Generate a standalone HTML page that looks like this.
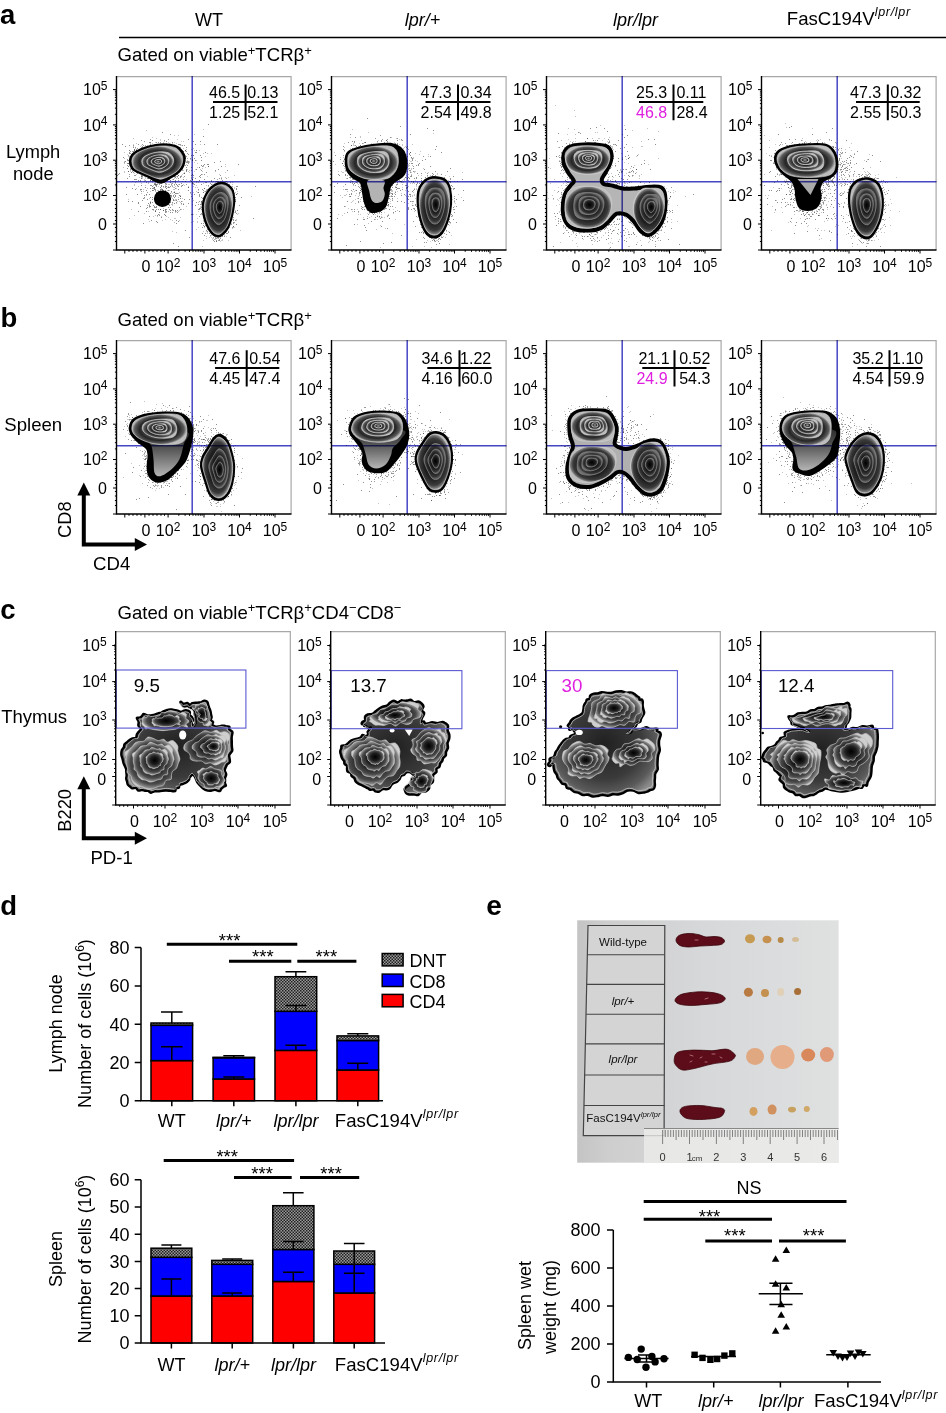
<!DOCTYPE html><html><head><meta charset="utf-8"><style>html,body{margin:0;padding:0;background:#fff;overflow:hidden}svg{display:block}svg text{font-family:"Liberation Sans",sans-serif}</style></head><body>
<svg width="946" height="1413" viewBox="0 0 946 1413" font-family="Liberation Sans, sans-serif">
<defs>
<radialGradient id="zg" cx="50%" cy="50%" r="50%">
<stop offset="0" stop-color="#050505"/><stop offset="0.6" stop-color="#1e1e1e"/><stop offset="0.84" stop-color="#3a3a3a"/><stop offset="0.95" stop-color="#7a7a7a"/><stop offset="1" stop-color="#bdbdbd"/>
</radialGradient>
<radialGradient id="zg2" cx="50%" cy="50%" r="50%">
<stop offset="0" stop-color="#000"/><stop offset="0.6" stop-color="#1a1a1a"/><stop offset="0.85" stop-color="#363636"/><stop offset="1" stop-color="#707070"/>
</radialGradient>
<radialGradient id="zcb" cx="50%" cy="50%" r="55%">
<stop offset="0" stop-color="#202020"/><stop offset="0.6" stop-color="#3a3a3a"/><stop offset="0.85" stop-color="#5a5a5a"/><stop offset="1" stop-color="#8a8a8a"/>
</radialGradient>
<radialGradient id="zl" cx="50%" cy="50%" r="50%">
<stop offset="0" stop-color="#a0a0a0"/><stop offset="0.45" stop-color="#5a5a5a"/><stop offset="0.72" stop-color="#262626"/><stop offset="0.9" stop-color="#5a5a5a"/><stop offset="1" stop-color="#bdbdbd"/>
</radialGradient>
<radialGradient id="zc" cx="50%" cy="50%" r="50%">
<stop offset="0" stop-color="#000"/><stop offset="0.5" stop-color="#1e1e1e"/><stop offset="0.8" stop-color="#4a4a4a"/><stop offset="0.94" stop-color="#8c8c8c"/><stop offset="1" stop-color="#cfcfcf"/>
</radialGradient>
<pattern id="hatch" width="3" height="3" patternUnits="userSpaceOnUse">
<rect width="3" height="3" fill="#9a9a9a"/><rect width="1.5" height="1.5" fill="#202020"/><rect x="1.5" y="1.5" width="1.5" height="1.5" fill="#202020"/>
</pattern>
<linearGradient id="legG" x1="0" y1="0" x2="0" y2="1">
<stop offset="0" stop-color="#2a2a2a"/><stop offset="0.35" stop-color="#505050"/><stop offset="1" stop-color="#b5b5b5"/>
</linearGradient>
<linearGradient id="photobg" x1="0" y1="0" x2="1" y2="0">
<stop offset="0" stop-color="#c4c4c4"/><stop offset="0.12" stop-color="#cecece"/><stop offset="0.5" stop-color="#d7d8da"/><stop offset="1" stop-color="#dfe0e0"/>
</linearGradient>
</defs>
<rect width="946" height="1413" fill="#fff"/>
<text x="0.1" y="23.8" font-size="27.5" font-weight="bold">a</text><text x="209" y="25.5" font-size="18" text-anchor="middle">WT</text><text x="422.5" y="25.5" font-size="18" text-anchor="middle" font-style="italic">lpr/+</text><text x="635.5" y="25.5" font-size="18" text-anchor="middle" font-style="italic">lpr/lpr</text><text x="786.8" y="24.6" font-size="18.6">FasC194V<tspan font-size="12.5" dy="-8.4" font-style="italic" letter-spacing="0.7">lpr/lpr</tspan></text><path d="M119,37.5H946" stroke="#000" stroke-width="1.5"/>
<text x="117.5" y="61.2" font-size="18.6">Gated on viable<tspan font-size="13" y="54.900000000000006">+</tspan><tspan y="61.2">TCRβ</tspan><tspan font-size="13" y="54.900000000000006">+</tspan></text>
<text x="33.2" y="157.6" font-size="18.3" text-anchor="middle">Lymph</text><text x="33.3" y="180.2" font-size="18.3" text-anchor="middle">node</text>
<g transform="translate(116.5,76)"><path d="M0,0.6H174.6V174" stroke="#a8a8a8" stroke-width="1.2" fill="none"/><path d="M37.5 112.5h1M48.5 120.5h1M57.5 116.5h1M51.5 114.5h1M44.5 122.5h1M35.5 133.5h1M48.5 114.5h1M58.5 90.5h1M39.5 125.5h1M41.5 115.5h1M57.5 100.5h1M39.5 131.5h1M44.5 109.5h1M29.5 118.5h1M33.5 121.5h1M39.5 120.5h1M60.5 117.5h1M63.5 120.5h1M52.5 123.5h1M62.5 119.5h1M33.5 126.5h1M42.5 93.5h1M51.5 131.5h1M50.5 128.5h1M74.5 120.5h1M59.5 126.5h1M56.5 123.5h1M48.5 102.5h1M46.5 134.5h1M45.5 105.5h1M43.5 97.5h1M48.5 118.5h1M45.5 128.5h1M53.5 136.5h1M73.5 116.5h1M58.5 117.5h1M83.5 79.5h1M61.5 113.5h1M33.5 130.5h1M38.5 134.5h1M52.5 133.5h1M39.5 130.5h1M64.5 125.5h1M42.5 127.5h1M29.5 132.5h1M52.5 94.5h1M59.5 108.5h1M20.5 118.5h1M74.5 138.5h1M63.5 133.5h1M35.5 110.5h1M62.5 131.5h1M35.5 114.5h1M26.5 147.5h1M57.5 108.5h1M51.5 128.5h1M51.5 111.5h1M34.5 109.5h1M44.5 119.5h1M54.5 119.5h1M59.5 124.5h1M27.5 121.5h1M56.5 124.5h1M40.5 122.5h1M40.5 119.5h1M37.5 107.5h1M40.5 139.5h1M55.5 136.5h1M57.5 100.5h1M43.5 113.5h1M36.5 129.5h1M58.5 135.5h1M53.5 117.5h1M65.5 109.5h1M77.5 118.5h1M46.5 114.5h1M37.5 131.5h1M47.5 98.5h1M47.5 128.5h1M58.5 106.5h1M48.5 122.5h1M53.5 131.5h1M38.5 135.5h1M35.5 121.5h1M21.5 127.5h1M54.5 108.5h1M21.5 126.5h1M43.5 124.5h1M41.5 138.5h1M49.5 135.5h1M31.5 102.5h1M48.5 133.5h1M49.5 117.5h1M61.5 123.5h1M35.5 123.5h1M43.5 111.5h1M25.5 124.5h1M38.5 114.5h1M26.5 122.5h1M45.5 105.5h1M33.5 112.5h1M55.5 133.5h1M29.5 135.5h1M71.5 111.5h1M48.5 139.5h1M30.5 131.5h1M39.5 124.5h1M68.5 105.5h1M33.5 127.5h1M66.5 128.5h1M24.5 115.5h1M47.5 106.5h1M32.5 130.5h1M36.5 112.5h1M62.5 108.5h1M23.5 130.5h1M36.5 133.5h1M45.5 124.5h1M58.5 120.5h1M53.5 119.5h1M37.5 130.5h1M38.5 135.5h1M18.5 113.5h1M60.5 109.5h1M38.5 127.5h1M59.5 144.5h1M29.5 114.5h1M44.5 113.5h1M54.5 115.5h1M50.5 103.5h1M58.5 88.5h1M11.5 125.5h1M24.5 109.5h1M63.5 101.5h1M44.5 110.5h1M27.5 119.5h1M54.5 120.5h1M44.5 141.5h1M44.5 95.5h1M24.5 102.5h1M53.5 106.5h1M40.5 146.5h1M52.5 121.5h1M49.5 112.5h1M49.5 133.5h1M71.5 127.5h1M44.5 130.5h1M47.5 120.5h1M56.5 103.5h1M34.5 144.5h1M57.5 127.5h1M49.5 118.5h1M24.5 113.5h1M64.5 110.5h1M59.5 117.5h1M21.5 135.5h1M42.5 136.5h1M52.5 121.5h1M43.5 125.5h1M64.5 127.5h1M23.5 113.5h1M52.5 102.5h1M49.5 98.5h1M44.5 129.5h1M60.5 134.5h1M43.5 133.5h1M40.5 99.5h1M58.5 112.5h1M37.5 111.5h1M57.5 116.5h1M47.5 138.5h1M48.5 111.5h1M35.5 126.5h1M53.5 110.5h1M67.5 123.5h1M61.5 145.5h1M48.5 135.5h1M32.5 118.5h1M38.5 108.5h1M35.5 104.5h1M48.5 134.5h1M50.5 117.5h1M52.5 129.5h1M15.5 112.5h1M43.5 133.5h1M63.5 120.5h1M37.5 111.5h1M39.5 145.5h1M59.5 147.5h1M58.5 101.5h1M45.5 129.5h1M72.5 123.5h1M57.5 121.5h1M45.5 114.5h1M31.5 127.5h1M33.5 126.5h1M60.5 136.5h1M47.5 126.5h1M42.5 116.5h1M63.5 122.5h1M46.5 134.5h1M30.5 123.5h1M57.5 99.5h1M53.5 126.5h1M41.5 133.5h1M45.5 113.5h1M46.5 110.5h1M38.5 113.5h1M49.5 116.5h1M38.5 131.5h1M39.5 110.5h1M37.5 86.5h1M66.5 89.5h1M44.5 68.5h1M47.5 93.5h1M36.5 114.5h1M8.5 70.5h1M15.5 125.5h1M16.5 96.5h1M43.5 90.5h1M44.5 101.5h1M45.5 72.5h1M45.5 56.5h1M67.5 78.5h1M35.5 87.5h1M76.5 65.5h1M48.5 84.5h1M0.5 99.5h1M24.5 99.5h1M27.5 89.5h1M87.5 98.5h1M33.5 76.5h1M51.5 79.5h1M38.5 91.5h1M24.5 71.5h1M70.5 85.5h1M64.5 90.5h1M25.5 100.5h1M42.5 78.5h1M47.5 70.5h1M2.5 97.5h1M37.5 113.5h1M46.5 84.5h1M28.5 111.5h1M33.5 90.5h1M35.5 112.5h1M49.5 73.5h1M5.5 68.5h1M45.5 89.5h1M101.5 93.5h1M46.5 84.5h1M66.5 103.5h1M64.5 107.5h1M16.5 75.5h1M60.5 80.5h1M100.5 68.5h1M91.5 90.5h1M45.5 106.5h1M52.5 103.5h1M32.5 72.5h1M41.5 96.5h1M33.5 75.5h1M10.5 102.5h1M45.5 97.5h1M52.5 97.5h1M48.5 77.5h1M41.5 94.5h1M33.5 100.5h1M45.5 77.5h1M17.5 103.5h1M64.5 91.5h1M1.5 98.5h1M75.5 84.5h1M16.5 71.5h1M18.5 80.5h1M33.5 109.5h1M35.5 82.5h1M35.5 64.5h1M53.5 100.5h1M87.5 68.5h1M37.5 108.5h1M25.5 89.5h1M12.5 77.5h1M64.5 84.5h1M74.5 94.5h1M42.5 76.5h1M50.5 85.5h1M75.5 103.5h1M32.5 84.5h1M60.5 89.5h1M6.5 81.5h1M19.5 96.5h1M53.5 95.5h1M8.5 85.5h1M58.5 92.5h1M33.5 66.5h1M75.5 83.5h1M21.5 88.5h1M57.5 94.5h1M32.5 66.5h1M55.5 85.5h1M12.5 100.5h1M73.5 82.5h1M56.5 84.5h1M61.5 99.5h1M52.5 111.5h1M54.5 100.5h1M50.5 80.5h1M30.5 90.5h1M66.5 79.5h1M13.5 85.5h1M53.5 93.5h1M27.5 87.5h1M78.5 76.5h1M58.5 86.5h1M37.5 101.5h1M37.5 97.5h1M84.5 89.5h1M16.5 87.5h1M50.5 90.5h1M40.5 73.5h1M32.5 129.5h1M23.5 104.5h1M55.5 66.5h1M22.5 86.5h1M21.5 90.5h1M69.5 93.5h1M62.5 85.5h1M75.5 107.5h1M12.5 74.5h1M85.5 90.5h1M56.5 87.5h1M37.5 84.5h1M86.5 60.5h1M83.5 65.5h1M30.5 91.5h1M33.5 93.5h1M53.5 87.5h1M21.5 68.5h1M56.5 100.5h1M32.5 90.5h1M22.5 82.5h1M55.5 90.5h1M28.5 85.5h1M91.5 90.5h1M75.5 84.5h1M98.5 94.5h1M75.5 122.5h1M63.5 79.5h1M82.5 104.5h1M88.5 76.5h1M90.5 88.5h1M84.5 81.5h1M71.5 114.5h1M79.5 76.5h1M84.5 98.5h1M74.5 79.5h1M81.5 113.5h1M57.5 79.5h1M73.5 104.5h1M87.5 88.5h1M83.5 99.5h1M83.5 128.5h1M78.5 68.5h1M78.5 84.5h1M91.5 48.5h1M63.5 100.5h1M77.5 82.5h1M69.5 95.5h1M71.5 63.5h1M74.5 99.5h1M87.5 103.5h1M67.5 97.5h1M82.5 91.5h1M78.5 102.5h1M69.5 71.5h1M69.5 91.5h1M74.5 91.5h1M76.5 107.5h1M84.5 108.5h1M76.5 99.5h1M83.5 101.5h1M75.5 98.5h1M79.5 74.5h1M75.5 103.5h1M71.5 111.5h1M84.5 84.5h1M68.5 82.5h1M74.5 105.5h1M87.5 112.5h1M77.5 108.5h1M85.5 113.5h1M79.5 93.5h1M109.5 119.5h1M92.5 157.5h1M103.5 85.5h1M100.5 105.5h1M86.5 133.5h1M91.5 119.5h1M101.5 124.5h1M92.5 129.5h1M105.5 114.5h1M107.5 120.5h1M101.5 153.5h1M96.5 144.5h1M116.5 114.5h1M94.5 156.5h1M87.5 136.5h1M106.5 111.5h1M106.5 154.5h1M91.5 135.5h1M102.5 147.5h1M99.5 105.5h1M81.5 116.5h1M104.5 102.5h1M96.5 115.5h1M108.5 109.5h1M106.5 124.5h1M121.5 88.5h1M94.5 104.5h1M97.5 136.5h1M96.5 123.5h1M107.5 115.5h1M110.5 127.5h1M113.5 161.5h1M95.5 154.5h1M92.5 153.5h1M104.5 154.5h1M92.5 147.5h1M91.5 88.5h1M104.5 140.5h1M109.5 138.5h1M96.5 123.5h1M100.5 119.5h1M91.5 143.5h1M97.5 125.5h1M93.5 146.5h1M105.5 129.5h1M108.5 147.5h1M113.5 128.5h1M101.5 122.5h1M98.5 146.5h1M104.5 109.5h1M94.5 110.5h1M75.5 138.5h1M86.5 122.5h1M89.5 117.5h1M86.5 139.5h1M95.5 133.5h1M111.5 150.5h1M105.5 121.5h1M97.5 127.5h1M120.5 134.5h1M91.5 139.5h1M107.5 106.5h1M93.5 143.5h1M108.5 109.5h1M97.5 122.5h1M104.5 138.5h1M106.5 113.5h1M97.5 86.5h1M105.5 120.5h1M84.5 147.5h1M118.5 135.5h1M124.5 121.5h1M82.5 100.5h1M108.5 126.5h1M104.5 134.5h1M104.5 90.5h1M107.5 125.5h1M104.5 141.5h1M32.5 140.5h1M61.5 110.5h1M78.5 129.5h1M119.5 148.5h1M89.5 123.5h1M68.5 154.5h1M56.5 134.5h1M72.5 161.5h1M56.5 119.5h1M75.5 106.5h1M42.5 139.5h1M110.5 94.5h1M61.5 170.5h1M70.5 86.5h1M98.5 142.5h1M84.5 94.5h1M48.5 110.5h1M58.5 134.5h1M51.5 117.5h1M99.5 144.5h1M56.5 167.5h1M136.5 142.5h1M107.5 142.5h1M87.5 150.5h1M53.5 134.5h1M120.5 110.5h1M55.5 126.5h1M89.5 96.5h1M100.5 157.5h1M89.5 119.5h1M9.5 118.5h1M45.5 124.5h1M9.5 111.5h1M87.5 112.5h1M86.5 89.5h1M112.5 136.5h1M113.5 127.5h1M138.5 110.5h1" stroke="#333" stroke-opacity="0.55"/><path d="M35.5 114.5h1M53.5 143.5h1M43.5 114.5h1M42.5 129.5h1M51.5 120.5h1M40.5 107.5h1M43.5 114.5h1M81.5 116.5h1M56.5 113.5h1M43.5 122.5h1M55.5 103.5h1M52.5 114.5h1M39.5 122.5h1M59.5 127.5h1M27.5 137.5h1M48.5 136.5h1M32.5 128.5h1M43.5 93.5h1M30.5 129.5h1M52.5 128.5h1M40.5 103.5h1M54.5 107.5h1M61.5 117.5h1M66.5 108.5h1M58.5 119.5h1M58.5 134.5h1M46.5 100.5h1M30.5 129.5h1M46.5 132.5h1M41.5 114.5h1M66.5 101.5h1M42.5 105.5h1M32.5 122.5h1M56.5 88.5h1M46.5 115.5h1M38.5 139.5h1M66.5 133.5h1M51.5 141.5h1M55.5 144.5h1M24.5 117.5h1M46.5 116.5h1M55.5 110.5h1M51.5 127.5h1M63.5 141.5h1M31.5 107.5h1M58.5 142.5h1M55.5 117.5h1M15.5 105.5h1M58.5 124.5h1M55.5 122.5h1M42.5 126.5h1M42.5 138.5h1M31.5 143.5h1M58.5 136.5h1M48.5 118.5h1M32.5 145.5h1M36.5 134.5h1M51.5 121.5h1M61.5 121.5h1M27.5 100.5h1M45.5 123.5h1M62.5 134.5h1M53.5 104.5h1M47.5 106.5h1M43.5 102.5h1M55.5 110.5h1M55.5 127.5h1M36.5 111.5h1M51.5 135.5h1M17.5 108.5h1M31.5 90.5h1M31.5 135.5h1M34.5 99.5h1M44.5 112.5h1M58.5 107.5h1M52.5 108.5h1M63.5 119.5h1M39.5 108.5h1M40.5 106.5h1M50.5 117.5h1M55.5 105.5h1M51.5 117.5h1M47.5 95.5h1M45.5 122.5h1M33.5 105.5h1M40.5 140.5h1M45.5 118.5h1M48.5 117.5h1M58.5 119.5h1M47.5 122.5h1M65.5 125.5h1M48.5 136.5h1M26.5 113.5h1M59.5 156.5h1M46.5 116.5h1M59.5 108.5h1M11.5 123.5h1M24.5 85.5h1M49.5 140.5h1M27.5 122.5h1M55.5 98.5h1M46.5 99.5h1M49.5 112.5h1M37.5 108.5h1M67.5 109.5h1M64.5 99.5h1M54.5 116.5h1M48.5 133.5h1M44.5 140.5h1M61.5 108.5h1M55.5 101.5h1M52.5 122.5h1M46.5 127.5h1M66.5 127.5h1M26.5 115.5h1M46.5 127.5h1M48.5 121.5h1M48.5 108.5h1M62.5 144.5h1M45.5 116.5h1M55.5 134.5h1M57.5 124.5h1M48.5 109.5h1M64.5 128.5h1M58.5 105.5h1M48.5 143.5h1M38.5 115.5h1M62.5 125.5h1M39.5 133.5h1M57.5 142.5h1M44.5 125.5h1M40.5 123.5h1M57.5 146.5h1M33.5 115.5h1M41.5 116.5h1M43.5 118.5h1M59.5 135.5h1M42.5 128.5h1M24.5 107.5h1M56.5 120.5h1M39.5 116.5h1M54.5 121.5h1M62.5 116.5h1M41.5 123.5h1M17.5 109.5h1M57.5 115.5h1M29.5 118.5h1M69.5 130.5h1M44.5 127.5h1M28.5 98.5h1M57.5 118.5h1M46.5 116.5h1M30.5 116.5h1M56.5 111.5h1M69.5 108.5h1M36.5 109.5h1M49.5 136.5h1M45.5 113.5h1M69.5 108.5h1M47.5 125.5h1M51.5 111.5h1M46.5 125.5h1M38.5 124.5h1M60.5 110.5h1M51.5 110.5h1M30.5 112.5h1M58.5 110.5h1M47.5 128.5h1M50.5 114.5h1M46.5 126.5h1M60.5 125.5h1M55.5 128.5h1M24.5 101.5h1M46.5 115.5h1M58.5 104.5h1M58.5 119.5h1M48.5 139.5h1M64.5 133.5h1M30.5 116.5h1M50.5 100.5h1M38.5 104.5h1M52.5 120.5h1M14.5 133.5h1M28.5 109.5h1M52.5 124.5h1M64.5 109.5h1M33.5 125.5h1M50.5 116.5h1M66.5 128.5h1M52.5 101.5h1M32.5 131.5h1M57.5 113.5h1M82.5 104.5h1M38.5 106.5h1M55.5 109.5h1M60.5 101.5h1M39.5 133.5h1M43.5 123.5h1M73.5 117.5h1M42.5 128.5h1M36.5 140.5h1M54.5 128.5h1M63.5 126.5h1M57.5 109.5h1M40.5 114.5h1M23.5 114.5h1M48.5 115.5h1M44.5 130.5h1M90.5 113.5h1M77.5 58.5h1M22.5 80.5h1M39.5 100.5h1M7.5 85.5h1M59.5 112.5h1M38.5 69.5h1M58.5 90.5h1M42.5 88.5h1M64.5 93.5h1M49.5 67.5h1M26.5 91.5h1M47.5 91.5h1M57.5 59.5h1M23.5 96.5h1M76.5 79.5h1M66.5 97.5h1M59.5 78.5h1M21.5 110.5h1M32.5 98.5h1M7.5 95.5h1M54.5 84.5h1M11.5 90.5h1M80.5 87.5h1M28.5 101.5h1M25.5 87.5h1M33.5 67.5h1M70.5 93.5h1M25.5 75.5h1M38.5 69.5h1M44.5 78.5h1M74.5 73.5h1M34.5 97.5h1M64.5 100.5h1M56.5 80.5h1M82.5 74.5h1M70.5 82.5h1M18.5 106.5h1M30.5 98.5h1M69.5 94.5h1M74.5 102.5h1M37.5 100.5h1M6.5 91.5h1M64.5 100.5h1M67.5 87.5h1M13.5 92.5h1M35.5 100.5h1M72.5 86.5h1M64.5 86.5h1M30.5 88.5h1M50.5 94.5h1M50.5 85.5h1M60.5 86.5h1M41.5 100.5h1M46.5 66.5h1M7.5 87.5h1M77.5 74.5h1M44.5 85.5h1M40.5 93.5h1M90.5 77.5h1M58.5 104.5h1M38.5 93.5h1M48.5 75.5h1M33.5 73.5h1M42.5 96.5h1M32.5 95.5h1M44.5 70.5h1M23.5 105.5h1M55.5 70.5h1M31.5 77.5h1M39.5 62.5h1M19.5 105.5h1M7.5 76.5h1M19.5 67.5h1M39.5 88.5h1M51.5 99.5h1M29.5 119.5h1M30.5 98.5h1M39.5 116.5h1M44.5 90.5h1M66.5 84.5h1M24.5 102.5h1M47.5 79.5h1M59.5 102.5h1M22.5 81.5h1M16.5 91.5h1M16.5 70.5h1M102.5 119.5h1M48.5 91.5h1M63.5 69.5h1M67.5 86.5h1M62.5 78.5h1M46.5 93.5h1M80.5 91.5h1M24.5 79.5h1M50.5 100.5h1M61.5 76.5h1M65.5 80.5h1M41.5 79.5h1M61.5 59.5h1M33.5 84.5h1M17.5 97.5h1M59.5 100.5h1M34.5 84.5h1M59.5 92.5h1M46.5 79.5h1M57.5 89.5h1M49.5 101.5h1M29.5 54.5h1M7.5 96.5h1M34.5 84.5h1M38.5 79.5h1M25.5 80.5h1M27.5 94.5h1M16.5 62.5h1M35.5 105.5h1M65.5 105.5h1M69.5 73.5h1M32.5 83.5h1M38.5 96.5h1M66.5 65.5h1M69.5 103.5h1M81.5 114.5h1M62.5 86.5h1M75.5 106.5h1M86.5 90.5h1M58.5 92.5h1M91.5 110.5h1M76.5 72.5h1M60.5 98.5h1M78.5 111.5h1M92.5 105.5h1M76.5 116.5h1M57.5 97.5h1M68.5 79.5h1M77.5 95.5h1M87.5 126.5h1M65.5 122.5h1M66.5 84.5h1M79.5 105.5h1M76.5 108.5h1M84.5 126.5h1M76.5 124.5h1M79.5 84.5h1M80.5 116.5h1M83.5 93.5h1M74.5 101.5h1M72.5 94.5h1M79.5 109.5h1M82.5 91.5h1M76.5 110.5h1M71.5 95.5h1M72.5 96.5h1M85.5 98.5h1M86.5 107.5h1M81.5 106.5h1M77.5 86.5h1M86.5 53.5h1M88.5 80.5h1M85.5 95.5h1M65.5 109.5h1M88.5 91.5h1M99.5 149.5h1M91.5 129.5h1M98.5 123.5h1M87.5 121.5h1M90.5 152.5h1M116.5 129.5h1M111.5 120.5h1M87.5 150.5h1M108.5 88.5h1M115.5 152.5h1M74.5 118.5h1M99.5 131.5h1M111.5 123.5h1M90.5 100.5h1M96.5 144.5h1M98.5 141.5h1M111.5 143.5h1M97.5 134.5h1M111.5 101.5h1M98.5 140.5h1M86.5 155.5h1M90.5 146.5h1M121.5 137.5h1M108.5 101.5h1M102.5 133.5h1M98.5 143.5h1M100.5 103.5h1M90.5 113.5h1M104.5 148.5h1M99.5 144.5h1M102.5 119.5h1M104.5 101.5h1M76.5 145.5h1M110.5 150.5h1M84.5 133.5h1M90.5 127.5h1M96.5 132.5h1M99.5 110.5h1M84.5 138.5h1M118.5 124.5h1M80.5 146.5h1M92.5 130.5h1M105.5 128.5h1M75.5 128.5h1M79.5 115.5h1M117.5 112.5h1M80.5 111.5h1M75.5 125.5h1M98.5 95.5h1M104.5 108.5h1M96.5 116.5h1M123.5 154.5h1M105.5 127.5h1M113.5 143.5h1M109.5 160.5h1M96.5 123.5h1M80.5 142.5h1M95.5 134.5h1M89.5 109.5h1M102.5 132.5h1M96.5 138.5h1M90.5 157.5h1M87.5 115.5h1M101.5 127.5h1M115.5 106.5h1M104.5 121.5h1M96.5 161.5h1M86.5 116.5h1M111.5 164.5h1M89.5 144.5h1M108.5 96.5h1M89.5 113.5h1M87.5 151.5h1M104.5 156.5h1M109.5 127.5h1M109.5 129.5h1M94.5 77.5h1M78.5 93.5h1M88.5 136.5h1M95.5 140.5h1M85.5 170.5h1M61.5 135.5h1M56.5 124.5h1M89.5 160.5h1M86.5 77.5h1M53.5 99.5h1M74.5 146.5h1M56.5 94.5h1M76.5 101.5h1M108.5 120.5h1M104.5 122.5h1M71.5 110.5h1M86.5 144.5h1M55.5 129.5h1M49.5 107.5h1M56.5 116.5h1M50.5 96.5h1M79.5 153.5h1M81.5 116.5h1M108.5 90.5h1M97.5 160.5h1M55.5 155.5h1M134.5 120.5h1M95.5 139.5h1M45.5 144.5h1M79.5 106.5h1M59.5 123.5h1M102.5 132.5h1M19.5 112.5h1M12.5 142.5h1M83.5 138.5h1M96.5 111.5h1M76.5 138.5h1M102.5 98.5h1M17.5 139.5h1M117.5 99.5h1M50.5 111.5h1M22.5 86.5h1M58.5 123.5h1M83.5 68.5h1M57.5 111.5h1M86.5 164.5h1M90.5 137.5h1M85.5 92.5h1M86.5 132.5h1M56.5 120.5h1M104.5 112.5h1M43.5 111.5h1" stroke="#555" stroke-opacity="0.35"/><path d="M66.5 80.5h1M26.5 73.5h1M14.5 96.5h1M67.5 100.5h1M44.5 107.5h1M17.5 99.5h1M16.5 69.5h1M12.5 76.5h1M27.5 65.5h1M49.5 65.5h1M48.5 107.5h1M61.5 99.5h1M60.5 100.5h1M19.5 75.5h1M25.5 70.5h1M68.5 82.5h1M38.5 107.5h1M19.5 73.5h1M71.5 85.5h1M18.5 71.5h1M41.5 66.5h1M69.5 80.5h1M71.5 86.5h1M11.5 87.5h1M25.5 99.5h1M70.5 89.5h1M71.5 78.5h1M20.5 97.5h1M16.5 76.5h1M76.5 79.5h1M13.5 93.5h1M67.5 81.5h1M67.5 69.5h1M40.5 108.5h1M62.5 71.5h1M17.5 73.5h1M53.5 101.5h1M49.5 108.5h1M67.5 97.5h1M13.5 77.5h1M24.5 72.5h1M14.5 92.5h1M19.5 74.5h1M68.5 89.5h1M62.5 74.5h1M49.5 69.5h1M66.5 79.5h1M53.5 68.5h1M39.5 108.5h1M53.5 58.5h1M51.5 103.5h1M51.5 63.5h1M63.5 71.5h1M42.5 108.5h1M61.5 68.5h1M19.5 103.5h1M17.5 73.5h1M69.5 86.5h1M12.5 98.5h1M66.5 77.5h1M18.5 103.5h1M20.5 72.5h1M68.5 81.5h1M43.5 105.5h1M17.5 74.5h1M17.5 74.5h1M19.5 75.5h1M39.5 66.5h1M53.5 104.5h1M15.5 95.5h1M11.5 90.5h1M24.5 100.5h1M49.5 110.5h1M66.5 75.5h1M70.5 77.5h1M65.5 92.5h1M7.5 86.5h1M19.5 74.5h1M14.5 78.5h1M25.5 71.5h1M30.5 102.5h1M39.5 109.5h1M13.5 75.5h1M62.5 71.5h1M48.5 68.5h1M69.5 75.5h1M10.5 87.5h1M12.5 85.5h1M69.5 94.5h1M11.5 84.5h1M11.5 87.5h1M25.5 68.5h1M33.5 104.5h1M38.5 108.5h1M66.5 75.5h1M11.5 95.5h1M43.5 66.5h1M68.5 74.5h1M47.5 64.5h1M71.5 87.5h1M10.5 89.5h1M26.5 69.5h1M59.5 71.5h1M31.5 102.5h1M10.5 92.5h1M68.5 80.5h1M33.5 68.5h1M38.5 109.5h1M61.5 102.5h1M63.5 68.5h1M65.5 69.5h1M28.5 104.5h1M68.5 74.5h1M33.5 104.5h1M14.5 92.5h1M61.5 104.5h1M11.5 95.5h1M24.5 100.5h1M10.5 84.5h1M12.5 69.5h1M37.5 104.5h1M21.5 104.5h1M67.5 84.5h1M65.5 74.5h1M13.5 88.5h1M33.5 63.5h1M60.5 98.5h1M29.5 100.5h1M19.5 74.5h1M29.5 106.5h1M10.5 83.5h1M58.5 99.5h1M62.5 68.5h1M58.5 100.5h1M24.5 64.5h1M18.5 99.5h1M55.5 107.5h1M25.5 72.5h1" stroke="#333" stroke-opacity="0.5"/><path d="M37.5 68.5h1M38.5 66.5h1M28.5 69.5h1M29.5 70.5h1M65.5 94.5h1M25.5 101.5h1M65.5 94.5h1M69.5 94.5h1M52.5 67.5h1M52.5 68.5h1M69.5 88.5h1M65.5 98.5h1M12.5 74.5h1M53.5 69.5h1M31.5 102.5h1M22.5 101.5h1M35.5 67.5h1M50.5 104.5h1M7.5 82.5h1M48.5 115.5h1M39.5 109.5h1M28.5 100.5h1M19.5 98.5h1M27.5 104.5h1M43.5 64.5h1M57.5 102.5h1M35.5 106.5h1M67.5 84.5h1M37.5 68.5h1M57.5 68.5h1M55.5 67.5h1M43.5 63.5h1M64.5 69.5h1M46.5 111.5h1M68.5 75.5h1M14.5 96.5h1M51.5 108.5h1M16.5 68.5h1M13.5 94.5h1M68.5 79.5h1M30.5 69.5h1M56.5 105.5h1M58.5 104.5h1M24.5 69.5h1M13.5 89.5h1M43.5 67.5h1M49.5 110.5h1M11.5 80.5h1M15.5 94.5h1M66.5 77.5h1M57.5 66.5h1M19.5 74.5h1M60.5 63.5h1M57.5 105.5h1M60.5 100.5h1M23.5 70.5h1M70.5 82.5h1M67.5 85.5h1M64.5 65.5h1M11.5 79.5h1M50.5 104.5h1M19.5 96.5h1M53.5 106.5h1M10.5 92.5h1M66.5 94.5h1M22.5 97.5h1M73.5 83.5h1M15.5 75.5h1M11.5 79.5h1M12.5 80.5h1M47.5 65.5h1M67.5 96.5h1M27.5 105.5h1M31.5 106.5h1M28.5 102.5h1M18.5 72.5h1M51.5 66.5h1M70.5 84.5h1M54.5 109.5h1M19.5 96.5h1M27.5 103.5h1M57.5 101.5h1M65.5 93.5h1M25.5 102.5h1M28.5 69.5h1M49.5 67.5h1M10.5 78.5h1M10.5 87.5h1M72.5 85.5h1M48.5 107.5h1M23.5 72.5h1M69.5 85.5h1M75.5 81.5h1M13.5 95.5h1M35.5 61.5h1M15.5 75.5h1M41.5 110.5h1M66.5 72.5h1M59.5 67.5h1M13.5 87.5h1" stroke="#666" stroke-opacity="0.35"/><path d="M86.5 147.5h1M119.5 112.5h1M86.5 114.5h1M86.5 138.5h1M85.5 138.5h1M90.5 153.5h1M116.5 114.5h1M98.5 161.5h1M116.5 144.5h1M89.5 154.5h1M93.5 117.5h1M86.5 116.5h1M118.5 144.5h1M96.5 164.5h1M93.5 107.5h1M90.5 155.5h1M93.5 159.5h1M103.5 162.5h1M116.5 150.5h1M100.5 160.5h1M101.5 106.5h1M82.5 133.5h1M102.5 163.5h1M118.5 123.5h1M116.5 150.5h1M105.5 159.5h1M94.5 105.5h1M97.5 165.5h1M79.5 126.5h1M100.5 109.5h1M89.5 106.5h1M116.5 146.5h1M82.5 132.5h1M82.5 120.5h1M99.5 162.5h1M109.5 157.5h1M118.5 121.5h1M98.5 160.5h1M84.5 125.5h1M105.5 104.5h1M116.5 147.5h1M101.5 105.5h1M91.5 109.5h1M84.5 127.5h1M113.5 110.5h1M99.5 165.5h1M113.5 106.5h1M122.5 129.5h1M93.5 156.5h1M86.5 149.5h1M88.5 157.5h1M103.5 160.5h1M84.5 125.5h1M86.5 122.5h1M82.5 119.5h1M84.5 121.5h1M119.5 137.5h1M120.5 117.5h1M100.5 106.5h1M102.5 106.5h1M99.5 165.5h1M84.5 126.5h1M107.5 160.5h1M81.5 128.5h1M97.5 102.5h1M110.5 157.5h1M119.5 118.5h1M119.5 110.5h1M86.5 141.5h1M100.5 160.5h1M85.5 157.5h1M112.5 145.5h1M111.5 155.5h1M108.5 156.5h1M102.5 164.5h1M82.5 118.5h1M103.5 160.5h1M115.5 112.5h1M87.5 159.5h1M85.5 122.5h1M112.5 108.5h1M116.5 141.5h1M99.5 164.5h1M94.5 108.5h1M112.5 147.5h1M115.5 139.5h1M117.5 127.5h1M98.5 162.5h1M119.5 113.5h1M99.5 108.5h1M103.5 99.5h1M90.5 148.5h1M83.5 132.5h1M112.5 151.5h1M82.5 125.5h1M88.5 115.5h1M117.5 119.5h1M105.5 160.5h1M117.5 146.5h1M88.5 106.5h1M82.5 140.5h1M89.5 114.5h1M81.5 133.5h1M114.5 148.5h1M84.5 128.5h1M101.5 164.5h1M107.5 107.5h1M118.5 125.5h1M115.5 151.5h1M84.5 137.5h1M111.5 156.5h1M88.5 149.5h1M109.5 105.5h1M85.5 151.5h1M119.5 118.5h1M110.5 153.5h1M101.5 106.5h1M102.5 102.5h1M118.5 125.5h1M116.5 143.5h1M118.5 136.5h1M97.5 160.5h1" stroke="#333" stroke-opacity="0.5"/><path d="M83.5 131.5h1M85.5 124.5h1M117.5 111.5h1M94.5 110.5h1M104.5 103.5h1M87.5 120.5h1M90.5 156.5h1M98.5 105.5h1M95.5 162.5h1M120.5 115.5h1M114.5 147.5h1M100.5 103.5h1M100.5 162.5h1M101.5 162.5h1M97.5 107.5h1M89.5 162.5h1M97.5 163.5h1M110.5 109.5h1M119.5 143.5h1M107.5 158.5h1M93.5 160.5h1M98.5 107.5h1M86.5 145.5h1M94.5 161.5h1M117.5 117.5h1M84.5 131.5h1M118.5 121.5h1M120.5 138.5h1M94.5 111.5h1M86.5 142.5h1M101.5 162.5h1M110.5 106.5h1M81.5 135.5h1M116.5 151.5h1M83.5 138.5h1M105.5 163.5h1M105.5 164.5h1M103.5 161.5h1M119.5 144.5h1M96.5 162.5h1M86.5 116.5h1M84.5 125.5h1M104.5 164.5h1M109.5 102.5h1M81.5 151.5h1M118.5 134.5h1M86.5 121.5h1M113.5 143.5h1M95.5 110.5h1M98.5 106.5h1M84.5 131.5h1M104.5 160.5h1M108.5 155.5h1M111.5 156.5h1M95.5 108.5h1M117.5 151.5h1M87.5 112.5h1M95.5 163.5h1M84.5 133.5h1M98.5 163.5h1M102.5 164.5h1M119.5 113.5h1M91.5 152.5h1M90.5 116.5h1M83.5 130.5h1M96.5 105.5h1M108.5 106.5h1M92.5 161.5h1M80.5 145.5h1M117.5 136.5h1M81.5 126.5h1M89.5 115.5h1M119.5 148.5h1M119.5 112.5h1M79.5 138.5h1M111.5 109.5h1M107.5 159.5h1M115.5 110.5h1M95.5 158.5h1M97.5 163.5h1M96.5 161.5h1M115.5 108.5h1M111.5 151.5h1M118.5 116.5h1M89.5 155.5h1M105.5 105.5h1M103.5 105.5h1M79.5 126.5h1M85.5 131.5h1M108.5 105.5h1M117.5 127.5h1M109.5 102.5h1M94.5 159.5h1M115.5 110.5h1M94.5 108.5h1M115.5 143.5h1M118.5 121.5h1M115.5 140.5h1M91.5 112.5h1M95.5 106.5h1M110.5 109.5h1M103.5 165.5h1" stroke="#666" stroke-opacity="0.35"/><ellipse cx="46" cy="122.7" rx="8.6" ry="8.3" fill="#000"/><path d="M14.3,84.7C14.4,82.5 15.3,80.5 16.9,78.8C18.5,77.1 20.9,75.9 23.8,74.6C26.7,73.3 30.5,71.8 34.4,70.9C38.3,70.0 43.0,69.3 47.1,69.3C51.2,69.3 55.9,69.9 58.7,70.9C61.5,71.9 62.6,73.3 64.0,75.1C65.4,76.9 66.9,79.2 67.2,81.5C67.5,83.8 67.0,86.6 66.1,88.9C65.2,91.2 63.7,93.4 61.9,95.2C60.1,97.0 57.6,98.1 55.5,99.5C53.4,100.9 51.1,102.7 49.2,103.7C47.3,104.8 45.7,105.8 43.9,105.8C42.1,105.8 40.7,104.8 38.6,103.7C36.5,102.7 33.8,100.8 31.2,99.5C28.6,98.2 25.3,97.0 22.8,95.8C20.3,94.6 17.8,93.9 16.4,92.1C15.0,90.2 14.2,86.9 14.3,84.7Z" fill="#888" stroke="#000" stroke-width="4" stroke-linejoin="round"/><defs><path id="z1" d="M14.3,84.7C14.4,82.5 15.3,80.5 16.9,78.8C18.5,77.1 20.9,75.9 23.8,74.6C26.7,73.3 30.5,71.8 34.4,70.9C38.3,70.0 43.0,69.3 47.1,69.3C51.2,69.3 55.9,69.9 58.7,70.9C61.5,71.9 62.6,73.3 64.0,75.1C65.4,76.9 66.9,79.2 67.2,81.5C67.5,83.8 67.0,86.6 66.1,88.9C65.2,91.2 63.7,93.4 61.9,95.2C60.1,97.0 57.6,98.3 55.5,99.5C53.4,100.7 51.1,101.8 49.2,102.5C47.3,103.2 45.7,103.5 43.9,103.5C42.1,103.5 40.7,103.2 38.6,102.5C36.5,101.8 33.8,100.6 31.2,99.5C28.6,98.4 25.3,97.0 22.8,95.8C20.3,94.6 17.8,93.9 16.4,92.1C15.0,90.2 14.2,86.9 14.3,84.7Z" stroke-width="0.7" vector-effect="non-scaling-stroke"/></defs><use href="#z1" fill="url(#zl)" stroke="#cfcfcf" transform="translate(41.8,85.5) scale(0.96) translate(-41.8,-85.5)"/><use href="#z1" fill="url(#zl)" stroke="#cfcfcf" transform="translate(41.8,85.5) scale(0.6) translate(-41.8,-85.5)"/><use href="#z1" fill="url(#zl)" stroke="#cfcfcf" transform="translate(41.8,85.5) scale(0.42) translate(-41.8,-85.5)"/><use href="#z1" fill="url(#zl)" stroke="#cfcfcf" transform="translate(41.8,85.5) scale(0.26) translate(-41.8,-85.5)"/><use href="#z1" fill="url(#zl)" stroke="#cfcfcf" transform="translate(41.8,85.5) scale(0.13) translate(-41.8,-85.5)"/><path d="M104.2,107.8C106.2,107.7 108.7,108.2 110.5,109.4C112.3,110.6 114.2,112.2 115.3,114.7C116.3,117.2 116.7,121.0 116.8,124.2C116.9,127.4 116.3,130.5 115.8,133.7C115.3,136.9 114.6,140.2 113.7,143.2C112.8,146.2 111.9,149.2 110.5,151.7C109.1,154.2 106.8,156.7 105.2,158.0C103.6,159.3 102.5,159.8 101.0,159.6C99.5,159.4 97.8,158.7 96.2,157.0C94.6,155.3 92.8,152.3 91.5,149.5C90.2,146.7 89.0,143.2 88.3,140.0C87.6,136.8 87.1,133.5 87.2,130.5C87.3,127.5 87.8,124.7 88.8,122.1C89.8,119.5 91.4,116.7 93.0,114.7C94.6,112.7 96.4,111.2 98.3,110.0C100.2,108.8 102.2,107.9 104.2,107.8Z" fill="#888" stroke="#000" stroke-width="4" stroke-linejoin="round"/><defs><path id="z2" d="M104.2,107.8C106.2,107.7 108.7,108.2 110.5,109.4C112.3,110.6 114.2,112.2 115.3,114.7C116.3,117.2 116.7,121.0 116.8,124.2C116.9,127.4 116.3,130.5 115.8,133.7C115.3,136.9 114.6,140.2 113.7,143.2C112.8,146.2 111.9,149.2 110.5,151.7C109.1,154.2 106.8,156.7 105.2,158.0C103.6,159.3 102.5,159.8 101.0,159.6C99.5,159.4 97.8,158.7 96.2,157.0C94.6,155.3 92.8,152.3 91.5,149.5C90.2,146.7 89.0,143.2 88.3,140.0C87.6,136.8 87.1,133.5 87.2,130.5C87.3,127.5 87.8,124.7 88.8,122.1C89.8,119.5 91.4,116.7 93.0,114.7C94.6,112.7 96.4,111.2 98.3,110.0C100.2,108.8 102.2,107.9 104.2,107.8Z" stroke-width="0.7" vector-effect="non-scaling-stroke"/></defs><use href="#z2" fill="url(#zg)" stroke="#d0d0d0" transform="translate(103.6,130.5) scale(0.96) translate(-103.6,-130.5)"/><use href="#z2" fill="url(#zg2)" stroke="#8a8a8a" transform="translate(103.6,130.5) scale(0.62) translate(-103.6,-130.5)"/><use href="#z2" fill="url(#zg2)" stroke="#8a8a8a" transform="translate(103.6,130.5) scale(0.42) translate(-103.6,-130.5)"/><use href="#z2" fill="url(#zg2)" stroke="#8a8a8a" transform="translate(103.6,130.5) scale(0.24) translate(-103.6,-130.5)"/><path d="M75.7,0V174M0,105.7H175" stroke="#4646c4" stroke-width="1.5" fill="none" style="mix-blend-mode:multiply"/><path d="M0,0V174H175" stroke="#000" stroke-width="1.4" fill="none"/><path d="M-3.5,13.6H0M-3.5,48.9H0M-3.5,84.2H0M-3.5,119.5H0M-3.5,148.0H0M-1.6,38.3H0M-1.6,32.1H0M-1.6,27.6H0M-1.6,24.2H0M-1.6,21.4H0M-1.6,19.1H0M-1.6,17.0H0M-1.6,15.2H0M-1.6,73.6H0M-1.6,67.4H0M-1.6,62.9H0M-1.6,59.5H0M-1.6,56.7H0M-1.6,54.4H0M-1.6,52.3H0M-1.6,50.5H0M-1.6,108.9H0M-1.6,102.7H0M-1.6,98.2H0M-1.6,94.8H0M-1.6,92.0H0M-1.6,89.7H0M-1.6,87.6H0M-1.6,85.8H0M-1.6,124.0H0M-1.6,128.5H0M-1.6,132.5H0M-1.6,136.5H0M-1.6,140.5H0M-1.6,144.5H0M-1.6,151.5H0M-1.6,156.0H0M-1.6,160.5H0M-1.6,165.5H0M-3.5,174H0M51.6,174V177.5M87.5,174V177.5M123.0,174V177.5M158.5,174V177.5M28.4,174V177.5M8.3,174V177.5M62.3,174V175.8M68.6,174V175.8M73.0,174V175.8M76.5,174V175.8M79.3,174V175.8M81.7,174V175.8M83.8,174V175.8M85.6,174V175.8M98.2,174V175.8M104.5,174V175.8M108.9,174V175.8M112.4,174V175.8M115.2,174V175.8M117.6,174V175.8M119.7,174V175.8M121.5,174V175.8M133.7,174V175.8M140.0,174V175.8M144.4,174V175.8M147.9,174V175.8M150.7,174V175.8M153.1,174V175.8M155.2,174V175.8M157.0,174V175.8M12.5,174V175.8M16.5,174V175.8M20.5,174V175.8M24.5,174V175.8M32.5,174V175.8M36.5,174V175.8M40.5,174V175.8M44.5,174V175.8M48.0,174V175.8" stroke="#000" stroke-width="1" fill="none"/><text x="-9" y="19.2" font-size="16" text-anchor="end">10<tspan font-size="12" dy="-5.2">5</tspan></text><text x="-9" y="54.5" font-size="16" text-anchor="end">10<tspan font-size="12" dy="-5.2">4</tspan></text><text x="-9" y="89.8" font-size="16" text-anchor="end">10<tspan font-size="12" dy="-5.2">3</tspan></text><text x="-9" y="125.1" font-size="16" text-anchor="end">10<tspan font-size="12" dy="-5.2">2</tspan></text><text x="-9.5" y="153.6" font-size="16" text-anchor="end">0</text><text x="51.6" y="196.3" font-size="16" text-anchor="middle">10<tspan font-size="12" dy="-5.2">2</tspan></text><text x="87.5" y="196.3" font-size="16" text-anchor="middle">10<tspan font-size="12" dy="-5.2">3</tspan></text><text x="123.0" y="196.3" font-size="16" text-anchor="middle">10<tspan font-size="12" dy="-5.2">4</tspan></text><text x="158.5" y="196.3" font-size="16" text-anchor="middle">10<tspan font-size="12" dy="-5.2">5</tspan></text><text x="29.4" y="196.3" font-size="16" text-anchor="middle">0</text><path d="M96.5,25.9H161M129.1,8.4V44.3" stroke="#000" stroke-width="2" fill="none"/><text x="123.7" y="21.6" font-size="16" text-anchor="end">46.5</text><text x="130.8" y="21.6" font-size="16">0.13</text><text x="123.7" y="41.8" font-size="16" text-anchor="end">1.25</text><text x="130.8" y="41.8" font-size="16">52.1</text></g>
<g transform="translate(331.5,76)"><path d="M0,0.6H174.6V174" stroke="#a8a8a8" stroke-width="1.2" fill="none"/><path d="M42.5 114.5h1M27.5 104.5h1M60.5 122.5h1M44.5 130.5h1M17.5 118.5h1M31.5 107.5h1M36.5 108.5h1M15.5 136.5h1M70.5 113.5h1M49.5 150.5h1M56.5 118.5h1M21.5 102.5h1M40.5 113.5h1M49.5 136.5h1M49.5 141.5h1M35.5 115.5h1M34.5 130.5h1M58.5 130.5h1M28.5 112.5h1M47.5 113.5h1M65.5 106.5h1M27.5 111.5h1M80.5 129.5h1M29.5 113.5h1M39.5 115.5h1M33.5 151.5h1M53.5 121.5h1M49.5 123.5h1M32.5 117.5h1M32.5 103.5h1M28.5 86.5h1M14.5 169.5h1M66.5 103.5h1M12.5 130.5h1M40.5 122.5h1M35.5 112.5h1M59.5 109.5h1M68.5 105.5h1M28.5 114.5h1M31.5 87.5h1M49.5 133.5h1M57.5 118.5h1M72.5 126.5h1M35.5 102.5h1M41.5 117.5h1M41.5 128.5h1M36.5 111.5h1M41.5 122.5h1M38.5 111.5h1M20.5 105.5h1M49.5 91.5h1M63.5 111.5h1M51.5 88.5h1M36.5 125.5h1M14.5 113.5h1M69.5 125.5h1M43.5 112.5h1M42.5 113.5h1M26.5 89.5h1M46.5 118.5h1M27.5 116.5h1M59.5 95.5h1M18.5 120.5h1M59.5 117.5h1M46.5 103.5h1M38.5 136.5h1M26.5 122.5h1M13.5 98.5h1M41.5 117.5h1M43.5 141.5h1M26.5 135.5h1M26.5 125.5h1M31.5 118.5h1M51.5 113.5h1M47.5 115.5h1M38.5 109.5h1M76.5 101.5h1M36.5 112.5h1M19.5 118.5h1M77.5 118.5h1M76.5 133.5h1M41.5 108.5h1M31.5 125.5h1M19.5 133.5h1M30.5 133.5h1M39.5 109.5h1M50.5 123.5h1M21.5 101.5h1M18.5 106.5h1M49.5 116.5h1M76.5 132.5h1M19.5 117.5h1M35.5 142.5h1M52.5 121.5h1M55.5 140.5h1M61.5 106.5h1M78.5 118.5h1M54.5 112.5h1M64.5 111.5h1M57.5 133.5h1M45.5 101.5h1M68.5 105.5h1M52.5 124.5h1M19.5 114.5h1M29.5 121.5h1M39.5 93.5h1M41.5 110.5h1M39.5 145.5h1M13.5 85.5h1M26.5 126.5h1M45.5 116.5h1M32.5 143.5h1M45.5 140.5h1M38.5 128.5h1M38.5 107.5h1M73.5 109.5h1M44.5 109.5h1M40.5 133.5h1M30.5 131.5h1M23.5 99.5h1M13.5 113.5h1M60.5 130.5h1M39.5 100.5h1M41.5 106.5h1M63.5 116.5h1M45.5 106.5h1M33.5 126.5h1M53.5 124.5h1M23.5 101.5h1M44.5 118.5h1M44.5 129.5h1M36.5 102.5h1M45.5 130.5h1M47.5 105.5h1M67.5 100.5h1M2.5 110.5h1M34.5 111.5h1M35.5 101.5h1M48.5 130.5h1M56.5 139.5h1M55.5 129.5h1M31.5 143.5h1M57.5 142.5h1M38.5 125.5h1M15.5 125.5h1M37.5 114.5h1M51.5 102.5h1M22.5 135.5h1M24.5 114.5h1M69.5 119.5h1M30.5 112.5h1M27.5 117.5h1M22.5 133.5h1M48.5 142.5h1M25.5 143.5h1M37.5 111.5h1M51.5 104.5h1M41.5 128.5h1M43.5 94.5h1M32.5 133.5h1M54.5 121.5h1M36.5 115.5h1M57.5 110.5h1M33.5 113.5h1M22.5 148.5h1M21.5 113.5h1M32.5 149.5h1M13.5 108.5h1M34.5 118.5h1M41.5 118.5h1M31.5 122.5h1M41.5 104.5h1M69.5 63.5h1M15.5 83.5h1M61.5 79.5h1M11.5 73.5h1M36.5 83.5h1M17.5 91.5h1M45.5 98.5h1M6.5 98.5h1M79.5 100.5h1M62.5 86.5h1M54.5 73.5h1M38.5 84.5h1M61.5 79.5h1M104.5 70.5h1M27.5 99.5h1M101.5 54.5h1M68.5 80.5h1M49.5 94.5h1M22.5 65.5h1M102.5 107.5h1M15.5 83.5h1M28.5 79.5h1M47.5 80.5h1M45.5 75.5h1M50.5 86.5h1M61.5 103.5h1M48.5 76.5h1M50.5 104.5h1M50.5 93.5h1M18.5 86.5h1M41.5 111.5h1M49.5 76.5h1M41.5 90.5h1M23.5 74.5h1M53.5 95.5h1M67.5 91.5h1M57.5 122.5h1M59.5 97.5h1M35.5 89.5h1M39.5 83.5h1M39.5 82.5h1M64.5 76.5h1M49.5 99.5h1M30.5 83.5h1M50.5 101.5h1M23.5 61.5h1M31.5 95.5h1M52.5 96.5h1M78.5 76.5h1M48.5 84.5h1M67.5 91.5h1M64.5 88.5h1M54.5 94.5h1M38.5 72.5h1M55.5 79.5h1M35.5 94.5h1M68.5 50.5h1M18.5 58.5h1M65.5 94.5h1M66.5 91.5h1M25.5 86.5h1M22.5 95.5h1M35.5 77.5h1M30.5 98.5h1M42.5 83.5h1M38.5 90.5h1M23.5 88.5h1M26.5 76.5h1M5.5 107.5h1M63.5 99.5h1M2.5 116.5h1M30.5 92.5h1M62.5 102.5h1M23.5 81.5h1M44.5 69.5h1M44.5 98.5h1M32.5 85.5h1M49.5 83.5h1M1.5 85.5h1M65.5 64.5h1M18.5 101.5h1M103.5 73.5h1M49.5 89.5h1M35.5 42.5h1M21.5 87.5h1M58.5 61.5h1M3.5 79.5h1M44.5 102.5h1M65.5 101.5h1M48.5 102.5h1M44.5 91.5h1M60.5 78.5h1M58.5 113.5h1M7.5 99.5h1M95.5 52.5h1M63.5 67.5h1M58.5 87.5h1M33.5 102.5h1M59.5 120.5h1M54.5 64.5h1M13.5 99.5h1M47.5 100.5h1M20.5 65.5h1M29.5 76.5h1M61.5 79.5h1M24.5 106.5h1M49.5 92.5h1M29.5 98.5h1M20.5 86.5h1M58.5 114.5h1M64.5 82.5h1M64.5 102.5h1M13.5 85.5h1M63.5 68.5h1M75.5 87.5h1M85.5 97.5h1M95.5 99.5h1M78.5 58.5h1M80.5 125.5h1M62.5 94.5h1M78.5 120.5h1M65.5 92.5h1M81.5 92.5h1M82.5 102.5h1M91.5 80.5h1M66.5 80.5h1M90.5 84.5h1M75.5 87.5h1M75.5 102.5h1M92.5 93.5h1M79.5 87.5h1M65.5 112.5h1M72.5 118.5h1M60.5 109.5h1M79.5 81.5h1M89.5 106.5h1M59.5 113.5h1M75.5 80.5h1M80.5 115.5h1M87.5 107.5h1M78.5 79.5h1M98.5 80.5h1M73.5 88.5h1M89.5 106.5h1M82.5 113.5h1M68.5 114.5h1M78.5 76.5h1M98.5 90.5h1M92.5 116.5h1M76.5 123.5h1M77.5 102.5h1M69.5 105.5h1M89.5 97.5h1M84.5 101.5h1M89.5 104.5h1M61.5 100.5h1M75.5 122.5h1M74.5 111.5h1M74.5 112.5h1M96.5 108.5h1M69.5 97.5h1M81.5 106.5h1M76.5 115.5h1M80.5 84.5h1M60.5 120.5h1M61.5 80.5h1M73.5 92.5h1M71.5 88.5h1M84.5 102.5h1M78.5 125.5h1M86.5 89.5h1M84.5 89.5h1M94.5 108.5h1M80.5 82.5h1M100.5 97.5h1M91.5 143.5h1M92.5 106.5h1M75.5 111.5h1M117.5 156.5h1M113.5 132.5h1M87.5 87.5h1M116.5 148.5h1M93.5 121.5h1M67.5 135.5h1M97.5 114.5h1M98.5 102.5h1M121.5 143.5h1M87.5 134.5h1M100.5 119.5h1M86.5 117.5h1M99.5 112.5h1M115.5 131.5h1M98.5 143.5h1M90.5 130.5h1M101.5 113.5h1M101.5 150.5h1M90.5 121.5h1M112.5 143.5h1M116.5 139.5h1M106.5 150.5h1M88.5 139.5h1M94.5 124.5h1M118.5 92.5h1M103.5 127.5h1M122.5 122.5h1M94.5 144.5h1M103.5 138.5h1M79.5 133.5h1M101.5 157.5h1M103.5 141.5h1M104.5 104.5h1M101.5 113.5h1M69.5 159.5h1M114.5 130.5h1M124.5 146.5h1M89.5 134.5h1M107.5 134.5h1M110.5 133.5h1M105.5 125.5h1M113.5 117.5h1M92.5 151.5h1M109.5 76.5h1M81.5 105.5h1M97.5 132.5h1M109.5 157.5h1M83.5 128.5h1M101.5 131.5h1M115.5 95.5h1M65.5 125.5h1M109.5 156.5h1M91.5 149.5h1M113.5 117.5h1M114.5 128.5h1M85.5 115.5h1M112.5 141.5h1M80.5 87.5h1M86.5 129.5h1M108.5 108.5h1M93.5 83.5h1M84.5 108.5h1M113.5 146.5h1M131.5 124.5h1M114.5 126.5h1M47.5 131.5h1M63.5 98.5h1M49.5 68.5h1M130.5 103.5h1M79.5 105.5h1M43.5 125.5h1M98.5 104.5h1M74.5 109.5h1M57.5 120.5h1M83.5 134.5h1M50.5 145.5h1M5.5 142.5h1M109.5 129.5h1M76.5 120.5h1M49.5 95.5h1M63.5 135.5h1M131.5 114.5h1M61.5 136.5h1M34.5 109.5h1M117.5 143.5h1M105.5 141.5h1M100.5 142.5h1M92.5 146.5h1M97.5 105.5h1M28.5 165.5h1M86.5 88.5h1M55.5 152.5h1M59.5 166.5h1M124.5 123.5h1M53.5 90.5h1M51.5 167.5h1M34.5 154.5h1M60.5 117.5h1M107.5 167.5h1M65.5 62.5h1M44.5 116.5h1" stroke="#333" stroke-opacity="0.55"/><path d="M20.5 125.5h1M21.5 124.5h1M48.5 135.5h1M65.5 134.5h1M84.5 130.5h1M23.5 123.5h1M93.5 119.5h1M39.5 125.5h1M52.5 127.5h1M45.5 123.5h1M43.5 131.5h1M44.5 109.5h1M44.5 134.5h1M35.5 115.5h1M43.5 131.5h1M58.5 116.5h1M50.5 141.5h1M53.5 152.5h1M37.5 110.5h1M11.5 110.5h1M75.5 95.5h1M43.5 121.5h1M28.5 108.5h1M15.5 113.5h1M38.5 98.5h1M53.5 113.5h1M48.5 93.5h1M29.5 110.5h1M35.5 116.5h1M73.5 119.5h1M20.5 135.5h1M40.5 117.5h1M29.5 121.5h1M18.5 120.5h1M51.5 112.5h1M45.5 134.5h1M10.5 121.5h1M44.5 134.5h1M26.5 120.5h1M37.5 121.5h1M28.5 109.5h1M24.5 99.5h1M26.5 138.5h1M19.5 126.5h1M25.5 133.5h1M34.5 112.5h1M50.5 102.5h1M48.5 149.5h1M60.5 118.5h1M25.5 148.5h1M14.5 118.5h1M27.5 118.5h1M27.5 107.5h1M65.5 90.5h1M30.5 116.5h1M38.5 115.5h1M6.5 138.5h1M13.5 130.5h1M39.5 113.5h1M40.5 129.5h1M25.5 105.5h1M53.5 105.5h1M43.5 143.5h1M50.5 115.5h1M48.5 107.5h1M51.5 130.5h1M51.5 121.5h1M13.5 119.5h1M43.5 122.5h1M44.5 129.5h1M23.5 119.5h1M65.5 122.5h1M47.5 134.5h1M37.5 120.5h1M48.5 99.5h1M29.5 110.5h1M44.5 110.5h1M39.5 96.5h1M12.5 137.5h1M31.5 98.5h1M26.5 136.5h1M44.5 153.5h1M28.5 138.5h1M24.5 117.5h1M24.5 103.5h1M43.5 120.5h1M50.5 126.5h1M22.5 115.5h1M49.5 134.5h1M35.5 140.5h1M52.5 118.5h1M69.5 117.5h1M42.5 124.5h1M52.5 131.5h1M28.5 123.5h1M16.5 132.5h1M80.5 119.5h1M41.5 127.5h1M37.5 141.5h1M21.5 109.5h1M44.5 130.5h1M35.5 115.5h1M46.5 123.5h1M61.5 137.5h1M15.5 113.5h1M23.5 114.5h1M31.5 141.5h1M35.5 102.5h1M10.5 139.5h1M47.5 137.5h1M11.5 113.5h1M52.5 141.5h1M39.5 123.5h1M20.5 115.5h1M63.5 131.5h1M45.5 143.5h1M15.5 115.5h1M54.5 113.5h1M24.5 96.5h1M57.5 95.5h1M28.5 107.5h1M56.5 138.5h1M28.5 125.5h1M56.5 126.5h1M41.5 108.5h1M41.5 124.5h1M45.5 107.5h1M27.5 119.5h1M25.5 122.5h1M53.5 108.5h1M53.5 120.5h1M53.5 96.5h1M51.5 125.5h1M60.5 115.5h1M46.5 117.5h1M45.5 137.5h1M59.5 114.5h1M45.5 125.5h1M35.5 123.5h1M23.5 127.5h1M20.5 133.5h1M46.5 100.5h1M12.5 119.5h1M33.5 115.5h1M31.5 120.5h1M59.5 119.5h1M45.5 112.5h1M41.5 138.5h1M32.5 122.5h1M63.5 143.5h1M82.5 96.5h1M33.5 116.5h1M60.5 157.5h1M33.5 110.5h1M39.5 106.5h1M31.5 116.5h1M40.5 83.5h1M81.5 114.5h1M20.5 89.5h1M29.5 64.5h1M16.5 93.5h1M36.5 56.5h1M79.5 93.5h1M45.5 91.5h1M79.5 82.5h1M43.5 68.5h1M40.5 90.5h1M49.5 97.5h1M57.5 80.5h1M33.5 79.5h1M55.5 88.5h1M24.5 114.5h1M41.5 79.5h1M47.5 98.5h1M18.5 61.5h1M47.5 98.5h1M34.5 76.5h1M29.5 83.5h1M44.5 72.5h1M29.5 86.5h1M30.5 76.5h1M50.5 69.5h1M65.5 68.5h1M58.5 83.5h1M6.5 95.5h1M76.5 90.5h1M70.5 76.5h1M35.5 83.5h1M28.5 61.5h1M3.5 88.5h1M60.5 98.5h1M61.5 89.5h1M85.5 85.5h1M46.5 97.5h1M45.5 102.5h1M30.5 96.5h1M28.5 60.5h1M57.5 75.5h1M37.5 90.5h1M35.5 92.5h1M18.5 104.5h1M37.5 90.5h1M25.5 107.5h1M57.5 88.5h1M32.5 84.5h1M41.5 108.5h1M77.5 89.5h1M31.5 67.5h1M56.5 78.5h1M12.5 75.5h1M70.5 92.5h1M66.5 88.5h1M27.5 82.5h1M55.5 101.5h1M66.5 82.5h1M83.5 77.5h1M37.5 112.5h1M50.5 95.5h1M44.5 87.5h1M26.5 72.5h1M2.5 76.5h1M33.5 97.5h1M29.5 106.5h1M20.5 53.5h1M54.5 89.5h1M64.5 96.5h1M30.5 87.5h1M40.5 76.5h1M34.5 97.5h1M69.5 64.5h1M11.5 96.5h1M46.5 88.5h1M34.5 73.5h1M52.5 86.5h1M41.5 89.5h1M18.5 98.5h1M68.5 84.5h1M49.5 92.5h1M42.5 88.5h1M55.5 101.5h1M72.5 92.5h1M30.5 78.5h1M64.5 92.5h1M59.5 61.5h1M55.5 85.5h1M48.5 84.5h1M43.5 68.5h1M44.5 79.5h1M49.5 100.5h1M52.5 96.5h1M34.5 78.5h1M80.5 68.5h1M82.5 119.5h1M78.5 100.5h1M69.5 106.5h1M83.5 95.5h1M73.5 101.5h1M67.5 73.5h1M83.5 84.5h1M97.5 111.5h1M81.5 125.5h1M81.5 82.5h1M84.5 113.5h1M86.5 99.5h1M76.5 110.5h1M78.5 119.5h1M82.5 107.5h1M90.5 143.5h1M76.5 104.5h1M70.5 104.5h1M74.5 95.5h1M76.5 127.5h1M76.5 104.5h1M88.5 75.5h1M76.5 98.5h1M72.5 103.5h1M61.5 77.5h1M89.5 99.5h1M72.5 82.5h1M76.5 92.5h1M86.5 118.5h1M80.5 89.5h1M78.5 100.5h1M73.5 114.5h1M75.5 100.5h1M83.5 104.5h1M82.5 95.5h1M93.5 131.5h1M70.5 111.5h1M89.5 121.5h1M79.5 92.5h1M93.5 96.5h1M80.5 107.5h1M75.5 114.5h1M96.5 78.5h1M69.5 100.5h1M78.5 95.5h1M87.5 78.5h1M72.5 87.5h1M79.5 98.5h1M79.5 85.5h1M103.5 107.5h1M108.5 140.5h1M105.5 132.5h1M108.5 140.5h1M87.5 141.5h1M96.5 110.5h1M106.5 144.5h1M88.5 126.5h1M106.5 112.5h1M97.5 107.5h1M70.5 108.5h1M102.5 124.5h1M117.5 168.5h1M102.5 119.5h1M102.5 141.5h1M95.5 122.5h1M78.5 107.5h1M96.5 110.5h1M98.5 112.5h1M98.5 152.5h1M113.5 161.5h1M88.5 112.5h1M83.5 122.5h1M110.5 121.5h1M96.5 80.5h1M106.5 125.5h1M97.5 122.5h1M110.5 127.5h1M115.5 133.5h1M91.5 92.5h1M95.5 127.5h1M92.5 128.5h1M85.5 130.5h1M90.5 155.5h1M129.5 121.5h1M84.5 130.5h1M87.5 110.5h1M112.5 141.5h1M106.5 130.5h1M109.5 101.5h1M82.5 112.5h1M105.5 128.5h1M101.5 113.5h1M89.5 125.5h1M92.5 132.5h1M91.5 126.5h1M91.5 156.5h1M84.5 163.5h1M95.5 135.5h1M102.5 110.5h1M93.5 139.5h1M99.5 105.5h1M107.5 167.5h1M110.5 120.5h1M112.5 153.5h1M102.5 138.5h1M114.5 106.5h1M111.5 145.5h1M81.5 114.5h1M109.5 136.5h1M103.5 127.5h1M108.5 130.5h1M109.5 132.5h1M91.5 145.5h1M95.5 145.5h1M89.5 118.5h1M90.5 132.5h1M94.5 122.5h1M99.5 137.5h1M95.5 131.5h1M102.5 165.5h1M99.5 171.5h1M86.5 139.5h1M103.5 141.5h1M101.5 57.5h1M55.5 84.5h1M80.5 127.5h1M48.5 171.5h1M130.5 96.5h1M92.5 170.5h1M74.5 120.5h1M81.5 81.5h1M14.5 102.5h1M91.5 132.5h1M80.5 170.5h1M72.5 148.5h1M112.5 118.5h1M8.5 119.5h1M36.5 147.5h1M37.5 116.5h1M92.5 118.5h1M54.5 123.5h1M71.5 106.5h1M95.5 140.5h1M50.5 96.5h1M94.5 104.5h1M45.5 139.5h1M49.5 138.5h1M64.5 62.5h1M60.5 104.5h1M94.5 129.5h1M109.5 144.5h1M90.5 106.5h1M64.5 84.5h1M56.5 120.5h1M42.5 117.5h1M95.5 164.5h1M63.5 110.5h1" stroke="#555" stroke-opacity="0.35"/><path d="M11.5 89.5h1M75.5 72.5h1M33.5 125.5h1M29.5 113.5h1M20.5 72.5h1M24.5 70.5h1M65.5 67.5h1M10.5 87.5h1M27.5 71.5h1M40.5 70.5h1M54.5 123.5h1M17.5 120.5h1M15.5 102.5h1M11.5 79.5h1M21.5 103.5h1M66.5 112.5h1M77.5 78.5h1M55.5 65.5h1M47.5 140.5h1M12.5 90.5h1M54.5 64.5h1M50.5 63.5h1M28.5 105.5h1M41.5 138.5h1M78.5 96.5h1M36.5 138.5h1M20.5 99.5h1M53.5 132.5h1M40.5 137.5h1M52.5 66.5h1M29.5 115.5h1M29.5 113.5h1M16.5 66.5h1M23.5 109.5h1M30.5 114.5h1M61.5 107.5h1M42.5 136.5h1M29.5 132.5h1M23.5 69.5h1M60.5 111.5h1M47.5 140.5h1M17.5 98.5h1M29.5 130.5h1M74.5 71.5h1M42.5 143.5h1M13.5 94.5h1M55.5 63.5h1M22.5 66.5h1M31.5 121.5h1M49.5 64.5h1M27.5 70.5h1M31.5 123.5h1M45.5 65.5h1M35.5 134.5h1M56.5 129.5h1M78.5 94.5h1M13.5 80.5h1M33.5 125.5h1M17.5 101.5h1M60.5 118.5h1M77.5 94.5h1M81.5 95.5h1M12.5 83.5h1M56.5 122.5h1M37.5 134.5h1M77.5 92.5h1M65.5 108.5h1M61.5 68.5h1M42.5 137.5h1M49.5 65.5h1M14.5 91.5h1M48.5 59.5h1M73.5 101.5h1M28.5 116.5h1M31.5 122.5h1M43.5 62.5h1M26.5 110.5h1M64.5 108.5h1M67.5 104.5h1M47.5 136.5h1M56.5 128.5h1M21.5 108.5h1M56.5 126.5h1M54.5 132.5h1M33.5 130.5h1M14.5 77.5h1M28.5 69.5h1M57.5 117.5h1M64.5 113.5h1M63.5 106.5h1M65.5 68.5h1M10.5 87.5h1M56.5 128.5h1M8.5 83.5h1M30.5 67.5h1M72.5 77.5h1M28.5 110.5h1M19.5 69.5h1M14.5 84.5h1M64.5 111.5h1M54.5 68.5h1M13.5 82.5h1M32.5 66.5h1M15.5 79.5h1M19.5 69.5h1M48.5 135.5h1M79.5 99.5h1M20.5 107.5h1M18.5 99.5h1M17.5 95.5h1M80.5 83.5h1M56.5 128.5h1M34.5 125.5h1M67.5 112.5h1M28.5 114.5h1M33.5 66.5h1M22.5 107.5h1M81.5 90.5h1M37.5 136.5h1M33.5 66.5h1M44.5 136.5h1M32.5 130.5h1M63.5 118.5h1M77.5 77.5h1M12.5 74.5h1M11.5 85.5h1M28.5 69.5h1M11.5 70.5h1M75.5 70.5h1M62.5 120.5h1M12.5 83.5h1M60.5 124.5h1M52.5 133.5h1M70.5 64.5h1" stroke="#333" stroke-opacity="0.5"/><path d="M72.5 102.5h1M74.5 99.5h1M26.5 105.5h1M58.5 125.5h1M46.5 64.5h1M55.5 139.5h1M53.5 132.5h1M45.5 140.5h1M31.5 118.5h1M35.5 137.5h1M76.5 93.5h1M23.5 106.5h1M31.5 131.5h1M74.5 101.5h1M18.5 72.5h1M15.5 99.5h1M66.5 105.5h1M11.5 84.5h1M67.5 105.5h1M20.5 103.5h1M28.5 71.5h1M59.5 115.5h1M20.5 102.5h1M70.5 68.5h1M32.5 122.5h1M64.5 111.5h1M18.5 102.5h1M49.5 68.5h1M71.5 72.5h1M62.5 66.5h1M31.5 108.5h1M56.5 128.5h1M12.5 92.5h1M72.5 71.5h1M26.5 108.5h1M30.5 117.5h1M15.5 80.5h1M8.5 81.5h1M48.5 135.5h1M12.5 67.5h1M70.5 101.5h1M62.5 117.5h1M32.5 120.5h1M60.5 114.5h1M22.5 107.5h1M67.5 63.5h1M62.5 67.5h1M38.5 131.5h1M73.5 91.5h1M77.5 102.5h1M54.5 68.5h1M21.5 67.5h1M20.5 103.5h1M75.5 84.5h1M17.5 74.5h1M42.5 136.5h1M73.5 70.5h1M20.5 72.5h1M77.5 87.5h1M70.5 106.5h1M79.5 81.5h1M19.5 104.5h1M67.5 68.5h1M14.5 84.5h1M74.5 78.5h1M10.5 96.5h1M63.5 115.5h1M26.5 70.5h1M38.5 136.5h1M37.5 136.5h1M58.5 123.5h1M47.5 141.5h1M39.5 140.5h1M39.5 67.5h1M24.5 70.5h1M56.5 128.5h1M65.5 69.5h1M45.5 140.5h1M55.5 66.5h1M17.5 79.5h1M74.5 82.5h1M78.5 85.5h1M11.5 81.5h1M27.5 71.5h1M19.5 100.5h1M56.5 130.5h1M34.5 133.5h1M41.5 138.5h1M12.5 82.5h1M32.5 125.5h1M76.5 89.5h1M70.5 99.5h1M17.5 75.5h1M77.5 84.5h1M36.5 134.5h1M58.5 127.5h1M37.5 135.5h1M71.5 74.5h1M52.5 136.5h1M46.5 68.5h1M60.5 123.5h1M58.5 120.5h1M61.5 107.5h1M64.5 109.5h1M54.5 68.5h1M47.5 135.5h1M32.5 133.5h1M12.5 71.5h1M45.5 66.5h1M76.5 88.5h1M31.5 120.5h1M15.5 99.5h1M27.5 67.5h1M34.5 131.5h1M61.5 133.5h1M21.5 69.5h1M77.5 87.5h1M76.5 73.5h1M49.5 140.5h1M76.5 73.5h1M55.5 126.5h1M72.5 104.5h1M9.5 95.5h1M35.5 133.5h1M79.5 96.5h1M75.5 91.5h1M22.5 69.5h1M13.5 95.5h1M25.5 106.5h1M21.5 68.5h1M20.5 106.5h1M75.5 75.5h1M70.5 69.5h1M15.5 94.5h1M37.5 137.5h1M58.5 117.5h1M17.5 95.5h1M22.5 72.5h1M65.5 107.5h1M71.5 103.5h1M49.5 136.5h1M43.5 138.5h1M18.5 74.5h1M35.5 134.5h1M16.5 95.5h1M65.5 115.5h1" stroke="#666" stroke-opacity="0.35"/><path d="M124.5 130.5h1M91.5 161.5h1M118.5 103.5h1M107.5 102.5h1M103.5 162.5h1M104.5 168.5h1M85.5 116.5h1M109.5 98.5h1M112.5 157.5h1M107.5 160.5h1M100.5 99.5h1M119.5 109.5h1M85.5 120.5h1M87.5 156.5h1M89.5 107.5h1M90.5 150.5h1M118.5 121.5h1M84.5 140.5h1M121.5 100.5h1M89.5 110.5h1M101.5 101.5h1M106.5 165.5h1M89.5 102.5h1M118.5 105.5h1M101.5 163.5h1M122.5 112.5h1M115.5 105.5h1M83.5 150.5h1M88.5 148.5h1M114.5 154.5h1M89.5 156.5h1M114.5 158.5h1M93.5 101.5h1M92.5 166.5h1M119.5 112.5h1M102.5 164.5h1M97.5 160.5h1M117.5 105.5h1M107.5 159.5h1M95.5 97.5h1M107.5 162.5h1M93.5 156.5h1M122.5 125.5h1M101.5 100.5h1M81.5 145.5h1M103.5 99.5h1M89.5 151.5h1M76.5 131.5h1M122.5 120.5h1M92.5 162.5h1M96.5 101.5h1M91.5 156.5h1M104.5 162.5h1M122.5 133.5h1M93.5 103.5h1M118.5 102.5h1M108.5 163.5h1M86.5 119.5h1M118.5 106.5h1M101.5 98.5h1M110.5 161.5h1M93.5 157.5h1M94.5 166.5h1M85.5 107.5h1M120.5 139.5h1M86.5 140.5h1M103.5 165.5h1M119.5 138.5h1M82.5 133.5h1M106.5 163.5h1M117.5 145.5h1M118.5 146.5h1M85.5 106.5h1M91.5 157.5h1M121.5 131.5h1M99.5 162.5h1M103.5 95.5h1M82.5 132.5h1M98.5 102.5h1M100.5 164.5h1M102.5 164.5h1M87.5 113.5h1M119.5 140.5h1M110.5 157.5h1M87.5 144.5h1M83.5 129.5h1M116.5 106.5h1M112.5 101.5h1M81.5 132.5h1M109.5 161.5h1M125.5 105.5h1M122.5 136.5h1M97.5 161.5h1M121.5 133.5h1" stroke="#333" stroke-opacity="0.5"/><path d="M122.5 126.5h1M88.5 108.5h1M109.5 160.5h1M88.5 145.5h1M96.5 96.5h1M102.5 162.5h1M87.5 143.5h1M121.5 113.5h1M116.5 104.5h1M122.5 124.5h1M82.5 118.5h1M88.5 110.5h1M81.5 116.5h1M90.5 150.5h1M109.5 158.5h1M104.5 164.5h1M94.5 157.5h1M82.5 135.5h1M84.5 112.5h1M95.5 100.5h1M105.5 101.5h1M95.5 104.5h1M121.5 131.5h1M99.5 101.5h1M91.5 106.5h1M107.5 162.5h1M92.5 103.5h1M116.5 155.5h1M93.5 101.5h1M100.5 161.5h1M105.5 97.5h1M126.5 118.5h1M92.5 152.5h1M117.5 146.5h1M100.5 100.5h1M122.5 130.5h1M104.5 100.5h1M90.5 150.5h1M121.5 112.5h1M117.5 100.5h1M121.5 113.5h1M102.5 163.5h1M118.5 111.5h1M93.5 156.5h1M120.5 140.5h1M89.5 104.5h1M85.5 141.5h1M113.5 99.5h1M106.5 162.5h1M112.5 153.5h1M121.5 112.5h1M86.5 110.5h1M109.5 98.5h1M98.5 161.5h1M117.5 146.5h1M117.5 149.5h1M120.5 110.5h1M117.5 112.5h1M81.5 125.5h1M97.5 101.5h1M89.5 102.5h1M119.5 159.5h1M122.5 105.5h1M111.5 160.5h1M105.5 164.5h1M120.5 123.5h1M84.5 110.5h1M79.5 125.5h1M114.5 155.5h1M80.5 120.5h1M94.5 154.5h1M105.5 98.5h1M122.5 112.5h1M119.5 138.5h1M112.5 102.5h1M118.5 147.5h1M119.5 109.5h1M117.5 145.5h1M120.5 110.5h1M84.5 109.5h1M87.5 119.5h1M98.5 165.5h1M98.5 99.5h1M113.5 153.5h1M81.5 129.5h1M123.5 127.5h1M100.5 162.5h1" stroke="#666" stroke-opacity="0.35"/><path d="M15.3,81.9C15.6,79.1 16.1,77.8 18.1,76.3C20.1,74.8 23.4,73.7 27.4,72.6C31.4,71.5 37.0,70.4 42.3,69.8C47.6,69.2 54.7,68.3 59.0,68.8C63.3,69.3 66.0,70.7 68.3,72.6C70.6,74.5 72.1,77.2 73.0,80.0C73.9,82.8 74.2,86.2 73.9,89.3C73.6,92.4 73.3,95.8 71.1,98.6C68.9,101.4 63.2,103.8 60.9,106.0C58.6,108.2 58.1,109.1 57.2,111.6C56.3,114.1 56.1,117.8 55.3,120.9C54.5,124.0 54.4,127.9 52.5,130.2C50.6,132.5 46.7,134.4 44.2,134.9C41.7,135.4 39.3,134.7 37.6,133.0C35.9,131.3 34.8,128.0 33.9,124.7C33.0,121.5 32.7,116.6 32.1,113.5C31.5,110.4 31.9,108.2 30.2,106.0C28.5,103.8 24.1,102.7 21.8,100.5C19.5,98.3 17.3,96.1 16.2,93.0C15.1,89.9 15.0,84.7 15.3,81.9Z" fill="#000" stroke="#000" stroke-width="4" stroke-linejoin="round"/><path d="M36.4,104.5C38.8,102.8 49.8,103.2 52.4,104.5C55.0,105.8 51.9,109.9 52.0,112.2C52.1,114.5 53.5,116.0 53.3,118.1C53.1,120.2 52.3,123.4 50.8,124.9C49.2,126.4 45.8,127.3 44.0,127.0C42.2,126.7 40.8,125.2 39.8,123.2C38.8,121.2 38.3,117.8 37.7,114.7C37.1,111.6 34.0,106.2 36.4,104.5Z" fill="#b3b3b3"/><defs><path id="z3" d="M15.3,81.9C15.6,79.3 16.1,77.8 18.1,76.3C20.1,74.8 23.4,73.7 27.4,72.6C31.4,71.5 37.2,70.3 42.3,69.8C47.4,69.3 54.2,69.0 58.0,69.5C61.8,70.0 63.4,71.2 65.0,73.0C66.6,74.8 67.1,77.3 67.5,80.0C67.9,82.7 68.1,86.2 67.5,89.0C66.9,91.8 65.8,94.7 64.0,97.0C62.2,99.3 60.2,101.8 57.0,103.0C53.8,104.2 49.2,104.5 45.0,104.5C40.8,104.5 35.9,104.1 32.0,103.0C28.1,101.9 24.4,99.8 21.8,98.0C19.2,96.2 17.3,94.7 16.2,92.0C15.1,89.3 15.0,84.5 15.3,81.9Z" stroke-width="0.7" vector-effect="non-scaling-stroke"/></defs><use href="#z3" fill="url(#zl)" stroke="#cfcfcf" transform="translate(42.3,84.7) scale(0.96) translate(-42.3,-84.7)"/><use href="#z3" fill="url(#zl)" stroke="#cfcfcf" transform="translate(42.3,84.7) scale(0.6) translate(-42.3,-84.7)"/><use href="#z3" fill="url(#zl)" stroke="#cfcfcf" transform="translate(42.3,84.7) scale(0.42) translate(-42.3,-84.7)"/><use href="#z3" fill="url(#zl)" stroke="#cfcfcf" transform="translate(42.3,84.7) scale(0.26) translate(-42.3,-84.7)"/><use href="#z3" fill="url(#zl)" stroke="#cfcfcf" transform="translate(42.3,84.7) scale(0.13) translate(-42.3,-84.7)"/><path d="M104.6,102.2C107.1,102.5 110.8,102.8 113.0,104.6C115.2,106.4 116.7,109.1 117.6,113.0C118.5,116.9 118.9,122.9 118.6,127.9C118.3,132.9 117.2,138.2 115.8,142.8C114.4,147.5 112.2,152.9 110.2,155.8C108.2,158.7 106.0,160.1 103.7,160.4C101.4,160.7 98.4,159.9 96.2,157.6C94.0,155.3 92.2,151.2 90.7,146.5C89.2,141.8 87.8,135.0 87.3,129.7C86.8,124.4 87.0,118.7 87.9,114.8C88.8,110.9 90.8,108.5 92.5,106.5C94.2,104.5 96.1,103.5 98.1,102.8C100.1,102.1 102.1,101.9 104.6,102.2Z" fill="#888" stroke="#000" stroke-width="4" stroke-linejoin="round"/><defs><path id="z4" d="M104.6,102.2C107.1,102.5 110.8,102.8 113.0,104.6C115.2,106.4 116.7,109.1 117.6,113.0C118.5,116.9 118.9,122.9 118.6,127.9C118.3,132.9 117.2,138.2 115.8,142.8C114.4,147.5 112.2,152.9 110.2,155.8C108.2,158.7 106.0,160.1 103.7,160.4C101.4,160.7 98.4,159.9 96.2,157.6C94.0,155.3 92.2,151.2 90.7,146.5C89.2,141.8 87.8,135.0 87.3,129.7C86.8,124.4 87.0,118.7 87.9,114.8C88.8,110.9 90.8,108.5 92.5,106.5C94.2,104.5 96.1,103.5 98.1,102.8C100.1,102.1 102.1,101.9 104.6,102.2Z" stroke-width="0.7" vector-effect="non-scaling-stroke"/></defs><use href="#z4" fill="url(#zg)" stroke="#d0d0d0" transform="translate(104.6,127.9) scale(0.96) translate(-104.6,-127.9)"/><use href="#z4" fill="url(#zg2)" stroke="#8a8a8a" transform="translate(104.6,127.9) scale(0.62) translate(-104.6,-127.9)"/><use href="#z4" fill="url(#zg2)" stroke="#8a8a8a" transform="translate(104.6,127.9) scale(0.42) translate(-104.6,-127.9)"/><use href="#z4" fill="url(#zg2)" stroke="#8a8a8a" transform="translate(104.6,127.9) scale(0.24) translate(-104.6,-127.9)"/><path d="M75.7,0V174M0,105.7H175" stroke="#4646c4" stroke-width="1.5" fill="none" style="mix-blend-mode:multiply"/><path d="M0,0V174H175" stroke="#000" stroke-width="1.4" fill="none"/><path d="M-3.5,13.6H0M-3.5,48.9H0M-3.5,84.2H0M-3.5,119.5H0M-3.5,148.0H0M-1.6,38.3H0M-1.6,32.1H0M-1.6,27.6H0M-1.6,24.2H0M-1.6,21.4H0M-1.6,19.1H0M-1.6,17.0H0M-1.6,15.2H0M-1.6,73.6H0M-1.6,67.4H0M-1.6,62.9H0M-1.6,59.5H0M-1.6,56.7H0M-1.6,54.4H0M-1.6,52.3H0M-1.6,50.5H0M-1.6,108.9H0M-1.6,102.7H0M-1.6,98.2H0M-1.6,94.8H0M-1.6,92.0H0M-1.6,89.7H0M-1.6,87.6H0M-1.6,85.8H0M-1.6,124.0H0M-1.6,128.5H0M-1.6,132.5H0M-1.6,136.5H0M-1.6,140.5H0M-1.6,144.5H0M-1.6,151.5H0M-1.6,156.0H0M-1.6,160.5H0M-1.6,165.5H0M-3.5,174H0M51.6,174V177.5M87.5,174V177.5M123.0,174V177.5M158.5,174V177.5M28.4,174V177.5M8.3,174V177.5M62.3,174V175.8M68.6,174V175.8M73.0,174V175.8M76.5,174V175.8M79.3,174V175.8M81.7,174V175.8M83.8,174V175.8M85.6,174V175.8M98.2,174V175.8M104.5,174V175.8M108.9,174V175.8M112.4,174V175.8M115.2,174V175.8M117.6,174V175.8M119.7,174V175.8M121.5,174V175.8M133.7,174V175.8M140.0,174V175.8M144.4,174V175.8M147.9,174V175.8M150.7,174V175.8M153.1,174V175.8M155.2,174V175.8M157.0,174V175.8M12.5,174V175.8M16.5,174V175.8M20.5,174V175.8M24.5,174V175.8M32.5,174V175.8M36.5,174V175.8M40.5,174V175.8M44.5,174V175.8M48.0,174V175.8" stroke="#000" stroke-width="1" fill="none"/><text x="-9" y="19.2" font-size="16" text-anchor="end">10<tspan font-size="12" dy="-5.2">5</tspan></text><text x="-9" y="54.5" font-size="16" text-anchor="end">10<tspan font-size="12" dy="-5.2">4</tspan></text><text x="-9" y="89.8" font-size="16" text-anchor="end">10<tspan font-size="12" dy="-5.2">3</tspan></text><text x="-9" y="125.1" font-size="16" text-anchor="end">10<tspan font-size="12" dy="-5.2">2</tspan></text><text x="-9.5" y="153.6" font-size="16" text-anchor="end">0</text><text x="51.6" y="196.3" font-size="16" text-anchor="middle">10<tspan font-size="12" dy="-5.2">2</tspan></text><text x="87.5" y="196.3" font-size="16" text-anchor="middle">10<tspan font-size="12" dy="-5.2">3</tspan></text><text x="123.0" y="196.3" font-size="16" text-anchor="middle">10<tspan font-size="12" dy="-5.2">4</tspan></text><text x="158.5" y="196.3" font-size="16" text-anchor="middle">10<tspan font-size="12" dy="-5.2">5</tspan></text><text x="29.4" y="196.3" font-size="16" text-anchor="middle">0</text><path d="M94,25.9H159M126.5,8.4V44.3" stroke="#000" stroke-width="2" fill="none"/><text x="120.2" y="21.6" font-size="16" text-anchor="end">47.3</text><text x="128.9" y="21.6" font-size="16">0.34</text><text x="120.2" y="41.8" font-size="16" text-anchor="end">2.54</text><text x="128.9" y="41.8" font-size="16">49.8</text></g>
<g transform="translate(546.5,76)"><path d="M0,0.6H174.6V174" stroke="#a8a8a8" stroke-width="1.2" fill="none"/><path d="M41.5 113.5h1M52.5 131.5h1M66.5 127.5h1M7.5 137.5h1M55.5 127.5h1M28.5 142.5h1M37.5 102.5h1M47.5 87.5h1M20.5 94.5h1M68.5 105.5h1M50.5 122.5h1M76.5 118.5h1M25.5 108.5h1M13.5 138.5h1M55.5 115.5h1M35.5 104.5h1M43.5 130.5h1M61.5 159.5h1M31.5 126.5h1M63.5 110.5h1M11.5 115.5h1M79.5 93.5h1M29.5 159.5h1M35.5 93.5h1M67.5 148.5h1M72.5 100.5h1M23.5 99.5h1M37.5 78.5h1M44.5 86.5h1M27.5 122.5h1M25.5 144.5h1M36.5 115.5h1M31.5 125.5h1M41.5 109.5h1M37.5 126.5h1M35.5 96.5h1M9.5 80.5h1M20.5 143.5h1M20.5 110.5h1M15.5 128.5h1M23.5 123.5h1M10.5 137.5h1M65.5 77.5h1M37.5 89.5h1M64.5 75.5h1M42.5 106.5h1M51.5 111.5h1M35.5 90.5h1M40.5 62.5h1M48.5 115.5h1M41.5 111.5h1M44.5 108.5h1M59.5 97.5h1M33.5 127.5h1M43.5 52.5h1M37.5 107.5h1M40.5 87.5h1M78.5 53.5h1M30.5 124.5h1M71.5 98.5h1M17.5 91.5h1M28.5 136.5h1M48.5 132.5h1M31.5 131.5h1M55.5 102.5h1M69.5 108.5h1M22.5 85.5h1M22.5 128.5h1M32.5 69.5h1M28.5 127.5h1M66.5 82.5h1M81.5 99.5h1M50.5 88.5h1M38.5 136.5h1M48.5 114.5h1M49.5 104.5h1M20.5 106.5h1M26.5 89.5h1M20.5 111.5h1M9.5 149.5h1M53.5 109.5h1M28.5 91.5h1M48.5 116.5h1M53.5 108.5h1M28.5 116.5h1M25.5 94.5h1M18.5 112.5h1M82.5 106.5h1M22.5 77.5h1M76.5 154.5h1M61.5 85.5h1M43.5 127.5h1M29.5 102.5h1M28.5 115.5h1M29.5 82.5h1M54.5 135.5h1M27.5 140.5h1M42.5 150.5h1M48.5 101.5h1M40.5 160.5h1M49.5 117.5h1M48.5 122.5h1M47.5 98.5h1M50.5 126.5h1M52.5 84.5h1M43.5 107.5h1M50.5 106.5h1M35.5 162.5h1M101.5 63.5h1M38.5 153.5h1M47.5 110.5h1M68.5 68.5h1M74.5 139.5h1M47.5 91.5h1M31.5 133.5h1M36.5 95.5h1M41.5 110.5h1M28.5 127.5h1M55.5 126.5h1M38.5 92.5h1M33.5 102.5h1M39.5 87.5h1M47.5 122.5h1M27.5 117.5h1M30.5 114.5h1M50.5 133.5h1M75.5 132.5h1M38.5 100.5h1M50.5 142.5h1M1.5 91.5h1M43.5 143.5h1M6.5 170.5h1M84.5 118.5h1M72.5 96.5h1M33.5 79.5h1M28.5 106.5h1M30.5 120.5h1M34.5 94.5h1M51.5 102.5h1M61.5 128.5h1M40.5 86.5h1M11.5 142.5h1M36.5 103.5h1M37.5 139.5h1M56.5 102.5h1M35.5 123.5h1M103.5 93.5h1M95.5 114.5h1M85.5 99.5h1M70.5 125.5h1M97.5 87.5h1M81.5 79.5h1M81.5 82.5h1M88.5 97.5h1M71.5 82.5h1M59.5 82.5h1M73.5 127.5h1M84.5 118.5h1M75.5 95.5h1M62.5 110.5h1M70.5 94.5h1M68.5 89.5h1M87.5 118.5h1M71.5 114.5h1M66.5 80.5h1M77.5 114.5h1M51.5 116.5h1M97.5 116.5h1M71.5 85.5h1M84.5 95.5h1M64.5 109.5h1M70.5 107.5h1M85.5 94.5h1M94.5 88.5h1M72.5 119.5h1M69.5 117.5h1M60.5 97.5h1M64.5 82.5h1M89.5 93.5h1M93.5 106.5h1M74.5 95.5h1M81.5 82.5h1M82.5 100.5h1M79.5 119.5h1M65.5 108.5h1M89.5 93.5h1M75.5 83.5h1M82.5 81.5h1M63.5 92.5h1M74.5 110.5h1M84.5 90.5h1M79.5 118.5h1M82.5 96.5h1M90.5 79.5h1M71.5 121.5h1M103.5 112.5h1M80.5 103.5h1M74.5 96.5h1M76.5 103.5h1M78.5 113.5h1M76.5 93.5h1M86.5 95.5h1M102.5 106.5h1M65.5 100.5h1M86.5 91.5h1M55.5 101.5h1M92.5 154.5h1M70.5 143.5h1M84.5 158.5h1M79.5 127.5h1M115.5 134.5h1M110.5 162.5h1M107.5 155.5h1M103.5 138.5h1M87.5 145.5h1M86.5 156.5h1M84.5 130.5h1M110.5 121.5h1M96.5 119.5h1M76.5 135.5h1M101.5 114.5h1M93.5 145.5h1M77.5 139.5h1M125.5 134.5h1M104.5 136.5h1M96.5 115.5h1M98.5 130.5h1M111.5 145.5h1M104.5 160.5h1M146.5 118.5h1M77.5 159.5h1M96.5 119.5h1M92.5 156.5h1M77.5 122.5h1M93.5 124.5h1M88.5 130.5h1M97.5 141.5h1M98.5 144.5h1M86.5 131.5h1M97.5 144.5h1M110.5 141.5h1M104.5 130.5h1M71.5 148.5h1M65.5 128.5h1M106.5 143.5h1M108.5 111.5h1M92.5 129.5h1M110.5 125.5h1M108.5 170.5h1M84.5 137.5h1M76.5 149.5h1M78.5 135.5h1M86.5 130.5h1M124.5 152.5h1M98.5 139.5h1M82.5 158.5h1M101.5 142.5h1M84.5 131.5h1M104.5 130.5h1M102.5 132.5h1M97.5 138.5h1M93.5 116.5h1M89.5 130.5h1M103.5 135.5h1M98.5 139.5h1M74.5 160.5h1M46.5 162.5h1M63.5 171.5h1M74.5 145.5h1M64.5 157.5h1M42.5 158.5h1M73.5 156.5h1M71.5 153.5h1M70.5 157.5h1M50.5 161.5h1M87.5 158.5h1M85.5 151.5h1M66.5 154.5h1M59.5 163.5h1M52.5 164.5h1M86.5 157.5h1M16.5 157.5h1M121.5 163.5h1M63.5 153.5h1M81.5 158.5h1M29.5 153.5h1M61.5 156.5h1M71.5 165.5h1M79.5 165.5h1M110.5 157.5h1M8.5 140.5h1M61.5 162.5h1M89.5 168.5h1M78.5 152.5h1M45.5 160.5h1M44.5 164.5h1M21.5 156.5h1M53.5 155.5h1M77.5 164.5h1M46.5 155.5h1M96.5 146.5h1M94.5 169.5h1M132.5 168.5h1M68.5 75.5h1M22.5 68.5h1M79.5 68.5h1M73.5 72.5h1M71.5 64.5h1M63.5 69.5h1M61.5 63.5h1M42.5 80.5h1M60.5 55.5h1M30.5 75.5h1M53.5 69.5h1M80.5 59.5h1M75.5 58.5h1M46.5 64.5h1M77.5 71.5h1M108.5 68.5h1M77.5 61.5h1M57.5 52.5h1M69.5 69.5h1M78.5 80.5h1M11.5 57.5h1M60.5 70.5h1M80.5 75.5h1M64.5 77.5h1M31.5 56.5h1M107.5 63.5h1M49.5 51.5h1M61.5 69.5h1M53.5 72.5h1" stroke="#333" stroke-opacity="0.55"/><path d="M10.5 116.5h1M34.5 155.5h1M18.5 91.5h1M45.5 105.5h1M80.5 131.5h1M89.5 150.5h1M71.5 118.5h1M19.5 139.5h1M3.5 107.5h1M27.5 105.5h1M61.5 103.5h1M51.5 149.5h1M55.5 111.5h1M66.5 119.5h1M24.5 150.5h1M30.5 96.5h1M62.5 100.5h1M38.5 148.5h1M40.5 137.5h1M13.5 97.5h1M2.5 82.5h1M28.5 58.5h1M74.5 77.5h1M29.5 127.5h1M30.5 81.5h1M57.5 132.5h1M54.5 122.5h1M41.5 73.5h1M27.5 115.5h1M47.5 165.5h1M1.5 122.5h1M43.5 141.5h1M15.5 133.5h1M64.5 105.5h1M48.5 123.5h1M39.5 118.5h1M29.5 167.5h1M8.5 143.5h1M35.5 122.5h1M54.5 81.5h1M43.5 128.5h1M32.5 109.5h1M46.5 130.5h1M32.5 103.5h1M18.5 104.5h1M18.5 73.5h1M24.5 89.5h1M23.5 127.5h1M35.5 90.5h1M21.5 52.5h1M21.5 121.5h1M62.5 135.5h1M89.5 96.5h1M40.5 84.5h1M0.5 72.5h1M25.5 164.5h1M7.5 114.5h1M49.5 143.5h1M31.5 102.5h1M31.5 116.5h1M31.5 99.5h1M32.5 132.5h1M28.5 89.5h1M34.5 102.5h1M51.5 121.5h1M24.5 118.5h1M40.5 126.5h1M60.5 103.5h1M7.5 103.5h1M25.5 81.5h1M45.5 121.5h1M22.5 130.5h1M67.5 68.5h1M68.5 87.5h1M43.5 91.5h1M47.5 103.5h1M54.5 154.5h1M79.5 136.5h1M3.5 92.5h1M15.5 100.5h1M46.5 81.5h1M49.5 71.5h1M44.5 73.5h1M50.5 108.5h1M74.5 159.5h1M56.5 152.5h1M30.5 93.5h1M29.5 70.5h1M39.5 90.5h1M16.5 97.5h1M51.5 94.5h1M55.5 118.5h1M49.5 134.5h1M8.5 29.5h1M36.5 117.5h1M58.5 126.5h1M61.5 98.5h1M5.5 119.5h1M77.5 105.5h1M28.5 118.5h1M29.5 121.5h1M64.5 91.5h1M64.5 97.5h1M28.5 105.5h1M49.5 126.5h1M78.5 93.5h1M34.5 113.5h1M41.5 108.5h1M47.5 129.5h1M37.5 98.5h1M52.5 139.5h1M54.5 92.5h1M34.5 148.5h1M45.5 168.5h1M29.5 76.5h1M10.5 123.5h1M38.5 102.5h1M49.5 115.5h1M49.5 115.5h1M28.5 40.5h1M69.5 106.5h1M61.5 145.5h1M51.5 119.5h1M33.5 111.5h1M42.5 71.5h1M69.5 106.5h1M78.5 129.5h1M44.5 78.5h1M0.5 116.5h1M20.5 103.5h1M42.5 88.5h1M41.5 139.5h1M27.5 116.5h1M20.5 58.5h1M24.5 90.5h1M38.5 108.5h1M28.5 62.5h1M45.5 105.5h1M53.5 127.5h1M60.5 115.5h1M48.5 106.5h1M28.5 95.5h1M6.5 122.5h1M41.5 75.5h1M41.5 139.5h1M42.5 100.5h1M54.5 86.5h1M68.5 90.5h1M65.5 89.5h1M73.5 94.5h1M68.5 113.5h1M77.5 107.5h1M71.5 107.5h1M86.5 99.5h1M82.5 125.5h1M82.5 95.5h1M57.5 115.5h1M87.5 119.5h1M84.5 106.5h1M83.5 92.5h1M61.5 89.5h1M81.5 87.5h1M61.5 85.5h1M71.5 124.5h1M70.5 128.5h1M96.5 131.5h1M77.5 106.5h1M84.5 129.5h1M81.5 118.5h1M77.5 115.5h1M80.5 107.5h1M87.5 89.5h1M79.5 110.5h1M70.5 130.5h1M77.5 86.5h1M60.5 89.5h1M94.5 116.5h1M91.5 109.5h1M101.5 88.5h1M97.5 84.5h1M79.5 97.5h1M92.5 100.5h1M68.5 99.5h1M92.5 102.5h1M94.5 98.5h1M111.5 82.5h1M97.5 84.5h1M77.5 99.5h1M75.5 82.5h1M83.5 96.5h1M64.5 82.5h1M91.5 78.5h1M89.5 80.5h1M74.5 120.5h1M43.5 115.5h1M92.5 99.5h1M53.5 104.5h1M73.5 93.5h1M81.5 96.5h1M105.5 121.5h1M79.5 83.5h1M97.5 107.5h1M73.5 115.5h1M79.5 110.5h1M78.5 107.5h1M86.5 96.5h1M85.5 100.5h1M46.5 115.5h1M117.5 156.5h1M104.5 126.5h1M93.5 127.5h1M81.5 156.5h1M93.5 131.5h1M93.5 157.5h1M104.5 146.5h1M72.5 163.5h1M79.5 123.5h1M82.5 138.5h1M100.5 141.5h1M94.5 148.5h1M69.5 148.5h1M91.5 153.5h1M116.5 147.5h1M74.5 138.5h1M82.5 161.5h1M94.5 135.5h1M88.5 145.5h1M104.5 148.5h1M90.5 166.5h1M124.5 146.5h1M92.5 130.5h1M104.5 133.5h1M82.5 170.5h1M85.5 141.5h1M93.5 164.5h1M104.5 148.5h1M87.5 129.5h1M119.5 126.5h1M106.5 118.5h1M93.5 132.5h1M98.5 140.5h1M90.5 133.5h1M138.5 120.5h1M99.5 149.5h1M98.5 133.5h1M100.5 156.5h1M110.5 134.5h1M81.5 145.5h1M102.5 117.5h1M95.5 155.5h1M102.5 165.5h1M78.5 156.5h1M100.5 142.5h1M99.5 154.5h1M120.5 134.5h1M75.5 156.5h1M107.5 132.5h1M102.5 157.5h1M80.5 153.5h1M96.5 157.5h1M87.5 147.5h1M89.5 139.5h1M67.5 136.5h1M72.5 147.5h1M81.5 141.5h1M96.5 134.5h1M101.5 166.5h1M13.5 166.5h1M54.5 161.5h1M30.5 170.5h1M41.5 160.5h1M47.5 163.5h1M44.5 160.5h1M63.5 166.5h1M77.5 154.5h1M61.5 167.5h1M68.5 151.5h1M59.5 151.5h1M89.5 147.5h1M81.5 155.5h1M89.5 160.5h1M71.5 158.5h1M65.5 167.5h1M108.5 168.5h1M102.5 153.5h1M50.5 162.5h1M66.5 154.5h1M16.5 150.5h1M89.5 148.5h1M118.5 150.5h1M32.5 157.5h1M24.5 146.5h1M79.5 162.5h1M45.5 152.5h1M56.5 159.5h1M64.5 162.5h1M60.5 152.5h1M40.5 160.5h1M87.5 158.5h1M45.5 164.5h1M67.5 154.5h1M81.5 170.5h1M61.5 154.5h1M62.5 172.5h1M50.5 156.5h1M48.5 164.5h1M94.5 65.5h1M41.5 68.5h1M95.5 70.5h1M40.5 62.5h1M32.5 56.5h1M75.5 81.5h1M94.5 70.5h1M47.5 67.5h1M77.5 49.5h1M111.5 55.5h1M50.5 71.5h1M63.5 72.5h1M14.5 64.5h1M27.5 34.5h1M53.5 70.5h1M53.5 49.5h1M48.5 64.5h1M54.5 72.5h1M100.5 52.5h1M27.5 53.5h1M85.5 71.5h1M45.5 62.5h1M49.5 77.5h1M34.5 80.5h1M26.5 80.5h1M62.5 61.5h1M48.5 56.5h1M65.5 71.5h1M40.5 87.5h1M85.5 54.5h1M50.5 56.5h1" stroke="#555" stroke-opacity="0.35"/><path d="M102.5 161.5h1M24.5 104.5h1M14.5 118.5h1M106.5 160.5h1M53.5 104.5h1M82.5 114.5h1M59.5 68.5h1M14.5 90.5h1M15.5 70.5h1M105.5 161.5h1M56.5 97.5h1M65.5 155.5h1M25.5 66.5h1M120.5 125.5h1M63.5 79.5h1M40.5 62.5h1M64.5 148.5h1M48.5 66.5h1M23.5 108.5h1M36.5 156.5h1M13.5 87.5h1M19.5 109.5h1M75.5 149.5h1M77.5 113.5h1M15.5 93.5h1M17.5 92.5h1M13.5 89.5h1M60.5 106.5h1M37.5 160.5h1M12.5 85.5h1M118.5 125.5h1M99.5 157.5h1M124.5 111.5h1M13.5 121.5h1M86.5 111.5h1M117.5 147.5h1M105.5 164.5h1M26.5 156.5h1M14.5 139.5h1M122.5 122.5h1M25.5 154.5h1M64.5 144.5h1M74.5 102.5h1M23.5 106.5h1M58.5 152.5h1M63.5 146.5h1M52.5 95.5h1M48.5 158.5h1M42.5 158.5h1M118.5 116.5h1M14.5 91.5h1M103.5 163.5h1M83.5 144.5h1M11.5 145.5h1M125.5 136.5h1M93.5 152.5h1M14.5 88.5h1M108.5 159.5h1M61.5 69.5h1M33.5 57.5h1M102.5 160.5h1M84.5 144.5h1M66.5 141.5h1M86.5 111.5h1M60.5 88.5h1M101.5 111.5h1M53.5 104.5h1M47.5 66.5h1M22.5 160.5h1M51.5 70.5h1M61.5 149.5h1M62.5 70.5h1M19.5 70.5h1M55.5 102.5h1M82.5 146.5h1M106.5 157.5h1M64.5 77.5h1M114.5 111.5h1M64.5 81.5h1M18.5 152.5h1M58.5 92.5h1M19.5 150.5h1M12.5 79.5h1M118.5 135.5h1M27.5 67.5h1M14.5 94.5h1M83.5 146.5h1M14.5 138.5h1M21.5 69.5h1M86.5 112.5h1M89.5 149.5h1M92.5 152.5h1M62.5 65.5h1M53.5 102.5h1M38.5 65.5h1M72.5 139.5h1M53.5 103.5h1M105.5 110.5h1M53.5 100.5h1M123.5 135.5h1M52.5 102.5h1M94.5 152.5h1M61.5 101.5h1M32.5 155.5h1M122.5 134.5h1M16.5 88.5h1M68.5 104.5h1M20.5 101.5h1M59.5 105.5h1M10.5 65.5h1M88.5 146.5h1M65.5 74.5h1M91.5 153.5h1M26.5 67.5h1M61.5 66.5h1M13.5 143.5h1M81.5 141.5h1M12.5 81.5h1M77.5 140.5h1M37.5 156.5h1M19.5 111.5h1M14.5 76.5h1M53.5 93.5h1M84.5 113.5h1M118.5 143.5h1M85.5 145.5h1M18.5 113.5h1M115.5 151.5h1M91.5 112.5h1M69.5 148.5h1M63.5 76.5h1M17.5 116.5h1M57.5 97.5h1M63.5 104.5h1M55.5 103.5h1M20.5 69.5h1M19.5 154.5h1M57.5 153.5h1M12.5 71.5h1M35.5 160.5h1M18.5 151.5h1M15.5 90.5h1M72.5 143.5h1M85.5 146.5h1M108.5 160.5h1M17.5 115.5h1M62.5 148.5h1M90.5 147.5h1M22.5 102.5h1M34.5 68.5h1M77.5 109.5h1M15.5 86.5h1M25.5 155.5h1M111.5 111.5h1M57.5 95.5h1M93.5 114.5h1M19.5 67.5h1M16.5 94.5h1M111.5 154.5h1M11.5 147.5h1M120.5 134.5h1M15.5 88.5h1M113.5 164.5h1M16.5 149.5h1M54.5 102.5h1M24.5 69.5h1M111.5 161.5h1M123.5 120.5h1M84.5 147.5h1M84.5 114.5h1M115.5 112.5h1M111.5 110.5h1M49.5 156.5h1M60.5 104.5h1M66.5 146.5h1M62.5 148.5h1M21.5 110.5h1M54.5 97.5h1M55.5 100.5h1M102.5 160.5h1M123.5 116.5h1M93.5 156.5h1M115.5 150.5h1M95.5 159.5h1M67.5 145.5h1M19.5 105.5h1M72.5 107.5h1M116.5 146.5h1M86.5 144.5h1M50.5 165.5h1M66.5 68.5h1M26.5 155.5h1M73.5 111.5h1M43.5 162.5h1M50.5 156.5h1M58.5 67.5h1M102.5 162.5h1M96.5 111.5h1M15.5 87.5h1M120.5 141.5h1M58.5 96.5h1M98.5 159.5h1M87.5 147.5h1M65.5 105.5h1M25.5 67.5h1M120.5 136.5h1M114.5 154.5h1M50.5 64.5h1M111.5 153.5h1M52.5 99.5h1M25.5 71.5h1M60.5 89.5h1M56.5 103.5h1M108.5 165.5h1M14.5 86.5h1M38.5 65.5h1M115.5 112.5h1M96.5 158.5h1M18.5 104.5h1M13.5 145.5h1M44.5 157.5h1M97.5 157.5h1M21.5 106.5h1M52.5 153.5h1M62.5 66.5h1M61.5 148.5h1M61.5 70.5h1M120.5 145.5h1M16.5 114.5h1M14.5 116.5h1M123.5 120.5h1M61.5 90.5h1" stroke="#333" stroke-opacity="0.5"/><path d="M124.5 143.5h1M54.5 100.5h1M66.5 101.5h1M83.5 111.5h1M75.5 143.5h1M98.5 160.5h1M59.5 151.5h1M65.5 72.5h1M91.5 154.5h1M16.5 125.5h1M14.5 120.5h1M11.5 111.5h1M57.5 62.5h1M65.5 150.5h1M12.5 84.5h1M52.5 101.5h1M102.5 162.5h1M20.5 108.5h1M61.5 67.5h1M121.5 128.5h1M105.5 161.5h1M47.5 158.5h1M75.5 145.5h1M85.5 143.5h1M117.5 143.5h1M46.5 160.5h1M64.5 77.5h1M130.5 129.5h1M26.5 65.5h1M17.5 156.5h1M22.5 67.5h1M17.5 71.5h1M123.5 121.5h1M14.5 117.5h1M62.5 148.5h1M23.5 106.5h1M11.5 144.5h1M58.5 93.5h1M63.5 71.5h1M16.5 75.5h1M79.5 140.5h1M24.5 158.5h1M21.5 110.5h1M63.5 81.5h1M108.5 110.5h1M19.5 72.5h1M61.5 104.5h1M13.5 85.5h1M52.5 98.5h1M40.5 66.5h1M17.5 113.5h1M17.5 150.5h1M80.5 110.5h1M91.5 152.5h1M58.5 157.5h1M53.5 100.5h1M29.5 157.5h1M17.5 113.5h1M22.5 109.5h1M56.5 83.5h1M43.5 159.5h1M126.5 116.5h1M58.5 156.5h1M64.5 109.5h1M114.5 153.5h1M21.5 63.5h1M88.5 110.5h1M95.5 159.5h1M55.5 64.5h1M93.5 153.5h1M128.5 115.5h1M19.5 107.5h1M70.5 108.5h1M95.5 156.5h1M17.5 89.5h1M23.5 65.5h1M26.5 157.5h1M93.5 155.5h1M19.5 105.5h1M63.5 72.5h1M75.5 106.5h1M20.5 111.5h1M11.5 80.5h1M53.5 98.5h1M72.5 142.5h1M86.5 142.5h1M28.5 67.5h1M79.5 142.5h1M28.5 65.5h1M109.5 157.5h1M22.5 106.5h1M88.5 148.5h1M75.5 141.5h1M70.5 138.5h1M18.5 109.5h1M91.5 109.5h1M120.5 124.5h1M92.5 154.5h1M85.5 148.5h1M49.5 158.5h1M72.5 108.5h1M90.5 111.5h1M65.5 103.5h1M80.5 111.5h1M50.5 157.5h1M117.5 110.5h1M53.5 102.5h1M113.5 154.5h1M14.5 121.5h1M100.5 161.5h1M9.5 129.5h1M56.5 92.5h1M96.5 157.5h1M61.5 69.5h1M61.5 146.5h1M86.5 149.5h1M61.5 73.5h1M65.5 70.5h1M9.5 80.5h1M20.5 154.5h1M105.5 161.5h1M119.5 112.5h1M83.5 145.5h1M108.5 110.5h1M59.5 69.5h1M111.5 164.5h1M62.5 75.5h1M61.5 70.5h1M80.5 112.5h1M21.5 109.5h1M14.5 90.5h1M75.5 144.5h1M46.5 155.5h1M63.5 82.5h1M110.5 109.5h1M52.5 62.5h1M16.5 145.5h1M15.5 139.5h1M50.5 64.5h1M14.5 77.5h1M76.5 110.5h1M102.5 109.5h1M21.5 151.5h1M62.5 64.5h1M95.5 111.5h1M81.5 113.5h1M43.5 67.5h1M58.5 93.5h1M43.5 159.5h1M130.5 145.5h1M21.5 106.5h1M35.5 160.5h1M59.5 87.5h1M55.5 104.5h1M108.5 112.5h1M90.5 146.5h1M11.5 71.5h1M21.5 109.5h1M12.5 128.5h1M120.5 145.5h1M78.5 141.5h1M89.5 149.5h1M13.5 126.5h1M40.5 156.5h1M90.5 113.5h1M62.5 88.5h1M119.5 137.5h1M98.5 160.5h1M93.5 151.5h1M103.5 161.5h1M54.5 105.5h1M59.5 89.5h1M121.5 124.5h1M24.5 104.5h1M106.5 162.5h1M28.5 161.5h1M65.5 109.5h1M12.5 135.5h1M46.5 67.5h1M126.5 114.5h1M14.5 109.5h1M14.5 123.5h1M83.5 143.5h1M30.5 68.5h1M84.5 110.5h1M21.5 109.5h1M53.5 92.5h1M60.5 65.5h1M18.5 91.5h1M52.5 98.5h1M12.5 122.5h1M107.5 161.5h1M107.5 156.5h1M30.5 67.5h1M109.5 155.5h1M75.5 143.5h1M16.5 151.5h1M95.5 112.5h1M16.5 78.5h1M51.5 97.5h1M17.5 96.5h1M28.5 158.5h1M90.5 148.5h1M112.5 113.5h1M59.5 95.5h1M120.5 146.5h1M22.5 152.5h1M116.5 113.5h1M51.5 62.5h1M61.5 147.5h1M36.5 163.5h1M113.5 111.5h1M21.5 152.5h1M12.5 136.5h1M62.5 86.5h1M112.5 154.5h1M121.5 115.5h1M57.5 93.5h1M19.5 97.5h1M120.5 126.5h1M17.5 80.5h1M71.5 139.5h1M104.5 160.5h1M18.5 96.5h1M14.5 145.5h1M118.5 150.5h1M56.5 94.5h1M93.5 110.5h1M14.5 82.5h1M64.5 81.5h1M70.5 142.5h1M64.5 70.5h1M66.5 105.5h1M16.5 107.5h1M6.5 123.5h1M20.5 93.5h1M11.5 124.5h1M72.5 107.5h1M56.5 96.5h1M63.5 149.5h1M111.5 155.5h1M64.5 143.5h1M15.5 85.5h1M57.5 97.5h1M6.5 122.5h1M15.5 112.5h1M105.5 161.5h1M19.5 149.5h1M64.5 108.5h1M25.5 104.5h1M27.5 155.5h1M66.5 73.5h1M24.5 104.5h1M34.5 159.5h1M111.5 158.5h1M23.5 107.5h1M122.5 136.5h1M13.5 81.5h1" stroke="#666" stroke-opacity="0.35"/><path d="M17.2,78.1C18.0,75.5 19.2,73.1 21.8,71.6C24.4,70.0 28.6,69.3 33.0,68.8C37.4,68.3 43.2,68.2 47.9,68.5C52.5,68.8 58.0,69.1 60.9,70.7C63.8,72.3 64.5,75.3 65.0,78.1C65.5,80.9 64.7,84.3 63.7,87.4C62.7,90.5 60.4,94.1 59.0,96.7C57.6,99.3 55.6,101.4 55.3,103.3C55.0,105.2 55.3,106.8 57.2,107.9C59.1,109.0 63.4,109.0 66.5,109.8C69.6,110.6 72.4,112.1 75.8,112.6C79.2,113.1 82.2,112.9 86.9,112.6C91.6,112.3 99.1,110.9 103.7,110.7C108.3,110.5 112.3,110.2 114.8,111.6C117.3,113.0 118.0,115.4 118.6,119.1C119.2,122.8 119.2,129.3 118.6,134.0C118.0,138.7 116.7,143.3 114.8,147.0C112.9,150.7 109.7,154.3 107.4,156.3C105.1,158.3 103.2,159.4 100.9,159.1C98.6,158.8 95.8,156.7 93.5,154.4C91.2,152.1 89.3,147.7 87.0,145.1C84.7,142.5 82.3,139.8 79.5,138.6C76.7,137.4 73.0,136.6 70.2,137.7C67.4,138.8 65.3,142.8 62.8,145.1C60.3,147.4 58.4,150.0 55.3,151.6C52.2,153.2 48.5,154.1 44.2,154.4C39.9,154.7 33.3,154.7 29.3,153.5C25.3,152.3 22.2,150.2 20.0,147.0C17.8,143.8 16.5,138.7 16.2,134.0C15.9,129.3 16.9,123.1 18.1,119.1C19.4,115.1 22.1,112.1 23.7,109.8C25.2,107.5 27.7,107.3 27.4,105.1C27.1,102.9 23.5,99.7 21.8,96.7C20.1,93.8 18.0,90.5 17.2,87.4C16.4,84.3 16.4,80.7 17.2,78.1Z" fill="#b5b5b5" stroke="#000" stroke-width="4" stroke-linejoin="round"/><defs><path id="z5" d="M17.5,80.0C17.5,76.5 19.4,73.8 22.0,72.0C24.6,70.2 28.7,69.9 33.0,69.5C37.3,69.1 43.5,69.2 48.0,69.5C52.5,69.8 57.3,70.1 60.0,71.5C62.7,72.9 63.5,75.4 64.0,78.0C64.5,80.6 64.2,84.0 63.0,87.0C61.8,90.0 60.0,94.0 57.0,96.0C54.0,98.0 49.2,98.7 45.0,99.0C40.8,99.3 35.8,99.0 32.0,98.0C28.2,97.0 24.4,96.0 22.0,93.0C19.6,90.0 17.5,83.5 17.5,80.0Z" stroke-width="0.7" vector-effect="non-scaling-stroke"/></defs><use href="#z5" fill="url(#zl)" stroke="#cfcfcf" transform="translate(42.3,82.0) scale(0.96) translate(-42.3,-82.0)"/><use href="#z5" fill="url(#zl)" stroke="#cfcfcf" transform="translate(42.3,82.0) scale(0.6) translate(-42.3,-82.0)"/><use href="#z5" fill="url(#zl)" stroke="#cfcfcf" transform="translate(42.3,82.0) scale(0.42) translate(-42.3,-82.0)"/><use href="#z5" fill="url(#zl)" stroke="#cfcfcf" transform="translate(42.3,82.0) scale(0.26) translate(-42.3,-82.0)"/><use href="#z5" fill="url(#zl)" stroke="#cfcfcf" transform="translate(42.3,82.0) scale(0.13) translate(-42.3,-82.0)"/><defs><path id="z6" d="M17.5,130.0C17.7,124.8 18.6,118.3 21.0,115.0C23.4,111.7 27.5,110.8 32.0,110.0C36.5,109.2 43.3,109.3 48.0,110.0C52.7,110.7 57.0,111.7 60.0,114.0C63.0,116.3 65.3,120.0 66.0,124.0C66.7,128.0 65.7,133.8 64.0,138.0C62.3,142.2 59.3,146.5 56.0,149.0C52.7,151.5 48.3,152.5 44.0,153.0C39.7,153.5 34.0,153.2 30.0,152.0C26.0,150.8 22.1,149.7 20.0,146.0C17.9,142.3 17.3,135.2 17.5,130.0Z" stroke-width="0.7" vector-effect="non-scaling-stroke"/></defs><use href="#z6" fill="url(#zg)" stroke="#d0d0d0" transform="translate(43.2,128.0) scale(0.96) translate(-43.2,-128.0)"/><use href="#z6" fill="url(#zg2)" stroke="#8a8a8a" transform="translate(43.2,128.0) scale(0.62) translate(-43.2,-128.0)"/><use href="#z6" fill="url(#zg2)" stroke="#8a8a8a" transform="translate(43.2,128.0) scale(0.42) translate(-43.2,-128.0)"/><use href="#z6" fill="url(#zg2)" stroke="#8a8a8a" transform="translate(43.2,128.0) scale(0.24) translate(-43.2,-128.0)"/><defs><path id="z7" d="M88.0,122.0C89.5,118.8 92.3,114.2 95.0,112.5C97.7,110.8 100.8,111.5 104.0,111.5C107.2,111.5 111.7,111.1 114.0,112.5C116.3,113.9 117.3,116.4 118.0,120.0C118.7,123.6 118.7,129.7 118.0,134.0C117.3,138.3 115.8,142.5 114.0,146.0C112.2,149.5 109.2,153.0 107.0,155.0C104.8,157.0 103.2,158.3 101.0,158.0C98.8,157.7 96.2,155.5 94.0,153.0C91.8,150.5 89.3,146.5 88.0,143.0C86.7,139.5 86.0,135.5 86.0,132.0C86.0,128.5 86.5,125.2 88.0,122.0Z" stroke-width="0.7" vector-effect="non-scaling-stroke"/></defs><use href="#z7" fill="url(#zg)" stroke="#d0d0d0" transform="translate(105.5,130.0) scale(0.96) translate(-105.5,-130.0)"/><use href="#z7" fill="url(#zg2)" stroke="#8a8a8a" transform="translate(105.5,130.0) scale(0.62) translate(-105.5,-130.0)"/><use href="#z7" fill="url(#zg2)" stroke="#8a8a8a" transform="translate(105.5,130.0) scale(0.42) translate(-105.5,-130.0)"/><use href="#z7" fill="url(#zg2)" stroke="#8a8a8a" transform="translate(105.5,130.0) scale(0.24) translate(-105.5,-130.0)"/><path d="M75.7,0V174M0,105.7H175" stroke="#4646c4" stroke-width="1.5" fill="none" style="mix-blend-mode:multiply"/><path d="M0,0V174H175" stroke="#000" stroke-width="1.4" fill="none"/><path d="M-3.5,13.6H0M-3.5,48.9H0M-3.5,84.2H0M-3.5,119.5H0M-3.5,148.0H0M-1.6,38.3H0M-1.6,32.1H0M-1.6,27.6H0M-1.6,24.2H0M-1.6,21.4H0M-1.6,19.1H0M-1.6,17.0H0M-1.6,15.2H0M-1.6,73.6H0M-1.6,67.4H0M-1.6,62.9H0M-1.6,59.5H0M-1.6,56.7H0M-1.6,54.4H0M-1.6,52.3H0M-1.6,50.5H0M-1.6,108.9H0M-1.6,102.7H0M-1.6,98.2H0M-1.6,94.8H0M-1.6,92.0H0M-1.6,89.7H0M-1.6,87.6H0M-1.6,85.8H0M-1.6,124.0H0M-1.6,128.5H0M-1.6,132.5H0M-1.6,136.5H0M-1.6,140.5H0M-1.6,144.5H0M-1.6,151.5H0M-1.6,156.0H0M-1.6,160.5H0M-1.6,165.5H0M-3.5,174H0M51.6,174V177.5M87.5,174V177.5M123.0,174V177.5M158.5,174V177.5M28.4,174V177.5M8.3,174V177.5M62.3,174V175.8M68.6,174V175.8M73.0,174V175.8M76.5,174V175.8M79.3,174V175.8M81.7,174V175.8M83.8,174V175.8M85.6,174V175.8M98.2,174V175.8M104.5,174V175.8M108.9,174V175.8M112.4,174V175.8M115.2,174V175.8M117.6,174V175.8M119.7,174V175.8M121.5,174V175.8M133.7,174V175.8M140.0,174V175.8M144.4,174V175.8M147.9,174V175.8M150.7,174V175.8M153.1,174V175.8M155.2,174V175.8M157.0,174V175.8M12.5,174V175.8M16.5,174V175.8M20.5,174V175.8M24.5,174V175.8M32.5,174V175.8M36.5,174V175.8M40.5,174V175.8M44.5,174V175.8M48.0,174V175.8" stroke="#000" stroke-width="1" fill="none"/><text x="-9" y="19.2" font-size="16" text-anchor="end">10<tspan font-size="12" dy="-5.2">5</tspan></text><text x="-9" y="54.5" font-size="16" text-anchor="end">10<tspan font-size="12" dy="-5.2">4</tspan></text><text x="-9" y="89.8" font-size="16" text-anchor="end">10<tspan font-size="12" dy="-5.2">3</tspan></text><text x="-9" y="125.1" font-size="16" text-anchor="end">10<tspan font-size="12" dy="-5.2">2</tspan></text><text x="-9.5" y="153.6" font-size="16" text-anchor="end">0</text><text x="51.6" y="196.3" font-size="16" text-anchor="middle">10<tspan font-size="12" dy="-5.2">2</tspan></text><text x="87.5" y="196.3" font-size="16" text-anchor="middle">10<tspan font-size="12" dy="-5.2">3</tspan></text><text x="123.0" y="196.3" font-size="16" text-anchor="middle">10<tspan font-size="12" dy="-5.2">4</tspan></text><text x="158.5" y="196.3" font-size="16" text-anchor="middle">10<tspan font-size="12" dy="-5.2">5</tspan></text><text x="29.4" y="196.3" font-size="16" text-anchor="middle">0</text><path d="M92.5,25.9H156.8M127,8.4V44.3" stroke="#000" stroke-width="2" fill="none"/><text x="120.7" y="21.6" font-size="16" text-anchor="end">25.3</text><text x="129.9" y="21.6" font-size="16">0.11</text><text x="120.7" y="41.8" font-size="16" text-anchor="end" fill="#e020e0">46.8</text><text x="129.9" y="41.8" font-size="16">28.4</text></g>
<g transform="translate(761.5,76)"><path d="M0,0.6H174.6V174" stroke="#a8a8a8" stroke-width="1.2" fill="none"/><path d="M51.5 110.5h1M58.5 132.5h1M43.5 116.5h1M72.5 109.5h1M29.5 111.5h1M32.5 124.5h1M61.5 136.5h1M38.5 123.5h1M46.5 130.5h1M49.5 116.5h1M67.5 99.5h1M26.5 108.5h1M43.5 104.5h1M57.5 139.5h1M26.5 111.5h1M31.5 123.5h1M101.5 119.5h1M61.5 126.5h1M46.5 117.5h1M22.5 122.5h1M38.5 127.5h1M49.5 132.5h1M38.5 129.5h1M66.5 142.5h1M50.5 108.5h1M42.5 121.5h1M65.5 139.5h1M61.5 105.5h1M56.5 133.5h1M29.5 142.5h1M9.5 114.5h1M51.5 113.5h1M32.5 157.5h1M49.5 121.5h1M44.5 118.5h1M33.5 119.5h1M61.5 107.5h1M32.5 131.5h1M33.5 149.5h1M15.5 114.5h1M44.5 95.5h1M64.5 142.5h1M46.5 138.5h1M19.5 126.5h1M24.5 118.5h1M39.5 104.5h1M55.5 72.5h1M55.5 123.5h1M55.5 154.5h1M57.5 159.5h1M51.5 123.5h1M37.5 125.5h1M70.5 120.5h1M54.5 88.5h1M17.5 114.5h1M40.5 102.5h1M12.5 106.5h1M44.5 147.5h1M42.5 125.5h1M23.5 130.5h1M38.5 131.5h1M50.5 114.5h1M54.5 90.5h1M37.5 122.5h1M33.5 116.5h1M48.5 116.5h1M45.5 91.5h1M54.5 98.5h1M73.5 122.5h1M19.5 108.5h1M35.5 114.5h1M15.5 126.5h1M43.5 97.5h1M69.5 124.5h1M41.5 96.5h1M37.5 109.5h1M53.5 143.5h1M45.5 136.5h1M54.5 137.5h1M49.5 126.5h1M45.5 132.5h1M45.5 110.5h1M43.5 143.5h1M53.5 98.5h1M49.5 97.5h1M27.5 89.5h1M15.5 104.5h1M39.5 147.5h1M41.5 121.5h1M55.5 119.5h1M13.5 133.5h1M50.5 117.5h1M56.5 122.5h1M69.5 128.5h1M71.5 138.5h1M39.5 138.5h1M69.5 142.5h1M49.5 132.5h1M65.5 131.5h1M52.5 136.5h1M28.5 80.5h1M31.5 126.5h1M36.5 123.5h1M38.5 101.5h1M64.5 142.5h1M32.5 135.5h1M7.5 114.5h1M57.5 89.5h1M29.5 123.5h1M60.5 115.5h1M28.5 145.5h1M51.5 131.5h1M56.5 113.5h1M42.5 116.5h1M29.5 110.5h1M42.5 120.5h1M50.5 129.5h1M46.5 115.5h1M85.5 108.5h1M29.5 114.5h1M26.5 128.5h1M49.5 101.5h1M61.5 105.5h1M29.5 115.5h1M39.5 116.5h1M46.5 105.5h1M50.5 138.5h1M5.5 128.5h1M32.5 118.5h1M43.5 97.5h1M42.5 111.5h1M70.5 94.5h1M34.5 134.5h1M34.5 108.5h1M32.5 113.5h1M62.5 113.5h1M30.5 86.5h1M45.5 155.5h1M52.5 132.5h1M29.5 122.5h1M30.5 117.5h1M41.5 126.5h1M30.5 90.5h1M49.5 115.5h1M20.5 123.5h1M23.5 126.5h1M42.5 113.5h1M32.5 122.5h1M45.5 104.5h1M56.5 107.5h1M86.5 130.5h1M28.5 123.5h1M59.5 117.5h1M61.5 133.5h1M54.5 111.5h1M23.5 106.5h1M24.5 118.5h1M38.5 134.5h1M45.5 142.5h1M50.5 118.5h1M76.5 127.5h1M68.5 117.5h1M28.5 128.5h1M77.5 128.5h1M55.5 125.5h1M5.5 122.5h1M34.5 103.5h1M81.5 117.5h1M66.5 108.5h1M42.5 139.5h1M45.5 136.5h1M42.5 107.5h1M44.5 105.5h1M73.5 113.5h1M53.5 115.5h1M61.5 127.5h1M53.5 115.5h1M50.5 122.5h1M13.5 124.5h1M48.5 111.5h1M87.5 115.5h1M56.5 139.5h1M32.5 112.5h1M43.5 107.5h1M56.5 93.5h1M73.5 96.5h1M53.5 102.5h1M71.5 86.5h1M66.5 99.5h1M88.5 87.5h1M29.5 79.5h1M58.5 91.5h1M12.5 77.5h1M48.5 83.5h1M39.5 78.5h1M54.5 93.5h1M60.5 88.5h1M60.5 76.5h1M62.5 82.5h1M38.5 89.5h1M60.5 67.5h1M40.5 87.5h1M55.5 118.5h1M41.5 88.5h1M60.5 66.5h1M79.5 77.5h1M49.5 81.5h1M28.5 72.5h1M41.5 68.5h1M8.5 84.5h1M62.5 96.5h1M91.5 109.5h1M55.5 94.5h1M50.5 104.5h1M33.5 75.5h1M41.5 76.5h1M38.5 105.5h1M55.5 87.5h1M71.5 90.5h1M27.5 51.5h1M87.5 89.5h1M14.5 115.5h1M79.5 109.5h1M79.5 93.5h1M44.5 85.5h1M68.5 91.5h1M47.5 70.5h1M32.5 98.5h1M16.5 92.5h1M15.5 85.5h1M19.5 98.5h1M73.5 79.5h1M70.5 52.5h1M39.5 109.5h1M48.5 74.5h1M2.5 109.5h1M44.5 78.5h1M85.5 92.5h1M55.5 66.5h1M28.5 91.5h1M42.5 80.5h1M49.5 81.5h1M7.5 96.5h1M56.5 75.5h1M49.5 99.5h1M83.5 108.5h1M43.5 97.5h1M36.5 95.5h1M40.5 78.5h1M70.5 95.5h1M59.5 100.5h1M26.5 90.5h1M27.5 63.5h1M29.5 50.5h1M16.5 58.5h1M63.5 76.5h1M12.5 85.5h1M51.5 75.5h1M47.5 67.5h1M38.5 77.5h1M13.5 100.5h1M77.5 82.5h1M33.5 72.5h1M80.5 76.5h1M70.5 76.5h1M49.5 103.5h1M69.5 93.5h1M33.5 81.5h1M42.5 67.5h1M17.5 112.5h1M39.5 75.5h1M40.5 89.5h1M38.5 98.5h1M46.5 82.5h1M42.5 82.5h1M79.5 119.5h1M51.5 114.5h1M8.5 95.5h1M48.5 105.5h1M69.5 64.5h1M51.5 77.5h1M68.5 74.5h1M9.5 84.5h1M39.5 97.5h1M82.5 92.5h1M59.5 103.5h1M67.5 86.5h1M74.5 85.5h1M91.5 81.5h1M78.5 88.5h1M84.5 86.5h1M97.5 107.5h1M78.5 117.5h1M85.5 82.5h1M79.5 87.5h1M95.5 75.5h1M87.5 100.5h1M72.5 101.5h1M71.5 106.5h1M85.5 94.5h1M73.5 93.5h1M84.5 64.5h1M86.5 113.5h1M66.5 110.5h1M97.5 98.5h1M81.5 88.5h1M75.5 105.5h1M74.5 109.5h1M70.5 98.5h1M89.5 80.5h1M92.5 78.5h1M92.5 95.5h1M78.5 119.5h1M80.5 90.5h1M80.5 95.5h1M64.5 81.5h1M89.5 114.5h1M82.5 85.5h1M87.5 81.5h1M88.5 84.5h1M84.5 91.5h1M77.5 130.5h1M78.5 93.5h1M77.5 78.5h1M83.5 92.5h1M87.5 93.5h1M84.5 94.5h1M94.5 87.5h1M101.5 92.5h1M88.5 86.5h1M86.5 87.5h1M72.5 117.5h1M91.5 98.5h1M92.5 108.5h1M96.5 121.5h1M92.5 144.5h1M90.5 133.5h1M103.5 112.5h1M116.5 136.5h1M91.5 134.5h1M91.5 103.5h1M120.5 122.5h1M97.5 129.5h1M96.5 120.5h1M101.5 153.5h1M91.5 117.5h1M118.5 140.5h1M84.5 84.5h1M106.5 83.5h1M89.5 91.5h1M110.5 118.5h1M83.5 105.5h1M94.5 133.5h1M72.5 114.5h1M82.5 103.5h1M81.5 142.5h1M111.5 129.5h1M109.5 143.5h1M102.5 137.5h1M86.5 127.5h1M99.5 109.5h1M95.5 146.5h1M103.5 128.5h1M97.5 119.5h1M102.5 149.5h1M110.5 79.5h1M109.5 112.5h1M100.5 125.5h1M99.5 127.5h1M87.5 125.5h1M105.5 145.5h1M97.5 111.5h1M100.5 108.5h1M81.5 98.5h1M104.5 85.5h1M85.5 103.5h1M71.5 131.5h1M94.5 133.5h1M122.5 129.5h1M95.5 143.5h1M97.5 155.5h1M102.5 148.5h1M97.5 130.5h1M116.5 152.5h1M96.5 130.5h1M116.5 125.5h1M85.5 116.5h1M112.5 130.5h1M99.5 125.5h1M107.5 121.5h1M115.5 102.5h1M111.5 131.5h1M117.5 141.5h1M89.5 109.5h1M97.5 135.5h1M94.5 112.5h1M93.5 135.5h1M109.5 118.5h1M87.5 145.5h1M104.5 151.5h1M98.5 137.5h1M111.5 153.5h1M50.5 58.5h1M34.5 146.5h1M77.5 83.5h1M27.5 118.5h1M48.5 140.5h1M98.5 104.5h1M83.5 146.5h1M85.5 151.5h1M60.5 133.5h1M109.5 131.5h1M67.5 93.5h1M89.5 155.5h1M37.5 125.5h1M118.5 85.5h1M42.5 66.5h1M38.5 102.5h1M118.5 170.5h1M99.5 125.5h1M56.5 139.5h1M96.5 128.5h1M105.5 139.5h1M92.5 108.5h1M89.5 128.5h1M73.5 142.5h1M65.5 92.5h1M69.5 156.5h1M72.5 137.5h1M31.5 131.5h1M98.5 135.5h1M119.5 132.5h1M81.5 130.5h1M114.5 145.5h1M86.5 157.5h1M77.5 103.5h1M110.5 115.5h1M68.5 164.5h1M38.5 81.5h1M118.5 123.5h1M94.5 116.5h1M89.5 117.5h1M42.5 145.5h1M75.5 158.5h1M67.5 155.5h1M90.5 167.5h1M51.5 130.5h1M84.5 122.5h1M79.5 139.5h1" stroke="#333" stroke-opacity="0.55"/><path d="M44.5 142.5h1M52.5 127.5h1M40.5 134.5h1M65.5 144.5h1M55.5 90.5h1M56.5 103.5h1M57.5 92.5h1M38.5 99.5h1M50.5 128.5h1M45.5 136.5h1M41.5 123.5h1M60.5 113.5h1M56.5 89.5h1M54.5 132.5h1M54.5 106.5h1M73.5 150.5h1M43.5 107.5h1M46.5 124.5h1M41.5 130.5h1M3.5 119.5h1M64.5 122.5h1M44.5 106.5h1M52.5 108.5h1M40.5 122.5h1M44.5 117.5h1M52.5 135.5h1M34.5 131.5h1M50.5 118.5h1M57.5 118.5h1M40.5 95.5h1M25.5 108.5h1M16.5 112.5h1M44.5 110.5h1M87.5 71.5h1M25.5 128.5h1M42.5 105.5h1M56.5 127.5h1M33.5 120.5h1M44.5 132.5h1M46.5 149.5h1M1.5 143.5h1M41.5 116.5h1M48.5 125.5h1M48.5 117.5h1M63.5 124.5h1M44.5 136.5h1M46.5 123.5h1M13.5 134.5h1M74.5 139.5h1M57.5 90.5h1M41.5 95.5h1M45.5 127.5h1M41.5 115.5h1M30.5 106.5h1M56.5 107.5h1M61.5 111.5h1M32.5 138.5h1M29.5 120.5h1M28.5 129.5h1M39.5 130.5h1M47.5 139.5h1M31.5 97.5h1M66.5 125.5h1M45.5 131.5h1M43.5 111.5h1M62.5 145.5h1M65.5 133.5h1M44.5 97.5h1M72.5 108.5h1M47.5 100.5h1M33.5 124.5h1M20.5 136.5h1M19.5 112.5h1M44.5 84.5h1M28.5 126.5h1M59.5 122.5h1M47.5 101.5h1M60.5 124.5h1M51.5 112.5h1M81.5 140.5h1M10.5 130.5h1M39.5 118.5h1M12.5 136.5h1M41.5 119.5h1M54.5 116.5h1M44.5 115.5h1M38.5 142.5h1M36.5 102.5h1M44.5 112.5h1M67.5 122.5h1M63.5 102.5h1M59.5 136.5h1M17.5 114.5h1M39.5 115.5h1M35.5 117.5h1M47.5 142.5h1M48.5 131.5h1M46.5 135.5h1M44.5 127.5h1M39.5 120.5h1M57.5 128.5h1M41.5 101.5h1M59.5 114.5h1M26.5 146.5h1M65.5 93.5h1M54.5 115.5h1M64.5 128.5h1M48.5 128.5h1M63.5 115.5h1M39.5 121.5h1M47.5 126.5h1M44.5 116.5h1M53.5 93.5h1M45.5 91.5h1M45.5 150.5h1M47.5 125.5h1M69.5 99.5h1M43.5 116.5h1M59.5 154.5h1M24.5 129.5h1M56.5 99.5h1M53.5 152.5h1M43.5 110.5h1M30.5 129.5h1M51.5 138.5h1M50.5 130.5h1M52.5 127.5h1M50.5 128.5h1M60.5 108.5h1M14.5 124.5h1M31.5 123.5h1M56.5 99.5h1M44.5 127.5h1M19.5 131.5h1M60.5 113.5h1M62.5 124.5h1M79.5 96.5h1M29.5 146.5h1M60.5 126.5h1M41.5 129.5h1M72.5 140.5h1M52.5 85.5h1M50.5 124.5h1M57.5 114.5h1M47.5 122.5h1M56.5 152.5h1M64.5 129.5h1M30.5 98.5h1M33.5 110.5h1M54.5 134.5h1M50.5 111.5h1M54.5 129.5h1M41.5 124.5h1M29.5 108.5h1M22.5 105.5h1M36.5 126.5h1M66.5 117.5h1M19.5 94.5h1M34.5 123.5h1M38.5 100.5h1M24.5 94.5h1M33.5 98.5h1M66.5 100.5h1M27.5 114.5h1M36.5 86.5h1M17.5 99.5h1M27.5 112.5h1M45.5 123.5h1M44.5 122.5h1M49.5 136.5h1M70.5 143.5h1M50.5 121.5h1M48.5 115.5h1M11.5 111.5h1M28.5 84.5h1M56.5 116.5h1M93.5 106.5h1M6.5 119.5h1M57.5 105.5h1M62.5 124.5h1M34.5 108.5h1M87.5 110.5h1M37.5 118.5h1M34.5 115.5h1M42.5 105.5h1M28.5 112.5h1M52.5 128.5h1M40.5 117.5h1M64.5 112.5h1M50.5 105.5h1M53.5 128.5h1M68.5 113.5h1M52.5 97.5h1M33.5 101.5h1M33.5 72.5h1M7.5 64.5h1M54.5 78.5h1M43.5 78.5h1M18.5 98.5h1M61.5 78.5h1M14.5 93.5h1M79.5 98.5h1M42.5 76.5h1M18.5 75.5h1M59.5 100.5h1M49.5 83.5h1M79.5 101.5h1M50.5 88.5h1M33.5 103.5h1M36.5 90.5h1M31.5 99.5h1M48.5 71.5h1M69.5 75.5h1M36.5 73.5h1M43.5 65.5h1M37.5 83.5h1M34.5 77.5h1M20.5 96.5h1M20.5 79.5h1M23.5 47.5h1M41.5 77.5h1M20.5 68.5h1M41.5 99.5h1M14.5 91.5h1M7.5 71.5h1M41.5 88.5h1M28.5 87.5h1M55.5 90.5h1M88.5 95.5h1M50.5 90.5h1M14.5 85.5h1M40.5 79.5h1M51.5 72.5h1M33.5 74.5h1M89.5 67.5h1M17.5 98.5h1M37.5 78.5h1M60.5 82.5h1M41.5 81.5h1M23.5 105.5h1M69.5 97.5h1M69.5 82.5h1M18.5 68.5h1M88.5 79.5h1M89.5 74.5h1M34.5 104.5h1M56.5 77.5h1M49.5 80.5h1M30.5 86.5h1M66.5 102.5h1M24.5 51.5h1M52.5 77.5h1M77.5 100.5h1M18.5 97.5h1M36.5 75.5h1M29.5 99.5h1M32.5 95.5h1M55.5 91.5h1M87.5 96.5h1M58.5 85.5h1M35.5 103.5h1M50.5 73.5h1M28.5 89.5h1M37.5 75.5h1M34.5 93.5h1M20.5 88.5h1M43.5 73.5h1M45.5 100.5h1M74.5 67.5h1M19.5 87.5h1M31.5 98.5h1M22.5 109.5h1M79.5 110.5h1M70.5 79.5h1M49.5 77.5h1M42.5 72.5h1M52.5 93.5h1M18.5 96.5h1M60.5 92.5h1M2.5 98.5h1M28.5 78.5h1M39.5 85.5h1M30.5 78.5h1M52.5 87.5h1M18.5 68.5h1M2.5 59.5h1M62.5 77.5h1M57.5 69.5h1M30.5 83.5h1M80.5 102.5h1M53.5 106.5h1M26.5 73.5h1M32.5 106.5h1M42.5 78.5h1M47.5 89.5h1M56.5 86.5h1M29.5 76.5h1M67.5 109.5h1M50.5 52.5h1M102.5 84.5h1M25.5 107.5h1M56.5 89.5h1M79.5 107.5h1M55.5 93.5h1M82.5 88.5h1M70.5 110.5h1M59.5 106.5h1M83.5 96.5h1M66.5 107.5h1M82.5 99.5h1M70.5 97.5h1M78.5 76.5h1M54.5 96.5h1M85.5 90.5h1M83.5 107.5h1M80.5 103.5h1M83.5 94.5h1M82.5 116.5h1M75.5 106.5h1M76.5 74.5h1M72.5 114.5h1M72.5 108.5h1M65.5 75.5h1M77.5 108.5h1M75.5 98.5h1M85.5 87.5h1M81.5 105.5h1M75.5 111.5h1M80.5 77.5h1M72.5 124.5h1M68.5 71.5h1M83.5 73.5h1M82.5 115.5h1M67.5 97.5h1M78.5 94.5h1M82.5 99.5h1M59.5 89.5h1M83.5 101.5h1M78.5 79.5h1M82.5 109.5h1M79.5 95.5h1M87.5 120.5h1M75.5 103.5h1M86.5 98.5h1M66.5 78.5h1M78.5 107.5h1M80.5 108.5h1M78.5 86.5h1M74.5 84.5h1M77.5 118.5h1M82.5 107.5h1M71.5 107.5h1M82.5 109.5h1M87.5 106.5h1M65.5 99.5h1M92.5 88.5h1M70.5 106.5h1M92.5 77.5h1M91.5 104.5h1M67.5 101.5h1M79.5 116.5h1M69.5 82.5h1M96.5 114.5h1M69.5 91.5h1M94.5 124.5h1M113.5 123.5h1M105.5 136.5h1M80.5 117.5h1M95.5 105.5h1M116.5 110.5h1M119.5 105.5h1M116.5 114.5h1M110.5 123.5h1M101.5 141.5h1M89.5 162.5h1M105.5 83.5h1M92.5 160.5h1M105.5 154.5h1M90.5 170.5h1M103.5 132.5h1M92.5 151.5h1M82.5 127.5h1M100.5 106.5h1M114.5 127.5h1M95.5 127.5h1M116.5 163.5h1M97.5 132.5h1M117.5 131.5h1M91.5 100.5h1M82.5 126.5h1M95.5 168.5h1M110.5 106.5h1M123.5 143.5h1M128.5 149.5h1M90.5 123.5h1M108.5 91.5h1M107.5 78.5h1M112.5 120.5h1M107.5 143.5h1M111.5 130.5h1M96.5 131.5h1M93.5 147.5h1M116.5 105.5h1M89.5 136.5h1M103.5 148.5h1M100.5 157.5h1M102.5 107.5h1M101.5 124.5h1M94.5 156.5h1M100.5 123.5h1M109.5 104.5h1M101.5 140.5h1M90.5 160.5h1M106.5 144.5h1M100.5 123.5h1M74.5 148.5h1M119.5 156.5h1M108.5 124.5h1M137.5 135.5h1M121.5 149.5h1M86.5 130.5h1M103.5 110.5h1M109.5 149.5h1M94.5 106.5h1M104.5 129.5h1M108.5 111.5h1M105.5 150.5h1M112.5 133.5h1M108.5 157.5h1M94.5 105.5h1M107.5 143.5h1M107.5 131.5h1M97.5 140.5h1M99.5 124.5h1M59.5 162.5h1M84.5 158.5h1M87.5 153.5h1M56.5 116.5h1M58.5 128.5h1M56.5 133.5h1M134.5 101.5h1M104.5 108.5h1M67.5 154.5h1M57.5 163.5h1M122.5 156.5h1M72.5 87.5h1M79.5 127.5h1M9.5 154.5h1M57.5 137.5h1M107.5 116.5h1M44.5 140.5h1M88.5 160.5h1M96.5 141.5h1M83.5 96.5h1M49.5 105.5h1M98.5 123.5h1M94.5 153.5h1M48.5 122.5h1M69.5 128.5h1M40.5 130.5h1M115.5 141.5h1M80.5 118.5h1M68.5 130.5h1M61.5 125.5h1M70.5 98.5h1M88.5 79.5h1M106.5 164.5h1M56.5 107.5h1M61.5 103.5h1M97.5 142.5h1M116.5 155.5h1M80.5 145.5h1M62.5 154.5h1M76.5 149.5h1M25.5 126.5h1" stroke="#555" stroke-opacity="0.35"/><path d="M59.5 131.5h1M75.5 95.5h1M57.5 118.5h1M45.5 134.5h1M80.5 89.5h1M37.5 131.5h1M80.5 85.5h1M7.5 79.5h1M59.5 119.5h1M67.5 105.5h1M11.5 87.5h1M81.5 93.5h1M55.5 135.5h1M57.5 130.5h1M40.5 67.5h1M35.5 134.5h1M30.5 104.5h1M17.5 69.5h1M66.5 113.5h1M26.5 111.5h1M25.5 105.5h1M50.5 134.5h1M37.5 127.5h1M27.5 69.5h1M61.5 134.5h1M16.5 76.5h1M20.5 97.5h1M25.5 69.5h1M77.5 84.5h1M65.5 70.5h1M26.5 105.5h1M66.5 104.5h1M61.5 109.5h1M79.5 99.5h1M60.5 124.5h1M42.5 139.5h1M34.5 123.5h1M27.5 103.5h1M35.5 119.5h1M31.5 110.5h1M46.5 67.5h1M16.5 92.5h1M13.5 74.5h1M9.5 80.5h1M66.5 104.5h1M67.5 110.5h1M28.5 116.5h1M57.5 133.5h1M37.5 67.5h1M70.5 70.5h1M32.5 68.5h1M56.5 64.5h1M22.5 97.5h1M48.5 66.5h1M63.5 121.5h1M64.5 56.5h1M29.5 104.5h1M69.5 104.5h1M79.5 96.5h1M12.5 87.5h1M60.5 117.5h1M30.5 109.5h1M76.5 88.5h1M66.5 106.5h1M40.5 135.5h1M28.5 106.5h1M64.5 119.5h1M71.5 70.5h1M64.5 108.5h1M37.5 131.5h1M62.5 115.5h1M83.5 76.5h1M78.5 80.5h1M43.5 138.5h1M12.5 80.5h1M35.5 125.5h1M19.5 98.5h1M19.5 66.5h1M23.5 67.5h1M29.5 109.5h1M57.5 127.5h1M59.5 122.5h1M65.5 109.5h1M35.5 117.5h1M58.5 125.5h1M29.5 69.5h1M73.5 66.5h1M37.5 132.5h1M58.5 121.5h1M41.5 137.5h1M58.5 127.5h1M70.5 103.5h1M63.5 68.5h1M47.5 138.5h1M15.5 98.5h1M33.5 63.5h1M79.5 72.5h1M27.5 69.5h1M49.5 140.5h1M66.5 103.5h1M33.5 113.5h1M67.5 63.5h1M40.5 135.5h1M28.5 116.5h1M72.5 100.5h1M13.5 88.5h1M70.5 104.5h1M70.5 105.5h1M76.5 73.5h1M58.5 130.5h1M59.5 117.5h1M68.5 102.5h1M73.5 71.5h1M14.5 91.5h1M17.5 73.5h1M73.5 76.5h1M71.5 71.5h1M24.5 69.5h1M59.5 129.5h1M36.5 130.5h1M44.5 131.5h1M59.5 119.5h1M33.5 117.5h1M41.5 135.5h1M71.5 100.5h1M39.5 64.5h1M30.5 113.5h1M71.5 71.5h1M30.5 66.5h1M71.5 102.5h1M62.5 122.5h1M79.5 91.5h1M24.5 105.5h1M59.5 124.5h1M18.5 95.5h1M64.5 107.5h1M59.5 114.5h1M62.5 121.5h1M59.5 119.5h1M28.5 118.5h1" stroke="#333" stroke-opacity="0.5"/><path d="M40.5 62.5h1M36.5 129.5h1M58.5 131.5h1M35.5 125.5h1M77.5 78.5h1M24.5 104.5h1M61.5 109.5h1M59.5 130.5h1M65.5 108.5h1M45.5 136.5h1M55.5 65.5h1M77.5 72.5h1M28.5 112.5h1M14.5 92.5h1M64.5 106.5h1M75.5 93.5h1M73.5 73.5h1M76.5 93.5h1M47.5 142.5h1M59.5 121.5h1M25.5 107.5h1M36.5 135.5h1M78.5 89.5h1M22.5 104.5h1M37.5 135.5h1M44.5 66.5h1M75.5 102.5h1M78.5 76.5h1M62.5 66.5h1M32.5 119.5h1M38.5 133.5h1M40.5 64.5h1M16.5 91.5h1M83.5 91.5h1M27.5 103.5h1M13.5 85.5h1M50.5 137.5h1M37.5 134.5h1M33.5 115.5h1M9.5 79.5h1M79.5 93.5h1M16.5 92.5h1M68.5 104.5h1M17.5 95.5h1M46.5 67.5h1M59.5 113.5h1M20.5 97.5h1M59.5 122.5h1M71.5 102.5h1M11.5 81.5h1M66.5 110.5h1M49.5 134.5h1M41.5 138.5h1M44.5 137.5h1M34.5 123.5h1M24.5 103.5h1M30.5 108.5h1M27.5 105.5h1M20.5 97.5h1M71.5 71.5h1M33.5 123.5h1M59.5 128.5h1M41.5 135.5h1M13.5 88.5h1M62.5 124.5h1M75.5 82.5h1M54.5 64.5h1M33.5 122.5h1M75.5 72.5h1M67.5 112.5h1M52.5 136.5h1M65.5 108.5h1M19.5 95.5h1M82.5 88.5h1M38.5 134.5h1M50.5 135.5h1M56.5 125.5h1M63.5 104.5h1M68.5 103.5h1M63.5 106.5h1M38.5 131.5h1M54.5 135.5h1M29.5 107.5h1M72.5 100.5h1M52.5 132.5h1M81.5 86.5h1M23.5 101.5h1M4.5 77.5h1M61.5 128.5h1M34.5 114.5h1M70.5 100.5h1M72.5 96.5h1M69.5 105.5h1M16.5 93.5h1M25.5 101.5h1M13.5 79.5h1M61.5 116.5h1M57.5 134.5h1M55.5 63.5h1M55.5 130.5h1M12.5 81.5h1M29.5 67.5h1M37.5 133.5h1M61.5 107.5h1M79.5 74.5h1M71.5 73.5h1M67.5 64.5h1M15.5 80.5h1M31.5 113.5h1M13.5 68.5h1M77.5 88.5h1M62.5 68.5h1M67.5 103.5h1M75.5 76.5h1M75.5 97.5h1M33.5 121.5h1M79.5 82.5h1M60.5 116.5h1M11.5 86.5h1M75.5 93.5h1M61.5 109.5h1M27.5 115.5h1M77.5 96.5h1M73.5 97.5h1M31.5 110.5h1M21.5 98.5h1M24.5 101.5h1M15.5 97.5h1M80.5 90.5h1M75.5 95.5h1M14.5 77.5h1M63.5 111.5h1M15.5 78.5h1M58.5 63.5h1M78.5 78.5h1M61.5 121.5h1M75.5 96.5h1M83.5 88.5h1M77.5 82.5h1M18.5 95.5h1" stroke="#666" stroke-opacity="0.35"/><path d="M121.5 104.5h1M123.5 118.5h1M92.5 153.5h1M117.5 110.5h1M97.5 159.5h1M103.5 100.5h1M125.5 117.5h1M106.5 98.5h1M123.5 150.5h1M101.5 162.5h1M100.5 102.5h1M121.5 123.5h1M96.5 98.5h1M99.5 166.5h1M126.5 114.5h1M104.5 170.5h1M105.5 167.5h1M86.5 116.5h1M105.5 162.5h1M97.5 164.5h1M105.5 99.5h1M99.5 162.5h1M99.5 99.5h1M100.5 101.5h1M114.5 160.5h1M91.5 152.5h1M120.5 112.5h1M102.5 100.5h1M87.5 114.5h1M116.5 102.5h1M88.5 149.5h1M87.5 131.5h1M87.5 99.5h1M89.5 109.5h1M88.5 105.5h1M120.5 143.5h1M90.5 146.5h1M89.5 109.5h1M122.5 116.5h1M91.5 147.5h1M102.5 100.5h1M87.5 118.5h1M123.5 128.5h1M107.5 163.5h1M95.5 104.5h1M122.5 148.5h1M89.5 154.5h1M118.5 111.5h1M109.5 164.5h1M87.5 132.5h1M112.5 102.5h1M98.5 159.5h1M101.5 166.5h1M119.5 112.5h1M97.5 100.5h1M123.5 136.5h1M107.5 100.5h1M98.5 165.5h1M106.5 164.5h1M87.5 127.5h1M121.5 143.5h1M81.5 131.5h1M113.5 155.5h1M122.5 126.5h1M104.5 161.5h1M121.5 111.5h1M89.5 143.5h1M88.5 107.5h1M122.5 133.5h1M97.5 102.5h1M107.5 97.5h1M103.5 101.5h1M86.5 120.5h1M106.5 163.5h1M123.5 106.5h1M86.5 139.5h1M114.5 153.5h1M87.5 133.5h1M108.5 98.5h1M96.5 104.5h1M89.5 154.5h1M89.5 143.5h1M102.5 101.5h1M90.5 155.5h1M100.5 98.5h1M92.5 157.5h1M114.5 156.5h1M97.5 103.5h1" stroke="#333" stroke-opacity="0.5"/><path d="M100.5 167.5h1M105.5 95.5h1M119.5 112.5h1M126.5 129.5h1M91.5 150.5h1M92.5 105.5h1M122.5 113.5h1M119.5 152.5h1M95.5 155.5h1M128.5 123.5h1M85.5 146.5h1M86.5 131.5h1M88.5 138.5h1M106.5 167.5h1M106.5 103.5h1M120.5 139.5h1M115.5 106.5h1M111.5 104.5h1M113.5 158.5h1M104.5 101.5h1M117.5 106.5h1M129.5 127.5h1M116.5 98.5h1M91.5 159.5h1M113.5 157.5h1M102.5 95.5h1M106.5 96.5h1M121.5 138.5h1M85.5 128.5h1M98.5 162.5h1M111.5 161.5h1M82.5 126.5h1M127.5 141.5h1M122.5 122.5h1M123.5 125.5h1M118.5 153.5h1M90.5 146.5h1M120.5 151.5h1M103.5 96.5h1M88.5 122.5h1M126.5 128.5h1M102.5 103.5h1M113.5 101.5h1M118.5 106.5h1M112.5 164.5h1M104.5 98.5h1M89.5 103.5h1M104.5 100.5h1M124.5 115.5h1M121.5 114.5h1M94.5 100.5h1M117.5 107.5h1M106.5 167.5h1M123.5 132.5h1M107.5 164.5h1M91.5 143.5h1M95.5 159.5h1M112.5 102.5h1M118.5 153.5h1M89.5 109.5h1M88.5 141.5h1M107.5 102.5h1M96.5 163.5h1M128.5 134.5h1M114.5 159.5h1M96.5 158.5h1M110.5 164.5h1M123.5 130.5h1M93.5 152.5h1M104.5 164.5h1M119.5 104.5h1M92.5 97.5h1M93.5 153.5h1M92.5 105.5h1M91.5 105.5h1M125.5 106.5h1M120.5 107.5h1M106.5 101.5h1M111.5 104.5h1M114.5 102.5h1M84.5 138.5h1M104.5 167.5h1M120.5 109.5h1M103.5 98.5h1M113.5 99.5h1M118.5 152.5h1M105.5 165.5h1M124.5 129.5h1M86.5 120.5h1M91.5 99.5h1M105.5 100.5h1M92.5 107.5h1M122.5 144.5h1M104.5 99.5h1" stroke="#666" stroke-opacity="0.35"/><path d="M14.4,81.9C14.7,79.6 15.3,77.2 18.1,75.3C20.9,73.4 26.1,71.7 31.1,70.7C36.1,69.7 42.3,69.4 47.9,69.2C53.5,69.0 60.6,68.6 64.6,69.8C68.6,71.0 70.4,73.7 72.1,76.3C73.8,78.9 74.6,82.5 74.9,85.6C75.2,88.7 75.0,92.4 73.9,94.9C72.8,97.4 70.5,99.0 68.3,100.5C66.1,102.0 62.8,102.4 60.9,104.2C59.0,106.0 57.7,108.8 57.2,111.6C56.7,114.4 58.6,117.8 58.1,120.9C57.6,124.0 56.4,128.2 54.4,130.2C52.4,132.2 48.6,133.0 46.0,133.0C43.4,133.0 40.3,132.2 38.6,130.2C36.9,128.2 36.4,124.0 35.8,120.9C35.2,117.8 35.6,114.4 34.8,111.6C34.0,108.8 33.3,106.7 31.1,104.2C28.9,101.7 24.3,99.2 21.8,96.7C19.3,94.2 17.4,91.8 16.2,89.3C15.0,86.8 14.1,84.2 14.4,81.9Z" fill="#000" stroke="#000" stroke-width="4" stroke-linejoin="round"/><path d="M36,103L57,103L49,119Z" fill="#aaa"/><defs><path id="z8" d="M14.4,81.9C14.8,79.6 15.3,77.2 18.1,75.3C20.9,73.4 26.1,71.7 31.1,70.7C36.1,69.7 42.3,69.4 47.9,69.2C53.5,69.0 60.6,68.6 64.6,69.8C68.6,71.0 70.4,73.7 72.1,76.3C73.8,78.9 74.6,82.5 74.9,85.6C75.2,88.7 75.0,92.5 73.9,94.9C72.8,97.3 71.5,98.8 68.3,100.0C65.1,101.2 59.7,101.7 55.0,102.0C50.3,102.3 44.5,102.3 40.0,102.0C35.5,101.7 31.3,101.2 28.0,100.0C24.7,98.8 22.0,96.8 20.0,95.0C18.0,93.2 16.9,91.2 16.0,89.0C15.1,86.8 14.1,84.2 14.4,81.9Z" stroke-width="0.7" vector-effect="non-scaling-stroke"/></defs><use href="#z8" fill="url(#zl)" stroke="#cfcfcf" transform="translate(43.2,83.7) scale(0.96) translate(-43.2,-83.7)"/><use href="#z8" fill="url(#zl)" stroke="#cfcfcf" transform="translate(43.2,83.7) scale(0.6) translate(-43.2,-83.7)"/><use href="#z8" fill="url(#zl)" stroke="#cfcfcf" transform="translate(43.2,83.7) scale(0.42) translate(-43.2,-83.7)"/><use href="#z8" fill="url(#zl)" stroke="#cfcfcf" transform="translate(43.2,83.7) scale(0.26) translate(-43.2,-83.7)"/><use href="#z8" fill="url(#zl)" stroke="#cfcfcf" transform="translate(43.2,83.7) scale(0.13) translate(-43.2,-83.7)"/><path d="M106.5,103.3C108.8,103.8 112.6,104.7 114.8,107.0C117.0,109.3 118.6,113.3 119.5,117.2C120.4,121.1 120.7,125.6 120.4,130.2C120.1,134.8 119.1,140.0 117.6,144.6C116.0,149.2 113.1,154.8 111.1,157.6C109.1,160.4 107.7,161.4 105.5,161.4C103.3,161.4 100.3,160.1 98.1,157.6C95.9,155.1 94.0,151.2 92.5,146.5C91.0,141.8 89.3,135.0 88.8,129.7C88.2,124.4 88.3,118.7 89.2,114.8C90.1,110.9 92.5,108.3 94.4,106.5C96.4,104.7 98.9,104.3 100.9,103.8C102.9,103.3 104.2,102.8 106.5,103.3Z" fill="#888" stroke="#000" stroke-width="4" stroke-linejoin="round"/><defs><path id="z9" d="M106.5,103.3C108.8,103.8 112.6,104.7 114.8,107.0C117.0,109.3 118.6,113.3 119.5,117.2C120.4,121.1 120.7,125.6 120.4,130.2C120.1,134.8 119.1,140.0 117.6,144.6C116.0,149.2 113.1,154.8 111.1,157.6C109.1,160.4 107.7,161.4 105.5,161.4C103.3,161.4 100.3,160.1 98.1,157.6C95.9,155.1 94.0,151.2 92.5,146.5C91.0,141.8 89.3,135.0 88.8,129.7C88.2,124.4 88.3,118.7 89.2,114.8C90.1,110.9 92.5,108.3 94.4,106.5C96.4,104.7 98.9,104.3 100.9,103.8C102.9,103.3 104.2,102.8 106.5,103.3Z" stroke-width="0.7" vector-effect="non-scaling-stroke"/></defs><use href="#z9" fill="url(#zg)" stroke="#d0d0d0" transform="translate(105.5,128.4) scale(0.96) translate(-105.5,-128.4)"/><use href="#z9" fill="url(#zg2)" stroke="#8a8a8a" transform="translate(105.5,128.4) scale(0.62) translate(-105.5,-128.4)"/><use href="#z9" fill="url(#zg2)" stroke="#8a8a8a" transform="translate(105.5,128.4) scale(0.42) translate(-105.5,-128.4)"/><use href="#z9" fill="url(#zg2)" stroke="#8a8a8a" transform="translate(105.5,128.4) scale(0.24) translate(-105.5,-128.4)"/><path d="M75.7,0V174M0,105.7H175" stroke="#4646c4" stroke-width="1.5" fill="none" style="mix-blend-mode:multiply"/><path d="M0,0V174H175" stroke="#000" stroke-width="1.4" fill="none"/><path d="M-3.5,13.6H0M-3.5,48.9H0M-3.5,84.2H0M-3.5,119.5H0M-3.5,148.0H0M-1.6,38.3H0M-1.6,32.1H0M-1.6,27.6H0M-1.6,24.2H0M-1.6,21.4H0M-1.6,19.1H0M-1.6,17.0H0M-1.6,15.2H0M-1.6,73.6H0M-1.6,67.4H0M-1.6,62.9H0M-1.6,59.5H0M-1.6,56.7H0M-1.6,54.4H0M-1.6,52.3H0M-1.6,50.5H0M-1.6,108.9H0M-1.6,102.7H0M-1.6,98.2H0M-1.6,94.8H0M-1.6,92.0H0M-1.6,89.7H0M-1.6,87.6H0M-1.6,85.8H0M-1.6,124.0H0M-1.6,128.5H0M-1.6,132.5H0M-1.6,136.5H0M-1.6,140.5H0M-1.6,144.5H0M-1.6,151.5H0M-1.6,156.0H0M-1.6,160.5H0M-1.6,165.5H0M-3.5,174H0M51.6,174V177.5M87.5,174V177.5M123.0,174V177.5M158.5,174V177.5M28.4,174V177.5M8.3,174V177.5M62.3,174V175.8M68.6,174V175.8M73.0,174V175.8M76.5,174V175.8M79.3,174V175.8M81.7,174V175.8M83.8,174V175.8M85.6,174V175.8M98.2,174V175.8M104.5,174V175.8M108.9,174V175.8M112.4,174V175.8M115.2,174V175.8M117.6,174V175.8M119.7,174V175.8M121.5,174V175.8M133.7,174V175.8M140.0,174V175.8M144.4,174V175.8M147.9,174V175.8M150.7,174V175.8M153.1,174V175.8M155.2,174V175.8M157.0,174V175.8M12.5,174V175.8M16.5,174V175.8M20.5,174V175.8M24.5,174V175.8M32.5,174V175.8M36.5,174V175.8M40.5,174V175.8M44.5,174V175.8M48.0,174V175.8" stroke="#000" stroke-width="1" fill="none"/><text x="-9" y="19.2" font-size="16" text-anchor="end">10<tspan font-size="12" dy="-5.2">5</tspan></text><text x="-9" y="54.5" font-size="16" text-anchor="end">10<tspan font-size="12" dy="-5.2">4</tspan></text><text x="-9" y="89.8" font-size="16" text-anchor="end">10<tspan font-size="12" dy="-5.2">3</tspan></text><text x="-9" y="125.1" font-size="16" text-anchor="end">10<tspan font-size="12" dy="-5.2">2</tspan></text><text x="-9.5" y="153.6" font-size="16" text-anchor="end">0</text><text x="51.6" y="196.3" font-size="16" text-anchor="middle">10<tspan font-size="12" dy="-5.2">2</tspan></text><text x="87.5" y="196.3" font-size="16" text-anchor="middle">10<tspan font-size="12" dy="-5.2">3</tspan></text><text x="123.0" y="196.3" font-size="16" text-anchor="middle">10<tspan font-size="12" dy="-5.2">4</tspan></text><text x="158.5" y="196.3" font-size="16" text-anchor="middle">10<tspan font-size="12" dy="-5.2">5</tspan></text><text x="29.4" y="196.3" font-size="16" text-anchor="middle">0</text><path d="M94.5,25.9H158.2M126.3,8.4V44.3" stroke="#000" stroke-width="2" fill="none"/><text x="119.7" y="21.6" font-size="16" text-anchor="end">47.3</text><text x="128.7" y="21.6" font-size="16">0.32</text><text x="119.7" y="41.8" font-size="16" text-anchor="end">2.55</text><text x="128.7" y="41.8" font-size="16">50.3</text></g>
<text x="0.5" y="327" font-size="27.5" font-weight="bold">b</text>
<text x="117.5" y="326.2" font-size="18.6">Gated on viable<tspan font-size="13" y="319.9">+</tspan><tspan y="326.2">TCRβ</tspan><tspan font-size="13" y="319.9">+</tspan></text>
<text x="4.3" y="431.3" font-size="18.6">Spleen</text>
<g transform="translate(116.5,340)"><path d="M0,0.6H174.6V174" stroke="#a8a8a8" stroke-width="1.2" fill="none"/><path d="M33.5 125.5h1M50.5 116.5h1M26.5 106.5h1M55.5 130.5h1M37.5 140.5h1M46.5 115.5h1M58.5 123.5h1M29.5 118.5h1M57.5 122.5h1M60.5 138.5h1M58.5 128.5h1M31.5 125.5h1M41.5 117.5h1M56.5 131.5h1M44.5 123.5h1M39.5 122.5h1M34.5 109.5h1M39.5 128.5h1M35.5 127.5h1M54.5 111.5h1M38.5 133.5h1M39.5 117.5h1M23.5 136.5h1M54.5 131.5h1M39.5 115.5h1M35.5 130.5h1M27.5 102.5h1M49.5 113.5h1M50.5 96.5h1M31.5 157.5h1M42.5 126.5h1M60.5 134.5h1M48.5 128.5h1M37.5 127.5h1M32.5 121.5h1M35.5 142.5h1M30.5 122.5h1M28.5 102.5h1M30.5 120.5h1M31.5 122.5h1M52.5 146.5h1M46.5 117.5h1M59.5 122.5h1M41.5 127.5h1M44.5 124.5h1M33.5 107.5h1M37.5 108.5h1M43.5 108.5h1M45.5 131.5h1M43.5 105.5h1M38.5 98.5h1M38.5 134.5h1M47.5 131.5h1M52.5 111.5h1M15.5 132.5h1M28.5 119.5h1M27.5 126.5h1M57.5 110.5h1M63.5 106.5h1M42.5 115.5h1M61.5 122.5h1M55.5 116.5h1M36.5 145.5h1M39.5 127.5h1M37.5 118.5h1M30.5 136.5h1M34.5 129.5h1M44.5 107.5h1M59.5 106.5h1M53.5 130.5h1M43.5 101.5h1M51.5 120.5h1M45.5 118.5h1M60.5 125.5h1M37.5 131.5h1M31.5 125.5h1M24.5 130.5h1M48.5 106.5h1M39.5 127.5h1M40.5 124.5h1M25.5 103.5h1M41.5 134.5h1M35.5 121.5h1M46.5 114.5h1M37.5 123.5h1M34.5 124.5h1M70.5 120.5h1M19.5 107.5h1M36.5 128.5h1M61.5 130.5h1M36.5 84.5h1M17.5 92.5h1M63.5 81.5h1M55.5 68.5h1M30.5 98.5h1M55.5 83.5h1M48.5 88.5h1M26.5 89.5h1M63.5 83.5h1M99.5 84.5h1M46.5 100.5h1M26.5 74.5h1M45.5 101.5h1M43.5 83.5h1M32.5 93.5h1M76.5 85.5h1M48.5 98.5h1M53.5 86.5h1M39.5 92.5h1M72.5 66.5h1M71.5 71.5h1M37.5 90.5h1M75.5 90.5h1M16.5 84.5h1M37.5 91.5h1M46.5 82.5h1M54.5 87.5h1M29.5 90.5h1M8.5 113.5h1M42.5 84.5h1M47.5 73.5h1M19.5 77.5h1M57.5 106.5h1M61.5 86.5h1M55.5 72.5h1M56.5 83.5h1M13.5 62.5h1M8.5 81.5h1M52.5 65.5h1M31.5 85.5h1M51.5 79.5h1M42.5 89.5h1M60.5 98.5h1M37.5 101.5h1M41.5 94.5h1M95.5 104.5h1M86.5 110.5h1M73.5 72.5h1M87.5 99.5h1M98.5 107.5h1M77.5 113.5h1M84.5 99.5h1M81.5 91.5h1M75.5 76.5h1M82.5 98.5h1M92.5 114.5h1M79.5 85.5h1M80.5 103.5h1M96.5 88.5h1M77.5 88.5h1M90.5 100.5h1M74.5 91.5h1M86.5 79.5h1M88.5 97.5h1M99.5 128.5h1M63.5 69.5h1M85.5 102.5h1M89.5 106.5h1M86.5 88.5h1M79.5 109.5h1M74.5 116.5h1M77.5 115.5h1M95.5 79.5h1M86.5 93.5h1M83.5 76.5h1M79.5 84.5h1M92.5 115.5h1M85.5 120.5h1M70.5 105.5h1M88.5 107.5h1M70.5 115.5h1M84.5 91.5h1M75.5 103.5h1M86.5 99.5h1M75.5 90.5h1M94.5 90.5h1M77.5 91.5h1M58.5 84.5h1M109.5 114.5h1M89.5 110.5h1M92.5 131.5h1M95.5 116.5h1M95.5 155.5h1M94.5 147.5h1M104.5 145.5h1M98.5 98.5h1M110.5 110.5h1M98.5 153.5h1M106.5 118.5h1M98.5 120.5h1M103.5 117.5h1M112.5 136.5h1M90.5 112.5h1M98.5 88.5h1M107.5 110.5h1M84.5 90.5h1M96.5 129.5h1M111.5 100.5h1M99.5 131.5h1M105.5 149.5h1M117.5 112.5h1M98.5 146.5h1M101.5 100.5h1M87.5 105.5h1M117.5 165.5h1M100.5 100.5h1M110.5 131.5h1M117.5 108.5h1M116.5 123.5h1M108.5 119.5h1M22.5 158.5h1M38.5 142.5h1M99.5 119.5h1M125.5 128.5h1M16.5 127.5h1M83.5 136.5h1M59.5 169.5h1M44.5 95.5h1M78.5 141.5h1M82.5 142.5h1M41.5 128.5h1M19.5 159.5h1M45.5 119.5h1M103.5 146.5h1M68.5 154.5h1M91.5 153.5h1M80.5 124.5h1M51.5 154.5h1M63.5 146.5h1" stroke="#333" stroke-opacity="0.55"/><path d="M56.5 112.5h1M49.5 117.5h1M61.5 108.5h1M47.5 133.5h1M49.5 128.5h1M47.5 126.5h1M43.5 124.5h1M52.5 135.5h1M34.5 124.5h1M63.5 112.5h1M53.5 133.5h1M6.5 137.5h1M35.5 113.5h1M55.5 118.5h1M43.5 132.5h1M49.5 122.5h1M22.5 135.5h1M49.5 114.5h1M57.5 113.5h1M54.5 115.5h1M44.5 117.5h1M60.5 127.5h1M27.5 131.5h1M48.5 114.5h1M41.5 121.5h1M30.5 132.5h1M37.5 138.5h1M25.5 143.5h1M30.5 111.5h1M36.5 105.5h1M41.5 102.5h1M52.5 111.5h1M22.5 125.5h1M54.5 119.5h1M37.5 125.5h1M46.5 147.5h1M35.5 129.5h1M47.5 136.5h1M35.5 148.5h1M44.5 125.5h1M38.5 122.5h1M49.5 143.5h1M32.5 101.5h1M56.5 133.5h1M36.5 117.5h1M47.5 121.5h1M43.5 141.5h1M36.5 136.5h1M42.5 121.5h1M53.5 128.5h1M35.5 105.5h1M39.5 128.5h1M71.5 103.5h1M45.5 115.5h1M37.5 128.5h1M30.5 112.5h1M52.5 120.5h1M43.5 123.5h1M29.5 128.5h1M60.5 133.5h1M39.5 123.5h1M68.5 117.5h1M52.5 132.5h1M59.5 102.5h1M33.5 121.5h1M41.5 125.5h1M63.5 117.5h1M14.5 123.5h1M51.5 110.5h1M52.5 106.5h1M45.5 91.5h1M39.5 75.5h1M62.5 102.5h1M49.5 104.5h1M28.5 90.5h1M55.5 87.5h1M34.5 96.5h1M43.5 82.5h1M45.5 94.5h1M57.5 75.5h1M33.5 91.5h1M40.5 73.5h1M39.5 64.5h1M25.5 111.5h1M62.5 106.5h1M33.5 105.5h1M50.5 91.5h1M18.5 92.5h1M29.5 85.5h1M22.5 96.5h1M33.5 91.5h1M60.5 98.5h1M63.5 78.5h1M60.5 98.5h1M42.5 109.5h1M54.5 83.5h1M45.5 63.5h1M91.5 75.5h1M30.5 91.5h1M75.5 93.5h1M60.5 75.5h1M75.5 89.5h1M37.5 75.5h1M22.5 88.5h1M50.5 75.5h1M59.5 119.5h1M35.5 85.5h1M54.5 96.5h1M27.5 61.5h1M57.5 75.5h1M34.5 103.5h1M63.5 81.5h1M34.5 83.5h1M37.5 70.5h1M83.5 96.5h1M80.5 95.5h1M82.5 101.5h1M91.5 87.5h1M78.5 80.5h1M87.5 95.5h1M81.5 102.5h1M93.5 102.5h1M67.5 105.5h1M68.5 91.5h1M78.5 125.5h1M90.5 106.5h1M91.5 107.5h1M82.5 104.5h1M78.5 88.5h1M87.5 102.5h1M69.5 104.5h1M68.5 101.5h1M94.5 106.5h1M90.5 99.5h1M77.5 100.5h1M80.5 104.5h1M76.5 90.5h1M70.5 92.5h1M70.5 106.5h1M72.5 105.5h1M80.5 110.5h1M89.5 98.5h1M79.5 108.5h1M82.5 82.5h1M97.5 99.5h1M91.5 101.5h1M88.5 95.5h1M68.5 115.5h1M89.5 80.5h1M70.5 98.5h1M85.5 111.5h1M75.5 102.5h1M82.5 81.5h1M88.5 92.5h1M85.5 99.5h1M75.5 109.5h1M81.5 85.5h1M94.5 88.5h1M90.5 80.5h1M74.5 113.5h1M73.5 78.5h1M104.5 113.5h1M86.5 143.5h1M74.5 100.5h1M104.5 100.5h1M98.5 107.5h1M96.5 107.5h1M102.5 96.5h1M104.5 171.5h1M94.5 163.5h1M88.5 125.5h1M106.5 138.5h1M117.5 143.5h1M95.5 116.5h1M94.5 110.5h1M109.5 142.5h1M93.5 89.5h1M90.5 114.5h1M86.5 127.5h1M90.5 114.5h1M113.5 114.5h1M87.5 86.5h1M84.5 106.5h1M93.5 128.5h1M81.5 121.5h1M99.5 112.5h1M94.5 148.5h1M102.5 128.5h1M82.5 107.5h1M103.5 166.5h1M70.5 103.5h1M75.5 141.5h1M107.5 112.5h1M69.5 138.5h1M76.5 110.5h1M53.5 107.5h1" stroke="#555" stroke-opacity="0.35"/><path d="M29.5 126.5h1M77.5 100.5h1M49.5 70.5h1M38.5 145.5h1M10.5 76.5h1M44.5 146.5h1M28.5 116.5h1M12.5 79.5h1M35.5 72.5h1M76.5 88.5h1M76.5 86.5h1M55.5 141.5h1M11.5 99.5h1M84.5 81.5h1M29.5 115.5h1M39.5 72.5h1M48.5 141.5h1M48.5 71.5h1M26.5 74.5h1M27.5 71.5h1M31.5 71.5h1M66.5 74.5h1M78.5 101.5h1M30.5 132.5h1M76.5 119.5h1M35.5 73.5h1M69.5 74.5h1M76.5 115.5h1M77.5 98.5h1M64.5 72.5h1M14.5 95.5h1M29.5 130.5h1M19.5 78.5h1M10.5 86.5h1M21.5 103.5h1M76.5 102.5h1M11.5 74.5h1M78.5 90.5h1M16.5 96.5h1M32.5 137.5h1M11.5 73.5h1M75.5 101.5h1M14.5 90.5h1M77.5 100.5h1M58.5 136.5h1M62.5 135.5h1M28.5 74.5h1M34.5 136.5h1M64.5 129.5h1M19.5 75.5h1M74.5 111.5h1M54.5 137.5h1M40.5 143.5h1M15.5 77.5h1M54.5 139.5h1M74.5 81.5h1M27.5 119.5h1M30.5 145.5h1M71.5 120.5h1M17.5 100.5h1M13.5 90.5h1M69.5 114.5h1M44.5 147.5h1M77.5 102.5h1M71.5 75.5h1M33.5 147.5h1M72.5 78.5h1M74.5 119.5h1M31.5 139.5h1M76.5 87.5h1M62.5 73.5h1M28.5 119.5h1M10.5 85.5h1M55.5 137.5h1M14.5 82.5h1M76.5 89.5h1M76.5 99.5h1M77.5 99.5h1M53.5 70.5h1M28.5 137.5h1M37.5 70.5h1M21.5 101.5h1M75.5 82.5h1M31.5 124.5h1M56.5 73.5h1M37.5 146.5h1M64.5 74.5h1M28.5 111.5h1M48.5 145.5h1M74.5 99.5h1M30.5 71.5h1M44.5 145.5h1M58.5 133.5h1M52.5 143.5h1M27.5 113.5h1M6.5 89.5h1M60.5 133.5h1M12.5 94.5h1M75.5 109.5h1M30.5 134.5h1M69.5 126.5h1M56.5 70.5h1M18.5 100.5h1M15.5 77.5h1M72.5 79.5h1M74.5 111.5h1M46.5 65.5h1M28.5 133.5h1M70.5 123.5h1M59.5 67.5h1M76.5 101.5h1M47.5 142.5h1M14.5 100.5h1M81.5 92.5h1M64.5 74.5h1M73.5 82.5h1M13.5 79.5h1M28.5 118.5h1M29.5 133.5h1M69.5 78.5h1M76.5 84.5h1M56.5 136.5h1M50.5 145.5h1M54.5 137.5h1" stroke="#333" stroke-opacity="0.5"/><path d="M48.5 66.5h1M31.5 142.5h1M74.5 107.5h1M30.5 135.5h1M66.5 73.5h1M27.5 112.5h1M38.5 144.5h1M27.5 110.5h1M40.5 146.5h1M39.5 148.5h1M60.5 137.5h1M82.5 102.5h1M76.5 116.5h1M26.5 135.5h1M81.5 90.5h1M59.5 132.5h1M38.5 150.5h1M11.5 87.5h1M14.5 74.5h1M80.5 101.5h1M49.5 141.5h1M13.5 94.5h1M40.5 145.5h1M11.5 93.5h1M58.5 138.5h1M73.5 115.5h1M12.5 80.5h1M76.5 96.5h1M28.5 112.5h1M73.5 93.5h1M56.5 71.5h1M10.5 83.5h1M24.5 105.5h1M76.5 87.5h1M43.5 142.5h1M29.5 117.5h1M22.5 102.5h1M12.5 77.5h1M46.5 142.5h1M68.5 77.5h1M56.5 68.5h1M7.5 86.5h1M31.5 142.5h1M67.5 70.5h1M26.5 114.5h1M74.5 82.5h1M82.5 81.5h1M28.5 125.5h1M66.5 129.5h1M74.5 109.5h1M25.5 72.5h1M12.5 90.5h1M42.5 148.5h1M74.5 106.5h1M79.5 84.5h1M76.5 107.5h1M41.5 142.5h1M63.5 126.5h1M71.5 119.5h1M53.5 70.5h1M50.5 67.5h1M73.5 115.5h1M32.5 71.5h1M79.5 84.5h1M75.5 99.5h1M74.5 84.5h1M69.5 76.5h1M10.5 79.5h1M71.5 114.5h1M10.5 90.5h1M31.5 136.5h1M45.5 71.5h1M12.5 75.5h1M16.5 100.5h1M54.5 140.5h1M14.5 81.5h1M39.5 145.5h1M44.5 140.5h1M43.5 142.5h1M14.5 79.5h1M32.5 140.5h1M25.5 111.5h1M12.5 84.5h1M30.5 129.5h1M78.5 114.5h1M56.5 135.5h1M46.5 143.5h1M27.5 123.5h1M74.5 106.5h1M74.5 107.5h1M70.5 127.5h1M32.5 140.5h1M70.5 120.5h1M51.5 143.5h1M40.5 71.5h1M13.5 92.5h1M15.5 80.5h1M58.5 72.5h1M50.5 141.5h1M10.5 90.5h1M26.5 118.5h1M67.5 74.5h1M79.5 93.5h1M11.5 79.5h1M27.5 115.5h1M27.5 116.5h1M31.5 127.5h1M23.5 110.5h1M41.5 145.5h1M31.5 128.5h1M26.5 128.5h1M27.5 114.5h1M56.5 134.5h1M34.5 139.5h1M80.5 90.5h1M27.5 73.5h1M14.5 79.5h1M45.5 70.5h1M29.5 121.5h1M47.5 141.5h1M76.5 78.5h1M29.5 116.5h1M39.5 142.5h1M81.5 99.5h1M9.5 84.5h1M28.5 130.5h1M50.5 145.5h1M44.5 68.5h1M52.5 139.5h1M38.5 68.5h1M56.5 134.5h1M16.5 97.5h1M36.5 142.5h1M11.5 88.5h1M28.5 118.5h1M35.5 69.5h1M25.5 115.5h1M25.5 74.5h1M8.5 96.5h1M77.5 91.5h1M67.5 75.5h1M33.5 137.5h1" stroke="#666" stroke-opacity="0.35"/><path d="M86.5 107.5h1M112.5 153.5h1M114.5 154.5h1M79.5 120.5h1M91.5 104.5h1M92.5 100.5h1M96.5 98.5h1M113.5 146.5h1M111.5 156.5h1M99.5 163.5h1M93.5 99.5h1M112.5 100.5h1M115.5 148.5h1M107.5 161.5h1M124.5 132.5h1M111.5 156.5h1M89.5 150.5h1M92.5 156.5h1M114.5 99.5h1M96.5 99.5h1M117.5 110.5h1M117.5 136.5h1M94.5 96.5h1M113.5 151.5h1M89.5 107.5h1M88.5 100.5h1M92.5 154.5h1M101.5 92.5h1M82.5 135.5h1M94.5 159.5h1M80.5 120.5h1M111.5 103.5h1M87.5 105.5h1M93.5 162.5h1M112.5 152.5h1M83.5 139.5h1M113.5 104.5h1M110.5 101.5h1M81.5 125.5h1M106.5 93.5h1M115.5 144.5h1M89.5 104.5h1M121.5 136.5h1M101.5 160.5h1M92.5 102.5h1M83.5 116.5h1M111.5 156.5h1M100.5 162.5h1M94.5 159.5h1M95.5 157.5h1M79.5 119.5h1M120.5 126.5h1M83.5 133.5h1M101.5 160.5h1M87.5 143.5h1M90.5 151.5h1M91.5 98.5h1M83.5 110.5h1M113.5 108.5h1M117.5 136.5h1M99.5 90.5h1M90.5 107.5h1M91.5 101.5h1M86.5 99.5h1M94.5 165.5h1M117.5 120.5h1M93.5 105.5h1M109.5 97.5h1M106.5 98.5h1M105.5 97.5h1M81.5 123.5h1M112.5 107.5h1M118.5 142.5h1M98.5 95.5h1M97.5 159.5h1M81.5 127.5h1M101.5 162.5h1M103.5 93.5h1M92.5 160.5h1M116.5 106.5h1M93.5 98.5h1M108.5 96.5h1M88.5 109.5h1M85.5 115.5h1M86.5 109.5h1M83.5 136.5h1M85.5 145.5h1M86.5 156.5h1" stroke="#333" stroke-opacity="0.5"/><path d="M80.5 130.5h1M83.5 123.5h1M110.5 94.5h1M97.5 160.5h1M116.5 150.5h1M87.5 108.5h1M90.5 106.5h1M106.5 163.5h1M124.5 138.5h1M111.5 102.5h1M87.5 105.5h1M110.5 157.5h1M99.5 98.5h1M101.5 161.5h1M117.5 145.5h1M96.5 161.5h1M109.5 94.5h1M84.5 113.5h1M105.5 93.5h1M117.5 116.5h1M83.5 122.5h1M87.5 150.5h1M82.5 121.5h1M80.5 115.5h1M95.5 159.5h1M89.5 151.5h1M107.5 162.5h1M120.5 114.5h1M93.5 164.5h1M106.5 97.5h1M95.5 159.5h1M125.5 118.5h1M109.5 95.5h1M83.5 144.5h1M114.5 152.5h1M95.5 102.5h1M97.5 160.5h1M114.5 151.5h1M84.5 116.5h1M114.5 103.5h1M91.5 102.5h1M119.5 124.5h1M113.5 151.5h1M101.5 94.5h1M116.5 123.5h1M100.5 166.5h1M114.5 99.5h1M104.5 94.5h1M91.5 99.5h1M82.5 115.5h1M118.5 144.5h1M103.5 164.5h1M120.5 127.5h1M96.5 94.5h1M101.5 93.5h1M116.5 135.5h1M73.5 133.5h1M93.5 152.5h1M117.5 126.5h1M98.5 163.5h1M82.5 128.5h1M94.5 100.5h1M91.5 99.5h1M94.5 101.5h1M80.5 120.5h1M106.5 160.5h1M84.5 105.5h1M107.5 97.5h1M119.5 142.5h1M94.5 92.5h1M111.5 101.5h1M114.5 106.5h1M98.5 159.5h1M99.5 166.5h1M94.5 159.5h1M114.5 155.5h1M104.5 160.5h1M112.5 148.5h1M116.5 132.5h1M82.5 119.5h1M109.5 101.5h1M85.5 119.5h1M106.5 160.5h1M99.5 92.5h1M88.5 144.5h1M119.5 140.5h1M107.5 97.5h1M118.5 105.5h1M86.5 109.5h1M90.5 104.5h1M111.5 153.5h1M115.5 148.5h1M95.5 97.5h1M119.5 148.5h1" stroke="#666" stroke-opacity="0.35"/><path d="M14.4,86.5C14.9,84.3 15.3,81.9 18.1,80.0C20.9,78.1 26.1,76.4 31.1,75.3C36.1,74.2 42.6,73.7 47.9,73.5C53.2,73.3 58.9,73.3 62.8,74.4C66.7,75.5 69.1,77.5 71.1,80.0C73.1,82.5 74.4,85.9 74.9,89.3C75.4,92.7 74.5,96.8 73.9,100.5C73.3,104.2 72.2,108.2 71.1,111.6C70.0,115.0 69.4,117.8 67.4,120.9C65.4,124.0 62.0,127.2 59.0,130.2C56.0,133.1 52.8,136.9 49.7,138.6C46.6,140.3 43.0,141.0 40.4,140.5C37.8,140.0 35.3,138.1 33.9,135.8C32.5,133.5 32.2,129.9 32.1,126.5C32.0,123.1 33.2,118.4 33.0,115.3C32.8,112.2 33.0,110.4 31.1,107.9C29.2,105.4 24.4,103.0 21.8,100.5C19.2,98.0 16.5,95.3 15.3,93.0C14.1,90.7 13.9,88.7 14.4,86.5Z" fill="#000" stroke="#000" stroke-width="4" stroke-linejoin="round"/><path d="M30.0,95.0C35.8,92.7 63.8,90.4 70.0,92.0C76.2,93.6 68.4,100.0 67.2,104.5C66.0,109.0 65.1,115.0 63.0,119.2C60.9,123.4 57.7,127.0 54.5,129.8C51.3,132.6 46.6,135.7 43.9,136.2C41.2,136.7 39.2,135.8 38.1,133.0C37.0,130.2 37.5,123.7 37.0,119.2C36.5,114.7 36.2,110.0 35.0,106.0C33.8,102.0 24.2,97.3 30.0,95.0Z" fill="url(#legG)"/><defs><path id="z10" d="M14.4,86.5C14.8,84.3 15.3,81.9 18.1,80.0C20.9,78.1 26.1,76.4 31.1,75.3C36.1,74.2 42.6,73.7 47.9,73.5C53.2,73.3 59.3,73.3 62.8,74.4C66.3,75.5 67.5,77.5 69.0,80.0C70.5,82.5 71.3,86.1 71.5,89.3C71.7,92.5 71.2,96.5 70.0,99.0C68.8,101.5 67.3,102.9 64.0,104.0C60.7,105.1 54.8,105.5 50.0,105.5C45.2,105.5 39.7,105.1 35.0,104.0C30.3,102.9 25.2,100.8 22.0,99.0C18.8,97.2 16.8,95.1 15.5,93.0C14.2,90.9 14.0,88.7 14.4,86.5Z" stroke-width="0.7" vector-effect="non-scaling-stroke"/></defs><use href="#z10" fill="url(#zl)" stroke="#cfcfcf" transform="translate(43.2,87.4) scale(0.96) translate(-43.2,-87.4)"/><use href="#z10" fill="url(#zl)" stroke="#cfcfcf" transform="translate(43.2,87.4) scale(0.6) translate(-43.2,-87.4)"/><use href="#z10" fill="url(#zl)" stroke="#cfcfcf" transform="translate(43.2,87.4) scale(0.42) translate(-43.2,-87.4)"/><use href="#z10" fill="url(#zl)" stroke="#cfcfcf" transform="translate(43.2,87.4) scale(0.26) translate(-43.2,-87.4)"/><use href="#z10" fill="url(#zl)" stroke="#cfcfcf" transform="translate(43.2,87.4) scale(0.13) translate(-43.2,-87.4)"/><path d="M102.8,95.8C104.7,96.1 107.4,97.9 109.3,100.5C111.2,103.1 112.7,107.3 113.9,111.6C115.1,115.9 116.6,121.2 116.7,126.5C116.8,131.8 116.0,138.5 114.8,143.3C113.6,148.1 111.5,152.7 109.3,155.3C107.1,157.9 104.3,159.2 101.8,159.1C99.3,158.9 96.4,157.3 94.4,154.4C92.4,151.5 91.2,146.1 89.7,141.4C88.2,136.8 86.0,130.5 85.5,126.5C85.0,122.5 85.8,120.3 87.0,117.2C88.2,114.1 90.7,111.0 92.5,107.9C94.3,104.8 96.4,100.6 98.1,98.6C99.8,96.6 100.9,95.5 102.8,95.8Z" fill="#888" stroke="#000" stroke-width="4" stroke-linejoin="round"/><defs><path id="z11" d="M102.8,95.8C104.7,96.1 107.4,97.9 109.3,100.5C111.2,103.1 112.7,107.3 113.9,111.6C115.1,115.9 116.6,121.2 116.7,126.5C116.8,131.8 116.0,138.5 114.8,143.3C113.6,148.1 111.5,152.7 109.3,155.3C107.1,157.9 104.3,159.2 101.8,159.1C99.3,158.9 96.4,157.3 94.4,154.4C92.4,151.5 91.2,146.1 89.7,141.4C88.2,136.8 86.0,130.5 85.5,126.5C85.0,122.5 85.8,120.3 87.0,117.2C88.2,114.1 90.7,111.0 92.5,107.9C94.3,104.8 96.4,100.6 98.1,98.6C99.8,96.6 100.9,95.5 102.8,95.8Z" stroke-width="0.7" vector-effect="non-scaling-stroke"/></defs><use href="#z11" fill="url(#zg)" stroke="#d0d0d0" transform="translate(103.7,130.2) scale(0.96) translate(-103.7,-130.2)"/><use href="#z11" fill="url(#zg2)" stroke="#8a8a8a" transform="translate(103.7,130.2) scale(0.62) translate(-103.7,-130.2)"/><use href="#z11" fill="url(#zg2)" stroke="#8a8a8a" transform="translate(103.7,130.2) scale(0.42) translate(-103.7,-130.2)"/><use href="#z11" fill="url(#zg2)" stroke="#8a8a8a" transform="translate(103.7,130.2) scale(0.24) translate(-103.7,-130.2)"/><path d="M75.7,0V174M0,105.7H175" stroke="#4646c4" stroke-width="1.5" fill="none" style="mix-blend-mode:multiply"/><path d="M0,0V174H175" stroke="#000" stroke-width="1.4" fill="none"/><path d="M-3.5,13.6H0M-3.5,48.9H0M-3.5,84.2H0M-3.5,119.5H0M-3.5,148.0H0M-1.6,38.3H0M-1.6,32.1H0M-1.6,27.6H0M-1.6,24.2H0M-1.6,21.4H0M-1.6,19.1H0M-1.6,17.0H0M-1.6,15.2H0M-1.6,73.6H0M-1.6,67.4H0M-1.6,62.9H0M-1.6,59.5H0M-1.6,56.7H0M-1.6,54.4H0M-1.6,52.3H0M-1.6,50.5H0M-1.6,108.9H0M-1.6,102.7H0M-1.6,98.2H0M-1.6,94.8H0M-1.6,92.0H0M-1.6,89.7H0M-1.6,87.6H0M-1.6,85.8H0M-1.6,124.0H0M-1.6,128.5H0M-1.6,132.5H0M-1.6,136.5H0M-1.6,140.5H0M-1.6,144.5H0M-1.6,151.5H0M-1.6,156.0H0M-1.6,160.5H0M-1.6,165.5H0M-3.5,174H0M51.6,174V177.5M87.5,174V177.5M123.0,174V177.5M158.5,174V177.5M28.4,174V177.5M8.3,174V177.5M62.3,174V175.8M68.6,174V175.8M73.0,174V175.8M76.5,174V175.8M79.3,174V175.8M81.7,174V175.8M83.8,174V175.8M85.6,174V175.8M98.2,174V175.8M104.5,174V175.8M108.9,174V175.8M112.4,174V175.8M115.2,174V175.8M117.6,174V175.8M119.7,174V175.8M121.5,174V175.8M133.7,174V175.8M140.0,174V175.8M144.4,174V175.8M147.9,174V175.8M150.7,174V175.8M153.1,174V175.8M155.2,174V175.8M157.0,174V175.8M12.5,174V175.8M16.5,174V175.8M20.5,174V175.8M24.5,174V175.8M32.5,174V175.8M36.5,174V175.8M40.5,174V175.8M44.5,174V175.8M48.0,174V175.8" stroke="#000" stroke-width="1" fill="none"/><text x="-9" y="19.2" font-size="16" text-anchor="end">10<tspan font-size="12" dy="-5.2">5</tspan></text><text x="-9" y="54.5" font-size="16" text-anchor="end">10<tspan font-size="12" dy="-5.2">4</tspan></text><text x="-9" y="89.8" font-size="16" text-anchor="end">10<tspan font-size="12" dy="-5.2">3</tspan></text><text x="-9" y="125.1" font-size="16" text-anchor="end">10<tspan font-size="12" dy="-5.2">2</tspan></text><text x="-9.5" y="153.6" font-size="16" text-anchor="end">0</text><text x="51.6" y="196.3" font-size="16" text-anchor="middle">10<tspan font-size="12" dy="-5.2">2</tspan></text><text x="87.5" y="196.3" font-size="16" text-anchor="middle">10<tspan font-size="12" dy="-5.2">3</tspan></text><text x="123.0" y="196.3" font-size="16" text-anchor="middle">10<tspan font-size="12" dy="-5.2">4</tspan></text><text x="158.5" y="196.3" font-size="16" text-anchor="middle">10<tspan font-size="12" dy="-5.2">5</tspan></text><text x="29.4" y="196.3" font-size="16" text-anchor="middle">0</text><path d="M98.6,27.9H162.8M130.2,10.2V46.5" stroke="#000" stroke-width="2" fill="none"/><text x="123.9" y="23.6" font-size="16" text-anchor="end">47.6</text><text x="132.7" y="23.6" font-size="16">0.54</text><text x="123.9" y="43.8" font-size="16" text-anchor="end">4.45</text><text x="132.7" y="43.8" font-size="16">47.4</text></g>
<g transform="translate(331.5,340)"><path d="M0,0.6H174.6V174" stroke="#a8a8a8" stroke-width="1.2" fill="none"/><path d="M40.5 119.5h1M41.5 127.5h1M38.5 116.5h1M59.5 137.5h1M30.5 114.5h1M42.5 139.5h1M30.5 124.5h1M11.5 144.5h1M54.5 117.5h1M21.5 112.5h1M43.5 125.5h1M38.5 123.5h1M48.5 99.5h1M28.5 119.5h1M45.5 113.5h1M47.5 99.5h1M42.5 115.5h1M37.5 130.5h1M60.5 116.5h1M40.5 115.5h1M37.5 138.5h1M28.5 91.5h1M32.5 113.5h1M65.5 111.5h1M44.5 121.5h1M34.5 131.5h1M44.5 125.5h1M36.5 103.5h1M40.5 117.5h1M59.5 126.5h1M39.5 121.5h1M31.5 142.5h1M37.5 87.5h1M44.5 121.5h1M48.5 99.5h1M26.5 123.5h1M33.5 123.5h1M48.5 100.5h1M41.5 130.5h1M19.5 95.5h1M34.5 101.5h1M50.5 118.5h1M39.5 105.5h1M58.5 113.5h1M38.5 147.5h1M39.5 141.5h1M39.5 125.5h1M49.5 124.5h1M49.5 111.5h1M47.5 120.5h1M56.5 120.5h1M27.5 108.5h1M43.5 108.5h1M44.5 115.5h1M22.5 117.5h1M39.5 122.5h1M38.5 104.5h1M44.5 111.5h1M49.5 135.5h1M55.5 108.5h1M67.5 101.5h1M48.5 110.5h1M45.5 108.5h1M58.5 121.5h1M51.5 109.5h1M40.5 131.5h1M35.5 80.5h1M45.5 105.5h1M25.5 134.5h1M45.5 76.5h1M70.5 106.5h1M37.5 79.5h1M52.5 106.5h1M33.5 79.5h1M31.5 79.5h1M46.5 71.5h1M76.5 90.5h1M67.5 95.5h1M51.5 78.5h1M46.5 92.5h1M64.5 89.5h1M49.5 72.5h1M62.5 91.5h1M56.5 96.5h1M32.5 77.5h1M14.5 105.5h1M34.5 72.5h1M25.5 84.5h1M26.5 88.5h1M64.5 112.5h1M47.5 91.5h1M49.5 105.5h1M43.5 73.5h1M36.5 75.5h1M78.5 73.5h1M89.5 83.5h1M65.5 88.5h1M58.5 87.5h1M33.5 81.5h1M72.5 58.5h1M42.5 94.5h1M46.5 89.5h1M9.5 94.5h1M76.5 59.5h1M52.5 83.5h1M65.5 88.5h1M36.5 95.5h1M97.5 112.5h1M82.5 104.5h1M81.5 87.5h1M93.5 106.5h1M89.5 98.5h1M75.5 83.5h1M102.5 87.5h1M86.5 106.5h1M89.5 106.5h1M87.5 100.5h1M70.5 76.5h1M81.5 116.5h1M76.5 94.5h1M83.5 87.5h1M81.5 114.5h1M89.5 97.5h1M89.5 100.5h1M77.5 107.5h1M73.5 69.5h1M84.5 116.5h1M80.5 97.5h1M75.5 111.5h1M77.5 95.5h1M80.5 101.5h1M76.5 95.5h1M75.5 96.5h1M72.5 105.5h1M85.5 78.5h1M83.5 84.5h1M98.5 87.5h1M98.5 80.5h1M87.5 65.5h1M91.5 93.5h1M93.5 85.5h1M91.5 93.5h1M83.5 106.5h1M88.5 113.5h1M65.5 85.5h1M91.5 105.5h1M105.5 108.5h1M92.5 131.5h1M83.5 124.5h1M85.5 112.5h1M119.5 129.5h1M102.5 124.5h1M108.5 72.5h1M101.5 130.5h1M108.5 139.5h1M99.5 160.5h1M108.5 132.5h1M110.5 116.5h1M106.5 152.5h1M90.5 102.5h1M94.5 108.5h1M113.5 117.5h1M109.5 114.5h1M83.5 131.5h1M107.5 93.5h1M91.5 109.5h1M67.5 128.5h1M79.5 116.5h1M117.5 123.5h1M109.5 145.5h1M115.5 131.5h1M97.5 115.5h1M122.5 138.5h1M116.5 132.5h1M81.5 154.5h1M4.5 160.5h1M100.5 116.5h1M113.5 158.5h1M89.5 158.5h1M79.5 116.5h1M89.5 147.5h1M47.5 121.5h1M38.5 144.5h1M94.5 132.5h1M64.5 156.5h1M76.5 128.5h1M46.5 121.5h1M61.5 136.5h1M29.5 150.5h1M37.5 151.5h1" stroke="#333" stroke-opacity="0.55"/><path d="M49.5 134.5h1M32.5 119.5h1M45.5 105.5h1M36.5 116.5h1M60.5 118.5h1M34.5 118.5h1M35.5 123.5h1M41.5 121.5h1M65.5 113.5h1M41.5 102.5h1M50.5 127.5h1M48.5 144.5h1M45.5 119.5h1M28.5 108.5h1M50.5 113.5h1M33.5 102.5h1M52.5 115.5h1M56.5 114.5h1M50.5 123.5h1M40.5 148.5h1M51.5 100.5h1M30.5 110.5h1M46.5 110.5h1M26.5 108.5h1M34.5 120.5h1M37.5 113.5h1M34.5 94.5h1M38.5 109.5h1M25.5 118.5h1M53.5 127.5h1M35.5 104.5h1M60.5 127.5h1M34.5 126.5h1M38.5 116.5h1M32.5 122.5h1M26.5 120.5h1M56.5 105.5h1M41.5 100.5h1M50.5 112.5h1M54.5 90.5h1M35.5 122.5h1M49.5 123.5h1M31.5 133.5h1M37.5 111.5h1M38.5 130.5h1M27.5 121.5h1M39.5 126.5h1M61.5 123.5h1M39.5 116.5h1M56.5 122.5h1M40.5 119.5h1M46.5 96.5h1M32.5 115.5h1M55.5 95.5h1M56.5 106.5h1M42.5 122.5h1M34.5 126.5h1M22.5 119.5h1M43.5 123.5h1M28.5 115.5h1M31.5 130.5h1M52.5 138.5h1M44.5 92.5h1M66.5 108.5h1M51.5 119.5h1M24.5 105.5h1M55.5 142.5h1M46.5 112.5h1M20.5 111.5h1M34.5 122.5h1M52.5 120.5h1M62.5 135.5h1M41.5 131.5h1M43.5 98.5h1M31.5 119.5h1M37.5 119.5h1M21.5 107.5h1M39.5 119.5h1M26.5 110.5h1M43.5 126.5h1M28.5 121.5h1M17.5 77.5h1M53.5 67.5h1M58.5 110.5h1M62.5 93.5h1M52.5 102.5h1M50.5 91.5h1M35.5 91.5h1M42.5 86.5h1M25.5 81.5h1M66.5 85.5h1M29.5 87.5h1M50.5 104.5h1M63.5 102.5h1M47.5 94.5h1M62.5 96.5h1M55.5 106.5h1M59.5 93.5h1M57.5 93.5h1M56.5 75.5h1M63.5 82.5h1M70.5 91.5h1M53.5 86.5h1M51.5 69.5h1M55.5 97.5h1M33.5 78.5h1M27.5 107.5h1M59.5 80.5h1M39.5 104.5h1M29.5 69.5h1M53.5 72.5h1M56.5 64.5h1M37.5 74.5h1M32.5 77.5h1M38.5 84.5h1M38.5 101.5h1M26.5 94.5h1M60.5 95.5h1M32.5 81.5h1M64.5 84.5h1M52.5 79.5h1M49.5 81.5h1M5.5 80.5h1M78.5 91.5h1M86.5 73.5h1M79.5 108.5h1M85.5 96.5h1M90.5 89.5h1M83.5 88.5h1M98.5 93.5h1M86.5 92.5h1M92.5 111.5h1M75.5 91.5h1M75.5 104.5h1M85.5 105.5h1M82.5 100.5h1M81.5 107.5h1M78.5 104.5h1M77.5 85.5h1M79.5 86.5h1M82.5 81.5h1M72.5 67.5h1M85.5 93.5h1M90.5 83.5h1M87.5 103.5h1M85.5 110.5h1M72.5 95.5h1M71.5 105.5h1M86.5 113.5h1M92.5 89.5h1M71.5 97.5h1M85.5 106.5h1M71.5 85.5h1M99.5 111.5h1M66.5 99.5h1M86.5 107.5h1M86.5 111.5h1M74.5 100.5h1M76.5 84.5h1M79.5 97.5h1M71.5 108.5h1M73.5 106.5h1M83.5 71.5h1M76.5 98.5h1M70.5 105.5h1M73.5 112.5h1M80.5 109.5h1M87.5 101.5h1M83.5 105.5h1M88.5 108.5h1M85.5 112.5h1M85.5 85.5h1M73.5 87.5h1M100.5 94.5h1M94.5 118.5h1M95.5 93.5h1M92.5 113.5h1M99.5 111.5h1M107.5 105.5h1M93.5 91.5h1M92.5 137.5h1M100.5 141.5h1M105.5 109.5h1M90.5 99.5h1M100.5 125.5h1M95.5 109.5h1M95.5 111.5h1M106.5 108.5h1M106.5 107.5h1M107.5 110.5h1M116.5 121.5h1M102.5 110.5h1M86.5 126.5h1M87.5 118.5h1M115.5 149.5h1M113.5 125.5h1M100.5 140.5h1M110.5 127.5h1M96.5 129.5h1M105.5 100.5h1M116.5 98.5h1M110.5 102.5h1M89.5 136.5h1M91.5 91.5h1M98.5 128.5h1M105.5 147.5h1M95.5 114.5h1M84.5 126.5h1M117.5 79.5h1M55.5 119.5h1M57.5 164.5h1M66.5 118.5h1M49.5 141.5h1M103.5 150.5h1M46.5 163.5h1M26.5 140.5h1M85.5 118.5h1M98.5 109.5h1M68.5 123.5h1M54.5 131.5h1" stroke="#555" stroke-opacity="0.35"/><path d="M61.5 133.5h1M31.5 116.5h1M23.5 109.5h1M75.5 109.5h1M59.5 133.5h1M67.5 125.5h1M49.5 133.5h1M27.5 124.5h1M39.5 133.5h1M74.5 112.5h1M75.5 81.5h1M78.5 113.5h1M37.5 139.5h1M69.5 117.5h1M77.5 98.5h1M30.5 113.5h1M53.5 135.5h1M31.5 117.5h1M79.5 91.5h1M18.5 95.5h1M61.5 131.5h1M44.5 74.5h1M42.5 141.5h1M44.5 134.5h1M74.5 80.5h1M27.5 122.5h1M18.5 93.5h1M13.5 78.5h1M17.5 92.5h1M72.5 112.5h1M28.5 109.5h1M14.5 82.5h1M75.5 103.5h1M14.5 93.5h1M29.5 113.5h1M73.5 74.5h1M19.5 78.5h1M60.5 70.5h1M27.5 109.5h1M80.5 107.5h1M27.5 123.5h1M25.5 103.5h1M15.5 96.5h1M62.5 127.5h1M21.5 105.5h1M79.5 92.5h1M64.5 130.5h1M42.5 133.5h1M47.5 70.5h1M57.5 64.5h1M61.5 125.5h1M64.5 71.5h1M74.5 79.5h1M32.5 126.5h1M20.5 99.5h1M55.5 136.5h1M43.5 70.5h1M29.5 70.5h1M67.5 120.5h1M32.5 123.5h1M68.5 122.5h1M22.5 98.5h1M71.5 75.5h1M80.5 112.5h1M63.5 123.5h1M28.5 109.5h1M58.5 69.5h1M28.5 115.5h1M46.5 137.5h1M22.5 78.5h1M29.5 111.5h1M21.5 98.5h1M33.5 67.5h1M31.5 122.5h1M49.5 133.5h1M60.5 125.5h1M17.5 90.5h1M50.5 71.5h1M48.5 136.5h1M29.5 114.5h1M31.5 112.5h1M32.5 119.5h1M18.5 85.5h1M19.5 91.5h1M81.5 113.5h1M28.5 108.5h1M41.5 70.5h1M30.5 112.5h1M18.5 88.5h1M75.5 73.5h1M14.5 91.5h1M34.5 130.5h1M75.5 113.5h1M56.5 134.5h1M38.5 132.5h1M24.5 106.5h1M30.5 127.5h1M79.5 99.5h1M16.5 84.5h1M78.5 87.5h1M13.5 78.5h1M65.5 125.5h1M28.5 115.5h1M14.5 91.5h1M77.5 105.5h1M38.5 130.5h1M73.5 76.5h1M63.5 131.5h1M19.5 78.5h1M33.5 135.5h1M56.5 132.5h1M65.5 124.5h1M78.5 76.5h1M66.5 71.5h1M22.5 108.5h1M64.5 74.5h1M35.5 128.5h1M53.5 68.5h1M53.5 71.5h1M76.5 73.5h1M72.5 72.5h1M29.5 113.5h1M67.5 129.5h1M30.5 120.5h1M57.5 70.5h1M50.5 137.5h1M19.5 98.5h1M37.5 136.5h1M43.5 137.5h1M54.5 136.5h1M48.5 132.5h1M36.5 72.5h1M32.5 128.5h1M60.5 133.5h1M32.5 67.5h1M37.5 74.5h1" stroke="#333" stroke-opacity="0.5"/><path d="M78.5 79.5h1M22.5 73.5h1M21.5 70.5h1M41.5 134.5h1M29.5 112.5h1M17.5 90.5h1M61.5 140.5h1M71.5 75.5h1M32.5 73.5h1M12.5 90.5h1M17.5 96.5h1M28.5 131.5h1M19.5 92.5h1M74.5 109.5h1M14.5 91.5h1M52.5 67.5h1M25.5 102.5h1M51.5 133.5h1M73.5 79.5h1M35.5 127.5h1M19.5 95.5h1M46.5 138.5h1M78.5 92.5h1M21.5 80.5h1M54.5 132.5h1M15.5 70.5h1M77.5 91.5h1M84.5 97.5h1M60.5 124.5h1M31.5 123.5h1M34.5 72.5h1M36.5 134.5h1M74.5 117.5h1M32.5 72.5h1M37.5 134.5h1M44.5 136.5h1M32.5 117.5h1M30.5 123.5h1M34.5 133.5h1M80.5 101.5h1M37.5 139.5h1M48.5 68.5h1M62.5 69.5h1M25.5 115.5h1M23.5 101.5h1M73.5 69.5h1M56.5 71.5h1M61.5 128.5h1M78.5 98.5h1M80.5 95.5h1M20.5 80.5h1M25.5 104.5h1M13.5 90.5h1M59.5 127.5h1M67.5 72.5h1M66.5 123.5h1M80.5 97.5h1M19.5 95.5h1M29.5 114.5h1M19.5 101.5h1M26.5 108.5h1M84.5 96.5h1M17.5 89.5h1M17.5 82.5h1M58.5 66.5h1M37.5 139.5h1M23.5 105.5h1M49.5 131.5h1M77.5 83.5h1M30.5 129.5h1M58.5 131.5h1M50.5 139.5h1M27.5 125.5h1M77.5 87.5h1M69.5 68.5h1M56.5 70.5h1M25.5 73.5h1M17.5 77.5h1M32.5 116.5h1M77.5 88.5h1M60.5 131.5h1M59.5 132.5h1M38.5 66.5h1M20.5 95.5h1M30.5 71.5h1M28.5 115.5h1M58.5 128.5h1M39.5 133.5h1M61.5 125.5h1M36.5 138.5h1M80.5 102.5h1M57.5 73.5h1M56.5 135.5h1M80.5 89.5h1M34.5 129.5h1M78.5 83.5h1M76.5 88.5h1M17.5 91.5h1M17.5 85.5h1M32.5 72.5h1M28.5 123.5h1M31.5 125.5h1M17.5 101.5h1M63.5 124.5h1M31.5 129.5h1M76.5 71.5h1M76.5 84.5h1M79.5 79.5h1M17.5 93.5h1M29.5 113.5h1M25.5 109.5h1M75.5 109.5h1M51.5 133.5h1M15.5 91.5h1M79.5 88.5h1M56.5 69.5h1" stroke="#666" stroke-opacity="0.35"/><path d="M98.5 154.5h1M119.5 139.5h1M84.5 129.5h1M93.5 99.5h1M81.5 99.5h1M121.5 119.5h1M119.5 136.5h1M116.5 152.5h1M82.5 124.5h1M99.5 90.5h1M80.5 122.5h1M109.5 88.5h1M99.5 160.5h1M116.5 97.5h1M121.5 119.5h1M102.5 156.5h1M99.5 94.5h1M97.5 87.5h1M123.5 100.5h1M104.5 152.5h1M112.5 92.5h1M83.5 114.5h1M88.5 94.5h1M120.5 123.5h1M97.5 91.5h1M110.5 90.5h1M82.5 116.5h1M110.5 94.5h1M113.5 97.5h1M111.5 92.5h1M116.5 102.5h1M120.5 131.5h1M119.5 104.5h1M113.5 90.5h1M93.5 154.5h1M87.5 132.5h1M98.5 91.5h1M128.5 132.5h1M85.5 109.5h1M111.5 93.5h1M118.5 143.5h1M124.5 104.5h1M109.5 153.5h1M96.5 154.5h1M79.5 121.5h1M118.5 101.5h1M91.5 100.5h1M102.5 92.5h1M95.5 154.5h1M112.5 152.5h1M112.5 151.5h1M118.5 140.5h1M81.5 122.5h1M126.5 112.5h1M88.5 107.5h1M97.5 154.5h1M78.5 124.5h1M98.5 94.5h1M83.5 123.5h1M123.5 119.5h1M93.5 142.5h1M113.5 154.5h1M96.5 95.5h1M112.5 94.5h1M108.5 153.5h1M108.5 155.5h1M92.5 97.5h1M85.5 99.5h1M112.5 94.5h1M100.5 150.5h1M112.5 149.5h1M91.5 142.5h1M123.5 107.5h1M104.5 155.5h1M82.5 111.5h1M121.5 115.5h1M88.5 134.5h1M108.5 152.5h1M108.5 151.5h1M107.5 155.5h1M103.5 153.5h1M103.5 152.5h1M113.5 92.5h1M123.5 125.5h1M87.5 108.5h1M108.5 90.5h1M80.5 116.5h1M100.5 156.5h1M76.5 111.5h1M81.5 124.5h1M123.5 120.5h1M107.5 155.5h1M96.5 90.5h1M104.5 152.5h1M105.5 92.5h1M114.5 143.5h1M109.5 149.5h1M128.5 104.5h1M97.5 92.5h1" stroke="#333" stroke-opacity="0.5"/><path d="M89.5 108.5h1M81.5 124.5h1M111.5 94.5h1M84.5 115.5h1M85.5 109.5h1M108.5 155.5h1M93.5 142.5h1M119.5 136.5h1M94.5 148.5h1M123.5 119.5h1M84.5 113.5h1M130.5 114.5h1M112.5 152.5h1M92.5 98.5h1M103.5 88.5h1M85.5 121.5h1M114.5 146.5h1M82.5 119.5h1M123.5 104.5h1M89.5 140.5h1M123.5 133.5h1M87.5 108.5h1M122.5 109.5h1M122.5 112.5h1M82.5 121.5h1M112.5 91.5h1M83.5 121.5h1M86.5 128.5h1M109.5 87.5h1M94.5 99.5h1M115.5 143.5h1M123.5 109.5h1M120.5 106.5h1M99.5 92.5h1M104.5 155.5h1M98.5 92.5h1M119.5 104.5h1M119.5 133.5h1M122.5 123.5h1M123.5 134.5h1M94.5 146.5h1M91.5 140.5h1M95.5 91.5h1M80.5 123.5h1M90.5 102.5h1M96.5 91.5h1M88.5 136.5h1M89.5 97.5h1M115.5 96.5h1M91.5 98.5h1M78.5 112.5h1M112.5 150.5h1M97.5 153.5h1M81.5 124.5h1M85.5 143.5h1M116.5 138.5h1M107.5 151.5h1M97.5 92.5h1M103.5 152.5h1M105.5 88.5h1M102.5 151.5h1M82.5 121.5h1M92.5 143.5h1M97.5 151.5h1M79.5 123.5h1M103.5 153.5h1M81.5 121.5h1M81.5 98.5h1M98.5 150.5h1M113.5 154.5h1M98.5 89.5h1M82.5 113.5h1M96.5 93.5h1M101.5 91.5h1M99.5 85.5h1M113.5 97.5h1M120.5 100.5h1M85.5 139.5h1M118.5 141.5h1M117.5 97.5h1M97.5 151.5h1M93.5 145.5h1M90.5 96.5h1" stroke="#666" stroke-opacity="0.35"/><path d="M19.0,87.4C19.7,84.9 20.8,80.4 23.7,78.1C26.6,75.8 31.7,74.4 36.7,73.5C41.7,72.6 48.5,72.4 53.5,72.6C58.5,72.8 63.2,72.9 66.5,74.4C69.8,76.0 71.5,78.8 73.0,81.9C74.5,85.0 75.6,89.3 75.8,93.0C76.0,96.7 75.2,100.8 73.9,104.2C72.7,107.6 70.5,110.4 68.3,113.5C66.1,116.6 63.4,120.0 60.9,122.8C58.4,125.6 56.3,128.8 53.5,130.2C50.7,131.6 47.2,131.5 44.2,131.2C41.2,130.9 37.8,130.1 35.8,128.4C33.8,126.7 32.6,123.4 32.1,120.9C31.6,118.4 33.5,116.0 33.0,113.5C32.5,111.0 30.9,108.5 29.3,106.0C27.8,103.5 25.3,100.8 23.7,98.6C22.1,96.4 20.4,94.9 19.6,93.0C18.8,91.1 18.3,89.9 19.0,87.4Z" fill="#000" stroke="#000" stroke-width="4" stroke-linejoin="round"/><path d="M25.0,92.0C31.7,89.7 63.7,88.7 71.0,90.0C78.3,91.3 70.6,97.0 69.0,100.0C67.4,103.0 63.0,105.5 61.4,108.0C59.8,110.5 60.7,112.5 59.5,115.3C58.3,118.1 56.5,122.5 54.0,124.7C51.5,126.9 47.5,128.4 44.7,128.4C41.9,128.4 38.9,126.9 37.2,124.7C35.5,122.5 35.4,118.8 34.4,115.3C33.4,111.8 32.6,107.9 31.0,104.0C29.4,100.1 18.3,94.3 25.0,92.0Z" fill="url(#legG)"/><defs><path id="z12" d="M19.0,87.4C19.6,84.9 20.8,80.4 23.7,78.1C26.6,75.8 31.7,74.4 36.7,73.5C41.7,72.6 48.6,72.4 53.5,72.6C58.4,72.8 63.0,72.9 66.0,74.4C69.0,76.0 70.6,79.0 71.5,81.9C72.4,84.8 72.2,89.2 71.5,92.0C70.8,94.8 69.2,97.3 67.0,99.0C64.8,100.7 61.3,101.3 58.0,102.0C54.7,102.7 51.0,103.1 47.0,103.0C43.0,102.9 37.7,102.3 34.0,101.5C30.3,100.7 27.3,99.4 25.0,98.0C22.7,96.6 21.0,94.8 20.0,93.0C19.0,91.2 18.4,89.9 19.0,87.4Z" stroke-width="0.7" vector-effect="non-scaling-stroke"/></defs><use href="#z12" fill="url(#zl)" stroke="#cfcfcf" transform="translate(47.0,85.6) scale(0.96) translate(-47.0,-85.6)"/><use href="#z12" fill="url(#zl)" stroke="#cfcfcf" transform="translate(47.0,85.6) scale(0.6) translate(-47.0,-85.6)"/><use href="#z12" fill="url(#zl)" stroke="#cfcfcf" transform="translate(47.0,85.6) scale(0.42) translate(-47.0,-85.6)"/><use href="#z12" fill="url(#zl)" stroke="#cfcfcf" transform="translate(47.0,85.6) scale(0.26) translate(-47.0,-85.6)"/><use href="#z12" fill="url(#zl)" stroke="#cfcfcf" transform="translate(47.0,85.6) scale(0.13) translate(-47.0,-85.6)"/><path d="M104.6,93.0C107.1,93.3 110.7,94.2 113.0,96.7C115.3,99.2 117.5,103.9 118.6,107.9C119.7,111.9 119.8,116.6 119.5,120.9C119.2,125.2 118.1,129.7 116.7,134.0C115.3,138.3 113.0,144.2 111.1,147.0C109.2,149.8 107.7,150.4 105.5,150.7C103.3,151.0 100.4,151.0 98.1,148.8C95.8,146.6 93.7,142.0 91.6,137.7C89.5,133.4 86.4,126.8 85.5,122.8C84.6,118.8 84.8,116.9 86.0,113.5C87.2,110.1 90.5,105.4 92.5,102.3C94.5,99.2 96.1,96.5 98.1,94.9C100.1,93.4 102.1,92.7 104.6,93.0Z" fill="#888" stroke="#000" stroke-width="4" stroke-linejoin="round"/><defs><path id="z13" d="M104.6,93.0C107.1,93.3 110.7,94.2 113.0,96.7C115.3,99.2 117.5,103.9 118.6,107.9C119.7,111.9 119.8,116.6 119.5,120.9C119.2,125.2 118.1,129.7 116.7,134.0C115.3,138.3 113.0,144.2 111.1,147.0C109.2,149.8 107.7,150.4 105.5,150.7C103.3,151.0 100.4,151.0 98.1,148.8C95.8,146.6 93.7,142.0 91.6,137.7C89.5,133.4 86.4,126.8 85.5,122.8C84.6,118.8 84.8,116.9 86.0,113.5C87.2,110.1 90.5,105.4 92.5,102.3C94.5,99.2 96.1,96.5 98.1,94.9C100.1,93.4 102.1,92.7 104.6,93.0Z" stroke-width="0.7" vector-effect="non-scaling-stroke"/></defs><use href="#z13" fill="url(#zg)" stroke="#d0d0d0" transform="translate(104.6,120.9) scale(0.96) translate(-104.6,-120.9)"/><use href="#z13" fill="url(#zg2)" stroke="#8a8a8a" transform="translate(104.6,120.9) scale(0.62) translate(-104.6,-120.9)"/><use href="#z13" fill="url(#zg2)" stroke="#8a8a8a" transform="translate(104.6,120.9) scale(0.42) translate(-104.6,-120.9)"/><use href="#z13" fill="url(#zg2)" stroke="#8a8a8a" transform="translate(104.6,120.9) scale(0.24) translate(-104.6,-120.9)"/><path d="M75.7,0V174M0,105.7H175" stroke="#4646c4" stroke-width="1.5" fill="none" style="mix-blend-mode:multiply"/><path d="M0,0V174H175" stroke="#000" stroke-width="1.4" fill="none"/><path d="M-3.5,13.6H0M-3.5,48.9H0M-3.5,84.2H0M-3.5,119.5H0M-3.5,148.0H0M-1.6,38.3H0M-1.6,32.1H0M-1.6,27.6H0M-1.6,24.2H0M-1.6,21.4H0M-1.6,19.1H0M-1.6,17.0H0M-1.6,15.2H0M-1.6,73.6H0M-1.6,67.4H0M-1.6,62.9H0M-1.6,59.5H0M-1.6,56.7H0M-1.6,54.4H0M-1.6,52.3H0M-1.6,50.5H0M-1.6,108.9H0M-1.6,102.7H0M-1.6,98.2H0M-1.6,94.8H0M-1.6,92.0H0M-1.6,89.7H0M-1.6,87.6H0M-1.6,85.8H0M-1.6,124.0H0M-1.6,128.5H0M-1.6,132.5H0M-1.6,136.5H0M-1.6,140.5H0M-1.6,144.5H0M-1.6,151.5H0M-1.6,156.0H0M-1.6,160.5H0M-1.6,165.5H0M-3.5,174H0M51.6,174V177.5M87.5,174V177.5M123.0,174V177.5M158.5,174V177.5M28.4,174V177.5M8.3,174V177.5M62.3,174V175.8M68.6,174V175.8M73.0,174V175.8M76.5,174V175.8M79.3,174V175.8M81.7,174V175.8M83.8,174V175.8M85.6,174V175.8M98.2,174V175.8M104.5,174V175.8M108.9,174V175.8M112.4,174V175.8M115.2,174V175.8M117.6,174V175.8M119.7,174V175.8M121.5,174V175.8M133.7,174V175.8M140.0,174V175.8M144.4,174V175.8M147.9,174V175.8M150.7,174V175.8M153.1,174V175.8M155.2,174V175.8M157.0,174V175.8M12.5,174V175.8M16.5,174V175.8M20.5,174V175.8M24.5,174V175.8M32.5,174V175.8M36.5,174V175.8M40.5,174V175.8M44.5,174V175.8M48.0,174V175.8" stroke="#000" stroke-width="1" fill="none"/><text x="-9" y="19.2" font-size="16" text-anchor="end">10<tspan font-size="12" dy="-5.2">5</tspan></text><text x="-9" y="54.5" font-size="16" text-anchor="end">10<tspan font-size="12" dy="-5.2">4</tspan></text><text x="-9" y="89.8" font-size="16" text-anchor="end">10<tspan font-size="12" dy="-5.2">3</tspan></text><text x="-9" y="125.1" font-size="16" text-anchor="end">10<tspan font-size="12" dy="-5.2">2</tspan></text><text x="-9.5" y="153.6" font-size="16" text-anchor="end">0</text><text x="51.6" y="196.3" font-size="16" text-anchor="middle">10<tspan font-size="12" dy="-5.2">2</tspan></text><text x="87.5" y="196.3" font-size="16" text-anchor="middle">10<tspan font-size="12" dy="-5.2">3</tspan></text><text x="123.0" y="196.3" font-size="16" text-anchor="middle">10<tspan font-size="12" dy="-5.2">4</tspan></text><text x="158.5" y="196.3" font-size="16" text-anchor="middle">10<tspan font-size="12" dy="-5.2">5</tspan></text><text x="29.4" y="196.3" font-size="16" text-anchor="middle">0</text><path d="M95.8,27.9H160M128,10.2V46.5" stroke="#000" stroke-width="2" fill="none"/><text x="121.2" y="23.6" font-size="16" text-anchor="end">34.6</text><text x="128.6" y="23.6" font-size="16">1.22</text><text x="121.2" y="43.8" font-size="16" text-anchor="end">4.16</text><text x="129.7" y="43.8" font-size="16">60.0</text></g>
<g transform="translate(546.5,340)"><path d="M0,0.6H174.6V174" stroke="#a8a8a8" stroke-width="1.2" fill="none"/><path d="M49.5 115.5h1M50.5 118.5h1M44.5 168.5h1M64.5 104.5h1M57.5 100.5h1M37.5 168.5h1M52.5 109.5h1M27.5 135.5h1M50.5 140.5h1M31.5 135.5h1M69.5 116.5h1M35.5 90.5h1M28.5 104.5h1M32.5 98.5h1M84.5 132.5h1M48.5 127.5h1M47.5 109.5h1M56.5 131.5h1M42.5 113.5h1M42.5 114.5h1M35.5 96.5h1M41.5 134.5h1M35.5 113.5h1M35.5 114.5h1M69.5 124.5h1M41.5 143.5h1M27.5 117.5h1M43.5 129.5h1M44.5 122.5h1M47.5 90.5h1M36.5 132.5h1M53.5 110.5h1M36.5 127.5h1M33.5 129.5h1M56.5 113.5h1M60.5 111.5h1M48.5 129.5h1M43.5 109.5h1M46.5 96.5h1M31.5 101.5h1M46.5 119.5h1M9.5 128.5h1M54.5 111.5h1M29.5 114.5h1M17.5 106.5h1M42.5 139.5h1M28.5 150.5h1M27.5 89.5h1M39.5 121.5h1M28.5 117.5h1M25.5 135.5h1M57.5 130.5h1M28.5 111.5h1M43.5 113.5h1M61.5 105.5h1M13.5 132.5h1M45.5 99.5h1M26.5 139.5h1M22.5 124.5h1M13.5 91.5h1M71.5 127.5h1M49.5 99.5h1M48.5 119.5h1M34.5 124.5h1M41.5 131.5h1M73.5 137.5h1M63.5 99.5h1M54.5 103.5h1M43.5 109.5h1M49.5 127.5h1M41.5 160.5h1M11.5 133.5h1M39.5 128.5h1M42.5 150.5h1M35.5 103.5h1M43.5 131.5h1M83.5 95.5h1M79.5 90.5h1M76.5 76.5h1M71.5 95.5h1M76.5 91.5h1M89.5 94.5h1M76.5 92.5h1M70.5 91.5h1M77.5 109.5h1M87.5 95.5h1M90.5 85.5h1M84.5 88.5h1M79.5 99.5h1M91.5 91.5h1M84.5 85.5h1M91.5 97.5h1M75.5 86.5h1M74.5 88.5h1M74.5 98.5h1M86.5 98.5h1M80.5 92.5h1M83.5 80.5h1M84.5 87.5h1M63.5 91.5h1M68.5 88.5h1M76.5 88.5h1M79.5 98.5h1M77.5 97.5h1M80.5 87.5h1M85.5 81.5h1M76.5 89.5h1M88.5 84.5h1M94.5 84.5h1M99.5 89.5h1M86.5 103.5h1M88.5 92.5h1M75.5 85.5h1M76.5 92.5h1M81.5 84.5h1M103.5 76.5h1M68.5 104.5h1M67.5 102.5h1M96.5 100.5h1M90.5 84.5h1M71.5 91.5h1M82.5 112.5h1M70.5 94.5h1M94.5 103.5h1M109.5 129.5h1M93.5 153.5h1M95.5 161.5h1M94.5 141.5h1M100.5 104.5h1M95.5 154.5h1M85.5 140.5h1M120.5 120.5h1M119.5 143.5h1M121.5 147.5h1M77.5 147.5h1M95.5 155.5h1M111.5 139.5h1M85.5 126.5h1M93.5 130.5h1M101.5 147.5h1M93.5 142.5h1M93.5 162.5h1M92.5 132.5h1M74.5 133.5h1M112.5 149.5h1M114.5 141.5h1M75.5 139.5h1M95.5 128.5h1M110.5 161.5h1M115.5 156.5h1M87.5 160.5h1M88.5 140.5h1M68.5 137.5h1M101.5 137.5h1M87.5 157.5h1M69.5 151.5h1M40.5 137.5h1M60.5 134.5h1M55.5 162.5h1M22.5 148.5h1M61.5 142.5h1M27.5 141.5h1M48.5 149.5h1M27.5 138.5h1M80.5 154.5h1M59.5 143.5h1M12.5 154.5h1M55.5 138.5h1M39.5 156.5h1M110.5 134.5h1M24.5 143.5h1M44.5 134.5h1M39.5 146.5h1M31.5 142.5h1M67.5 155.5h1M66.5 156.5h1M24.5 152.5h1M47.5 157.5h1M15.5 162.5h1M30.5 143.5h1M74.5 143.5h1M35.5 154.5h1" stroke="#333" stroke-opacity="0.55"/><path d="M29.5 103.5h1M5.5 90.5h1M52.5 154.5h1M68.5 105.5h1M14.5 105.5h1M48.5 69.5h1M60.5 147.5h1M41.5 124.5h1M79.5 127.5h1M21.5 116.5h1M26.5 110.5h1M21.5 112.5h1M31.5 116.5h1M79.5 97.5h1M32.5 123.5h1M61.5 124.5h1M32.5 107.5h1M57.5 125.5h1M57.5 107.5h1M17.5 118.5h1M46.5 82.5h1M42.5 117.5h1M23.5 145.5h1M21.5 119.5h1M34.5 108.5h1M4.5 75.5h1M19.5 151.5h1M57.5 119.5h1M54.5 150.5h1M23.5 112.5h1M58.5 150.5h1M28.5 83.5h1M46.5 137.5h1M40.5 98.5h1M29.5 128.5h1M49.5 116.5h1M55.5 98.5h1M39.5 114.5h1M26.5 85.5h1M55.5 107.5h1M38.5 100.5h1M66.5 106.5h1M25.5 128.5h1M31.5 141.5h1M43.5 123.5h1M30.5 135.5h1M22.5 107.5h1M65.5 127.5h1M14.5 123.5h1M79.5 124.5h1M35.5 132.5h1M59.5 105.5h1M36.5 158.5h1M42.5 142.5h1M23.5 112.5h1M4.5 158.5h1M39.5 112.5h1M51.5 132.5h1M43.5 107.5h1M20.5 126.5h1M69.5 134.5h1M73.5 92.5h1M62.5 101.5h1M63.5 159.5h1M33.5 145.5h1M46.5 132.5h1M41.5 82.5h1M30.5 146.5h1M65.5 96.5h1M48.5 132.5h1M30.5 124.5h1M33.5 137.5h1M38.5 169.5h1M83.5 91.5h1M76.5 90.5h1M71.5 83.5h1M91.5 98.5h1M67.5 81.5h1M89.5 98.5h1M81.5 66.5h1M69.5 101.5h1M83.5 80.5h1M91.5 97.5h1M71.5 93.5h1M68.5 93.5h1M87.5 80.5h1M55.5 85.5h1M84.5 82.5h1M80.5 67.5h1M74.5 78.5h1M83.5 89.5h1M81.5 102.5h1M97.5 100.5h1M89.5 85.5h1M82.5 72.5h1M86.5 86.5h1M66.5 98.5h1M84.5 100.5h1M73.5 82.5h1M67.5 89.5h1M92.5 98.5h1M95.5 94.5h1M92.5 100.5h1M91.5 93.5h1M57.5 106.5h1M74.5 87.5h1M79.5 95.5h1M86.5 81.5h1M82.5 83.5h1M75.5 80.5h1M76.5 71.5h1M75.5 83.5h1M78.5 93.5h1M84.5 90.5h1M74.5 96.5h1M70.5 79.5h1M62.5 90.5h1M61.5 95.5h1M97.5 96.5h1M92.5 95.5h1M73.5 98.5h1M86.5 87.5h1M83.5 71.5h1M73.5 81.5h1M106.5 74.5h1M93.5 146.5h1M104.5 171.5h1M104.5 156.5h1M88.5 145.5h1M109.5 121.5h1M110.5 161.5h1M74.5 119.5h1M109.5 168.5h1M111.5 163.5h1M113.5 124.5h1M92.5 140.5h1M106.5 129.5h1M99.5 146.5h1M102.5 135.5h1M108.5 142.5h1M103.5 164.5h1M103.5 120.5h1M111.5 136.5h1M101.5 104.5h1M83.5 158.5h1M105.5 136.5h1M87.5 135.5h1M65.5 134.5h1M70.5 137.5h1M94.5 149.5h1M88.5 123.5h1M82.5 164.5h1M94.5 140.5h1M28.5 156.5h1M12.5 142.5h1M13.5 163.5h1M80.5 152.5h1M54.5 151.5h1M61.5 141.5h1M51.5 158.5h1M25.5 136.5h1M31.5 149.5h1M80.5 152.5h1M40.5 146.5h1M65.5 140.5h1M39.5 141.5h1M51.5 134.5h1M29.5 146.5h1M21.5 162.5h1M70.5 143.5h1M41.5 170.5h1M78.5 151.5h1M40.5 157.5h1M90.5 149.5h1M60.5 147.5h1" stroke="#555" stroke-opacity="0.35"/><path d="M17.5 143.5h1M63.5 71.5h1M33.5 69.5h1M123.5 136.5h1M68.5 138.5h1M84.5 106.5h1M121.5 145.5h1M21.5 85.5h1M113.5 149.5h1M23.5 145.5h1M20.5 112.5h1M21.5 80.5h1M126.5 123.5h1M123.5 136.5h1M19.5 85.5h1M61.5 66.5h1M94.5 152.5h1M68.5 82.5h1M17.5 92.5h1M113.5 153.5h1M112.5 101.5h1M118.5 140.5h1M88.5 146.5h1M17.5 122.5h1M65.5 138.5h1M80.5 139.5h1M22.5 71.5h1M23.5 73.5h1M97.5 101.5h1M70.5 84.5h1M71.5 102.5h1M83.5 106.5h1M26.5 145.5h1M68.5 97.5h1M111.5 99.5h1M93.5 150.5h1M104.5 154.5h1M119.5 141.5h1M19.5 98.5h1M31.5 152.5h1M32.5 66.5h1M28.5 71.5h1M97.5 155.5h1M18.5 106.5h1M109.5 156.5h1M121.5 126.5h1M21.5 143.5h1M22.5 149.5h1M23.5 109.5h1M117.5 105.5h1M64.5 139.5h1M94.5 104.5h1M104.5 101.5h1M96.5 103.5h1M68.5 90.5h1M91.5 150.5h1M79.5 140.5h1M59.5 56.5h1M18.5 84.5h1M122.5 143.5h1M65.5 70.5h1M112.5 101.5h1M121.5 109.5h1M20.5 117.5h1M17.5 94.5h1M85.5 139.5h1M117.5 146.5h1M20.5 81.5h1M22.5 87.5h1M60.5 67.5h1M105.5 159.5h1M16.5 142.5h1M70.5 102.5h1M65.5 138.5h1M116.5 149.5h1M61.5 68.5h1M94.5 149.5h1M124.5 128.5h1M89.5 105.5h1M13.5 126.5h1M107.5 156.5h1M79.5 107.5h1M68.5 95.5h1M90.5 146.5h1M63.5 73.5h1M40.5 150.5h1M16.5 141.5h1M118.5 105.5h1M38.5 67.5h1M104.5 157.5h1M30.5 147.5h1M66.5 101.5h1M69.5 88.5h1M40.5 148.5h1M35.5 151.5h1M43.5 148.5h1M50.5 67.5h1M40.5 67.5h1M103.5 158.5h1M75.5 107.5h1M120.5 142.5h1M102.5 158.5h1M42.5 149.5h1M103.5 159.5h1M86.5 142.5h1M119.5 138.5h1M18.5 135.5h1M21.5 124.5h1M21.5 79.5h1M22.5 107.5h1M21.5 99.5h1M36.5 66.5h1M114.5 152.5h1M118.5 103.5h1M17.5 115.5h1M22.5 146.5h1M107.5 157.5h1M77.5 100.5h1M72.5 142.5h1M124.5 134.5h1M113.5 99.5h1M68.5 100.5h1M120.5 132.5h1M21.5 147.5h1M66.5 102.5h1M18.5 132.5h1M85.5 140.5h1M68.5 76.5h1M88.5 147.5h1M76.5 135.5h1M97.5 154.5h1M17.5 143.5h1M82.5 140.5h1M66.5 95.5h1M119.5 144.5h1M39.5 69.5h1M20.5 105.5h1M13.5 141.5h1M32.5 152.5h1M48.5 150.5h1M62.5 69.5h1M103.5 158.5h1M56.5 67.5h1M121.5 104.5h1M16.5 115.5h1M119.5 103.5h1M119.5 139.5h1M124.5 128.5h1M70.5 88.5h1M40.5 66.5h1M69.5 94.5h1M90.5 148.5h1M38.5 65.5h1M100.5 104.5h1M94.5 154.5h1M36.5 68.5h1M118.5 99.5h1M110.5 155.5h1M63.5 144.5h1M61.5 144.5h1M66.5 75.5h1M122.5 116.5h1M66.5 75.5h1M69.5 138.5h1M19.5 142.5h1M18.5 74.5h1M71.5 135.5h1M20.5 114.5h1M42.5 147.5h1M79.5 139.5h1M115.5 101.5h1M96.5 156.5h1M67.5 79.5h1M15.5 125.5h1M26.5 145.5h1M100.5 156.5h1M90.5 147.5h1M122.5 137.5h1M18.5 110.5h1M19.5 87.5h1M19.5 83.5h1M113.5 98.5h1M73.5 100.5h1M70.5 99.5h1M67.5 79.5h1M69.5 93.5h1M77.5 136.5h1M121.5 106.5h1M120.5 140.5h1M72.5 102.5h1M66.5 77.5h1M105.5 101.5h1M91.5 104.5h1M118.5 107.5h1M39.5 149.5h1M121.5 135.5h1M87.5 106.5h1M24.5 73.5h1M69.5 91.5h1M68.5 93.5h1M85.5 141.5h1M125.5 144.5h1M57.5 69.5h1M60.5 68.5h1M81.5 103.5h1M16.5 132.5h1M64.5 73.5h1M115.5 150.5h1M85.5 144.5h1M64.5 71.5h1M100.5 102.5h1M72.5 135.5h1M70.5 85.5h1M86.5 107.5h1M41.5 148.5h1M17.5 120.5h1M51.5 146.5h1M56.5 146.5h1M70.5 88.5h1M106.5 157.5h1M62.5 75.5h1M63.5 74.5h1M116.5 152.5h1M69.5 104.5h1M21.5 81.5h1M92.5 106.5h1M117.5 150.5h1M21.5 68.5h1" stroke="#333" stroke-opacity="0.5"/><path d="M121.5 119.5h1M110.5 158.5h1M63.5 76.5h1M100.5 157.5h1M107.5 98.5h1M83.5 139.5h1M123.5 132.5h1M107.5 158.5h1M74.5 105.5h1M28.5 148.5h1M86.5 142.5h1M20.5 108.5h1M70.5 101.5h1M68.5 79.5h1M80.5 141.5h1M125.5 107.5h1M110.5 162.5h1M51.5 145.5h1M68.5 78.5h1M124.5 122.5h1M120.5 148.5h1M28.5 68.5h1M21.5 105.5h1M43.5 66.5h1M76.5 136.5h1M131.5 115.5h1M50.5 148.5h1M75.5 138.5h1M109.5 100.5h1M18.5 79.5h1M69.5 79.5h1M114.5 151.5h1M61.5 66.5h1M88.5 105.5h1M20.5 131.5h1M57.5 68.5h1M45.5 147.5h1M44.5 148.5h1M125.5 109.5h1M120.5 106.5h1M75.5 135.5h1M101.5 159.5h1M104.5 156.5h1M60.5 72.5h1M109.5 159.5h1M118.5 104.5h1M58.5 68.5h1M70.5 88.5h1M56.5 145.5h1M85.5 141.5h1M86.5 143.5h1M69.5 90.5h1M31.5 147.5h1M21.5 105.5h1M103.5 101.5h1M15.5 117.5h1M90.5 149.5h1M77.5 97.5h1M114.5 99.5h1M20.5 102.5h1M57.5 69.5h1M68.5 100.5h1M16.5 136.5h1M124.5 119.5h1M84.5 143.5h1M67.5 98.5h1M64.5 74.5h1M118.5 152.5h1M116.5 151.5h1M112.5 153.5h1M21.5 117.5h1M20.5 85.5h1M69.5 98.5h1M121.5 100.5h1M27.5 145.5h1M24.5 104.5h1M52.5 144.5h1M92.5 150.5h1M26.5 146.5h1M21.5 145.5h1M121.5 146.5h1M106.5 98.5h1M21.5 91.5h1M102.5 100.5h1M69.5 94.5h1M19.5 80.5h1M72.5 138.5h1M63.5 140.5h1M20.5 94.5h1M35.5 148.5h1M67.5 134.5h1M86.5 142.5h1M31.5 147.5h1M86.5 107.5h1M70.5 99.5h1M120.5 112.5h1M72.5 134.5h1M40.5 70.5h1M64.5 70.5h1M114.5 155.5h1M19.5 87.5h1M17.5 86.5h1M70.5 97.5h1M106.5 157.5h1M67.5 76.5h1M65.5 71.5h1M61.5 143.5h1M92.5 150.5h1M25.5 73.5h1M107.5 100.5h1M17.5 135.5h1M42.5 148.5h1M35.5 68.5h1M22.5 108.5h1M124.5 141.5h1M19.5 101.5h1M123.5 108.5h1M52.5 147.5h1M19.5 92.5h1M17.5 123.5h1M64.5 140.5h1M29.5 149.5h1M26.5 145.5h1M75.5 106.5h1M88.5 106.5h1M24.5 144.5h1M68.5 86.5h1M17.5 121.5h1M82.5 109.5h1M17.5 121.5h1M70.5 88.5h1M76.5 138.5h1M82.5 107.5h1M121.5 113.5h1M76.5 134.5h1M70.5 85.5h1M22.5 105.5h1M87.5 143.5h1M82.5 107.5h1M121.5 108.5h1M71.5 102.5h1M24.5 65.5h1M68.5 99.5h1M46.5 153.5h1M54.5 146.5h1M117.5 105.5h1M30.5 148.5h1M119.5 107.5h1M22.5 149.5h1M87.5 145.5h1M81.5 99.5h1M25.5 144.5h1M39.5 148.5h1M20.5 112.5h1M75.5 107.5h1M123.5 113.5h1M62.5 73.5h1M23.5 146.5h1M19.5 90.5h1M87.5 106.5h1M67.5 100.5h1M117.5 102.5h1M127.5 120.5h1M110.5 100.5h1M73.5 134.5h1M114.5 153.5h1M99.5 102.5h1M121.5 144.5h1M49.5 68.5h1M118.5 107.5h1M89.5 146.5h1M88.5 106.5h1M18.5 128.5h1M62.5 146.5h1M88.5 148.5h1M84.5 150.5h1M117.5 104.5h1M112.5 100.5h1M119.5 144.5h1M123.5 117.5h1M97.5 102.5h1M18.5 76.5h1M58.5 142.5h1M87.5 107.5h1M69.5 137.5h1M56.5 68.5h1M33.5 148.5h1M127.5 120.5h1M95.5 103.5h1M123.5 143.5h1M76.5 136.5h1M17.5 71.5h1M69.5 138.5h1M23.5 69.5h1M68.5 90.5h1M20.5 76.5h1M19.5 94.5h1M28.5 148.5h1M69.5 141.5h1M18.5 88.5h1M19.5 89.5h1M68.5 92.5h1M17.5 97.5h1M124.5 121.5h1M31.5 155.5h1M17.5 86.5h1M14.5 132.5h1M98.5 156.5h1M97.5 101.5h1M81.5 137.5h1M43.5 67.5h1M124.5 122.5h1M67.5 99.5h1M23.5 100.5h1M120.5 138.5h1M67.5 78.5h1M17.5 116.5h1M68.5 97.5h1M80.5 108.5h1M124.5 121.5h1M68.5 90.5h1M69.5 99.5h1M69.5 90.5h1M68.5 101.5h1M70.5 88.5h1M103.5 100.5h1M112.5 159.5h1M68.5 83.5h1M24.5 69.5h1M121.5 109.5h1M122.5 118.5h1M27.5 151.5h1M14.5 121.5h1M111.5 157.5h1" stroke="#666" stroke-opacity="0.35"/><path d="M23.7,78.1C25.1,75.5 27.4,72.9 31.1,71.6C34.8,70.3 41.0,70.3 46.0,70.3C51.0,70.3 57.5,70.3 60.9,71.6C64.3,72.9 65.0,75.5 66.5,78.1C68.0,80.7 69.7,84.3 70.2,87.4C70.7,90.5 69.6,93.9 69.3,96.7C69.0,99.5 67.5,102.3 68.3,104.2C69.1,106.1 71.7,107.1 73.9,107.9C76.1,108.7 78.3,109.3 81.4,108.8C84.5,108.3 88.8,106.5 92.5,105.1C96.2,103.7 100.3,101.1 103.7,100.5C107.1,99.9 110.5,99.9 113.0,101.4C115.5,103.0 117.2,106.5 118.6,109.8C120.0,113.0 121.2,116.6 121.4,120.9C121.6,125.2 120.6,131.2 119.5,135.8C118.4,140.5 117.0,145.7 114.8,148.8C112.6,151.9 109.3,153.6 106.5,154.4C103.7,155.2 100.7,154.7 98.1,153.5C95.5,152.3 93.2,149.6 90.7,147.0C88.2,144.4 85.4,140.0 83.2,137.7C81.0,135.4 79.6,133.9 77.6,133.0C75.6,132.1 73.4,131.3 71.1,132.1C68.8,132.9 66.6,135.8 63.7,137.7C60.8,139.6 57.1,141.8 53.5,143.3C49.9,144.9 46.3,146.7 42.3,147.0C38.3,147.3 32.7,146.7 29.3,145.1C25.9,143.5 23.2,140.8 21.8,137.7C20.4,134.6 20.6,130.2 20.9,126.5C21.2,122.8 22.8,118.7 23.7,115.3C24.6,111.9 26.5,109.1 26.5,106.0C26.5,102.9 24.3,99.8 23.7,96.7C23.1,93.6 22.8,90.5 22.8,87.4C22.8,84.3 22.3,80.7 23.7,78.1Z" fill="#b0b0b0" stroke="#000" stroke-width="4" stroke-linejoin="round"/><defs><path id="z14" d="M24.0,80.0C25.0,76.2 27.3,74.0 31.0,72.5C34.7,71.0 41.2,71.0 46.0,71.0C50.8,71.0 56.8,71.2 60.0,72.5C63.2,73.8 64.1,76.4 65.5,79.0C66.9,81.6 68.2,84.8 68.5,88.0C68.8,91.2 68.8,95.7 67.0,98.0C65.2,100.3 61.7,101.3 58.0,102.0C54.3,102.7 49.3,102.2 45.0,102.0C40.7,101.8 35.3,102.2 32.0,101.0C28.7,99.8 26.3,98.5 25.0,95.0C23.7,91.5 23.0,83.8 24.0,80.0Z" stroke-width="0.7" vector-effect="non-scaling-stroke"/></defs><use href="#z14" fill="url(#zl)" stroke="#cfcfcf" transform="translate(48.8,84.7) scale(0.96) translate(-48.8,-84.7)"/><use href="#z14" fill="url(#zl)" stroke="#cfcfcf" transform="translate(48.8,84.7) scale(0.6) translate(-48.8,-84.7)"/><use href="#z14" fill="url(#zl)" stroke="#cfcfcf" transform="translate(48.8,84.7) scale(0.42) translate(-48.8,-84.7)"/><use href="#z14" fill="url(#zl)" stroke="#cfcfcf" transform="translate(48.8,84.7) scale(0.26) translate(-48.8,-84.7)"/><use href="#z14" fill="url(#zl)" stroke="#cfcfcf" transform="translate(48.8,84.7) scale(0.13) translate(-48.8,-84.7)"/><defs><path id="z15" d="M22.0,125.0C22.3,121.0 22.8,115.2 25.0,112.0C27.2,108.8 30.8,107.0 35.0,106.0C39.2,105.0 45.3,105.7 50.0,106.0C54.7,106.3 59.7,106.5 63.0,108.0C66.3,109.5 69.0,111.7 70.0,115.0C71.0,118.3 70.7,124.2 69.0,128.0C67.3,131.8 64.0,135.5 60.0,138.0C56.0,140.5 50.0,142.3 45.0,143.0C40.0,143.7 33.7,143.2 30.0,142.0C26.3,140.8 24.3,138.8 23.0,136.0C21.7,133.2 21.7,129.0 22.0,125.0Z" stroke-width="0.7" vector-effect="non-scaling-stroke"/></defs><use href="#z15" fill="url(#zg)" stroke="#d0d0d0" transform="translate(45.1,121.9) scale(0.96) translate(-45.1,-121.9)"/><use href="#z15" fill="url(#zg2)" stroke="#8a8a8a" transform="translate(45.1,121.9) scale(0.62) translate(-45.1,-121.9)"/><use href="#z15" fill="url(#zg2)" stroke="#8a8a8a" transform="translate(45.1,121.9) scale(0.42) translate(-45.1,-121.9)"/><use href="#z15" fill="url(#zg2)" stroke="#8a8a8a" transform="translate(45.1,121.9) scale(0.24) translate(-45.1,-121.9)"/><defs><path id="z16" d="M84.0,120.0C85.3,115.7 88.8,109.1 92.0,106.0C95.2,102.9 99.5,102.1 103.0,101.5C106.5,100.9 110.5,101.1 113.0,102.5C115.5,103.9 116.8,106.9 118.0,110.0C119.2,113.1 120.4,116.8 120.5,121.0C120.6,125.2 119.8,130.7 118.5,135.0C117.2,139.3 115.2,144.0 113.0,147.0C110.8,150.0 107.7,152.3 105.0,153.0C102.3,153.7 99.7,152.7 97.0,151.0C94.3,149.3 91.2,146.2 89.0,143.0C86.8,139.8 84.8,135.8 84.0,132.0C83.2,128.2 82.7,124.3 84.0,120.0Z" stroke-width="0.7" vector-effect="non-scaling-stroke"/></defs><use href="#z16" fill="url(#zg)" stroke="#d0d0d0" transform="translate(103.7,123.7) scale(0.96) translate(-103.7,-123.7)"/><use href="#z16" fill="url(#zg2)" stroke="#8a8a8a" transform="translate(103.7,123.7) scale(0.62) translate(-103.7,-123.7)"/><use href="#z16" fill="url(#zg2)" stroke="#8a8a8a" transform="translate(103.7,123.7) scale(0.42) translate(-103.7,-123.7)"/><use href="#z16" fill="url(#zg2)" stroke="#8a8a8a" transform="translate(103.7,123.7) scale(0.24) translate(-103.7,-123.7)"/><path d="M75.7,0V174M0,105.7H175" stroke="#4646c4" stroke-width="1.5" fill="none" style="mix-blend-mode:multiply"/><path d="M0,0V174H175" stroke="#000" stroke-width="1.4" fill="none"/><path d="M-3.5,13.6H0M-3.5,48.9H0M-3.5,84.2H0M-3.5,119.5H0M-3.5,148.0H0M-1.6,38.3H0M-1.6,32.1H0M-1.6,27.6H0M-1.6,24.2H0M-1.6,21.4H0M-1.6,19.1H0M-1.6,17.0H0M-1.6,15.2H0M-1.6,73.6H0M-1.6,67.4H0M-1.6,62.9H0M-1.6,59.5H0M-1.6,56.7H0M-1.6,54.4H0M-1.6,52.3H0M-1.6,50.5H0M-1.6,108.9H0M-1.6,102.7H0M-1.6,98.2H0M-1.6,94.8H0M-1.6,92.0H0M-1.6,89.7H0M-1.6,87.6H0M-1.6,85.8H0M-1.6,124.0H0M-1.6,128.5H0M-1.6,132.5H0M-1.6,136.5H0M-1.6,140.5H0M-1.6,144.5H0M-1.6,151.5H0M-1.6,156.0H0M-1.6,160.5H0M-1.6,165.5H0M-3.5,174H0M51.6,174V177.5M87.5,174V177.5M123.0,174V177.5M158.5,174V177.5M28.4,174V177.5M8.3,174V177.5M62.3,174V175.8M68.6,174V175.8M73.0,174V175.8M76.5,174V175.8M79.3,174V175.8M81.7,174V175.8M83.8,174V175.8M85.6,174V175.8M98.2,174V175.8M104.5,174V175.8M108.9,174V175.8M112.4,174V175.8M115.2,174V175.8M117.6,174V175.8M119.7,174V175.8M121.5,174V175.8M133.7,174V175.8M140.0,174V175.8M144.4,174V175.8M147.9,174V175.8M150.7,174V175.8M153.1,174V175.8M155.2,174V175.8M157.0,174V175.8M12.5,174V175.8M16.5,174V175.8M20.5,174V175.8M24.5,174V175.8M32.5,174V175.8M36.5,174V175.8M40.5,174V175.8M44.5,174V175.8M48.0,174V175.8" stroke="#000" stroke-width="1" fill="none"/><text x="-9" y="19.2" font-size="16" text-anchor="end">10<tspan font-size="12" dy="-5.2">5</tspan></text><text x="-9" y="54.5" font-size="16" text-anchor="end">10<tspan font-size="12" dy="-5.2">4</tspan></text><text x="-9" y="89.8" font-size="16" text-anchor="end">10<tspan font-size="12" dy="-5.2">3</tspan></text><text x="-9" y="125.1" font-size="16" text-anchor="end">10<tspan font-size="12" dy="-5.2">2</tspan></text><text x="-9.5" y="153.6" font-size="16" text-anchor="end">0</text><text x="51.6" y="196.3" font-size="16" text-anchor="middle">10<tspan font-size="12" dy="-5.2">2</tspan></text><text x="87.5" y="196.3" font-size="16" text-anchor="middle">10<tspan font-size="12" dy="-5.2">3</tspan></text><text x="123.0" y="196.3" font-size="16" text-anchor="middle">10<tspan font-size="12" dy="-5.2">4</tspan></text><text x="158.5" y="196.3" font-size="16" text-anchor="middle">10<tspan font-size="12" dy="-5.2">5</tspan></text><text x="29.4" y="196.3" font-size="16" text-anchor="middle">0</text><path d="M95.8,27.9H160M128,10.2V46.5" stroke="#000" stroke-width="2" fill="none"/><text x="123.1" y="23.6" font-size="16" text-anchor="end">21.1</text><text x="132.7" y="23.6" font-size="16">0.52</text><text x="121.1" y="43.8" font-size="16" text-anchor="end" fill="#e020e0">24.9</text><text x="132.7" y="43.8" font-size="16">54.3</text></g>
<g transform="translate(761.5,340)"><path d="M0,0.6H174.6V174" stroke="#a8a8a8" stroke-width="1.2" fill="none"/><path d="M54.5 130.5h1M34.5 121.5h1M32.5 125.5h1M38.5 127.5h1M37.5 106.5h1M35.5 116.5h1M30.5 142.5h1M44.5 126.5h1M34.5 132.5h1M34.5 100.5h1M52.5 126.5h1M60.5 121.5h1M52.5 120.5h1M52.5 128.5h1M67.5 110.5h1M52.5 131.5h1M19.5 116.5h1M17.5 134.5h1M54.5 111.5h1M41.5 132.5h1M40.5 152.5h1M26.5 116.5h1M27.5 117.5h1M40.5 121.5h1M45.5 139.5h1M28.5 126.5h1M32.5 147.5h1M57.5 105.5h1M37.5 132.5h1M30.5 151.5h1M25.5 124.5h1M39.5 127.5h1M50.5 131.5h1M39.5 145.5h1M57.5 120.5h1M43.5 113.5h1M54.5 140.5h1M46.5 118.5h1M31.5 116.5h1M60.5 135.5h1M17.5 117.5h1M74.5 118.5h1M41.5 107.5h1M37.5 124.5h1M32.5 127.5h1M34.5 111.5h1M24.5 118.5h1M33.5 111.5h1M46.5 112.5h1M43.5 123.5h1M35.5 114.5h1M25.5 121.5h1M52.5 128.5h1M39.5 132.5h1M20.5 116.5h1M17.5 111.5h1M57.5 136.5h1M25.5 102.5h1M38.5 103.5h1M43.5 115.5h1M56.5 129.5h1M45.5 106.5h1M14.5 120.5h1M43.5 118.5h1M56.5 119.5h1M47.5 100.5h1M65.5 114.5h1M29.5 121.5h1M47.5 127.5h1M50.5 113.5h1M31.5 119.5h1M27.5 107.5h1M66.5 131.5h1M37.5 127.5h1M19.5 125.5h1M31.5 128.5h1M65.5 89.5h1M67.5 95.5h1M55.5 80.5h1M4.5 99.5h1M9.5 76.5h1M51.5 91.5h1M41.5 85.5h1M37.5 81.5h1M66.5 77.5h1M59.5 103.5h1M48.5 82.5h1M44.5 88.5h1M88.5 82.5h1M53.5 81.5h1M33.5 80.5h1M57.5 92.5h1M53.5 107.5h1M20.5 102.5h1M28.5 94.5h1M40.5 108.5h1M57.5 92.5h1M45.5 95.5h1M61.5 76.5h1M5.5 87.5h1M76.5 93.5h1M67.5 88.5h1M64.5 72.5h1M75.5 85.5h1M49.5 80.5h1M58.5 83.5h1M29.5 87.5h1M61.5 91.5h1M84.5 92.5h1M61.5 84.5h1M102.5 79.5h1M44.5 85.5h1M29.5 86.5h1M90.5 80.5h1M73.5 90.5h1M92.5 85.5h1M86.5 85.5h1M88.5 94.5h1M83.5 106.5h1M64.5 115.5h1M95.5 107.5h1M81.5 112.5h1M87.5 86.5h1M89.5 106.5h1M89.5 105.5h1M81.5 80.5h1M88.5 78.5h1M83.5 105.5h1M77.5 84.5h1M84.5 87.5h1M85.5 77.5h1M87.5 111.5h1M77.5 107.5h1M74.5 95.5h1M76.5 96.5h1M80.5 84.5h1M84.5 100.5h1M79.5 105.5h1M86.5 104.5h1M82.5 105.5h1M84.5 92.5h1M91.5 75.5h1M89.5 116.5h1M75.5 93.5h1M85.5 89.5h1M85.5 97.5h1M93.5 100.5h1M93.5 98.5h1M85.5 111.5h1M84.5 111.5h1M83.5 109.5h1M71.5 131.5h1M69.5 103.5h1M87.5 91.5h1M85.5 100.5h1M90.5 101.5h1M81.5 105.5h1M84.5 98.5h1M86.5 116.5h1M71.5 95.5h1M94.5 116.5h1M74.5 99.5h1M84.5 125.5h1M109.5 150.5h1M108.5 130.5h1M103.5 141.5h1M108.5 126.5h1M122.5 125.5h1M96.5 119.5h1M103.5 117.5h1M85.5 121.5h1M108.5 114.5h1M105.5 135.5h1M98.5 119.5h1M108.5 89.5h1M85.5 101.5h1M95.5 134.5h1M85.5 120.5h1M102.5 124.5h1M83.5 116.5h1M98.5 112.5h1M90.5 108.5h1M116.5 132.5h1M74.5 137.5h1M91.5 132.5h1M86.5 103.5h1M112.5 122.5h1M68.5 130.5h1M80.5 130.5h1M96.5 113.5h1M93.5 92.5h1M129.5 131.5h1M99.5 89.5h1M106.5 87.5h1M40.5 132.5h1M22.5 162.5h1M113.5 138.5h1M120.5 124.5h1M32.5 125.5h1M80.5 109.5h1M79.5 118.5h1M100.5 130.5h1M98.5 147.5h1M57.5 148.5h1M98.5 116.5h1M67.5 150.5h1M82.5 145.5h1" stroke="#333" stroke-opacity="0.55"/><path d="M66.5 109.5h1M45.5 123.5h1M27.5 129.5h1M37.5 125.5h1M25.5 113.5h1M51.5 120.5h1M29.5 133.5h1M37.5 137.5h1M33.5 142.5h1M40.5 128.5h1M14.5 114.5h1M47.5 120.5h1M47.5 105.5h1M50.5 94.5h1M26.5 143.5h1M32.5 101.5h1M42.5 107.5h1M43.5 117.5h1M32.5 135.5h1M41.5 116.5h1M36.5 109.5h1M25.5 118.5h1M43.5 104.5h1M30.5 130.5h1M38.5 145.5h1M28.5 117.5h1M39.5 110.5h1M39.5 127.5h1M36.5 116.5h1M35.5 118.5h1M22.5 126.5h1M43.5 100.5h1M31.5 127.5h1M29.5 135.5h1M49.5 117.5h1M25.5 136.5h1M52.5 125.5h1M20.5 132.5h1M47.5 108.5h1M19.5 105.5h1M59.5 119.5h1M37.5 119.5h1M33.5 114.5h1M40.5 106.5h1M44.5 132.5h1M42.5 121.5h1M29.5 95.5h1M61.5 140.5h1M59.5 132.5h1M56.5 117.5h1M38.5 138.5h1M40.5 122.5h1M41.5 106.5h1M43.5 111.5h1M32.5 108.5h1M46.5 143.5h1M44.5 127.5h1M18.5 121.5h1M24.5 118.5h1M22.5 109.5h1M6.5 122.5h1M9.5 102.5h1M39.5 115.5h1M39.5 109.5h1M34.5 112.5h1M51.5 144.5h1M63.5 126.5h1M38.5 117.5h1M42.5 105.5h1M56.5 116.5h1M46.5 130.5h1M11.5 118.5h1M28.5 110.5h1M24.5 134.5h1M79.5 79.5h1M33.5 83.5h1M71.5 97.5h1M43.5 115.5h1M21.5 57.5h1M66.5 104.5h1M43.5 77.5h1M31.5 95.5h1M63.5 97.5h1M39.5 92.5h1M31.5 102.5h1M11.5 93.5h1M67.5 72.5h1M45.5 78.5h1M50.5 67.5h1M68.5 69.5h1M38.5 62.5h1M30.5 91.5h1M74.5 87.5h1M51.5 79.5h1M50.5 86.5h1M39.5 84.5h1M14.5 87.5h1M40.5 86.5h1M72.5 84.5h1M67.5 68.5h1M36.5 88.5h1M51.5 86.5h1M22.5 97.5h1M52.5 91.5h1M78.5 100.5h1M44.5 84.5h1M22.5 108.5h1M71.5 110.5h1M30.5 98.5h1M21.5 81.5h1M60.5 108.5h1M54.5 76.5h1M67.5 94.5h1M47.5 64.5h1M37.5 78.5h1M85.5 99.5h1M79.5 93.5h1M80.5 105.5h1M84.5 107.5h1M86.5 89.5h1M75.5 102.5h1M80.5 91.5h1M73.5 108.5h1M88.5 97.5h1M56.5 115.5h1M71.5 113.5h1M80.5 77.5h1M84.5 102.5h1M109.5 84.5h1M88.5 102.5h1M71.5 97.5h1M80.5 86.5h1M91.5 102.5h1M81.5 86.5h1M79.5 80.5h1M66.5 94.5h1M79.5 89.5h1M76.5 114.5h1M78.5 105.5h1M79.5 96.5h1M92.5 83.5h1M68.5 104.5h1M70.5 120.5h1M86.5 93.5h1M78.5 88.5h1M101.5 105.5h1M85.5 114.5h1M87.5 130.5h1M88.5 87.5h1M78.5 103.5h1M94.5 86.5h1M86.5 94.5h1M97.5 86.5h1M89.5 87.5h1M88.5 88.5h1M87.5 98.5h1M79.5 105.5h1M83.5 89.5h1M95.5 165.5h1M83.5 113.5h1M106.5 135.5h1M115.5 90.5h1M92.5 108.5h1M89.5 118.5h1M97.5 122.5h1M83.5 117.5h1M93.5 139.5h1M99.5 87.5h1M83.5 133.5h1M95.5 112.5h1M98.5 89.5h1M109.5 143.5h1M118.5 135.5h1M106.5 134.5h1M89.5 137.5h1M107.5 136.5h1M103.5 132.5h1M94.5 116.5h1M99.5 138.5h1M101.5 135.5h1M95.5 121.5h1M107.5 133.5h1M108.5 125.5h1M103.5 112.5h1M79.5 106.5h1M107.5 124.5h1M129.5 143.5h1M44.5 122.5h1M38.5 140.5h1M99.5 168.5h1M63.5 146.5h1M70.5 136.5h1M69.5 88.5h1M69.5 160.5h1M77.5 139.5h1M149.5 143.5h1M85.5 145.5h1M54.5 133.5h1M112.5 144.5h1M84.5 154.5h1M53.5 120.5h1M84.5 99.5h1M117.5 136.5h1" stroke="#555" stroke-opacity="0.35"/><path d="M21.5 103.5h1M28.5 109.5h1M47.5 73.5h1M70.5 123.5h1M81.5 101.5h1M14.5 100.5h1M31.5 70.5h1M74.5 83.5h1M80.5 117.5h1M31.5 125.5h1M44.5 138.5h1M72.5 120.5h1M32.5 121.5h1M33.5 132.5h1M27.5 107.5h1M78.5 110.5h1M63.5 129.5h1M19.5 90.5h1M42.5 70.5h1M78.5 113.5h1M29.5 129.5h1M19.5 81.5h1M38.5 135.5h1M30.5 109.5h1M44.5 69.5h1M10.5 83.5h1M78.5 120.5h1M64.5 68.5h1M21.5 102.5h1M75.5 84.5h1M25.5 76.5h1M17.5 104.5h1M30.5 135.5h1M76.5 111.5h1M18.5 104.5h1M64.5 130.5h1M33.5 69.5h1M77.5 78.5h1M27.5 76.5h1M74.5 74.5h1M19.5 93.5h1M31.5 123.5h1M68.5 124.5h1M67.5 124.5h1M22.5 107.5h1M17.5 93.5h1M35.5 134.5h1M17.5 103.5h1M60.5 134.5h1M55.5 135.5h1M24.5 107.5h1M18.5 94.5h1M23.5 121.5h1M19.5 99.5h1M15.5 80.5h1M25.5 111.5h1M71.5 126.5h1M29.5 134.5h1M32.5 127.5h1M48.5 68.5h1M23.5 71.5h1M76.5 115.5h1M37.5 70.5h1M78.5 110.5h1M17.5 91.5h1M68.5 66.5h1M30.5 133.5h1M18.5 96.5h1M79.5 73.5h1M35.5 136.5h1M49.5 136.5h1M78.5 119.5h1M19.5 78.5h1M31.5 130.5h1M27.5 71.5h1M16.5 90.5h1M21.5 97.5h1M74.5 78.5h1M36.5 133.5h1M18.5 92.5h1M30.5 121.5h1M66.5 129.5h1M23.5 76.5h1M55.5 136.5h1M79.5 84.5h1M22.5 107.5h1M76.5 84.5h1M83.5 84.5h1M77.5 107.5h1M44.5 143.5h1M23.5 110.5h1M27.5 114.5h1M35.5 72.5h1M76.5 75.5h1M18.5 73.5h1M18.5 75.5h1M32.5 137.5h1M19.5 99.5h1M36.5 134.5h1M78.5 89.5h1M49.5 139.5h1M21.5 105.5h1M66.5 127.5h1M23.5 78.5h1M80.5 93.5h1M43.5 68.5h1M56.5 140.5h1M43.5 71.5h1M29.5 74.5h1M75.5 126.5h1M15.5 91.5h1M33.5 68.5h1M72.5 71.5h1M51.5 67.5h1M42.5 136.5h1M46.5 138.5h1" stroke="#333" stroke-opacity="0.5"/><path d="M27.5 113.5h1M21.5 72.5h1M35.5 68.5h1M80.5 103.5h1M71.5 124.5h1M46.5 139.5h1M81.5 116.5h1M30.5 124.5h1M37.5 71.5h1M76.5 124.5h1M36.5 135.5h1M60.5 70.5h1M45.5 67.5h1M77.5 110.5h1M16.5 97.5h1M23.5 70.5h1M79.5 96.5h1M72.5 76.5h1M23.5 72.5h1M19.5 93.5h1M19.5 75.5h1M25.5 76.5h1M82.5 84.5h1M16.5 86.5h1M39.5 71.5h1M75.5 118.5h1M51.5 65.5h1M17.5 94.5h1M20.5 102.5h1M64.5 130.5h1M67.5 134.5h1M21.5 97.5h1M42.5 139.5h1M20.5 100.5h1M76.5 114.5h1M86.5 97.5h1M32.5 129.5h1M38.5 137.5h1M18.5 94.5h1M77.5 81.5h1M17.5 93.5h1M80.5 74.5h1M25.5 106.5h1M39.5 137.5h1M52.5 69.5h1M84.5 103.5h1M18.5 95.5h1M54.5 71.5h1M41.5 139.5h1M71.5 72.5h1M37.5 139.5h1M80.5 82.5h1M27.5 112.5h1M53.5 134.5h1M24.5 71.5h1M16.5 83.5h1M73.5 68.5h1M19.5 73.5h1M22.5 107.5h1M21.5 77.5h1M36.5 135.5h1M41.5 68.5h1M27.5 75.5h1M57.5 132.5h1M30.5 115.5h1M59.5 68.5h1M31.5 125.5h1M52.5 133.5h1M79.5 98.5h1M24.5 108.5h1M21.5 81.5h1M31.5 132.5h1M11.5 80.5h1M32.5 125.5h1M36.5 139.5h1M30.5 75.5h1M31.5 126.5h1M51.5 137.5h1M37.5 136.5h1M56.5 67.5h1M48.5 138.5h1M63.5 133.5h1M76.5 121.5h1M79.5 83.5h1M57.5 70.5h1M26.5 116.5h1M81.5 90.5h1M49.5 143.5h1M25.5 73.5h1M16.5 86.5h1M52.5 136.5h1M18.5 78.5h1M80.5 87.5h1M76.5 119.5h1M12.5 92.5h1M15.5 96.5h1M64.5 132.5h1M78.5 119.5h1M73.5 74.5h1M62.5 131.5h1M26.5 115.5h1M45.5 137.5h1M45.5 69.5h1M31.5 115.5h1M46.5 137.5h1M73.5 127.5h1M59.5 133.5h1M72.5 75.5h1M80.5 99.5h1M81.5 86.5h1M18.5 91.5h1M22.5 76.5h1M55.5 133.5h1M57.5 131.5h1M23.5 77.5h1M38.5 140.5h1M71.5 72.5h1M66.5 73.5h1M71.5 120.5h1M85.5 91.5h1M70.5 121.5h1M36.5 137.5h1M69.5 72.5h1M58.5 137.5h1M79.5 99.5h1M35.5 68.5h1M70.5 127.5h1M62.5 69.5h1M17.5 75.5h1M51.5 137.5h1M31.5 72.5h1M82.5 122.5h1M71.5 121.5h1M32.5 123.5h1M73.5 72.5h1M19.5 85.5h1" stroke="#666" stroke-opacity="0.35"/><path d="M87.5 100.5h1M127.5 112.5h1M119.5 140.5h1M92.5 154.5h1M81.5 120.5h1M127.5 120.5h1M91.5 140.5h1M78.5 120.5h1M71.5 120.5h1M91.5 146.5h1M122.5 136.5h1M123.5 112.5h1M114.5 151.5h1M126.5 127.5h1M94.5 149.5h1M107.5 89.5h1M83.5 115.5h1M95.5 92.5h1M108.5 92.5h1M123.5 109.5h1M86.5 128.5h1M81.5 119.5h1M96.5 157.5h1M121.5 136.5h1M123.5 139.5h1M83.5 116.5h1M93.5 90.5h1M125.5 127.5h1M112.5 156.5h1M123.5 122.5h1M111.5 156.5h1M118.5 95.5h1M94.5 147.5h1M84.5 113.5h1M91.5 98.5h1M116.5 145.5h1M93.5 100.5h1M103.5 93.5h1M110.5 153.5h1M117.5 91.5h1M93.5 155.5h1M117.5 94.5h1M123.5 132.5h1M109.5 87.5h1M113.5 157.5h1M83.5 119.5h1M119.5 145.5h1M124.5 135.5h1M124.5 135.5h1M102.5 165.5h1M112.5 94.5h1M121.5 140.5h1M101.5 90.5h1M100.5 166.5h1M93.5 150.5h1M118.5 94.5h1M110.5 154.5h1M123.5 106.5h1M118.5 148.5h1M117.5 151.5h1M84.5 112.5h1M125.5 121.5h1M105.5 163.5h1M118.5 98.5h1M123.5 102.5h1M93.5 149.5h1M106.5 91.5h1M122.5 141.5h1M86.5 109.5h1M116.5 92.5h1M109.5 153.5h1M86.5 120.5h1M89.5 146.5h1M95.5 152.5h1M87.5 128.5h1M85.5 111.5h1M120.5 141.5h1M87.5 96.5h1M104.5 158.5h1M126.5 118.5h1M83.5 125.5h1M124.5 109.5h1M86.5 135.5h1M105.5 163.5h1M125.5 114.5h1M108.5 92.5h1M107.5 87.5h1M120.5 148.5h1M102.5 91.5h1M116.5 149.5h1M115.5 92.5h1M86.5 143.5h1" stroke="#333" stroke-opacity="0.5"/><path d="M113.5 91.5h1M118.5 148.5h1M119.5 144.5h1M124.5 138.5h1M85.5 105.5h1M91.5 101.5h1M86.5 102.5h1M81.5 119.5h1M89.5 100.5h1M83.5 110.5h1M94.5 88.5h1M115.5 95.5h1M126.5 113.5h1M125.5 114.5h1M108.5 156.5h1M83.5 133.5h1M98.5 157.5h1M83.5 135.5h1M121.5 100.5h1M97.5 155.5h1M88.5 140.5h1M84.5 109.5h1M124.5 125.5h1M83.5 105.5h1M118.5 98.5h1M103.5 158.5h1M82.5 111.5h1M105.5 90.5h1M83.5 105.5h1M84.5 100.5h1M119.5 134.5h1M122.5 111.5h1M124.5 116.5h1M123.5 108.5h1M89.5 137.5h1M115.5 93.5h1M84.5 94.5h1M125.5 113.5h1M100.5 155.5h1M101.5 163.5h1M111.5 90.5h1M107.5 89.5h1M124.5 127.5h1M83.5 120.5h1M118.5 148.5h1M85.5 135.5h1M107.5 88.5h1M93.5 94.5h1M124.5 132.5h1M80.5 117.5h1M98.5 159.5h1M107.5 155.5h1M102.5 96.5h1M115.5 158.5h1M108.5 91.5h1M96.5 93.5h1M116.5 148.5h1M95.5 148.5h1M116.5 95.5h1M117.5 95.5h1M120.5 142.5h1M97.5 89.5h1M109.5 154.5h1M81.5 114.5h1M122.5 129.5h1M111.5 96.5h1M120.5 137.5h1M88.5 108.5h1M89.5 141.5h1M83.5 136.5h1M82.5 112.5h1M81.5 108.5h1M110.5 94.5h1M84.5 132.5h1M78.5 114.5h1M111.5 154.5h1M79.5 117.5h1M89.5 105.5h1M82.5 118.5h1M130.5 122.5h1M93.5 95.5h1M102.5 156.5h1M105.5 91.5h1M84.5 130.5h1M107.5 93.5h1M80.5 129.5h1M93.5 95.5h1M112.5 91.5h1M123.5 111.5h1M115.5 150.5h1" stroke="#666" stroke-opacity="0.35"/><path d="M20.0,85.6C20.6,82.6 21.8,79.2 24.6,77.2C27.4,75.2 31.9,74.3 36.7,73.5C41.5,72.7 48.5,72.2 53.5,72.2C58.5,72.2 63.1,72.2 66.5,73.5C69.9,74.8 72.2,77.0 73.9,80.0C75.6,83.0 76.4,87.2 76.7,91.2C77.0,95.2 76.3,100.2 75.8,104.2C75.3,108.2 75.5,112.2 73.9,115.3C72.4,118.4 69.3,120.5 66.5,122.8C63.7,125.1 60.3,127.4 57.2,129.3C54.1,131.2 50.9,133.5 47.9,134.0C44.9,134.5 42.0,133.0 39.5,132.1C37.0,131.2 33.9,130.6 33.0,128.4C32.1,126.2 34.0,121.9 33.9,119.1C33.8,116.3 33.5,114.1 32.1,111.6C30.7,109.1 27.4,107.0 25.5,104.2C23.6,101.4 21.8,98.0 20.9,94.9C20.0,91.8 19.4,88.5 20.0,85.6Z" fill="#000" stroke="#000" stroke-width="4" stroke-linejoin="round"/><path d="M28.0,93.0C34.8,90.7 64.9,88.1 72.0,90.0C79.1,91.9 71.4,100.3 70.5,104.5C69.6,108.7 68.7,111.9 66.5,115.3C64.3,118.7 60.6,122.2 57.2,124.7C53.8,127.2 49.3,129.6 46.0,130.2C42.7,130.8 39.5,130.6 37.6,128.4C35.7,126.2 35.9,121.3 34.8,117.2C33.7,113.1 32.1,108.0 31.0,104.0C29.9,100.0 21.2,95.3 28.0,93.0Z" fill="url(#legG)"/><defs><path id="z17" d="M20.0,85.6C20.6,83.0 21.8,79.2 24.6,77.2C27.4,75.2 31.9,74.3 36.7,73.5C41.5,72.7 48.8,72.2 53.5,72.2C58.2,72.2 62.2,72.2 65.0,73.5C67.8,74.8 69.1,77.1 70.0,80.0C70.9,82.9 70.8,87.7 70.5,91.0C70.2,94.3 69.9,97.7 68.5,100.0C67.1,102.3 65.4,103.9 62.0,105.0C58.6,106.1 52.5,106.7 48.0,106.5C43.5,106.3 38.7,105.2 35.0,104.0C31.3,102.8 28.3,100.8 26.0,99.0C23.7,97.2 22.0,95.2 21.0,93.0C20.0,90.8 19.4,88.2 20.0,85.6Z" stroke-width="0.7" vector-effect="non-scaling-stroke"/></defs><use href="#z17" fill="url(#zl)" stroke="#cfcfcf" transform="translate(46.0,84.7) scale(0.96) translate(-46.0,-84.7)"/><use href="#z17" fill="url(#zl)" stroke="#cfcfcf" transform="translate(46.0,84.7) scale(0.6) translate(-46.0,-84.7)"/><use href="#z17" fill="url(#zl)" stroke="#cfcfcf" transform="translate(46.0,84.7) scale(0.42) translate(-46.0,-84.7)"/><use href="#z17" fill="url(#zl)" stroke="#cfcfcf" transform="translate(46.0,84.7) scale(0.26) translate(-46.0,-84.7)"/><use href="#z17" fill="url(#zl)" stroke="#cfcfcf" transform="translate(46.0,84.7) scale(0.13) translate(-46.0,-84.7)"/><path d="M106.5,94.0C109.3,94.2 112.5,95.2 114.8,97.7C117.1,100.2 119.3,104.6 120.4,108.8C121.5,113.0 121.7,118.0 121.4,122.8C121.1,127.6 120.3,133.0 118.6,137.7C116.9,142.3 113.6,147.9 111.1,150.7C108.6,153.5 106.2,154.2 103.7,154.4C101.2,154.6 98.2,153.8 96.2,151.6C94.2,149.4 93.4,146.2 91.6,141.4C89.8,136.6 86.6,127.2 85.5,122.8C84.4,118.4 84.2,118.4 85.1,115.3C86.0,112.2 88.5,107.3 90.7,104.2C92.9,101.1 95.5,98.4 98.1,96.7C100.7,95.0 103.7,93.8 106.5,94.0Z" fill="#888" stroke="#000" stroke-width="4" stroke-linejoin="round"/><defs><path id="z18" d="M106.5,94.0C109.3,94.2 112.5,95.2 114.8,97.7C117.1,100.2 119.3,104.6 120.4,108.8C121.5,113.0 121.7,118.0 121.4,122.8C121.1,127.6 120.3,133.0 118.6,137.7C116.9,142.3 113.6,147.9 111.1,150.7C108.6,153.5 106.2,154.2 103.7,154.4C101.2,154.6 98.2,153.8 96.2,151.6C94.2,149.4 93.4,146.2 91.6,141.4C89.8,136.6 86.6,127.2 85.5,122.8C84.4,118.4 84.2,118.4 85.1,115.3C86.0,112.2 88.5,107.3 90.7,104.2C92.9,101.1 95.5,98.4 98.1,96.7C100.7,95.0 103.7,93.8 106.5,94.0Z" stroke-width="0.7" vector-effect="non-scaling-stroke"/></defs><use href="#z18" fill="url(#zg)" stroke="#d0d0d0" transform="translate(104.6,122.8) scale(0.96) translate(-104.6,-122.8)"/><use href="#z18" fill="url(#zg2)" stroke="#8a8a8a" transform="translate(104.6,122.8) scale(0.62) translate(-104.6,-122.8)"/><use href="#z18" fill="url(#zg2)" stroke="#8a8a8a" transform="translate(104.6,122.8) scale(0.42) translate(-104.6,-122.8)"/><use href="#z18" fill="url(#zg2)" stroke="#8a8a8a" transform="translate(104.6,122.8) scale(0.24) translate(-104.6,-122.8)"/><path d="M75.7,0V174M0,105.7H175" stroke="#4646c4" stroke-width="1.5" fill="none" style="mix-blend-mode:multiply"/><path d="M0,0V174H175" stroke="#000" stroke-width="1.4" fill="none"/><path d="M-3.5,13.6H0M-3.5,48.9H0M-3.5,84.2H0M-3.5,119.5H0M-3.5,148.0H0M-1.6,38.3H0M-1.6,32.1H0M-1.6,27.6H0M-1.6,24.2H0M-1.6,21.4H0M-1.6,19.1H0M-1.6,17.0H0M-1.6,15.2H0M-1.6,73.6H0M-1.6,67.4H0M-1.6,62.9H0M-1.6,59.5H0M-1.6,56.7H0M-1.6,54.4H0M-1.6,52.3H0M-1.6,50.5H0M-1.6,108.9H0M-1.6,102.7H0M-1.6,98.2H0M-1.6,94.8H0M-1.6,92.0H0M-1.6,89.7H0M-1.6,87.6H0M-1.6,85.8H0M-1.6,124.0H0M-1.6,128.5H0M-1.6,132.5H0M-1.6,136.5H0M-1.6,140.5H0M-1.6,144.5H0M-1.6,151.5H0M-1.6,156.0H0M-1.6,160.5H0M-1.6,165.5H0M-3.5,174H0M51.6,174V177.5M87.5,174V177.5M123.0,174V177.5M158.5,174V177.5M28.4,174V177.5M8.3,174V177.5M62.3,174V175.8M68.6,174V175.8M73.0,174V175.8M76.5,174V175.8M79.3,174V175.8M81.7,174V175.8M83.8,174V175.8M85.6,174V175.8M98.2,174V175.8M104.5,174V175.8M108.9,174V175.8M112.4,174V175.8M115.2,174V175.8M117.6,174V175.8M119.7,174V175.8M121.5,174V175.8M133.7,174V175.8M140.0,174V175.8M144.4,174V175.8M147.9,174V175.8M150.7,174V175.8M153.1,174V175.8M155.2,174V175.8M157.0,174V175.8M12.5,174V175.8M16.5,174V175.8M20.5,174V175.8M24.5,174V175.8M32.5,174V175.8M36.5,174V175.8M40.5,174V175.8M44.5,174V175.8M48.0,174V175.8" stroke="#000" stroke-width="1" fill="none"/><text x="-9" y="19.2" font-size="16" text-anchor="end">10<tspan font-size="12" dy="-5.2">5</tspan></text><text x="-9" y="54.5" font-size="16" text-anchor="end">10<tspan font-size="12" dy="-5.2">4</tspan></text><text x="-9" y="89.8" font-size="16" text-anchor="end">10<tspan font-size="12" dy="-5.2">3</tspan></text><text x="-9" y="125.1" font-size="16" text-anchor="end">10<tspan font-size="12" dy="-5.2">2</tspan></text><text x="-9.5" y="153.6" font-size="16" text-anchor="end">0</text><text x="51.6" y="196.3" font-size="16" text-anchor="middle">10<tspan font-size="12" dy="-5.2">2</tspan></text><text x="87.5" y="196.3" font-size="16" text-anchor="middle">10<tspan font-size="12" dy="-5.2">3</tspan></text><text x="123.0" y="196.3" font-size="16" text-anchor="middle">10<tspan font-size="12" dy="-5.2">4</tspan></text><text x="158.5" y="196.3" font-size="16" text-anchor="middle">10<tspan font-size="12" dy="-5.2">5</tspan></text><text x="29.4" y="196.3" font-size="16" text-anchor="middle">0</text><path d="M96,27.9H161M128,10.2V46.5" stroke="#000" stroke-width="2" fill="none"/><text x="122.1" y="23.6" font-size="16" text-anchor="end">35.2</text><text x="130.6" y="23.6" font-size="16">1.10</text><text x="122.1" y="43.8" font-size="16" text-anchor="end">4.54</text><text x="131.7" y="43.8" font-size="16">59.9</text></g>
<path d="M83.8,544.5V494.5M81.8,544.5H136" stroke="#000" stroke-width="4" fill="none"/><path d="M77.3,495.5L83.8,482.5L90.3,495.5Z" fill="#000"/><path d="M134.8,538.0L147,544.5L134.8,551.0Z" fill="#000"/><text transform="translate(71.2,538.0) rotate(-90)" font-size="18.3">CD8</text><text x="93.1" y="570.0" font-size="18.6">CD4</text>
<text x="0.3" y="619" font-size="27.5" font-weight="bold">c</text>
<text x="117.5" y="618.7" font-size="18.6">Gated on viable<tspan font-size="13" y="612.4000000000001">+</tspan><tspan y="618.7">TCRβ</tspan><tspan font-size="13" y="612.4000000000001">+</tspan><tspan y="618.7">CD4</tspan><tspan font-size="13" y="612.4000000000001">−</tspan><tspan y="618.7">CD8</tspan><tspan font-size="13" y="612.4000000000001">−</tspan></text>
<text x="1.2" y="723.4" font-size="18.5">Thymus</text>
<g transform="translate(115.7,631)"><path d="M0,0.6H174.6V174" stroke="#a8a8a8" stroke-width="1.2" fill="none"/><path d="M6.2,118.9C6.6,117.8 7.6,117.5 8.0,116.6C8.5,115.7 8.2,114.4 8.7,113.5C9.2,112.7 10.3,112.2 11.1,111.4C12.0,110.7 12.9,109.7 13.8,109.1C14.8,108.4 15.8,107.8 16.8,107.4C17.9,107.0 19.5,107.5 20.2,106.9C21.0,106.2 20.7,104.5 21.1,103.5C21.6,102.4 22.4,101.6 23.1,100.6C23.8,99.6 25.5,98.6 25.4,97.6C25.3,96.6 23.1,95.8 22.7,94.7C22.3,93.5 23.2,92.0 22.9,90.7C22.7,89.4 21.0,87.7 21.1,87.0C21.3,86.3 23.2,87.0 24.0,86.7C24.8,86.4 25.4,85.8 26.1,85.2C26.7,84.6 27.0,83.0 27.9,82.9C28.8,82.8 30.3,84.2 31.6,84.5C32.8,84.7 34.1,84.5 35.3,84.4C36.5,84.3 37.7,83.9 38.9,83.6C40.0,83.3 41.0,82.7 42.1,82.4C43.2,82.0 44.5,81.9 45.5,81.6C46.6,81.2 47.2,80.6 48.4,80.1C49.6,79.7 51.3,78.8 52.7,78.6C54.1,78.3 55.6,78.5 57.0,78.6C58.5,78.8 60.0,79.1 61.3,79.5C62.7,79.8 63.9,80.9 65.3,80.9C66.6,80.9 68.2,79.3 69.6,79.3C71.1,79.2 73.2,79.9 74.0,80.7C74.7,81.5 73.7,83.0 74.1,84.0C74.5,84.9 75.9,85.4 76.4,86.3C76.9,87.2 77.4,88.5 77.3,89.3C77.3,90.1 76.2,90.5 76.0,91.1C75.8,91.7 76.0,92.3 76.1,93.0C76.2,93.7 76.3,94.9 76.6,95.1C77.0,95.4 77.8,95.0 78.2,94.7C78.6,94.4 78.6,93.9 78.9,93.4C79.2,93.0 79.8,92.8 79.9,92.0C80.0,91.2 79.8,89.7 79.7,88.6C79.7,87.5 79.7,86.3 79.5,85.3C79.3,84.2 78.8,83.3 78.7,82.3C78.5,81.3 78.7,80.1 78.3,79.3C78.0,78.6 77.5,78.0 76.8,77.5C76.1,77.0 75.2,76.9 74.3,76.5C73.5,76.1 72.7,75.2 71.7,75.1C70.7,74.9 69.4,75.9 68.4,75.6C67.5,75.4 66.4,74.0 66.0,73.5C65.6,73.0 66.2,72.8 66.0,72.5C65.8,72.2 65.0,72.1 64.9,71.8C64.7,71.5 64.6,70.5 65.1,70.6C65.6,70.7 66.8,72.4 67.9,72.6C69.0,72.9 70.5,71.8 71.6,72.0C72.7,72.2 73.6,73.9 74.4,73.9C75.2,73.9 75.7,72.4 76.5,72.0C77.3,71.7 78.4,71.9 79.3,71.8C80.2,71.7 80.9,71.7 81.9,71.6C82.9,71.5 84.2,71.6 85.3,71.3C86.4,70.9 87.6,69.7 88.7,69.6C89.7,69.5 91.0,70.1 91.6,70.8C92.3,71.5 92.2,72.9 92.5,73.9C92.8,74.9 93.3,75.9 93.6,76.9C94.0,77.9 94.5,79.0 94.8,80.0C95.0,81.0 95.1,82.0 95.3,83.1C95.5,84.1 95.9,85.1 95.9,86.1C95.8,87.2 94.9,88.6 95.2,89.4C95.4,90.2 97.2,90.0 97.4,90.8C97.7,91.6 96.3,93.3 96.5,94.0C96.7,94.7 97.8,94.7 98.6,95.0C99.3,95.3 100.3,95.6 101.1,95.7C101.9,95.7 102.7,95.5 103.5,95.4C104.4,95.2 105.2,94.9 106.0,94.8C106.9,94.7 107.7,94.6 108.6,94.7C109.4,94.8 110.2,95.2 111.0,95.4C111.9,95.5 113.3,95.2 113.7,95.7C114.1,96.2 113.3,97.6 113.5,98.3C113.8,99.0 114.8,99.2 115.4,99.7C115.9,100.2 116.7,100.4 116.8,101.4C116.9,102.4 116.1,104.5 116.0,106.0C115.9,107.5 116.1,109.1 116.1,110.7C116.1,112.2 116.1,113.8 116.2,115.3C116.2,116.9 116.9,118.4 116.5,119.8C116.1,121.2 114.0,122.5 113.6,123.9C113.2,125.3 113.9,127.0 114.0,128.2C114.1,129.4 114.5,130.5 114.1,131.3C113.7,132.2 112.3,132.5 111.7,133.2C111.0,133.9 110.8,134.7 110.3,135.7C109.9,136.8 109.0,138.1 109.1,139.4C109.1,140.6 110.5,142.2 110.5,143.5C110.6,144.7 109.5,145.9 109.3,146.9C109.1,147.9 109.4,148.6 109.4,149.4C109.4,150.3 109.1,151.1 109.2,152.0C109.3,152.9 110.5,154.1 110.2,154.8C109.9,155.4 108.3,155.4 107.6,155.9C106.8,156.4 106.2,157.0 105.6,157.7C105.0,158.4 105.2,159.9 104.2,160.1C103.1,160.3 100.9,158.9 99.3,158.8C97.6,158.7 95.9,159.7 94.2,159.7C92.6,159.7 90.9,159.3 89.6,158.8C88.3,158.3 87.5,157.6 86.6,156.8C85.7,156.1 85.0,155.1 84.2,154.3C83.4,153.4 82.4,152.6 81.8,151.7C81.2,150.7 80.9,149.6 80.5,148.5C80.0,147.5 79.6,146.3 79.0,145.5C78.4,144.7 77.4,143.6 76.8,143.6C76.2,143.5 75.7,144.5 75.2,145.0C74.6,145.5 74.0,146.0 73.7,146.6C73.4,147.2 73.9,147.8 73.4,148.6C72.9,149.4 71.7,150.6 70.8,151.3C69.8,152.0 68.6,152.4 67.5,152.8C66.3,153.3 64.5,153.4 63.8,154.1C63.1,154.7 63.8,156.2 63.2,156.7C62.6,157.3 60.8,156.8 60.2,157.4C59.5,157.9 60.3,159.7 59.5,160.1C58.7,160.6 56.6,160.1 55.2,159.9C53.7,159.8 52.3,159.5 50.8,159.5C49.4,159.4 47.8,159.6 46.5,159.8C45.1,159.9 44.0,160.3 42.7,160.4C41.5,160.5 40.1,160.1 38.9,160.3C37.6,160.5 36.4,161.8 35.4,161.7C34.3,161.7 33.5,160.3 32.5,159.9C31.5,159.6 30.3,159.8 29.2,159.7C28.1,159.5 27.1,159.0 26.0,159.0C24.9,159.0 23.7,160.0 22.7,159.6C21.7,159.2 21.1,157.2 20.0,156.8C19.0,156.4 17.4,157.6 16.4,157.4C15.5,157.2 15.0,156.1 14.3,155.5C13.6,154.9 12.6,154.4 12.1,153.6C11.6,152.8 11.6,151.7 11.4,150.7C11.1,149.7 10.6,148.7 10.5,147.6C10.5,146.6 10.9,145.5 10.9,144.5C10.9,143.4 10.7,142.4 10.6,141.3C10.5,140.2 10.6,139.0 10.4,138.0C10.1,136.9 9.5,136.0 9.1,135.0C8.7,134.0 8.2,133.3 7.8,132.1C7.5,130.9 7.2,129.2 6.8,127.8C6.4,126.4 5.7,125.0 5.6,123.5C5.6,122.0 5.8,120.1 6.2,118.9Z" fill="url(#zcb)" stroke="#000" stroke-width="2.4" stroke-linejoin="round"/><path d="M9.0,118.7C9.3,117.6 10.3,117.3 10.7,116.4C11.1,115.6 10.8,114.3 11.3,113.5C11.8,112.7 12.8,112.2 13.6,111.5C14.4,110.8 15.3,109.9 16.2,109.3C17.1,108.6 18.0,108.0 19.1,107.7C20.1,107.3 21.6,107.8 22.3,107.2C23.0,106.5 22.7,104.9 23.2,103.9C23.6,102.9 24.4,102.1 25.1,101.2C25.7,100.2 27.3,99.2 27.2,98.3C27.2,97.4 25.1,96.6 24.7,95.5C24.3,94.4 25.1,93.0 24.9,91.7C24.6,90.5 23.0,88.8 23.2,88.2C23.3,87.5 25.1,88.2 25.9,87.9C26.7,87.6 27.2,87.1 27.9,86.5C28.5,85.9 28.8,84.4 29.7,84.3C30.5,84.2 32.0,85.5 33.1,85.8C34.3,86.0 35.6,85.8 36.7,85.7C37.9,85.6 39.0,85.3 40.1,84.9C41.2,84.6 42.1,84.1 43.2,83.8C44.2,83.5 45.5,83.4 46.5,83.0C47.5,82.6 48.1,82.1 49.2,81.6C50.4,81.2 51.9,80.4 53.3,80.1C54.7,79.9 56.1,80.0 57.5,80.2C58.8,80.3 60.3,80.6 61.6,81.0C62.9,81.3 64.0,82.4 65.3,82.3C66.6,82.3 68.1,80.8 69.5,80.8C70.9,80.8 72.9,81.4 73.6,82.2C74.4,82.9 73.4,84.4 73.8,85.3C74.2,86.2 75.4,86.7 76.0,87.5C76.5,88.4 76.9,89.6 76.9,90.4C76.8,91.2 75.8,91.5 75.6,92.1C75.4,92.7 75.6,93.3 75.7,93.9C75.8,94.6 75.9,95.7 76.2,96.0C76.5,96.2 77.3,95.8 77.6,95.5C78.0,95.2 78.1,94.8 78.4,94.3C78.6,93.9 79.2,93.7 79.3,92.9C79.4,92.2 79.2,90.8 79.1,89.7C79.1,88.7 79.1,87.5 78.9,86.5C78.7,85.5 78.3,84.6 78.1,83.7C77.9,82.7 78.1,81.6 77.8,80.9C77.5,80.1 77.0,79.5 76.3,79.1C75.7,78.6 74.8,78.5 74.0,78.1C73.2,77.8 72.4,76.9 71.5,76.8C70.5,76.6 69.2,77.6 68.3,77.3C67.4,77.1 66.4,75.8 66.0,75.3C65.6,74.8 66.2,74.6 66.0,74.3C65.8,74.0 65.1,74.0 65.0,73.7C64.8,73.4 64.7,72.4 65.2,72.5C65.7,72.6 66.8,74.2 67.8,74.5C68.9,74.7 70.3,73.7 71.4,73.9C72.4,74.1 73.2,75.7 74.0,75.7C74.8,75.7 75.3,74.2 76.1,73.9C76.8,73.5 77.8,73.7 78.7,73.7C79.6,73.6 80.3,73.6 81.2,73.5C82.2,73.4 83.4,73.5 84.5,73.2C85.5,72.8 86.6,71.6 87.6,71.6C88.7,71.5 89.9,72.0 90.5,72.7C91.1,73.4 91.0,74.7 91.3,75.7C91.6,76.6 92.1,77.6 92.4,78.6C92.8,79.5 93.2,80.5 93.5,81.5C93.8,82.5 93.8,83.4 94.0,84.4C94.2,85.4 94.5,86.3 94.5,87.4C94.5,88.4 93.6,89.7 93.9,90.5C94.1,91.2 95.8,91.1 96.0,91.8C96.2,92.6 94.9,94.2 95.1,94.8C95.3,95.5 96.4,95.5 97.1,95.8C97.8,96.1 98.7,96.4 99.5,96.4C100.3,96.5 101.1,96.3 101.9,96.2C102.7,96.0 103.4,95.8 104.2,95.7C105.0,95.5 105.9,95.4 106.7,95.5C107.5,95.6 108.2,96.0 109.0,96.2C109.8,96.3 111.2,96.0 111.6,96.5C112.0,96.9 111.2,98.3 111.4,99.0C111.7,99.6 112.7,99.8 113.2,100.3C113.7,100.8 114.4,100.9 114.5,101.9C114.6,102.9 113.9,104.9 113.8,106.3C113.7,107.8 113.8,109.3 113.8,110.8C113.9,112.3 113.8,113.8 113.9,115.3C114.0,116.7 114.6,118.1 114.2,119.5C113.8,120.9 111.9,122.1 111.5,123.4C111.1,124.8 111.8,126.3 111.9,127.5C111.9,128.7 112.3,129.7 112.0,130.5C111.6,131.3 110.2,131.6 109.6,132.3C109.0,133.0 108.8,133.7 108.4,134.7C107.9,135.7 107.1,137.0 107.1,138.2C107.2,139.4 108.5,140.9 108.6,142.1C108.6,143.3 107.5,144.5 107.3,145.4C107.2,146.4 107.5,147.0 107.5,147.8C107.5,148.6 107.2,149.4 107.3,150.2C107.4,151.1 108.5,152.3 108.2,152.9C108.0,153.5 106.4,153.5 105.7,154.0C105.0,154.4 104.4,155.0 103.8,155.7C103.3,156.3 103.5,157.8 102.5,158.0C101.5,158.1 99.4,156.8 97.8,156.7C96.2,156.7 94.5,157.6 93.0,157.6C91.5,157.6 89.8,157.2 88.6,156.7C87.3,156.3 86.6,155.6 85.7,154.9C84.8,154.1 84.2,153.3 83.4,152.4C82.6,151.6 81.7,150.9 81.1,150.0C80.5,149.0 80.3,147.9 79.9,146.9C79.4,146.0 79.0,144.9 78.4,144.1C77.8,143.3 76.9,142.3 76.3,142.2C75.7,142.1 75.3,143.1 74.8,143.6C74.3,144.1 73.6,144.5 73.3,145.1C73.0,145.6 73.5,146.3 73.1,147.0C72.6,147.7 71.5,148.9 70.6,149.6C69.6,150.2 68.5,150.6 67.4,151.1C66.3,151.5 64.6,151.6 63.9,152.2C63.2,152.9 63.9,154.3 63.3,154.8C62.8,155.3 61.0,154.9 60.4,155.4C59.9,155.9 60.6,157.6 59.8,158.0C59.0,158.4 57.1,158.0 55.7,157.8C54.3,157.7 52.9,157.4 51.5,157.4C50.1,157.4 48.6,157.5 47.4,157.7C46.1,157.8 45.0,158.2 43.8,158.3C42.6,158.4 41.3,158.0 40.1,158.2C38.9,158.4 37.8,159.6 36.7,159.5C35.7,159.5 35.0,158.2 34.0,157.8C33.1,157.5 31.9,157.7 30.9,157.6C29.9,157.4 28.9,156.9 27.8,156.9C26.8,156.9 25.6,157.9 24.6,157.5C23.7,157.2 23.1,155.2 22.1,154.8C21.1,154.5 19.6,155.6 18.7,155.4C17.8,155.2 17.3,154.2 16.7,153.6C16.0,153.0 15.1,152.6 14.6,151.8C14.1,151.0 14.1,150.0 13.8,149.0C13.6,148.0 13.1,147.1 13.0,146.1C13.0,145.1 13.4,144.1 13.4,143.1C13.4,142.0 13.2,141.1 13.1,140.0C13.0,139.0 13.1,137.9 12.9,136.9C12.6,135.9 12.1,134.9 11.7,134.0C11.3,133.1 10.8,132.4 10.5,131.2C10.1,130.1 9.8,128.5 9.5,127.1C9.1,125.8 8.5,124.5 8.4,123.1C8.3,121.6 8.6,119.8 9.0,118.7Z" fill="none" stroke="#c8c8c8" stroke-width="0.8"/><defs><path id="z19" d="M7.6,121.1C8.1,119.7 10.5,119.1 11.9,118.0C13.2,116.8 14.6,115.6 15.8,114.4C16.9,113.2 17.6,111.5 18.9,110.7C20.1,109.9 21.7,109.8 23.2,109.5C24.7,109.3 26.4,109.8 27.8,109.1C29.2,108.3 30.1,105.4 31.7,105.0C33.2,104.5 35.4,105.6 37.2,106.2C39.0,106.8 40.8,108.4 42.7,108.6C44.5,108.8 46.7,107.0 48.3,107.3C49.9,107.6 50.6,110.0 52.1,110.2C53.7,110.4 56.1,108.2 57.6,108.5C59.2,108.7 60.5,110.5 61.5,111.6C62.4,112.7 63.1,113.8 63.4,115.1C63.7,116.3 63.0,117.8 63.1,119.1C63.2,120.4 63.7,121.3 64.0,122.8C64.4,124.3 65.5,126.5 65.4,128.2C65.3,129.9 64.1,131.3 63.6,133.0C63.0,134.6 62.8,136.6 61.8,137.9C60.9,139.2 58.8,139.5 57.9,140.6C57.0,141.7 56.9,143.1 56.6,144.6C56.3,146.0 57.2,148.4 56.2,149.4C55.2,150.4 52.1,149.5 50.8,150.5C49.4,151.6 49.3,154.7 48.0,155.7C46.7,156.8 44.6,156.4 42.8,156.9C41.0,157.5 39.1,158.6 37.3,159.1C35.4,159.6 33.5,160.3 31.7,160.0C29.9,159.7 28.2,157.9 26.4,157.4C24.7,156.9 22.8,157.3 21.3,156.7C19.8,156.2 18.4,155.3 17.3,154.2C16.3,153.2 15.6,151.7 15.0,150.3C14.4,148.9 14.8,147.1 14.0,145.8C13.1,144.5 10.6,143.7 10.0,142.3C9.4,141.0 10.5,139.3 10.3,137.6C10.1,135.9 9.1,133.9 8.8,132.1C8.6,130.2 9.0,128.2 8.8,126.4C8.6,124.6 7.1,122.5 7.6,121.1Z" stroke-width="0.7" vector-effect="non-scaling-stroke"/></defs><use href="#z19" fill="url(#zc)" stroke="#c4c4c4" transform="translate(40.0,128.0) scale(0.95) translate(-40.0,-128.0)"/><use href="#z19" fill="url(#zc)" stroke="#c4c4c4" transform="translate(40.0,128.0) scale(0.72) translate(-40.0,-128.0)"/><use href="#z19" fill="url(#zc)" stroke="#c4c4c4" transform="translate(40.0,128.0) scale(0.5) translate(-40.0,-128.0)"/><use href="#z19" fill="url(#zc)" stroke="#c4c4c4" transform="translate(40.0,128.0) scale(0.3) translate(-40.0,-128.0)"/><defs><path id="z20" d="M71.0,110.4C72.3,109.7 74.4,109.5 75.7,108.5C77.1,107.6 78.0,105.9 79.3,104.7C80.6,103.6 82.0,102.8 83.6,101.8C85.2,100.8 86.9,99.1 88.8,98.9C90.7,98.7 93.1,100.6 95.1,100.5C97.0,100.5 98.9,98.5 100.5,98.5C102.1,98.6 103.1,100.4 104.6,100.7C106.1,100.9 107.9,99.8 109.3,99.9C110.7,100.1 112.0,100.4 112.9,101.4C113.8,102.4 114.8,104.4 114.8,106.0C114.8,107.5 112.9,109.2 112.8,110.8C112.6,112.3 113.7,113.7 113.9,115.2C114.1,116.7 114.1,118.3 113.8,119.7C113.6,121.2 112.8,122.6 112.4,124.0C112.0,125.4 111.8,126.9 111.4,128.1C111.0,129.3 110.8,130.7 109.9,131.3C109.1,132.0 107.5,131.6 106.5,131.9C105.6,132.3 105.4,132.8 104.2,133.3C103.0,133.8 100.9,135.1 99.2,135.0C97.6,134.9 95.9,132.9 94.3,132.7C92.6,132.4 91.0,133.9 89.4,133.6C87.9,133.3 86.6,131.2 84.9,130.7C83.1,130.3 81.0,131.2 79.1,130.9C77.3,130.7 74.7,130.0 73.7,129.0C72.7,127.9 73.5,125.7 73.0,124.5C72.4,123.2 71.5,122.3 70.5,121.4C69.5,120.5 67.5,120.1 66.9,119.1C66.2,118.1 66.3,116.4 66.6,115.3C66.8,114.2 67.5,113.2 68.2,112.4C69.0,111.6 69.8,111.0 71.0,110.4Z" stroke-width="0.7" vector-effect="non-scaling-stroke"/></defs><use href="#z20" fill="url(#zc)" stroke="#c4c4c4" transform="translate(100.0,115.0) scale(0.95) translate(-100.0,-115.0)"/><use href="#z20" fill="url(#zc)" stroke="#c4c4c4" transform="translate(100.0,115.0) scale(0.7) translate(-100.0,-115.0)"/><use href="#z20" fill="url(#zc)" stroke="#c4c4c4" transform="translate(100.0,115.0) scale(0.45) translate(-100.0,-115.0)"/><use href="#z20" fill="url(#zc)" stroke="#c4c4c4" transform="translate(100.0,115.0) scale(0.25) translate(-100.0,-115.0)"/><defs><path id="z21" d="M23.8,87.7C24.0,86.9 24.5,85.7 25.2,85.5C26.0,85.3 27.5,86.6 28.3,86.2C29.1,85.9 29.3,83.8 30.1,83.6C30.9,83.4 32.2,84.8 33.3,85.0C34.4,85.2 35.7,84.6 36.7,84.6C37.8,84.5 38.5,84.7 39.6,84.6C40.6,84.5 42.1,84.7 43.0,84.0C43.9,83.4 44.1,81.2 45.1,80.7C46.1,80.2 47.7,81.1 49.0,80.9C50.3,80.6 51.6,79.3 52.9,78.9C54.2,78.6 55.6,78.6 56.9,78.9C58.3,79.1 59.8,79.7 61.0,80.3C62.3,81.0 63.1,82.6 64.4,82.6C65.7,82.6 67.3,80.3 68.6,80.2C70.0,80.1 71.9,81.5 72.6,82.2C73.2,83.0 72.5,84.0 72.5,84.9C72.4,85.8 71.8,87.0 72.2,87.7C72.6,88.3 74.3,88.4 74.8,89.0C75.3,89.6 75.5,90.7 75.1,91.4C74.7,92.1 72.4,92.4 72.3,93.4C72.1,94.3 75.0,96.6 74.2,97.0C73.3,97.3 69.5,95.1 67.4,95.4C65.3,95.8 63.5,98.2 61.5,98.9C59.4,99.6 57.5,99.5 55.0,99.8C52.5,100.1 49.4,100.7 46.7,100.7C43.9,100.7 41.0,100.2 38.3,99.8C35.6,99.5 32.2,98.6 30.4,98.4C28.5,98.3 27.9,99.2 27.2,98.8C26.5,98.4 26.7,96.7 26.2,96.0C25.7,95.4 24.8,95.6 24.3,95.0C23.8,94.4 23.5,93.4 23.4,92.7C23.4,91.9 24.1,91.2 24.2,90.3C24.3,89.5 23.6,88.5 23.8,87.7Z" stroke-width="0.7" vector-effect="non-scaling-stroke"/></defs><use href="#z21" fill="url(#zc)" stroke="#c4c4c4" transform="translate(52.0,90.0) scale(0.9) translate(-52.0,-90.0)"/><use href="#z21" fill="url(#zc)" stroke="#c4c4c4" transform="translate(52.0,90.0) scale(0.55) translate(-52.0,-90.0)"/><defs><path id="z22" d="M74.7,75.5C75.1,75.2 77.5,77.2 78.2,76.7C78.9,76.1 78.3,72.8 78.9,72.2C79.6,71.6 81.0,73.2 82.0,72.9C83.0,72.7 83.9,70.8 84.9,70.5C85.9,70.2 87.1,70.8 87.9,71.1C88.8,71.3 89.1,71.7 89.9,72.3C90.8,72.8 92.6,73.5 92.9,74.4C93.2,75.2 91.7,76.5 91.7,77.5C91.8,78.4 92.8,79.1 93.1,80.0C93.4,80.9 93.4,82.0 93.5,83.0C93.6,84.0 93.5,85.0 93.7,86.0C93.9,87.0 94.7,87.9 94.6,88.8C94.6,89.7 92.9,90.9 93.3,91.5C93.7,92.1 96.6,91.7 97.0,92.4C97.5,93.1 96.6,94.7 96.1,95.6C95.5,96.4 94.5,97.2 93.6,97.4C92.7,97.6 91.8,96.9 90.8,96.7C89.8,96.5 88.4,96.7 87.9,96.1C87.3,95.5 88.2,93.6 87.6,93.1C87.0,92.6 85.2,93.3 84.3,93.0C83.4,92.7 82.7,92.1 82.2,91.3C81.6,90.5 80.8,89.5 81.0,88.3C81.1,87.2 83.3,85.3 83.1,84.3C82.8,83.4 80.0,83.4 79.3,82.6C78.5,81.8 79.2,80.4 78.7,79.7C78.2,78.9 76.9,79.0 76.3,78.3C75.6,77.6 74.4,75.7 74.7,75.5Z" stroke-width="0.7" vector-effect="non-scaling-stroke"/></defs><use href="#z22" fill="url(#zc)" stroke="#c4c4c4" transform="translate(86.0,82.0) scale(0.85) translate(-86.0,-82.0)"/><use href="#z22" fill="url(#zc)" stroke="#c4c4c4" transform="translate(86.0,82.0) scale(0.5) translate(-86.0,-82.0)"/><defs><path id="z23" d="M80.0,139.9C80.2,139.1 82.1,138.8 83.1,138.1C84.1,137.5 84.9,136.1 86.1,135.9C87.2,135.6 88.5,137.1 89.9,136.8C91.4,136.5 93.3,134.2 94.8,134.2C96.4,134.1 97.9,136.1 99.3,136.7C100.7,137.2 101.9,137.0 103.2,137.4C104.6,137.8 106.6,138.2 107.3,139.1C107.9,140.1 106.9,142.0 107.1,143.1C107.4,144.3 108.2,144.9 108.7,146.0C109.3,147.0 110.7,148.4 110.7,149.5C110.7,150.7 109.3,151.7 108.9,152.7C108.4,153.7 108.6,154.9 107.9,155.6C107.2,156.3 105.8,156.7 104.7,156.9C103.6,157.0 102.3,156.0 101.1,156.4C100.0,156.7 99.0,158.3 97.9,158.8C96.8,159.2 95.7,158.8 94.6,158.8C93.4,158.9 92.3,159.3 91.2,159.0C90.1,158.7 88.6,157.9 88.0,157.0C87.4,156.1 88.0,154.3 87.4,153.5C86.8,152.6 85.1,152.7 84.3,152.1C83.5,151.5 83.2,150.8 82.6,149.9C82.0,149.0 81.0,147.9 80.8,146.8C80.7,145.6 81.9,144.3 81.7,143.1C81.6,142.0 79.7,140.8 80.0,139.9Z" stroke-width="0.7" vector-effect="non-scaling-stroke"/></defs><use href="#z23" fill="url(#zc)" stroke="#c4c4c4" transform="translate(96.0,148.0) scale(0.9) translate(-96.0,-148.0)"/><use href="#z23" fill="url(#zc)" stroke="#c4c4c4" transform="translate(96.0,148.0) scale(0.55) translate(-96.0,-148.0)"/><ellipse cx="67" cy="104" rx="3.6" ry="4.6" fill="#fff"/><rect x="0.6" y="39" width="129.6" height="58.099999999999994" fill="none" stroke="#5a5ad0" stroke-width="1.1"/><path d="M0,0V174H175" stroke="#000" stroke-width="1.4" fill="none"/><path d="M-3.5,14.5H0M-3.5,50.6H0M-3.5,89.0H0M-3.5,128.5H0M-3.5,145.5H0M-1.6,39.0H0M-1.6,32.3H0M-1.6,27.5H0M-1.6,23.8H0M-1.6,20.7H0M-1.6,18.1H0M-1.6,15.9H0M-1.6,14.0H0M-1.6,77.1H0M-1.6,70.2H0M-1.6,65.2H0M-1.6,61.4H0M-1.6,58.3H0M-1.6,55.6H0M-1.6,53.3H0M-1.6,51.3H0M-1.6,116.6H0M-1.6,109.7H0M-1.6,104.7H0M-1.6,100.9H0M-1.6,97.8H0M-1.6,95.1H0M-1.6,92.8H0M-1.6,90.8H0M-1.6,133.0H0M-1.6,137.5H0M-1.6,141.5H0M-1.6,150.0H0M-1.6,155.0H0M-1.6,160.0H0M-1.6,166.0H0M-3.5,174H0M49.3,174V177.5M86.3,174V177.5M122.3,174V177.5M159.3,174V177.5M17.8,174V177.5M60.1,174V175.8M66.5,174V175.8M71.0,174V175.8M74.5,174V175.8M77.3,174V175.8M79.7,174V175.8M81.8,174V175.8M83.7,174V175.8M97.1,174V175.8M103.5,174V175.8M108.0,174V175.8M111.5,174V175.8M114.3,174V175.8M116.7,174V175.8M118.8,174V175.8M120.7,174V175.8M133.1,174V175.8M139.5,174V175.8M144.0,174V175.8M147.5,174V175.8M150.3,174V175.8M152.7,174V175.8M154.8,174V175.8M156.7,174V175.8M4.0,174V175.8M8.0,174V175.8M12.0,174V175.8M22.0,174V175.8M27.0,174V175.8M32.0,174V175.8M37.0,174V175.8M42.0,174V175.8M46.0,174V175.8" stroke="#000" stroke-width="1" fill="none"/><text x="-9" y="20.1" font-size="16" text-anchor="end">10<tspan font-size="12" dy="-5.2">5</tspan></text><text x="-9" y="56.2" font-size="16" text-anchor="end">10<tspan font-size="12" dy="-5.2">4</tspan></text><text x="-9" y="94.6" font-size="16" text-anchor="end">10<tspan font-size="12" dy="-5.2">3</tspan></text><text x="-9" y="134.1" font-size="16" text-anchor="end">10<tspan font-size="12" dy="-5.2">2</tspan></text><text x="-9.5" y="154.1" font-size="16" text-anchor="end">0</text><text x="49.3" y="196.3" font-size="16" text-anchor="middle">10<tspan font-size="12" dy="-5.2">2</tspan></text><text x="86.3" y="196.3" font-size="16" text-anchor="middle">10<tspan font-size="12" dy="-5.2">3</tspan></text><text x="122.3" y="196.3" font-size="16" text-anchor="middle">10<tspan font-size="12" dy="-5.2">4</tspan></text><text x="159.3" y="196.3" font-size="16" text-anchor="middle">10<tspan font-size="12" dy="-5.2">5</tspan></text><text x="18.8" y="196.3" font-size="16" text-anchor="middle">0</text><text x="18.1" y="60.8" font-size="18.8">9.5</text></g>
<g transform="translate(330.7,631)"><path d="M0,0.6H174.6V174" stroke="#a8a8a8" stroke-width="1.2" fill="none"/><path d="M31.6,91.2C32.1,90.5 33.8,90.2 34.3,89.3C34.7,88.3 33.9,86.4 34.4,85.5C34.8,84.5 35.9,83.9 37.1,83.4C38.3,83.0 40.2,83.4 41.5,82.9C42.8,82.4 43.7,81.2 44.9,80.3C46.0,79.5 47.0,78.5 48.2,77.7C49.3,76.9 50.5,76.1 51.9,75.6C53.3,75.1 55.0,75.3 56.3,74.6C57.6,73.9 58.4,72.3 59.5,71.5C60.6,70.7 61.8,69.8 63.0,69.8C64.3,69.8 65.9,71.5 67.1,71.4C68.4,71.3 69.5,69.6 70.6,69.3C71.8,69.1 72.8,69.8 73.8,69.8C74.9,69.9 75.9,69.6 76.9,69.4C78.0,69.3 78.9,68.5 80.0,68.8C81.1,69.0 82.1,70.9 83.3,71.2C84.6,71.5 86.5,70.3 87.7,70.5C89.0,70.8 90.2,71.8 91.1,72.6C91.9,73.5 92.8,74.4 92.8,75.5C92.8,76.6 91.1,78.0 91.2,79.0C91.3,80.1 93.3,81.0 93.5,82.0C93.6,83.0 92.8,84.0 92.4,85.0C91.9,86.0 91.2,86.8 91.0,87.9C90.7,89.1 90.7,91.3 91.1,91.7C91.5,92.1 92.6,90.3 93.2,90.5C93.8,90.6 94.1,92.4 94.7,92.8C95.3,93.1 95.6,92.8 96.7,92.5C97.9,92.3 100.0,91.4 101.6,91.3C103.3,91.3 105.0,92.2 106.7,92.2C108.4,92.1 110.6,91.0 111.8,90.9C113.0,90.8 113.3,91.3 114.0,91.7C114.6,92.0 115.2,92.4 115.8,92.9C116.4,93.5 117.2,93.8 117.4,94.9C117.6,95.9 116.8,97.9 117.0,99.4C117.2,100.8 118.3,102.2 118.6,103.6C118.8,104.9 118.8,106.3 118.5,107.7C118.2,109.1 117.1,110.4 116.9,111.9C116.7,113.5 117.5,115.3 117.3,116.8C117.0,118.3 115.7,119.7 115.4,120.9C115.0,122.2 115.6,123.4 115.1,124.4C114.7,125.4 113.2,126.1 112.6,127.0C112.0,128.0 112.0,129.2 111.5,130.1C111.0,131.0 110.0,131.6 109.6,132.6C109.1,133.5 109.3,135.0 108.7,135.8C108.1,136.7 106.4,136.8 105.9,137.6C105.4,138.5 106.2,140.2 105.7,141.2C105.2,142.2 103.3,142.6 102.7,143.6C102.2,144.5 102.5,145.8 102.3,147.0C102.2,148.3 102.7,149.9 102.1,151.0C101.4,152.2 99.3,152.9 98.7,154.0C98.0,155.1 98.9,156.5 98.3,157.6C97.7,158.6 96.3,159.8 95.1,160.4C93.8,160.9 91.9,160.2 90.6,160.8C89.4,161.4 88.5,163.5 87.4,164.0C86.3,164.4 85.3,163.7 84.3,163.6C83.3,163.5 82.2,163.5 81.2,163.5C80.2,163.5 79.3,163.7 78.4,163.5C77.5,163.3 76.6,162.9 75.9,162.4C75.3,162.0 74.9,161.4 74.6,160.6C74.3,159.9 73.8,158.7 74.0,157.8C74.3,157.0 75.2,156.2 76.0,155.5C76.8,154.8 78.0,154.4 78.7,153.6C79.4,152.9 79.8,151.9 80.2,150.9C80.6,149.9 80.4,148.4 81.1,147.6C81.7,146.8 83.5,146.8 84.2,146.1C85.0,145.5 85.7,144.1 85.5,143.7C85.3,143.3 83.6,144.1 82.8,143.9C82.0,143.6 81.4,142.6 80.6,142.1C79.8,141.6 78.8,141.0 77.9,140.9C77.0,140.9 75.9,141.2 75.2,141.7C74.4,142.2 74.0,143.5 73.2,144.0C72.4,144.5 71.2,144.1 70.4,144.8C69.7,145.5 69.5,147.2 68.8,148.2C68.1,149.1 67.4,150.1 66.4,150.7C65.4,151.4 63.9,151.6 62.9,152.1C62.0,152.7 61.2,153.3 60.5,154.1C59.8,154.9 59.6,156.2 58.8,157.0C58.0,157.7 57.0,158.1 55.8,158.3C54.7,158.5 53.2,157.7 52.0,158.0C50.8,158.4 49.8,160.1 48.6,160.5C47.4,160.9 45.6,160.7 44.6,160.4C43.5,160.0 43.3,158.6 42.5,158.3C41.6,158.1 40.3,158.9 39.5,158.8C38.6,158.6 38.1,157.8 37.2,157.3C36.2,156.8 35.0,156.3 34.0,155.8C33.0,155.3 32.0,154.7 31.0,154.2C29.9,153.7 28.7,153.4 27.7,152.8C26.7,152.2 25.7,151.5 25.0,150.6C24.3,149.6 24.2,148.0 23.5,147.1C22.8,146.1 21.3,145.8 20.8,144.9C20.3,144.1 20.9,142.8 20.3,142.1C19.6,141.4 17.6,141.4 16.9,140.7C16.2,140.0 16.4,138.9 16.3,137.9C16.2,136.9 16.7,135.6 16.3,134.8C15.9,134.0 14.3,133.7 13.8,132.9C13.3,132.1 13.8,131.0 13.4,130.1C12.9,129.1 11.8,128.3 11.3,127.3C10.8,126.3 10.6,125.2 10.3,124.1C10.0,123.0 9.6,121.8 9.5,121.0C9.4,120.1 9.6,119.6 9.8,119.0C9.9,118.3 10.4,117.9 10.6,117.2C10.8,116.5 10.2,115.3 10.9,114.8C11.6,114.3 13.7,114.7 14.8,114.3C15.9,113.8 16.6,112.7 17.6,111.9C18.5,111.1 19.4,110.1 20.4,109.5C21.4,108.9 22.5,108.8 23.6,108.5C24.7,108.2 25.8,107.9 26.8,107.6C27.9,107.3 29.2,107.1 30.0,106.5C30.8,105.9 31.0,104.1 31.8,103.9C32.7,103.7 34.2,105.3 35.1,105.2C36.0,105.1 37.0,104.1 37.3,103.3C37.6,102.6 36.8,101.4 37.0,100.6C37.3,99.9 38.2,99.5 38.7,98.8C39.3,98.1 40.3,96.7 40.1,96.4C39.9,96.1 38.3,97.3 37.6,97.1C36.8,96.9 36.4,95.6 35.7,95.3C35.1,94.9 34.0,95.1 33.6,94.9C33.1,94.6 33.4,93.9 33.0,93.6C32.6,93.3 31.4,93.4 31.1,93.0C30.9,92.6 31.0,91.8 31.6,91.2Z" fill="url(#zcb)" stroke="#000" stroke-width="2.4" stroke-linejoin="round"/><path d="M33.1,92.5C33.6,91.9 35.2,91.6 35.6,90.7C36.1,89.8 35.3,88.0 35.7,87.0C36.2,86.1 37.2,85.5 38.3,85.1C39.5,84.7 41.3,85.1 42.5,84.6C43.8,84.1 44.7,83.0 45.8,82.1C46.8,81.3 47.8,80.3 48.9,79.6C50.0,78.8 51.2,78.1 52.5,77.6C53.8,77.1 55.5,77.3 56.7,76.7C57.9,76.0 58.7,74.5 59.7,73.7C60.8,72.9 61.9,72.1 63.1,72.0C64.3,72.0 65.8,73.7 67.0,73.6C68.2,73.5 69.3,71.9 70.4,71.6C71.5,71.3 72.4,72.1 73.4,72.1C74.4,72.1 75.4,71.9 76.4,71.7C77.4,71.5 78.3,70.8 79.3,71.1C80.4,71.3 81.3,73.1 82.5,73.4C83.7,73.7 85.5,72.5 86.7,72.8C87.9,73.0 89.1,74.0 89.9,74.8C90.7,75.5 91.5,76.5 91.5,77.5C91.6,78.5 89.9,79.8 90.0,80.9C90.1,81.9 92.0,82.7 92.2,83.7C92.4,84.6 91.5,85.6 91.1,86.6C90.7,87.5 90.0,88.3 89.8,89.4C89.6,90.4 89.6,92.6 89.9,93.0C90.3,93.4 91.4,91.6 91.9,91.8C92.5,92.0 92.8,93.7 93.4,94.0C93.9,94.3 94.2,94.0 95.3,93.8C96.4,93.5 98.4,92.7 100.0,92.6C101.6,92.5 103.2,93.5 104.8,93.4C106.4,93.3 108.5,92.3 109.7,92.2C110.8,92.1 111.1,92.6 111.8,93.0C112.4,93.3 113.0,93.6 113.5,94.1C114.1,94.7 114.9,95.0 115.1,96.0C115.3,97.0 114.5,98.9 114.6,100.3C114.8,101.7 115.9,103.0 116.1,104.3C116.4,105.6 116.3,106.9 116.1,108.3C115.8,109.6 114.7,110.9 114.5,112.3C114.3,113.7 115.2,115.5 114.9,116.9C114.7,118.3 113.5,119.7 113.1,120.9C112.8,122.1 113.3,123.2 112.9,124.2C112.4,125.2 111.1,125.8 110.5,126.7C109.9,127.6 109.9,128.8 109.4,129.7C108.9,130.5 108.0,131.1 107.5,132.0C107.1,132.9 107.3,134.3 106.8,135.1C106.2,135.9 104.5,136.0 104.0,136.8C103.5,137.7 104.4,139.3 103.9,140.2C103.4,141.2 101.5,141.6 101.0,142.5C100.5,143.4 100.8,144.6 100.7,145.8C100.6,147.0 101.0,148.5 100.4,149.6C99.8,150.7 97.7,151.4 97.1,152.5C96.5,153.5 97.4,154.9 96.8,155.9C96.3,156.9 94.9,158.0 93.7,158.5C92.5,159.1 90.7,158.4 89.5,159.0C88.3,159.6 87.4,161.6 86.4,162.0C85.4,162.4 84.4,161.7 83.4,161.6C82.4,161.6 81.4,161.6 80.5,161.5C79.5,161.5 78.6,161.7 77.8,161.5C77.0,161.4 76.0,161.0 75.4,160.5C74.8,160.1 74.5,159.5 74.2,158.8C73.9,158.1 73.4,156.9 73.6,156.1C73.8,155.3 74.8,154.5 75.5,153.9C76.3,153.2 77.5,152.8 78.1,152.1C78.8,151.4 79.2,150.4 79.5,149.5C79.9,148.5 79.7,147.1 80.3,146.4C81.0,145.6 82.6,145.6 83.3,145.0C84.1,144.3 84.8,143.0 84.6,142.6C84.3,142.3 82.8,143.1 82.0,142.8C81.2,142.5 80.7,141.6 79.9,141.1C79.1,140.6 78.1,140.0 77.3,140.0C76.4,139.9 75.4,140.2 74.7,140.7C74.0,141.2 73.6,142.4 72.9,142.9C72.1,143.4 70.9,143.0 70.2,143.7C69.5,144.4 69.3,146.0 68.6,146.9C68.0,147.8 67.3,148.7 66.3,149.3C65.4,150.0 64.0,150.1 63.0,150.7C62.1,151.2 61.4,151.8 60.7,152.5C60.1,153.3 59.8,154.6 59.1,155.3C58.3,156.0 57.3,156.4 56.2,156.6C55.2,156.8 53.7,156.0 52.6,156.3C51.4,156.7 50.5,158.3 49.3,158.7C48.1,159.0 46.4,158.9 45.5,158.6C44.5,158.2 44.3,156.9 43.5,156.6C42.7,156.3 41.5,157.2 40.6,157.0C39.8,156.9 39.3,156.1 38.4,155.6C37.5,155.1 36.4,154.7 35.4,154.2C34.4,153.7 33.5,153.1 32.5,152.6C31.5,152.2 30.4,151.9 29.4,151.3C28.4,150.7 27.4,150.1 26.8,149.2C26.1,148.3 26.0,146.7 25.4,145.8C24.7,144.9 23.3,144.6 22.8,143.8C22.3,143.0 22.9,141.8 22.3,141.1C21.7,140.4 19.7,140.4 19.1,139.8C18.4,139.1 18.6,138.0 18.5,137.1C18.4,136.1 18.9,134.9 18.5,134.1C18.1,133.3 16.6,133.1 16.1,132.3C15.6,131.6 16.1,130.5 15.7,129.6C15.3,128.7 14.2,127.9 13.7,127.0C13.2,126.0 13.0,124.9 12.7,123.9C12.4,122.9 12.1,121.7 12.0,120.9C11.9,120.1 12.1,119.6 12.2,119.0C12.4,118.4 12.9,118.0 13.1,117.3C13.3,116.6 12.7,115.5 13.3,115.0C14.0,114.5 16.0,115.0 17.0,114.5C18.1,114.1 18.8,113.0 19.7,112.3C20.6,111.5 21.4,110.5 22.4,110.0C23.3,109.4 24.4,109.3 25.4,109.0C26.5,108.7 27.5,108.5 28.5,108.2C29.6,107.8 30.8,107.7 31.6,107.1C32.4,106.5 32.5,104.9 33.3,104.7C34.1,104.4 35.6,106.0 36.5,105.9C37.3,105.8 38.2,104.8 38.5,104.1C38.9,103.4 38.1,102.2 38.3,101.5C38.5,100.8 39.4,100.4 39.9,99.7C40.4,99.0 41.4,97.7 41.2,97.5C41.0,97.2 39.5,98.3 38.8,98.1C38.1,97.9 37.7,96.7 37.0,96.4C36.4,96.0 35.4,96.3 35.0,96.0C34.6,95.7 34.9,95.1 34.5,94.8C34.1,94.5 32.9,94.6 32.7,94.2C32.4,93.8 32.6,93.1 33.1,92.5Z" fill="none" stroke="#c8c8c8" stroke-width="0.8"/><defs><path id="z24" d="M11.4,119.3C12.0,118.0 14.2,117.7 15.6,116.8C16.9,115.9 18.3,114.9 19.4,113.9C20.6,112.9 21.2,111.5 22.5,110.7C23.9,110.0 25.8,109.8 27.5,109.6C29.2,109.3 31.1,109.8 32.7,109.1C34.3,108.3 35.5,105.4 37.3,105.0C39.1,104.5 41.4,105.8 43.4,106.5C45.4,107.2 47.4,108.9 49.4,109.2C51.4,109.5 54.0,107.7 55.6,108.2C57.3,108.6 57.6,111.4 59.3,111.9C60.9,112.4 63.7,110.8 65.3,111.4C66.9,111.9 68.0,113.8 68.9,115.3C69.7,116.8 70.4,118.5 70.5,120.1C70.7,121.8 69.9,123.6 69.9,125.3C69.9,126.9 70.5,128.3 70.6,130.1C70.6,131.9 70.8,134.4 70.2,136.1C69.5,137.9 68.0,139.1 66.9,140.7C65.8,142.3 65.1,144.5 63.6,145.5C62.1,146.5 59.5,145.9 57.9,146.7C56.3,147.5 55.2,148.9 53.9,150.3C52.6,151.8 51.5,154.7 50.2,155.1C48.9,155.6 47.3,153.0 45.9,153.1C44.4,153.2 43.0,155.8 41.5,156.0C40.1,156.2 38.9,154.6 37.3,154.2C35.7,153.7 33.7,153.8 32.1,153.4C30.4,152.9 28.7,152.5 27.4,151.4C26.2,150.2 26.1,147.7 24.8,146.5C23.6,145.3 21.4,145.1 20.1,144.1C18.8,143.1 17.7,141.8 17.0,140.3C16.3,138.9 16.2,137.3 15.9,135.6C15.6,133.8 16.0,131.7 15.3,129.9C14.5,128.1 12.2,126.6 11.5,124.9C10.9,123.1 10.7,120.6 11.4,119.3Z" stroke-width="0.7" vector-effect="non-scaling-stroke"/></defs><use href="#z24" fill="url(#zc)" stroke="#c4c4c4" transform="translate(46.0,124.0) scale(0.95) translate(-46.0,-124.0)"/><use href="#z24" fill="url(#zc)" stroke="#c4c4c4" transform="translate(46.0,124.0) scale(0.72) translate(-46.0,-124.0)"/><use href="#z24" fill="url(#zc)" stroke="#c4c4c4" transform="translate(46.0,124.0) scale(0.5) translate(-46.0,-124.0)"/><use href="#z24" fill="url(#zc)" stroke="#c4c4c4" transform="translate(46.0,124.0) scale(0.3) translate(-46.0,-124.0)"/><defs><path id="z25" d="M80.4,108.4C81.0,107.5 83.8,107.1 85.2,106.0C86.5,104.8 87.3,103.0 88.6,101.6C89.9,100.3 91.3,99.1 92.9,98.1C94.6,97.1 96.5,95.8 98.4,95.8C100.2,95.8 102.4,97.9 104.3,98.0C106.2,98.2 108.7,96.3 109.8,96.7C111.0,97.0 110.3,99.2 111.1,99.9C111.9,100.7 113.8,100.6 114.6,101.3C115.3,102.0 115.4,102.8 115.7,104.1C116.1,105.5 117.0,107.7 116.7,109.3C116.3,110.9 114.2,112.4 113.7,114.0C113.3,115.6 114.2,117.3 114.0,118.8C113.8,120.3 113.2,121.7 112.6,123.0C111.9,124.3 110.7,125.3 109.9,126.4C109.1,127.6 108.7,128.8 107.8,129.8C106.9,130.9 105.8,132.3 104.6,132.7C103.4,133.2 101.6,132.4 100.4,132.5C99.1,132.6 98.2,133.2 96.9,133.4C95.6,133.6 93.9,134.2 92.7,133.7C91.5,133.2 90.8,130.8 89.7,130.2C88.6,129.6 86.7,130.7 86.0,130.0C85.2,129.3 85.9,127.0 85.1,125.8C84.3,124.7 82.2,124.2 81.2,123.1C80.2,122.0 79.1,120.4 79.1,119.1C79.1,117.8 80.9,116.6 81.3,115.4C81.7,114.1 81.5,112.8 81.3,111.6C81.2,110.5 79.7,109.4 80.4,108.4Z" stroke-width="0.7" vector-effect="non-scaling-stroke"/></defs><use href="#z25" fill="url(#zc)" stroke="#c4c4c4" transform="translate(98.0,115.0) scale(0.95) translate(-98.0,-115.0)"/><use href="#z25" fill="url(#zc)" stroke="#c4c4c4" transform="translate(98.0,115.0) scale(0.7) translate(-98.0,-115.0)"/><use href="#z25" fill="url(#zc)" stroke="#c4c4c4" transform="translate(98.0,115.0) scale(0.45) translate(-98.0,-115.0)"/><defs><path id="z26" d="M37.0,87.1C37.3,86.2 38.7,84.2 40.0,83.4C41.4,82.6 43.7,83.3 45.1,82.4C46.4,81.5 46.7,79.1 48.0,78.2C49.3,77.4 51.3,77.9 52.8,77.4C54.3,76.8 55.4,75.6 56.8,74.8C58.2,74.0 59.5,72.9 61.2,72.5C62.9,72.2 65.1,73.1 67.0,72.6C68.8,72.1 70.3,70.0 72.2,69.6C74.1,69.3 76.4,70.5 78.1,70.6C79.9,70.6 81.2,69.7 82.6,69.8C84.0,69.8 85.3,70.2 86.6,70.8C87.9,71.4 89.9,72.3 90.4,73.5C90.8,74.6 88.7,76.3 89.1,77.7C89.5,79.0 92.1,80.0 92.5,81.4C92.9,82.8 92.4,85.0 91.6,86.1C90.8,87.1 89.1,87.1 87.8,87.6C86.4,88.1 84.8,88.1 83.8,89.0C82.8,89.9 83.1,92.0 81.9,92.8C80.6,93.7 78.3,94.2 76.4,94.1C74.4,94.0 72.3,91.9 70.5,92.2C68.6,92.5 67.0,95.8 65.1,95.9C63.1,96.0 61.0,93.1 59.0,93.0C56.9,92.9 54.8,94.9 52.7,95.2C50.5,95.5 47.9,94.8 46.3,94.8C44.8,94.7 44.3,95.2 43.3,95.0C42.4,94.8 41.5,94.1 40.7,93.6C40.0,93.0 39.5,92.4 38.8,92.0C38.1,91.5 36.6,91.3 36.4,90.8C36.3,90.3 37.8,89.5 37.9,88.9C37.9,88.3 36.6,88.0 37.0,87.1Z" stroke-width="0.7" vector-effect="non-scaling-stroke"/></defs><use href="#z26" fill="url(#zc)" stroke="#c4c4c4" transform="translate(64.0,85.0) scale(0.92) translate(-64.0,-85.0)"/><use href="#z26" fill="url(#zc)" stroke="#c4c4c4" transform="translate(64.0,85.0) scale(0.6) translate(-64.0,-85.0)"/><use href="#z26" fill="url(#zc)" stroke="#c4c4c4" transform="translate(64.0,85.0) scale(0.35) translate(-64.0,-85.0)"/><defs><path id="z27" d="M79.6,145.5C80.1,145.0 83.1,146.4 83.9,145.6C84.7,144.8 83.6,141.5 84.3,140.7C85.0,139.8 86.8,141.0 88.1,140.4C89.3,139.9 90.4,138.0 91.7,137.5C93.0,137.1 94.6,137.4 95.8,137.6C97.0,137.7 97.9,138.1 99.0,138.5C100.1,138.9 102.0,139.2 102.5,140.1C103.0,140.9 101.8,142.6 102.1,143.6C102.4,144.6 104.0,145.1 104.1,146.0C104.2,147.0 103.3,148.3 102.9,149.4C102.4,150.5 101.8,151.5 101.4,152.7C100.9,153.9 101.2,155.8 100.4,156.5C99.6,157.2 97.2,156.0 96.5,156.8C95.7,157.7 96.5,160.5 95.8,161.4C95.0,162.4 93.1,162.2 91.9,162.6C90.6,162.9 89.4,163.6 88.3,163.4C87.1,163.3 86.2,162.2 85.1,161.7C84.1,161.1 82.3,160.9 81.8,160.1C81.3,159.3 82.7,157.5 82.2,156.8C81.7,156.0 79.7,156.3 78.9,155.6C78.0,154.9 77.4,153.6 77.2,152.8C77.0,151.9 76.9,151.0 77.6,150.4C78.3,149.7 81.1,149.7 81.4,148.9C81.7,148.1 79.2,146.1 79.6,145.5Z" stroke-width="0.7" vector-effect="non-scaling-stroke"/></defs><use href="#z27" fill="url(#zc)" stroke="#c4c4c4" transform="translate(91.0,150.0) scale(0.9) translate(-91.0,-150.0)"/><use href="#z27" fill="url(#zc)" stroke="#c4c4c4" transform="translate(91.0,150.0) scale(0.5) translate(-91.0,-150.0)"/><ellipse cx="61.4" cy="99.5" rx="2.5" ry="2" fill="#fff"/><path d="M74,98.5L82,98.5L78.5,105Z" fill="#fff"/><rect x="0.6" y="39.6" width="130.6" height="58.1" fill="none" stroke="#5a5ad0" stroke-width="1.1"/><path d="M0,0V174H175" stroke="#000" stroke-width="1.4" fill="none"/><path d="M-3.5,14.5H0M-3.5,50.6H0M-3.5,89.0H0M-3.5,128.5H0M-3.5,145.5H0M-1.6,39.0H0M-1.6,32.3H0M-1.6,27.5H0M-1.6,23.8H0M-1.6,20.7H0M-1.6,18.1H0M-1.6,15.9H0M-1.6,14.0H0M-1.6,77.1H0M-1.6,70.2H0M-1.6,65.2H0M-1.6,61.4H0M-1.6,58.3H0M-1.6,55.6H0M-1.6,53.3H0M-1.6,51.3H0M-1.6,116.6H0M-1.6,109.7H0M-1.6,104.7H0M-1.6,100.9H0M-1.6,97.8H0M-1.6,95.1H0M-1.6,92.8H0M-1.6,90.8H0M-1.6,133.0H0M-1.6,137.5H0M-1.6,141.5H0M-1.6,150.0H0M-1.6,155.0H0M-1.6,160.0H0M-1.6,166.0H0M-3.5,174H0M49.3,174V177.5M86.3,174V177.5M122.3,174V177.5M159.3,174V177.5M17.8,174V177.5M60.1,174V175.8M66.5,174V175.8M71.0,174V175.8M74.5,174V175.8M77.3,174V175.8M79.7,174V175.8M81.8,174V175.8M83.7,174V175.8M97.1,174V175.8M103.5,174V175.8M108.0,174V175.8M111.5,174V175.8M114.3,174V175.8M116.7,174V175.8M118.8,174V175.8M120.7,174V175.8M133.1,174V175.8M139.5,174V175.8M144.0,174V175.8M147.5,174V175.8M150.3,174V175.8M152.7,174V175.8M154.8,174V175.8M156.7,174V175.8M4.0,174V175.8M8.0,174V175.8M12.0,174V175.8M22.0,174V175.8M27.0,174V175.8M32.0,174V175.8M37.0,174V175.8M42.0,174V175.8M46.0,174V175.8" stroke="#000" stroke-width="1" fill="none"/><text x="-9" y="20.1" font-size="16" text-anchor="end">10<tspan font-size="12" dy="-5.2">5</tspan></text><text x="-9" y="56.2" font-size="16" text-anchor="end">10<tspan font-size="12" dy="-5.2">4</tspan></text><text x="-9" y="94.6" font-size="16" text-anchor="end">10<tspan font-size="12" dy="-5.2">3</tspan></text><text x="-9" y="134.1" font-size="16" text-anchor="end">10<tspan font-size="12" dy="-5.2">2</tspan></text><text x="-9.5" y="154.1" font-size="16" text-anchor="end">0</text><text x="49.3" y="196.3" font-size="16" text-anchor="middle">10<tspan font-size="12" dy="-5.2">2</tspan></text><text x="86.3" y="196.3" font-size="16" text-anchor="middle">10<tspan font-size="12" dy="-5.2">3</tspan></text><text x="122.3" y="196.3" font-size="16" text-anchor="middle">10<tspan font-size="12" dy="-5.2">4</tspan></text><text x="159.3" y="196.3" font-size="16" text-anchor="middle">10<tspan font-size="12" dy="-5.2">5</tspan></text><text x="18.8" y="196.3" font-size="16" text-anchor="middle">0</text><text x="19.5" y="60.8" font-size="18.8">13.7</text></g>
<g transform="translate(545.7,631)"><path d="M0,0.6H174.6V174" stroke="#a8a8a8" stroke-width="1.2" fill="none"/><path d="M22.0,94.7C22.0,94.1 23.4,93.1 23.9,92.2C24.5,91.3 24.7,90.2 25.4,89.4C26.0,88.6 26.9,87.9 27.8,87.3C28.8,86.7 30.0,86.2 31.1,85.7C32.2,85.2 33.3,84.7 34.3,84.1C35.3,83.4 36.3,82.8 36.9,81.8C37.5,80.8 37.5,79.3 37.8,78.1C38.0,76.8 37.8,75.4 38.3,74.2C38.7,73.0 39.8,71.9 40.3,71.0C40.8,70.0 40.6,69.0 41.2,68.5C41.8,67.9 43.3,68.3 43.9,67.6C44.5,67.0 43.8,65.4 44.5,64.6C45.2,63.7 46.7,63.0 48.0,62.7C49.2,62.3 50.7,62.7 52.0,62.4C53.3,62.2 54.3,61.4 55.8,61.3C57.3,61.2 59.1,61.7 60.8,61.8C62.5,61.8 64.1,62.0 65.8,61.8C67.4,61.5 69.0,60.8 70.7,60.5C72.4,60.3 74.0,60.1 75.7,60.3C77.3,60.5 78.9,61.5 80.6,61.7C82.3,61.8 84.3,61.2 85.6,61.4C86.9,61.5 87.6,62.2 88.4,62.8C89.3,63.3 90.0,64.1 90.8,64.8C91.7,65.4 93.0,65.9 93.5,66.5C94.0,67.2 93.4,68.3 93.8,68.6C94.3,69.0 95.8,68.3 96.3,68.6C96.8,69.0 97.0,69.7 97.1,70.6C97.2,71.6 96.9,73.2 97.0,74.5C97.1,75.7 97.4,77.0 97.7,78.2C97.9,79.4 98.6,80.7 98.5,81.8C98.4,83.0 97.6,83.9 97.0,84.9C96.5,85.9 95.8,86.8 95.4,87.8C95.0,88.8 95.2,90.0 94.6,90.7C93.9,91.4 92.4,91.3 91.7,92.1C90.9,92.8 90.8,94.3 90.1,95.1C89.4,95.9 88.2,96.1 87.5,96.8C86.9,97.5 86.9,98.6 86.2,99.2C85.6,99.9 84.6,100.1 83.9,100.6C83.1,101.0 81.6,101.7 81.7,101.9C81.7,102.2 83.7,102.3 84.4,102.0C85.1,101.7 85.4,101.0 85.9,100.4C86.4,99.8 86.4,98.6 87.4,98.3C88.3,97.9 90.4,98.5 91.8,98.5C93.3,98.4 94.8,98.2 96.2,97.8C97.7,97.5 99.2,96.2 100.5,96.2C101.9,96.2 102.9,97.5 104.1,97.8C105.3,98.1 106.6,98.0 107.8,98.0C109.1,97.9 111.0,97.3 111.6,97.7C112.2,98.1 111.0,99.7 111.5,100.3C111.9,101.0 113.9,101.0 114.5,101.6C115.0,102.3 115.2,103.0 115.0,104.2C114.8,105.5 113.8,107.5 113.5,109.1C113.2,110.8 113.3,112.4 113.4,114.1C113.5,115.8 114.3,117.5 114.1,119.2C114.0,120.8 113.0,122.4 112.6,124.0C112.2,125.7 112.1,127.3 112.0,129.0C111.9,130.7 111.8,132.4 111.8,134.0C111.8,135.6 112.3,137.0 112.0,138.5C111.6,139.9 110.0,141.1 109.6,142.6C109.1,144.0 109.4,145.6 109.3,146.9C109.2,148.3 109.0,149.4 109.0,150.7C109.0,151.9 109.4,153.3 109.2,154.5C109.1,155.8 108.6,157.3 107.9,158.0C107.1,158.8 105.7,158.6 104.7,159.0C103.6,159.4 102.7,160.2 101.7,160.6C100.7,161.0 100.1,161.3 98.6,161.5C97.2,161.7 94.8,162.3 93.0,162.0C91.1,161.7 89.4,160.0 87.6,159.6C85.7,159.3 83.6,159.3 81.8,159.7C80.1,160.1 78.8,161.5 77.2,162.2C75.6,162.8 73.9,163.3 72.2,163.5C70.5,163.7 68.6,163.1 67.0,163.3C65.3,163.6 63.8,164.7 62.1,164.8C60.4,164.9 58.6,163.9 56.9,163.9C55.3,164.0 53.8,164.8 52.2,165.0C50.5,165.3 48.7,165.8 47.1,165.5C45.4,165.3 43.9,164.0 42.2,163.7C40.6,163.5 38.6,164.4 37.1,164.0C35.5,163.7 34.3,162.4 32.9,161.8C31.4,161.3 29.6,161.4 28.2,160.7C26.8,160.0 25.6,158.4 24.4,157.8C23.3,157.2 21.9,157.7 21.2,157.0C20.4,156.3 20.6,154.3 19.8,153.6C19.1,152.8 17.5,153.3 16.5,152.7C15.6,152.1 15.1,150.7 14.4,149.8C13.6,148.8 12.6,148.1 12.0,147.0C11.4,146.0 11.4,144.5 10.9,143.4C10.3,142.4 9.4,141.6 8.9,140.6C8.4,139.6 8.2,138.6 8.0,137.4C7.8,136.2 7.8,134.0 7.4,133.4C7.0,132.7 6.4,133.3 5.9,133.6C5.4,133.9 4.9,134.9 4.3,135.0C3.7,135.1 2.5,134.4 2.3,133.9C2.1,133.4 2.6,132.7 3.0,132.1C3.3,131.5 4.3,131.0 4.4,130.4C4.5,129.8 3.5,128.9 3.7,128.3C3.8,127.8 4.7,127.2 5.4,126.9C6.0,126.5 7.1,126.7 7.7,126.3C8.3,125.9 8.5,125.4 8.8,124.5C9.2,123.7 9.3,122.3 9.8,121.3C10.3,120.3 11.3,119.4 11.8,118.5C12.4,117.5 12.7,116.6 13.3,115.6C13.9,114.7 14.7,113.7 15.4,112.8C16.1,111.8 16.8,110.8 17.6,110.0C18.5,109.2 19.6,108.4 20.5,107.9C21.5,107.5 22.6,107.9 23.3,107.4C24.1,106.8 24.4,105.3 25.1,104.8C25.8,104.2 26.9,104.2 27.6,103.9C28.3,103.6 28.7,103.4 29.1,103.0C29.5,102.6 29.7,101.8 30.1,101.4C30.5,101.1 31.7,101.1 31.5,100.9C31.3,100.8 29.7,101.0 28.9,100.6C28.2,100.2 27.8,98.6 26.9,98.3C26.1,98.0 24.5,98.9 23.9,98.8C23.2,98.7 23.2,98.1 23.2,97.6C23.2,97.0 24.2,96.1 24.0,95.6C23.8,95.1 22.0,95.2 22.0,94.7Z" fill="url(#zcb)" stroke="#000" stroke-width="2.4" stroke-linejoin="round"/><path d="M23.7,95.5C23.7,94.9 25.0,93.9 25.5,93.1C26.1,92.3 26.3,91.2 26.9,90.4C27.6,89.7 28.4,89.0 29.3,88.4C30.2,87.8 31.3,87.4 32.4,86.9C33.4,86.4 34.5,85.9 35.4,85.3C36.4,84.7 37.4,84.1 37.9,83.2C38.5,82.2 38.5,80.8 38.7,79.6C39.0,78.4 38.8,77.1 39.2,75.9C39.6,74.8 40.7,73.7 41.2,72.8C41.6,71.9 41.4,71.0 42.0,70.4C42.6,69.9 44.1,70.2 44.6,69.6C45.1,69.0 44.5,67.5 45.2,66.7C45.9,65.9 47.3,65.2 48.5,64.9C49.7,64.5 51.1,64.9 52.4,64.7C53.6,64.5 54.6,63.7 56.0,63.6C57.4,63.5 59.2,63.9 60.7,64.0C62.3,64.1 63.9,64.2 65.5,64.0C67.1,63.8 68.6,63.1 70.2,62.8C71.8,62.6 73.4,62.4 75.0,62.6C76.5,62.8 78.1,63.8 79.7,63.9C81.2,64.1 83.2,63.5 84.5,63.6C85.7,63.8 86.3,64.4 87.1,65.0C88.0,65.5 88.6,66.3 89.4,66.9C90.2,67.5 91.4,68.0 91.9,68.6C92.4,69.2 91.9,70.2 92.3,70.6C92.8,70.9 94.1,70.3 94.6,70.6C95.2,70.9 95.3,71.6 95.4,72.5C95.5,73.4 95.2,75.0 95.3,76.2C95.4,77.4 95.7,78.6 95.9,79.7C96.2,80.9 96.8,82.1 96.7,83.2C96.6,84.3 95.8,85.1 95.4,86.1C94.9,87.0 94.2,88.0 93.8,88.9C93.4,89.8 93.6,91.0 93.0,91.7C92.4,92.4 90.9,92.3 90.2,92.9C89.5,93.6 89.4,95.1 88.7,95.9C88.0,96.6 86.9,96.9 86.3,97.5C85.7,98.2 85.6,99.2 85.0,99.8C84.5,100.4 83.5,100.6 82.8,101.1C82.0,101.5 80.6,102.2 80.7,102.4C80.7,102.6 82.6,102.7 83.2,102.4C83.9,102.2 84.3,101.5 84.7,100.9C85.2,100.3 85.2,99.2 86.1,98.9C87.0,98.6 89.0,99.1 90.4,99.1C91.8,99.0 93.2,98.8 94.6,98.5C95.9,98.1 97.4,96.9 98.7,96.9C100.0,96.9 101.0,98.2 102.1,98.5C103.3,98.8 104.5,98.6 105.7,98.6C106.9,98.6 108.7,98.0 109.3,98.3C109.9,98.7 108.7,100.2 109.1,100.8C109.6,101.5 111.4,101.5 112.0,102.1C112.5,102.7 112.7,103.4 112.5,104.6C112.4,105.8 111.4,107.7 111.1,109.3C110.8,110.8 110.8,112.4 110.9,114.0C111.0,115.6 111.8,117.3 111.7,118.9C111.6,120.4 110.5,121.9 110.2,123.5C109.9,125.1 109.8,126.6 109.6,128.2C109.5,129.8 109.4,131.5 109.4,133.0C109.4,134.5 109.9,135.9 109.6,137.3C109.3,138.6 107.8,139.8 107.3,141.2C106.9,142.5 107.1,144.0 107.1,145.3C107.0,146.6 106.8,147.7 106.8,148.9C106.8,150.1 107.2,151.4 107.0,152.6C106.8,153.8 106.4,155.3 105.7,156.0C105.0,156.7 103.6,156.5 102.6,156.9C101.6,157.3 100.7,158.0 99.8,158.4C98.8,158.8 98.3,159.1 96.9,159.3C95.5,159.5 93.2,160.0 91.4,159.7C89.7,159.4 88.1,157.9 86.3,157.5C84.5,157.1 82.5,157.2 80.8,157.6C79.2,158.0 77.9,159.3 76.4,159.9C74.8,160.5 73.3,161.0 71.7,161.2C70.0,161.4 68.2,160.8 66.6,161.0C65.0,161.2 63.6,162.3 62.0,162.4C60.4,162.5 58.6,161.6 57.1,161.6C55.5,161.6 54.1,162.4 52.5,162.7C50.9,162.9 49.2,163.3 47.6,163.1C46.0,162.9 44.6,161.6 43.0,161.4C41.4,161.1 39.6,162.0 38.1,161.7C36.6,161.4 35.5,160.1 34.1,159.6C32.7,159.1 31.0,159.2 29.6,158.5C28.3,157.9 27.1,156.3 26.0,155.7C24.9,155.1 23.6,155.7 22.9,155.0C22.1,154.3 22.4,152.4 21.6,151.7C20.9,151.0 19.3,151.5 18.5,150.9C17.6,150.3 17.1,149.0 16.4,148.1C15.7,147.2 14.7,146.4 14.1,145.4C13.6,144.4 13.5,143.0 13.0,142.0C12.5,141.0 11.6,140.3 11.2,139.3C10.7,138.4 10.6,137.4 10.3,136.2C10.1,135.1 10.1,133.0 9.7,132.4C9.4,131.8 8.8,132.4 8.3,132.6C7.8,132.9 7.4,133.9 6.8,134.0C6.2,134.0 5.1,133.4 4.9,132.9C4.7,132.5 5.2,131.8 5.5,131.2C5.9,130.7 6.7,130.2 6.8,129.6C7.0,129.0 6.0,128.2 6.2,127.6C6.3,127.0 7.2,126.5 7.8,126.2C8.4,125.9 9.4,126.0 10.0,125.6C10.6,125.3 10.8,124.8 11.1,124.0C11.5,123.2 11.5,121.8 12.0,120.8C12.5,119.9 13.4,119.1 14.0,118.2C14.6,117.3 14.8,116.4 15.4,115.4C16.0,114.5 16.7,113.6 17.4,112.7C18.1,111.8 18.7,110.8 19.5,110.1C20.3,109.3 21.4,108.5 22.3,108.1C23.2,107.7 24.2,108.1 24.9,107.6C25.7,107.1 26.0,105.6 26.6,105.1C27.3,104.5 28.4,104.5 29.0,104.2C29.7,104.0 30.1,103.8 30.5,103.4C30.9,103.0 31.0,102.2 31.4,101.9C31.8,101.6 32.9,101.6 32.7,101.4C32.6,101.3 31.1,101.5 30.3,101.1C29.6,100.7 29.2,99.2 28.4,98.9C27.6,98.6 26.0,99.5 25.5,99.4C24.9,99.2 24.8,98.7 24.8,98.2C24.8,97.7 25.8,96.8 25.6,96.3C25.4,95.9 23.7,96.0 23.7,95.5Z" fill="none" stroke="#c8c8c8" stroke-width="0.8"/><defs><path id="z28" d="M41.2,89.4C41.5,88.0 42.6,85.3 43.2,83.3C43.8,81.3 44.4,79.1 44.7,77.2C45.0,75.2 44.5,72.9 45.2,71.5C46.0,70.2 47.7,69.8 49.0,69.1C50.3,68.4 52.0,68.5 53.1,67.3C54.2,66.2 54.4,63.1 55.7,62.3C56.9,61.5 59.0,62.2 60.7,62.5C62.5,62.8 64.3,64.1 66.0,64.0C67.6,63.8 69.1,61.8 70.7,61.7C72.2,61.7 73.7,63.9 75.4,63.8C77.1,63.7 79.1,61.1 80.8,61.0C82.5,60.9 84.2,62.6 85.6,63.2C87.1,63.9 88.4,64.0 89.4,64.9C90.4,65.8 90.8,67.4 91.7,68.4C92.6,69.4 93.8,69.7 94.7,70.7C95.7,71.7 97.0,73.0 97.3,74.3C97.7,75.5 96.9,76.7 96.7,78.1C96.6,79.4 97.0,81.2 96.2,82.2C95.4,83.2 93.1,83.1 92.1,84.0C91.2,84.8 91.0,86.1 90.5,87.4C90.1,88.8 90.6,91.3 89.5,91.9C88.4,92.5 85.6,90.6 84.0,91.2C82.4,91.7 81.4,94.6 79.7,95.2C78.1,95.8 76.3,94.3 74.4,94.6C72.5,95.0 70.4,96.5 68.4,97.1C66.3,97.7 64.3,98.5 62.2,98.3C60.1,98.1 57.7,96.0 55.9,95.9C54.2,95.7 53.2,97.2 51.9,97.4C50.6,97.5 49.3,97.2 48.2,96.7C47.1,96.2 46.1,95.1 45.6,94.3C45.0,93.5 45.5,92.5 44.8,92.1C44.1,91.7 42.0,92.1 41.4,91.7C40.8,91.2 40.9,90.7 41.2,89.4Z" stroke-width="0.7" vector-effect="non-scaling-stroke"/></defs><use href="#z28" fill="url(#zc)" stroke="#c4c4c4" transform="translate(68.0,76.0) scale(0.95) translate(-68.0,-76.0)"/><use href="#z28" fill="url(#zc)" stroke="#c4c4c4" transform="translate(68.0,76.0) scale(0.72) translate(-68.0,-76.0)"/><use href="#z28" fill="url(#zc)" stroke="#c4c4c4" transform="translate(68.0,76.0) scale(0.5) translate(-68.0,-76.0)"/><use href="#z28" fill="url(#zc)" stroke="#c4c4c4" transform="translate(68.0,76.0) scale(0.3) translate(-68.0,-76.0)"/><defs><path id="z29" d="M17.1,119.6C18.0,118.7 20.0,118.7 21.2,117.8C22.4,116.8 23.0,115.2 24.1,114.0C25.2,112.9 26.3,111.8 27.9,111.1C29.5,110.3 31.6,109.2 33.5,109.4C35.4,109.6 37.2,112.0 39.1,112.3C41.0,112.7 42.9,111.3 44.7,111.5C46.5,111.8 48.1,113.6 50.0,113.9C51.9,114.3 54.2,113.3 56.0,113.5C57.8,113.8 59.6,114.6 60.8,115.5C62.1,116.4 63.3,117.4 63.6,118.7C63.9,120.0 62.4,121.9 62.6,123.2C62.8,124.4 64.5,125.1 64.6,126.3C64.8,127.5 64.1,129.1 63.6,130.4C63.0,131.7 61.9,132.7 61.2,133.9C60.5,135.1 60.0,136.1 59.2,137.4C58.5,138.7 57.9,140.8 56.7,141.8C55.5,142.9 53.3,143.0 51.9,143.7C50.6,144.5 49.7,145.5 48.3,146.3C46.9,147.2 45.2,148.5 43.6,148.6C41.9,148.7 40.0,146.9 38.3,146.9C36.7,146.8 35.0,148.6 33.7,148.4C32.4,148.2 31.8,146.0 30.4,145.6C29.1,145.2 27.2,146.1 25.7,145.8C24.2,145.5 22.1,144.8 21.5,143.6C20.9,142.5 22.2,140.5 22.0,139.1C21.8,137.7 21.2,136.5 20.5,135.3C19.7,134.2 18.4,133.3 17.6,132.1C16.8,130.9 15.9,129.3 15.6,127.9C15.3,126.5 15.5,124.9 15.7,123.5C16.0,122.2 16.1,120.6 17.1,119.6Z" stroke-width="0.7" vector-effect="non-scaling-stroke"/></defs><use href="#z29" fill="url(#zc)" stroke="#c4c4c4" transform="translate(40.0,129.0) scale(0.95) translate(-40.0,-129.0)"/><use href="#z29" fill="url(#zc)" stroke="#c4c4c4" transform="translate(40.0,129.0) scale(0.72) translate(-40.0,-129.0)"/><use href="#z29" fill="url(#zc)" stroke="#c4c4c4" transform="translate(40.0,129.0) scale(0.5) translate(-40.0,-129.0)"/><use href="#z29" fill="url(#zc)" stroke="#c4c4c4" transform="translate(40.0,129.0) scale(0.3) translate(-40.0,-129.0)"/><defs><path id="z30" d="M66.8,122.5C67.3,121.4 68.4,119.4 69.7,118.5C71.1,117.6 73.5,118.1 74.8,117.1C76.2,116.1 76.4,113.5 77.8,112.6C79.2,111.7 81.4,112.3 83.1,111.8C84.8,111.2 86.2,110.0 87.8,109.2C89.5,108.4 91.6,107.0 93.1,106.9C94.7,106.8 95.9,108.5 97.3,108.6C98.8,108.6 100.5,107.0 102.0,107.2C103.4,107.3 105.0,108.9 106.1,109.7C107.3,110.6 108.3,111.3 109.0,112.2C109.7,113.1 110.0,114.2 110.2,115.3C110.4,116.5 110.5,118.0 109.9,119.2C109.4,120.3 107.0,120.8 106.6,122.2C106.2,123.5 107.9,125.8 107.5,127.2C107.2,128.7 105.8,130.2 104.4,130.8C102.9,131.4 100.9,130.9 99.1,130.9C97.3,130.9 95.4,130.3 93.8,130.8C92.1,131.3 90.8,133.1 89.3,133.8C87.7,134.5 86.1,135.2 84.4,135.1C82.7,134.9 80.9,132.9 79.1,133.1C77.4,133.4 74.8,136.7 73.8,136.6C72.8,136.5 73.7,133.3 72.9,132.7C72.1,132.0 70.0,133.2 68.9,132.8C67.8,132.4 66.8,131.0 66.2,130.2C65.6,129.4 65.3,128.6 65.3,127.7C65.3,126.9 65.9,126.1 66.2,125.3C66.4,124.4 66.2,123.6 66.8,122.5Z" stroke-width="0.7" vector-effect="non-scaling-stroke"/></defs><use href="#z30" fill="url(#zc)" stroke="#c4c4c4" transform="translate(88.0,122.0) scale(0.95) translate(-88.0,-122.0)"/><use href="#z30" fill="url(#zc)" stroke="#c4c4c4" transform="translate(88.0,122.0) scale(0.65) translate(-88.0,-122.0)"/><use href="#z30" fill="url(#zc)" stroke="#c4c4c4" transform="translate(88.0,122.0) scale(0.4) translate(-88.0,-122.0)"/><ellipse cx="33.5" cy="101.4" rx="3.6" ry="2.6" fill="#fff"/><circle cx="14.9" cy="95.8" r="1.6" fill="#000"/><rect x="0.6" y="39.6" width="131.1" height="57.699999999999996" fill="none" stroke="#5a5ad0" stroke-width="1.1"/><path d="M0,0V174H175" stroke="#000" stroke-width="1.4" fill="none"/><path d="M-3.5,14.5H0M-3.5,50.6H0M-3.5,89.0H0M-3.5,128.5H0M-3.5,145.5H0M-1.6,39.0H0M-1.6,32.3H0M-1.6,27.5H0M-1.6,23.8H0M-1.6,20.7H0M-1.6,18.1H0M-1.6,15.9H0M-1.6,14.0H0M-1.6,77.1H0M-1.6,70.2H0M-1.6,65.2H0M-1.6,61.4H0M-1.6,58.3H0M-1.6,55.6H0M-1.6,53.3H0M-1.6,51.3H0M-1.6,116.6H0M-1.6,109.7H0M-1.6,104.7H0M-1.6,100.9H0M-1.6,97.8H0M-1.6,95.1H0M-1.6,92.8H0M-1.6,90.8H0M-1.6,133.0H0M-1.6,137.5H0M-1.6,141.5H0M-1.6,150.0H0M-1.6,155.0H0M-1.6,160.0H0M-1.6,166.0H0M-3.5,174H0M49.3,174V177.5M86.3,174V177.5M122.3,174V177.5M159.3,174V177.5M17.8,174V177.5M60.1,174V175.8M66.5,174V175.8M71.0,174V175.8M74.5,174V175.8M77.3,174V175.8M79.7,174V175.8M81.8,174V175.8M83.7,174V175.8M97.1,174V175.8M103.5,174V175.8M108.0,174V175.8M111.5,174V175.8M114.3,174V175.8M116.7,174V175.8M118.8,174V175.8M120.7,174V175.8M133.1,174V175.8M139.5,174V175.8M144.0,174V175.8M147.5,174V175.8M150.3,174V175.8M152.7,174V175.8M154.8,174V175.8M156.7,174V175.8M4.0,174V175.8M8.0,174V175.8M12.0,174V175.8M22.0,174V175.8M27.0,174V175.8M32.0,174V175.8M37.0,174V175.8M42.0,174V175.8M46.0,174V175.8" stroke="#000" stroke-width="1" fill="none"/><text x="-9" y="20.1" font-size="16" text-anchor="end">10<tspan font-size="12" dy="-5.2">5</tspan></text><text x="-9" y="56.2" font-size="16" text-anchor="end">10<tspan font-size="12" dy="-5.2">4</tspan></text><text x="-9" y="94.6" font-size="16" text-anchor="end">10<tspan font-size="12" dy="-5.2">3</tspan></text><text x="-9" y="134.1" font-size="16" text-anchor="end">10<tspan font-size="12" dy="-5.2">2</tspan></text><text x="-9.5" y="154.1" font-size="16" text-anchor="end">0</text><text x="49.3" y="196.3" font-size="16" text-anchor="middle">10<tspan font-size="12" dy="-5.2">2</tspan></text><text x="86.3" y="196.3" font-size="16" text-anchor="middle">10<tspan font-size="12" dy="-5.2">3</tspan></text><text x="122.3" y="196.3" font-size="16" text-anchor="middle">10<tspan font-size="12" dy="-5.2">4</tspan></text><text x="159.3" y="196.3" font-size="16" text-anchor="middle">10<tspan font-size="12" dy="-5.2">5</tspan></text><text x="18.8" y="196.3" font-size="16" text-anchor="middle">0</text><text x="15.899999999999999" y="60.8" font-size="18.8" fill="#e020e0">30</text></g>
<g transform="translate(760.7,631)"><path d="M0,0.6H174.6V174" stroke="#a8a8a8" stroke-width="1.2" fill="none"/><path d="M27.8,85.4C28.2,85.0 30.3,85.7 31.5,85.5C32.6,85.3 33.6,84.8 34.5,84.2C35.5,83.7 36.1,82.8 37.3,82.4C38.5,82.1 40.2,82.2 41.6,82.0C43.1,81.9 44.6,82.0 46.0,81.6C47.4,81.2 48.7,79.8 50.0,79.4C51.3,79.0 52.8,79.5 54.0,79.1C55.3,78.7 56.2,77.3 57.5,76.9C58.7,76.5 60.1,76.9 61.5,76.6C62.8,76.3 64.3,75.5 65.7,75.2C67.1,74.9 68.6,74.9 70.1,74.6C71.6,74.3 73.0,73.8 74.4,73.6C75.9,73.3 77.3,73.1 78.8,73.1C80.2,73.0 81.8,73.3 83.2,73.1C84.5,72.9 85.9,71.8 86.8,71.8C87.7,71.9 88.4,72.9 88.7,73.6C89.0,74.3 88.4,75.5 88.5,76.2C88.7,77.0 89.5,76.9 89.7,78.0C89.9,79.0 89.6,81.0 89.5,82.5C89.5,84.0 89.6,85.6 89.3,87.0C88.9,88.5 88.0,90.1 87.4,91.2C86.8,92.3 86.0,92.5 85.6,93.4C85.1,94.2 85.2,95.3 84.9,96.1C84.6,96.9 83.1,97.8 83.6,98.2C84.2,98.6 86.7,98.7 88.1,98.5C89.6,98.3 90.9,97.1 92.3,96.9C93.7,96.7 95.2,97.5 96.8,97.2C98.3,96.9 99.9,95.5 101.6,95.2C103.2,95.0 105.0,95.8 106.7,95.7C108.4,95.7 110.7,94.5 111.7,94.8C112.7,95.1 111.9,97.1 112.6,97.7C113.3,98.2 115.3,97.5 116.0,98.0C116.7,98.4 116.5,99.2 116.7,100.5C116.9,101.7 117.1,103.8 117.1,105.4C117.2,107.1 117.0,108.7 116.9,110.4C116.9,112.0 116.9,113.7 116.7,115.4C116.4,117.0 115.9,118.7 115.4,120.3C114.8,121.9 113.8,123.4 113.3,125.0C112.9,126.7 113.2,128.4 112.9,130.0C112.5,131.7 111.5,133.2 111.2,134.9C110.8,136.6 110.9,138.3 110.8,140.1C110.6,141.8 110.5,143.9 110.1,145.2C109.7,146.6 109.1,147.2 108.5,148.2C108.0,149.2 107.3,150.1 106.9,151.2C106.5,152.2 106.7,154.2 106.1,154.7C105.5,155.1 104.0,153.5 103.2,153.8C102.4,154.1 102.1,156.2 101.3,156.7C100.6,157.2 100.0,156.4 98.7,156.6C97.3,156.9 95.0,157.8 93.2,158.3C91.4,158.8 89.5,159.2 87.7,159.6C85.8,160.0 83.7,160.5 81.8,160.6C79.9,160.6 78.1,160.3 76.2,160.0C74.4,159.8 72.6,159.5 70.7,159.1C68.8,158.6 66.3,157.5 64.9,157.6C63.4,157.6 63.0,158.8 62.0,159.3C60.9,159.7 59.8,159.9 58.8,160.3C57.8,160.8 56.8,161.5 55.9,162.1C54.9,162.7 54.1,163.6 53.0,163.9C52.0,164.3 50.6,164.0 49.5,164.2C48.5,164.4 47.7,165.0 46.5,165.3C45.4,165.6 43.8,166.3 42.6,166.0C41.3,165.8 40.3,164.3 39.1,164.0C37.9,163.6 36.2,164.4 35.1,164.0C34.0,163.6 33.5,162.0 32.5,161.4C31.4,160.8 30.0,160.8 28.9,160.3C27.8,159.8 26.5,159.1 25.6,158.4C24.7,157.7 23.9,157.1 23.4,156.2C23.0,155.2 23.4,153.6 22.9,152.7C22.5,151.8 21.2,151.4 20.6,150.7C19.9,150.0 18.9,149.4 18.8,148.5C18.8,147.6 20.3,146.3 20.3,145.5C20.2,144.7 19.0,144.2 18.4,143.5C17.7,142.7 17.0,141.9 16.3,141.1C15.5,140.4 14.4,139.9 13.8,139.1C13.3,138.2 13.5,136.9 12.9,136.0C12.2,135.1 10.9,134.6 10.0,133.8C9.1,133.0 8.4,131.8 7.3,131.2C6.2,130.6 4.2,130.7 3.5,130.3C2.7,129.8 3.4,128.9 3.1,128.4C2.8,127.8 1.6,127.5 1.5,126.9C1.3,126.3 1.8,125.7 2.1,124.8C2.4,124.0 2.8,122.8 3.3,121.9C3.8,121.0 4.7,120.3 5.3,119.5C6.0,118.7 6.3,117.5 7.2,116.9C8.2,116.4 9.8,116.4 10.9,116.0C12.1,115.6 13.3,115.3 14.2,114.5C15.2,113.7 15.7,112.1 16.4,111.3C17.1,110.5 17.9,110.3 18.5,109.6C19.0,109.0 19.0,107.7 19.7,107.1C20.4,106.6 21.8,106.6 22.6,106.2C23.4,105.8 24.2,105.5 24.4,104.8C24.6,104.0 23.7,102.5 24.0,101.8C24.2,101.1 25.1,101.1 26.0,100.7C27.0,100.3 28.4,99.6 29.6,99.4C30.9,99.1 32.2,99.2 33.4,99.1C34.7,99.0 35.9,98.7 37.2,98.7C38.4,98.7 39.7,98.7 41.0,98.9C42.2,99.2 43.4,100.0 44.6,100.3C45.8,100.5 48.0,100.9 48.3,100.7C48.6,100.5 47.2,99.6 46.5,99.2C45.9,98.8 45.1,98.7 44.5,98.3C43.8,97.9 43.7,97.1 42.8,96.8C41.8,96.5 40.0,96.7 38.8,96.3C37.5,96.0 36.5,95.1 35.2,94.6C33.9,94.1 31.9,93.9 31.1,93.2C30.4,92.5 31.0,91.2 30.6,90.4C30.3,89.5 29.4,89.0 28.9,88.2C28.5,87.3 27.4,85.8 27.8,85.4Z" fill="url(#zcb)" stroke="#000" stroke-width="2.4" stroke-linejoin="round"/><path d="M29.2,86.8C29.6,86.4 31.6,87.1 32.6,86.9C33.7,86.8 34.6,86.2 35.6,85.7C36.5,85.2 37.1,84.3 38.2,84.0C39.3,83.6 41.0,83.7 42.4,83.6C43.7,83.5 45.2,83.6 46.5,83.2C47.9,82.8 49.1,81.5 50.3,81.1C51.6,80.7 53.0,81.2 54.2,80.8C55.4,80.4 56.3,79.1 57.5,78.7C58.6,78.3 60.0,78.7 61.3,78.4C62.6,78.1 64.0,77.4 65.3,77.1C66.7,76.8 68.1,76.8 69.5,76.5C70.9,76.2 72.3,75.8 73.6,75.5C75.0,75.3 76.4,75.1 77.8,75.0C79.2,75.0 80.7,75.2 82.0,75.0C83.3,74.9 84.6,73.8 85.5,73.9C86.4,74.0 87.0,74.9 87.3,75.6C87.6,76.3 87.0,77.4 87.1,78.1C87.3,78.8 88.1,78.7 88.3,79.7C88.4,80.7 88.2,82.6 88.1,84.1C88.0,85.5 88.2,87.0 87.9,88.4C87.5,89.8 86.6,91.4 86.1,92.4C85.5,93.4 84.7,93.6 84.3,94.4C83.9,95.2 83.9,96.3 83.6,97.0C83.3,97.8 81.9,98.7 82.5,99.0C83.0,99.4 85.4,99.5 86.7,99.3C88.1,99.1 89.4,98.0 90.7,97.8C92.1,97.6 93.5,98.3 95.0,98.1C96.5,97.8 98.0,96.5 99.6,96.2C101.2,96.0 102.8,96.8 104.4,96.7C106.1,96.6 108.3,95.5 109.3,95.8C110.2,96.1 109.4,98.0 110.1,98.5C110.8,99.0 112.7,98.4 113.4,98.8C114.0,99.3 113.9,100.0 114.0,101.2C114.2,102.4 114.4,104.4 114.4,106.0C114.5,107.5 114.3,109.1 114.3,110.7C114.2,112.3 114.3,113.9 114.0,115.4C113.8,117.0 113.3,118.6 112.8,120.1C112.2,121.7 111.2,123.1 110.8,124.7C110.4,126.2 110.7,127.9 110.4,129.5C110.0,131.0 109.1,132.5 108.7,134.1C108.4,135.7 108.5,137.4 108.4,139.0C108.2,140.7 108.1,142.7 107.7,144.0C107.4,145.3 106.7,145.8 106.2,146.8C105.7,147.7 105.1,148.6 104.7,149.6C104.3,150.6 104.5,152.5 103.9,153.0C103.3,153.4 101.9,151.8 101.2,152.1C100.4,152.5 100.1,154.5 99.4,154.9C98.6,155.4 98.1,154.6 96.8,154.9C95.5,155.1 93.3,156.0 91.6,156.4C89.8,156.9 88.1,157.3 86.3,157.7C84.5,158.1 82.6,158.5 80.7,158.6C78.9,158.7 77.2,158.3 75.4,158.1C73.6,157.9 71.9,157.6 70.1,157.2C68.3,156.8 65.9,155.7 64.5,155.7C63.2,155.8 62.7,156.9 61.8,157.4C60.8,157.8 59.7,157.9 58.7,158.4C57.7,158.8 56.9,159.5 55.9,160.1C55.0,160.6 54.2,161.5 53.2,161.8C52.2,162.2 50.9,161.9 49.9,162.1C48.9,162.3 48.1,162.8 47.0,163.1C45.9,163.4 44.4,164.0 43.3,163.8C42.1,163.6 41.1,162.2 39.9,161.8C38.7,161.5 37.2,162.3 36.1,161.9C35.1,161.5 34.6,160.0 33.6,159.4C32.6,158.8 31.3,158.8 30.2,158.3C29.1,157.9 27.9,157.2 27.1,156.5C26.2,155.9 25.4,155.3 24.9,154.4C24.5,153.5 25.0,152.0 24.5,151.1C24.0,150.2 22.9,149.8 22.2,149.2C21.6,148.5 20.6,147.9 20.6,147.1C20.5,146.3 22.0,145.0 21.9,144.2C21.9,143.4 20.8,143.0 20.1,142.3C19.5,141.6 18.8,140.8 18.1,140.1C17.4,139.4 16.3,138.9 15.8,138.1C15.3,137.3 15.5,136.0 14.9,135.2C14.3,134.3 13.0,133.8 12.1,133.0C11.2,132.3 10.6,131.1 9.6,130.5C8.5,130.0 6.6,130.1 5.9,129.7C5.2,129.2 5.9,128.4 5.5,127.9C5.2,127.3 4.1,127.0 4.0,126.4C3.8,125.9 4.3,125.3 4.6,124.5C4.9,123.7 5.2,122.5 5.7,121.7C6.3,120.8 7.0,120.2 7.7,119.4C8.3,118.6 8.6,117.5 9.5,116.9C10.4,116.4 11.9,116.5 13.0,116.1C14.1,115.7 15.3,115.4 16.2,114.6C17.1,113.9 17.5,112.3 18.2,111.5C18.9,110.7 19.7,110.6 20.2,110.0C20.8,109.3 20.8,108.1 21.4,107.6C22.1,107.0 23.4,107.0 24.1,106.7C24.9,106.3 25.7,106.0 25.9,105.3C26.1,104.6 25.2,103.1 25.5,102.5C25.7,101.8 26.5,101.9 27.5,101.5C28.4,101.1 29.7,100.4 30.9,100.2C32.1,99.9 33.3,100.0 34.5,99.9C35.7,99.8 36.9,99.5 38.1,99.5C39.3,99.5 40.5,99.5 41.7,99.7C42.9,100.0 44.0,100.7 45.2,101.0C46.3,101.3 48.4,101.6 48.7,101.4C49.0,101.3 47.6,100.4 47.0,100.0C46.4,99.7 45.6,99.5 45.0,99.1C44.4,98.7 44.3,98.0 43.4,97.7C42.5,97.4 40.8,97.6 39.6,97.3C38.4,96.9 37.4,96.1 36.2,95.6C35.0,95.1 33.1,95.0 32.3,94.3C31.6,93.6 32.2,92.4 31.9,91.6C31.5,90.8 30.7,90.3 30.2,89.5C29.8,88.7 28.7,87.2 29.2,86.8Z" fill="none" stroke="#c8c8c8" stroke-width="0.8"/><defs><path id="z31" d="M29.9,87.7C30.7,86.9 33.8,87.0 35.7,86.6C37.6,86.1 39.5,85.6 41.3,85.0C43.2,84.3 44.8,83.5 46.8,82.8C48.7,82.2 50.9,81.5 53.0,81.0C55.1,80.6 57.4,80.9 59.4,79.9C61.4,79.0 63.1,76.0 65.0,75.3C66.9,74.5 68.8,75.2 70.7,75.5C72.6,75.8 74.7,77.1 76.5,77.0C78.3,76.8 80.7,74.5 81.7,74.6C82.7,74.7 81.6,77.1 82.5,77.5C83.3,77.9 85.9,76.5 86.8,76.9C87.6,77.4 87.4,78.9 87.5,80.0C87.5,81.1 87.7,82.5 87.2,83.5C86.8,84.5 85.4,85.2 84.8,86.1C84.2,87.1 84.1,88.0 83.6,89.2C83.1,90.3 82.6,92.2 81.7,93.0C80.8,93.8 79.4,93.7 78.1,94.1C76.9,94.5 76.1,95.6 74.4,95.4C72.7,95.2 70.3,93.3 68.2,93.1C66.1,92.8 64.1,93.3 62.0,93.7C59.9,94.2 57.8,95.8 55.7,95.6C53.7,95.5 51.8,93.0 49.7,93.0C47.7,92.9 45.3,95.2 43.2,95.2C41.2,95.2 38.9,93.3 37.4,92.8C35.8,92.3 34.8,92.7 33.7,92.4C32.7,92.1 31.6,91.8 30.9,91.0C30.3,90.2 29.1,88.4 29.9,87.7Z" stroke-width="0.7" vector-effect="non-scaling-stroke"/></defs><use href="#z31" fill="url(#zc)" stroke="#c4c4c4" transform="translate(66.0,86.0) scale(0.95) translate(-66.0,-86.0)"/><use href="#z31" fill="url(#zc)" stroke="#c4c4c4" transform="translate(66.0,86.0) scale(0.65) translate(-66.0,-86.0)"/><use href="#z31" fill="url(#zc)" stroke="#c4c4c4" transform="translate(66.0,86.0) scale(0.35) translate(-66.0,-86.0)"/><defs><path id="z32" d="M7.9,123.3C8.2,122.4 11.0,121.4 12.1,120.1C13.3,118.7 13.8,116.8 14.8,115.3C15.9,113.8 17.2,112.3 18.5,111.1C19.7,109.9 20.8,108.5 22.3,108.3C23.8,108.0 25.9,109.9 27.5,109.8C29.0,109.8 29.8,107.9 31.6,107.8C33.4,107.8 36.0,109.5 38.3,109.7C40.6,109.8 43.1,108.5 45.3,108.6C47.5,108.7 49.9,109.6 51.7,110.2C53.4,110.8 55.0,111.1 55.9,112.2C56.9,113.3 56.5,115.8 57.4,116.9C58.2,118.1 60.3,117.6 60.9,119.0C61.5,120.4 61.3,123.3 61.1,125.3C61.0,127.4 60.3,129.5 60.0,131.5C59.6,133.5 59.4,135.6 59.1,137.5C58.9,139.5 59.0,141.6 58.2,143.3C57.4,144.9 55.4,146.1 54.4,147.5C53.3,149.0 53.0,150.7 51.9,152.0C50.7,153.3 49.2,154.9 47.5,155.4C45.8,155.9 43.4,154.6 41.7,155.0C40.0,155.4 38.7,157.7 37.4,157.7C36.0,157.7 35.0,155.3 33.5,154.9C31.9,154.4 29.9,155.4 28.3,155.1C26.6,154.8 24.2,154.1 23.4,153.0C22.6,151.9 23.8,149.7 23.5,148.3C23.2,146.9 22.5,145.7 21.7,144.5C20.8,143.4 19.8,142.3 18.5,141.5C17.3,140.7 15.4,140.5 14.2,139.6C13.1,138.7 12.2,137.4 11.5,136.1C10.7,134.9 10.2,133.2 9.6,132.0C9.0,130.9 7.7,130.3 7.8,129.2C7.8,128.1 10.0,126.5 10.0,125.5C10.0,124.5 7.5,124.2 7.9,123.3Z" stroke-width="0.7" vector-effect="non-scaling-stroke"/></defs><use href="#z32" fill="url(#zc)" stroke="#c4c4c4" transform="translate(42.0,126.0) scale(0.95) translate(-42.0,-126.0)"/><use href="#z32" fill="url(#zc)" stroke="#c4c4c4" transform="translate(42.0,126.0) scale(0.75) translate(-42.0,-126.0)"/><use href="#z32" fill="url(#zc)" stroke="#c4c4c4" transform="translate(42.0,126.0) scale(0.55) translate(-42.0,-126.0)"/><use href="#z32" fill="url(#zc)" stroke="#c4c4c4" transform="translate(42.0,126.0) scale(0.35) translate(-42.0,-126.0)"/><defs><path id="z33" d="M64.8,118.8C65.3,117.4 66.9,115.3 68.4,114.2C70.0,113.1 72.6,113.3 74.2,112.1C75.8,110.9 76.1,108.0 77.8,107.0C79.5,106.0 82.3,106.8 84.3,106.2C86.4,105.6 88.2,104.4 90.3,103.6C92.4,102.8 95.1,101.4 96.8,101.3C98.6,101.2 99.6,102.9 101.1,103.0C102.5,103.0 104.2,101.4 105.7,101.6C107.2,101.8 108.9,103.2 109.9,104.2C111.0,105.2 111.8,106.4 112.3,107.6C112.7,108.8 112.9,110.0 112.8,111.3C112.7,112.6 112.5,114.0 111.8,115.4C111.0,116.8 108.8,118.0 108.4,119.8C108.0,121.5 109.7,124.0 109.4,125.8C109.1,127.6 107.6,129.3 106.5,130.6C105.3,131.9 103.8,132.6 102.5,133.6C101.1,134.5 99.3,135.1 98.3,136.4C97.3,137.7 97.7,140.1 96.7,141.2C95.6,142.3 93.6,143.0 91.9,143.1C90.2,143.2 88.0,141.3 86.3,141.8C84.6,142.3 82.9,146.0 81.6,146.0C80.3,146.1 79.9,142.8 78.7,142.4C77.4,141.9 75.6,143.6 74.1,143.5C72.7,143.4 71.1,142.6 70.0,141.8C68.9,140.9 68.0,139.7 67.3,138.4C66.7,137.2 66.5,135.7 66.2,134.3C66.0,132.9 66.2,131.5 65.8,130.2C65.4,128.9 63.8,127.7 63.7,126.5C63.6,125.3 65.3,124.1 65.5,122.8C65.7,121.5 64.4,120.2 64.8,118.8Z" stroke-width="0.7" vector-effect="non-scaling-stroke"/></defs><use href="#z33" fill="url(#zc)" stroke="#c4c4c4" transform="translate(92.0,118.0) scale(0.95) translate(-92.0,-118.0)"/><use href="#z33" fill="url(#zc)" stroke="#c4c4c4" transform="translate(92.0,118.0) scale(0.7) translate(-92.0,-118.0)"/><use href="#z33" fill="url(#zc)" stroke="#c4c4c4" transform="translate(92.0,118.0) scale(0.45) translate(-92.0,-118.0)"/><defs><path id="z34" d="M61.8,147.4C62.5,146.9 65.5,149.2 66.9,148.6C68.3,148.0 68.8,144.5 70.2,143.8C71.5,143.1 73.2,144.6 74.9,144.4C76.7,144.3 79.0,142.9 80.9,142.9C82.8,142.8 84.7,143.5 86.5,144.2C88.3,144.9 90.0,146.7 91.7,147.0C93.3,147.4 95.0,145.8 96.4,146.1C97.8,146.5 98.5,148.6 99.8,149.3C101.1,149.9 103.5,149.6 104.1,150.0C104.7,150.5 103.8,151.4 103.5,152.1C103.3,152.7 102.9,153.2 102.7,154.0C102.5,154.8 103.2,156.4 102.1,156.7C101.0,156.9 97.9,155.0 96.1,155.6C94.2,156.1 92.8,159.1 91.0,159.8C89.1,160.4 87.0,159.4 85.0,159.6C82.9,159.8 80.7,160.8 78.6,160.8C76.4,160.7 74.4,159.8 72.3,159.4C70.2,158.9 66.8,159.0 65.8,158.1C64.8,157.2 66.8,155.1 66.3,154.0C65.8,152.9 63.6,152.6 62.8,151.5C62.1,150.4 61.1,147.9 61.8,147.4Z" stroke-width="0.7" vector-effect="non-scaling-stroke"/></defs><use href="#z34" fill="url(#zc)" stroke="#c4c4c4" transform="translate(84.0,152.0) scale(0.9) translate(-84.0,-152.0)"/><use href="#z34" fill="url(#zc)" stroke="#c4c4c4" transform="translate(84.0,152.0) scale(0.5) translate(-84.0,-152.0)"/><circle cx="2" cy="102" r="1.3" fill="#000"/><rect x="0.6" y="39.6" width="131.4" height="57.9" fill="none" stroke="#5a5ad0" stroke-width="1.1"/><path d="M0,0V174H175" stroke="#000" stroke-width="1.4" fill="none"/><path d="M-3.5,14.5H0M-3.5,50.6H0M-3.5,89.0H0M-3.5,128.5H0M-3.5,145.5H0M-1.6,39.0H0M-1.6,32.3H0M-1.6,27.5H0M-1.6,23.8H0M-1.6,20.7H0M-1.6,18.1H0M-1.6,15.9H0M-1.6,14.0H0M-1.6,77.1H0M-1.6,70.2H0M-1.6,65.2H0M-1.6,61.4H0M-1.6,58.3H0M-1.6,55.6H0M-1.6,53.3H0M-1.6,51.3H0M-1.6,116.6H0M-1.6,109.7H0M-1.6,104.7H0M-1.6,100.9H0M-1.6,97.8H0M-1.6,95.1H0M-1.6,92.8H0M-1.6,90.8H0M-1.6,133.0H0M-1.6,137.5H0M-1.6,141.5H0M-1.6,150.0H0M-1.6,155.0H0M-1.6,160.0H0M-1.6,166.0H0M-3.5,174H0M49.3,174V177.5M86.3,174V177.5M122.3,174V177.5M159.3,174V177.5M17.8,174V177.5M60.1,174V175.8M66.5,174V175.8M71.0,174V175.8M74.5,174V175.8M77.3,174V175.8M79.7,174V175.8M81.8,174V175.8M83.7,174V175.8M97.1,174V175.8M103.5,174V175.8M108.0,174V175.8M111.5,174V175.8M114.3,174V175.8M116.7,174V175.8M118.8,174V175.8M120.7,174V175.8M133.1,174V175.8M139.5,174V175.8M144.0,174V175.8M147.5,174V175.8M150.3,174V175.8M152.7,174V175.8M154.8,174V175.8M156.7,174V175.8M4.0,174V175.8M8.0,174V175.8M12.0,174V175.8M22.0,174V175.8M27.0,174V175.8M32.0,174V175.8M37.0,174V175.8M42.0,174V175.8M46.0,174V175.8" stroke="#000" stroke-width="1" fill="none"/><text x="-9" y="20.1" font-size="16" text-anchor="end">10<tspan font-size="12" dy="-5.2">5</tspan></text><text x="-9" y="56.2" font-size="16" text-anchor="end">10<tspan font-size="12" dy="-5.2">4</tspan></text><text x="-9" y="94.6" font-size="16" text-anchor="end">10<tspan font-size="12" dy="-5.2">3</tspan></text><text x="-9" y="134.1" font-size="16" text-anchor="end">10<tspan font-size="12" dy="-5.2">2</tspan></text><text x="-9.5" y="154.1" font-size="16" text-anchor="end">0</text><text x="49.3" y="196.3" font-size="16" text-anchor="middle">10<tspan font-size="12" dy="-5.2">2</tspan></text><text x="86.3" y="196.3" font-size="16" text-anchor="middle">10<tspan font-size="12" dy="-5.2">3</tspan></text><text x="122.3" y="196.3" font-size="16" text-anchor="middle">10<tspan font-size="12" dy="-5.2">4</tspan></text><text x="159.3" y="196.3" font-size="16" text-anchor="middle">10<tspan font-size="12" dy="-5.2">5</tspan></text><text x="18.8" y="196.3" font-size="16" text-anchor="middle">0</text><text x="17.2" y="60.8" font-size="18.8">12.4</text></g>
<path d="M83.8,838.2V788.2M81.8,838.2H136" stroke="#000" stroke-width="4" fill="none"/><path d="M77.3,789.2L83.8,776.2L90.3,789.2Z" fill="#000"/><path d="M134.8,831.7L147,838.2L134.8,844.7Z" fill="#000"/><text transform="translate(71.2,831.7) rotate(-90)" font-size="18.3">B220</text><text x="90.4" y="863.7" font-size="18.6">PD-1</text>
<text x="0.3" y="915.2" font-size="27.5" font-weight="bold">d</text><rect x="151" y="1060.6" width="41.599999999999994" height="40.200000000000045" fill="#ff0000" stroke="#000" stroke-width="1.5"/><rect x="151" y="1025.3" width="41.599999999999994" height="35.299999999999955" fill="#0000ff" stroke="#000" stroke-width="1.5"/><rect x="151" y="1023" width="41.599999999999994" height="2.2999999999999545" fill="url(#hatch)" stroke="#000" stroke-width="1.5"/><rect x="213.1" y="1079" width="41.400000000000006" height="21.799999999999955" fill="#ff0000" stroke="#000" stroke-width="1.5"/><rect x="213.1" y="1057.8" width="41.400000000000006" height="21.200000000000045" fill="#0000ff" stroke="#000" stroke-width="1.5"/><rect x="213.1" y="1057.3" width="41.400000000000006" height="0.5" fill="url(#hatch)" stroke="#000" stroke-width="1.5"/><rect x="275" y="1050.4" width="41.69999999999999" height="50.399999999999864" fill="#ff0000" stroke="#000" stroke-width="1.5"/><rect x="275" y="1011.3" width="41.69999999999999" height="39.100000000000136" fill="#0000ff" stroke="#000" stroke-width="1.5"/><rect x="275" y="976.7" width="41.69999999999999" height="34.59999999999991" fill="url(#hatch)" stroke="#000" stroke-width="1.5"/><rect x="337" y="1070" width="41.60000000000002" height="30.799999999999955" fill="#ff0000" stroke="#000" stroke-width="1.5"/><rect x="337" y="1040.5" width="41.60000000000002" height="29.5" fill="#0000ff" stroke="#000" stroke-width="1.5"/><rect x="337" y="1035.9" width="41.60000000000002" height="4.599999999999909" fill="url(#hatch)" stroke="#000" stroke-width="1.5"/><path d="M171.8,1023V1012M161.0,1012H182.60000000000002M171.8,1060.6V1046.8M161.0,1046.8H182.60000000000002M233.8,1057.3V1055.7M223.3,1055.7H244.3M233.8,1079V1076.9M223.3,1076.9H244.3M295.9,976.7V971.8M285.5,971.8H306.29999999999995M295.9,1011.3V1005.6M285.5,1005.6H306.29999999999995M295.9,1050.4V1045.2M285.5,1045.2H306.29999999999995M357.8,1035.9V1033.7M347.3,1033.7H368.3M357.8,1070V1063.3M347.3,1063.3H368.3" stroke="#000" stroke-width="1.5" fill="none"/><path d="M141,947.5999999999999V1100.8H383" stroke="#000" stroke-width="1.5" fill="none"/><text x="129.5" y="1107.1" font-size="18" text-anchor="end">0</text><text x="129.5" y="1068.8" font-size="18" text-anchor="end">20</text><text x="129.5" y="1030.5" font-size="18" text-anchor="end">40</text><text x="129.5" y="992.2" font-size="18" text-anchor="end">60</text><text x="129.5" y="953.9" font-size="18" text-anchor="end">80</text><path d="M134.7,1100.8H141M134.7,1062.5H141M134.7,1024.2H141M134.7,985.9H141M134.7,947.6H141M171.8,1100.8V1106.3M233.8,1100.8V1106.3M295.9,1100.8V1106.3M357.8,1100.8V1106.3" stroke="#000" stroke-width="1.5" fill="none"/><path d="M166.8,944.3H297.3" stroke="#000" stroke-width="3" fill="none"/><text x="229.6" y="946.8" font-size="18.5" text-anchor="middle">***</text><path d="M229,961.2H291.3" stroke="#000" stroke-width="3" fill="none"/><text x="262.8" y="963.1" font-size="18.5" text-anchor="middle">***</text><path d="M297.3,961.2H356.4" stroke="#000" stroke-width="3" fill="none"/><text x="326.4" y="963.1" font-size="18.5" text-anchor="middle">***</text><text x="171.8" y="1126.6" font-size="18" text-anchor="middle">WT</text><text x="233.8" y="1126.6" font-size="18" text-anchor="middle" font-style="italic">lpr/+</text><text x="295.9" y="1126.6" font-size="18" text-anchor="middle" font-style="italic">lpr/lpr</text><text x="334.8" y="1126.6" font-size="18.6">FasC194V<tspan font-size="12.5" dy="-8.4" font-style="italic" letter-spacing="0.7">lpr/lpr</tspan></text><text transform="translate(62.2,1023.5) rotate(-90)" font-size="18" text-anchor="middle">Lymph node</text><text transform="translate(91.3,1023.5) rotate(-90)" font-size="18" text-anchor="middle">Number of cells (10<tspan font-size="12" dy="-7">6</tspan><tspan dy="7">)</tspan></text><rect x="382.2" y="953.5" width="20.9" height="12.4" fill="url(#hatch)" stroke="#000" stroke-width="1.5"/><rect x="382.2" y="974.1" width="20.9" height="12.4" fill="#0000ff" stroke="#000" stroke-width="1.5"/><rect x="382.2" y="994.4" width="20.9" height="12.4" fill="#ff0000" stroke="#000" stroke-width="1.5"/><text x="409.5" y="967.4" font-size="18">DNT</text><text x="409.5" y="987.7" font-size="18">CD8</text><text x="409.5" y="1007.6" font-size="18">CD4</text><rect x="151" y="1296" width="40.80000000000001" height="47" fill="#ff0000" stroke="#000" stroke-width="1.5"/><rect x="151" y="1257.3" width="40.80000000000001" height="38.700000000000045" fill="#0000ff" stroke="#000" stroke-width="1.5"/><rect x="151" y="1248.2" width="40.80000000000001" height="9.099999999999909" fill="url(#hatch)" stroke="#000" stroke-width="1.5"/><rect x="211.8" y="1296" width="40.89999999999998" height="47" fill="#ff0000" stroke="#000" stroke-width="1.5"/><rect x="211.8" y="1264.3" width="40.89999999999998" height="31.700000000000045" fill="#0000ff" stroke="#000" stroke-width="1.5"/><rect x="211.8" y="1260.4" width="40.89999999999998" height="3.8999999999998636" fill="url(#hatch)" stroke="#000" stroke-width="1.5"/><rect x="272.8" y="1281.5" width="41.099999999999966" height="61.5" fill="#ff0000" stroke="#000" stroke-width="1.5"/><rect x="272.8" y="1249.5" width="41.099999999999966" height="32.0" fill="#0000ff" stroke="#000" stroke-width="1.5"/><rect x="272.8" y="1205.7" width="41.099999999999966" height="43.799999999999955" fill="url(#hatch)" stroke="#000" stroke-width="1.5"/><rect x="333.8" y="1293" width="40.80000000000001" height="50" fill="#ff0000" stroke="#000" stroke-width="1.5"/><rect x="333.8" y="1264.3" width="40.80000000000001" height="28.700000000000045" fill="#0000ff" stroke="#000" stroke-width="1.5"/><rect x="333.8" y="1251" width="40.80000000000001" height="13.299999999999955" fill="url(#hatch)" stroke="#000" stroke-width="1.5"/><path d="M171.4,1248.2V1245M161.4,1245H181.4M171.4,1296V1279.1M161.4,1279.1H181.4M232.2,1260.4V1259M222.2,1259H242.2M232.2,1296V1293M222.2,1293H242.2M293.3,1205.7V1192.7M283.0,1192.7H303.6M293.3,1249.5V1241.5M283.0,1241.5H303.6M293.3,1281.5V1272.3M283.0,1272.3H303.6M354.2,1293V1243.6M343.9,1243.6H364.5M354.2,1293V1273.2M343.9,1273.2H364.5" stroke="#000" stroke-width="1.5" fill="none"/><path d="M141,1179.8V1343H385" stroke="#000" stroke-width="1.5" fill="none"/><text x="129.5" y="1349.3" font-size="18" text-anchor="end">0</text><text x="129.5" y="1322.1" font-size="18" text-anchor="end">10</text><text x="129.5" y="1294.9" font-size="18" text-anchor="end">20</text><text x="129.5" y="1267.7" font-size="18" text-anchor="end">30</text><text x="129.5" y="1240.5" font-size="18" text-anchor="end">40</text><text x="129.5" y="1213.3" font-size="18" text-anchor="end">50</text><text x="129.5" y="1186.1" font-size="18" text-anchor="end">60</text><path d="M134.7,1343.0H141M134.7,1315.8H141M134.7,1288.6H141M134.7,1261.4H141M134.7,1234.2H141M134.7,1207.0H141M134.7,1179.8H141M171.4,1343V1348.5M232.2,1343V1348.5M293.4,1343V1348.5M354.2,1343V1348.5" stroke="#000" stroke-width="1.5" fill="none"/><path d="M163.7,1160.6H294.1" stroke="#000" stroke-width="3" fill="none"/><text x="227.2" y="1162.7" font-size="18.5" text-anchor="middle">***</text><path d="M234,1177.6H291.7" stroke="#000" stroke-width="3" fill="none"/><text x="262.1" y="1180" font-size="18.5" text-anchor="middle">***</text><path d="M300,1177.6H359.2" stroke="#000" stroke-width="3" fill="none"/><text x="331.1" y="1180" font-size="18.5" text-anchor="middle">***</text><text x="171.4" y="1370.8" font-size="18" text-anchor="middle">WT</text><text x="232.2" y="1370.8" font-size="18" text-anchor="middle" font-style="italic">lpr/+</text><text x="293.4" y="1370.8" font-size="18" text-anchor="middle" font-style="italic">lpr/lpr</text><text x="334.8" y="1370.8" font-size="18.6">FasC194V<tspan font-size="12.5" dy="-8.4" font-style="italic" letter-spacing="0.7">lpr/lpr</tspan></text><text transform="translate(62.2,1259) rotate(-90)" font-size="18" text-anchor="middle">Spleen</text><text transform="translate(91.3,1259) rotate(-90)" font-size="18" text-anchor="middle">Number of cells (10<tspan font-size="12" dy="-7">6</tspan><tspan dy="7">)</tspan></text>
<text x="486.3" y="914.9" font-size="28" font-weight="bold">e</text><rect x="577.2" y="920.3" width="261.4" height="242.4000000000001" fill="url(#photobg)"/><path d="M588,925.5L583.3,1135.7H664.1L664.8,925.5Z" fill="#d4d4d4" stroke="#444" stroke-width="1.2"/><path d="M587.3,954.7H664.5" stroke="#444" stroke-width="1.1"/><path d="M586.7,984.4H664.5" stroke="#444" stroke-width="1.1"/><path d="M586.0,1014.3H664.5" stroke="#444" stroke-width="1.1"/><path d="M585.3,1043.9H664.5" stroke="#444" stroke-width="1.1"/><path d="M584.7,1075H664.5" stroke="#444" stroke-width="1.1"/><path d="M584.0,1105.5H664.5" stroke="#444" stroke-width="1.1"/><text x="623" y="946" font-size="11.5" text-anchor="middle" fill="#111">Wild-type</text><text x="623" y="1004.5" font-size="11.5" text-anchor="middle" font-style="italic" fill="#111">lpr/+</text><text x="623" y="1063" font-size="11.5" text-anchor="middle" font-style="italic" fill="#111">lpr/lpr</text><text x="586.3" y="1122.3" font-size="11.5" fill="#111">FasC194V<tspan font-size="8" dy="-5" font-style="italic">lpr/lpr</tspan></text><path d="M676.0,940.5C675.8,938.8 677.0,936.7 679.0,935.5C681.0,934.3 684.8,933.7 688.0,933.5C691.2,933.3 695.0,933.9 698.0,934.5C701.0,935.1 703.3,936.7 706.0,937.0C708.7,937.3 711.5,936.4 714.0,936.5C716.5,936.6 719.2,936.8 721.0,937.5C722.8,938.2 724.5,939.8 724.5,941.0C724.5,942.2 723.2,943.8 721.0,944.5C718.8,945.2 714.5,945.2 711.0,945.5C707.5,945.8 703.7,945.8 700.0,946.0C696.3,946.2 692.3,947.1 689.0,947.0C685.7,946.9 682.2,946.6 680.0,945.5C677.8,944.4 676.2,942.2 676.0,940.5Z" fill="#5c0d19" stroke="#3a060c" stroke-width="0.8"/><path d="M675.0,1000.0C675.3,998.4 677.5,995.8 681.0,994.5C684.5,993.2 691.2,992.4 696.0,992.0C700.8,991.6 706.0,991.9 710.0,992.3C714.0,992.7 717.5,993.4 720.0,994.4C722.5,995.4 725.3,997.1 725.3,998.5C725.3,999.9 723.2,1001.8 720.0,1002.8C716.8,1003.8 711.0,1004.0 706.0,1004.4C701.0,1004.8 694.5,1005.5 690.0,1005.4C685.5,1005.3 681.5,1004.9 679.0,1004.0C676.5,1003.1 674.7,1001.6 675.0,1000.0Z" fill="#5c0d19" stroke="#3a060c" stroke-width="0.8"/><path d="M674.2,1059.6C674.5,1057.4 674.6,1053.8 678.0,1052.2C681.4,1050.6 688.6,1050.3 694.3,1050.1C700.0,1049.8 706.6,1050.8 712.0,1050.7C717.4,1050.6 723.1,1048.7 726.8,1049.2C730.5,1049.7 732.8,1052.5 734.2,1053.7C735.6,1054.9 735.8,1055.4 735.1,1056.6C734.4,1057.8 733.6,1059.9 729.8,1061.1C725.9,1062.3 717.9,1062.8 712.0,1064.0C706.1,1065.2 699.2,1067.5 694.3,1068.5C689.4,1069.5 685.5,1070.5 682.5,1070.0C679.5,1069.5 677.4,1067.2 676.0,1065.5C674.6,1063.8 673.9,1061.8 674.2,1059.6Z" fill="#5c0d19" stroke="#3a060c" stroke-width="0.8"/><path d="M680.1,1109.9C680.7,1108.4 682.0,1107.1 685.4,1106.4C688.8,1105.7 695.3,1105.3 700.2,1105.5C705.1,1105.7 711.3,1107.0 715.0,1107.5C718.7,1108.0 720.8,1107.8 722.4,1108.4C724.0,1109.1 725.0,1109.9 724.5,1111.4C724.0,1112.9 723.0,1116.0 719.5,1117.3C716.0,1118.6 708.4,1119.2 703.2,1119.4C698.0,1119.7 692.0,1119.5 688.4,1118.8C684.8,1118.1 683.3,1116.7 681.9,1115.2C680.5,1113.7 679.5,1111.4 680.1,1109.9Z" fill="#5c0d19" stroke="#3a060c" stroke-width="0.8"/><path d="M690,1055l3,1M700,1058l2,-1M712,1054l3,0M720,1057l2,1M705,1062l2,0M690,1062l2,-1M695,940l3,0M705,999l3,-1" stroke="#c08088" stroke-width="1" stroke-linecap="round" opacity="0.8"/><ellipse cx="750" cy="938.7" rx="5" ry="4.5" fill="#c79a52"/><ellipse cx="767" cy="939.5" rx="4.5" ry="3.8" fill="#c59050"/><ellipse cx="780.7" cy="940" rx="3" ry="3" fill="#b88a48"/><ellipse cx="795.5" cy="939.5" rx="3.5" ry="2.5" fill="#d4bc98"/><ellipse cx="748.4" cy="992.3" rx="4.5" ry="4.5" fill="#b87a40"/><ellipse cx="765" cy="993" rx="4" ry="4" fill="#c49050"/><ellipse cx="780.7" cy="992" rx="3.5" ry="4" fill="#e0d0b8"/><ellipse cx="797.6" cy="991.6" rx="3.5" ry="3.5" fill="#a87038"/><ellipse cx="755" cy="1056.6" rx="9" ry="8.5" fill="#e0a880"/><ellipse cx="782.5" cy="1057" rx="12" ry="12" fill="#e6ae8a"/><ellipse cx="808.2" cy="1055" rx="7" ry="6.5" fill="#d8885a"/><ellipse cx="826.9" cy="1054.5" rx="7" ry="7.5" fill="#e09a78"/><ellipse cx="753.5" cy="1111.4" rx="4" ry="4.5" fill="#d4a060"/><ellipse cx="772.1" cy="1109.6" rx="4.5" ry="5" fill="#d09060"/><ellipse cx="792" cy="1109.6" rx="4" ry="2.8" fill="#c8a060"/><ellipse cx="806.8" cy="1109" rx="3" ry="3" fill="#d0a868"/><path d="M644,1128.5H838.6V1162.7H644Z" fill="#ececea" fill-opacity="0.8"/><path d="M644,1128.5H838.6" stroke="#888" stroke-width="1"/><path d="M662.6,1130V1144M665.3,1130V1137M668.0,1130V1137M670.7,1130V1137M673.4,1130V1137M676.1,1130V1140M678.7,1130V1137M681.4,1130V1137M684.1,1130V1137M686.8,1130V1137M689.5,1130V1144M692.2,1130V1137M694.9,1130V1137M697.6,1130V1137M700.3,1130V1137M703.0,1130V1140M705.6,1130V1137M708.3,1130V1137M711.0,1130V1137M713.7,1130V1137M716.4,1130V1144M719.1,1130V1137M721.8,1130V1137M724.5,1130V1137M727.2,1130V1137M729.9,1130V1140M732.5,1130V1137M735.2,1130V1137M737.9,1130V1137M740.6,1130V1137M743.3,1130V1144M746.0,1130V1137M748.7,1130V1137M751.4,1130V1137M754.1,1130V1137M756.8,1130V1140M759.4,1130V1137M762.1,1130V1137M764.8,1130V1137M767.5,1130V1137M770.2,1130V1144M772.9,1130V1137M775.6,1130V1137M778.3,1130V1137M781.0,1130V1137M783.6,1130V1140M786.3,1130V1137M789.0,1130V1137M791.7,1130V1137M794.4,1130V1137M797.1,1130V1144M799.8,1130V1137M802.5,1130V1137M805.2,1130V1137M807.9,1130V1137M810.5,1130V1140M813.2,1130V1137M815.9,1130V1137M818.6,1130V1137M821.3,1130V1137M824.0,1130V1144M826.7,1130V1137M829.4,1130V1137M832.1,1130V1137M834.8,1130V1137M837.5,1130V1140" stroke="#555" stroke-width="0.7"/><text x="662.6" y="1161" font-size="11" text-anchor="middle" fill="#333">0</text><text x="689.5" y="1161" font-size="11" text-anchor="middle" fill="#333">1</text><text x="716.4" y="1161" font-size="11" text-anchor="middle" fill="#333">2</text><text x="743.3" y="1161" font-size="11" text-anchor="middle" fill="#333">3</text><text x="770.2" y="1161" font-size="11" text-anchor="middle" fill="#333">4</text><text x="797.1" y="1161" font-size="11" text-anchor="middle" fill="#333">5</text><text x="824.0" y="1161" font-size="11" text-anchor="middle" fill="#333">6</text><text x="697" y="1161" font-size="8" text-anchor="middle" fill="#333">cm</text><path d="M613.3,1230.1V1382.1H881" stroke="#000" stroke-width="1.5" fill="none"/><text x="600.5" y="1388.4" font-size="18" text-anchor="end">0</text><text x="600.5" y="1350.4" font-size="18" text-anchor="end">200</text><text x="600.5" y="1312.4" font-size="18" text-anchor="end">400</text><text x="600.5" y="1274.4" font-size="18" text-anchor="end">600</text><text x="600.5" y="1236.4" font-size="18" text-anchor="end">800</text><path d="M607,1382.1H613.3M607,1344.1H613.3M607,1306.1H613.3M607,1268.1H613.3M607,1230.1H613.3M646.5,1382.1V1387.6M713.7,1382.1V1387.6M780.4,1382.1V1387.6M847.9,1382.1V1387.6" stroke="#000" stroke-width="1.5" fill="none"/><path d="M643.7,1201.5H846.5" stroke="#000" stroke-width="3"/><path d="M643.7,1219.3H772" stroke="#000" stroke-width="3"/><path d="M705.3,1241.1H772" stroke="#000" stroke-width="3"/><path d="M779,1241.1H845.9" stroke="#000" stroke-width="3"/><text x="749" y="1193.9" font-size="18" text-anchor="middle">NS</text><text x="709.5" y="1222.5" font-size="18.5" text-anchor="middle">***</text><text x="734.8" y="1241.6" font-size="18.5" text-anchor="middle">***</text><text x="813.6" y="1241.6" font-size="18.5" text-anchor="middle">***</text><circle cx="628.4" cy="1357.4" r="3.7"/><circle cx="641.2" cy="1349.1" r="3.7"/><circle cx="637.2" cy="1359.5" r="3.7"/><circle cx="646" cy="1367.2" r="3.7"/><circle cx="651.9" cy="1356.5" r="3.7"/><circle cx="655.1" cy="1361.9" r="3.7"/><circle cx="664" cy="1358.8" r="3.7"/><rect x="691.4" y="1351.6" width="6.4" height="6.4"/><rect x="699.3" y="1354.7" width="6.4" height="6.4"/><rect x="707.1999999999999" y="1356.6" width="6.4" height="6.4"/><rect x="713.9" y="1355.8" width="6.4" height="6.4"/><rect x="721.1999999999999" y="1352.3999999999999" width="6.4" height="6.4"/><rect x="729.0999999999999" y="1350.2" width="6.4" height="6.4"/><path d="M771.8000000000001,1261.8000000000002H779.4L775.6,1255.3000000000002Z"/><path d="M782.5,1253.0H790.0999999999999L786.3,1246.5Z"/><path d="M771.8000000000001,1286.8000000000002H779.4L775.6,1280.3000000000002Z"/><path d="M782.5,1290.4H790.0999999999999L786.3,1283.9Z"/><path d="M777.4000000000001,1307.3000000000002H785.0L781.2,1300.8000000000002Z"/><path d="M777.4000000000001,1317.7H785.0L781.2,1311.2Z"/><path d="M771.8000000000001,1333.8000000000002H779.4L775.6,1327.3000000000002Z"/><path d="M782.5,1329.5H790.0999999999999L786.3,1323.0Z"/><path d="M829.5,1350.1H837.0999999999999L833.3,1356.6Z"/><path d="M834.2,1353.6H841.8L838,1360.1Z"/><path d="M838.7,1355.1H846.3L842.5,1361.6Z"/><path d="M843.2,1354.6H850.8L847,1361.1Z"/><path d="M846.7,1350.6H854.3L850.5,1357.1Z"/><path d="M851.2,1353.6H858.8L855,1360.1Z"/><path d="M854.7,1349.6H862.3L858.5,1356.1Z"/><path d="M859.0,1351.1H866.5999999999999L862.8,1357.6Z"/><path d="M624.4,1358.4H668.6M638,1355H655M638,1362H655M646.5,1355V1362M691,1356.5H736M758.7,1293.7H802.9M769.4,1283.3H792.5M769.4,1304.4H792.5M780.4,1283.3V1304.4M826.2,1354.8H870.7" stroke="#000" stroke-width="1.5" fill="none"/><text x="648.2" y="1407" font-size="18" text-anchor="middle">WT</text><text x="715.8" y="1407" font-size="18" text-anchor="middle" font-style="italic">lpr/+</text><text x="781" y="1407" font-size="18" text-anchor="middle" font-style="italic">lpr/lpr</text><text x="814" y="1407" font-size="18.6">FasC194V<tspan font-size="12.5" dy="-8.4" font-style="italic" letter-spacing="0.7">lpr/lpr</tspan></text><text transform="translate(531,1305.5) rotate(-90)" font-size="18" text-anchor="middle">Spleen wet</text><text transform="translate(555.5,1307) rotate(-90)" font-size="18" text-anchor="middle">weight (mg)</text>
</svg></body></html>
